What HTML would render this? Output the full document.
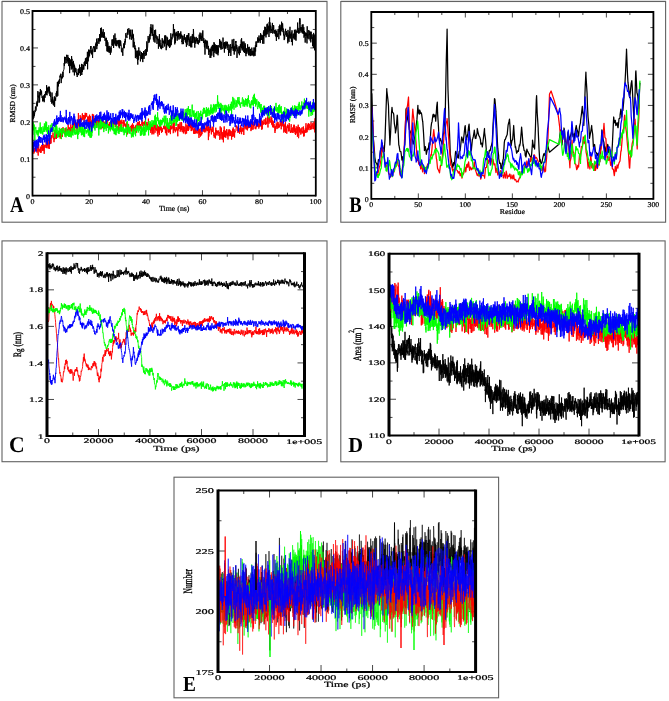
<!DOCTYPE html>
<html><head><meta charset="utf-8"><title>Figure</title>
<style>
html,body{margin:0;padding:0;background:#fff;}
svg{display:block;will-change:transform;filter:blur(0.3px);}
text{font-family:"Liberation Serif", serif;text-rendering:geometricPrecision;stroke:#000;stroke-width:0.22px;}
text[font-weight=bold]{stroke-width:0;}
</style></head>
<body>
<svg width="669" height="701" viewBox="0 0 669 701">
<rect width="669" height="701" fill="#fff"/>
<rect x="2" y="0" width="325.5" height="1" fill="#e6e6e6"/>
<rect x="341" y="0" width="325" height="1" fill="#e6e6e6"/>
<rect x="2.0" y="1.5" width="325.0" height="220.7" fill="none" stroke="#626262" stroke-width="1.1"/>
<rect x="340.8" y="1.5" width="324.8" height="220.7" fill="none" stroke="#626262" stroke-width="1.1"/>
<rect x="2.0" y="240.9" width="325.0" height="220.79999999999998" fill="none" stroke="#626262" stroke-width="1.1"/>
<rect x="340.8" y="240.9" width="324.3" height="220.9" fill="none" stroke="#626262" stroke-width="1.1"/>
<rect x="174.0" y="477.2" width="324.6" height="220.59999999999997" fill="none" stroke="#626262" stroke-width="1.1"/>
<path d="M60.83,195.7v-3M60.83,11.0v3M89.16,195.7v-5.5M89.16,11.0v5.5M117.49,195.7v-3M117.49,11.0v3M145.82,195.7v-5.5M145.82,11.0v5.5M174.15,195.7v-3M174.15,11.0v3M202.48,195.7v-5.5M202.48,11.0v5.5M230.81,195.7v-3M230.81,11.0v3M259.14,195.7v-5.5M259.14,11.0v5.5M287.47,195.7v-3M287.47,11.0v3M32.5,177.23h3M315.8,177.23h-3M32.5,158.76h5.5M315.8,158.76h-5.5M32.5,140.29h3M315.8,140.29h-3M32.5,121.82h5.5M315.8,121.82h-5.5M32.5,103.35h3M315.8,103.35h-3M32.5,84.88h5.5M315.8,84.88h-5.5M32.5,66.41h3M315.8,66.41h-3M32.5,47.94h5.5M315.8,47.94h-5.5M32.5,29.47h3M315.8,29.47h-3" stroke="#333" stroke-width="0.9" fill="none"/>
<path d="M33.00,118.2l.2,1.0.2-2.3.2-6.0.2,6.8.2-1.9.2-3.7.2,3.7.2-1.8.2-1.4.2-2.2.2,1.5.2-5.2.2,1.5.2-1.5.2,3.9.2-2.8.2-1.7.2-3.5.2,.4.2,.2.2-2.3.2,5.4.2-2.3.2-12.9.2,.8.2,5.0.2-1.2.2,1.8.2-1.3.2,6.5.2-10.5.2,2.6.2,7.4.2-5.5.2-1.0.2-3.8.2-2.9.2,6.1.2-.9.2-4.0.2,2.8.2,.7.2-2.3.2,4.8.2,1.4.2,.4.2-1.5.2,4.6.2,.4.2-2.3.2-3.4.2,5.1.2-3.7.2,3.7.2-5.7.2,7.0.2-3.6.2-4.5.2,3.8.2,.0.2-.3.2-5.3.2-1.0.2,3.6.2-2.5.2,1.6.2,.6.2-9.4.2,7.1.2,3.0.2-4.1.2-3.6.2,4.9.2-.6.2-.5.2-.7.2-4.0.2,4.5.2-1.3.2,3.4.2,.3.2-6.9.2,1.7.2,7.4.2,.3.2-4.4.2,3.3.2,2.4.2,1.4.2,3.2.2-.1.2-.6.2-1.7.2,4.1.2-11.2.2,8.4.2,.8.2-4.5.2,5.6.2-3.2.2,5.1.2-3.3.2,1.9.2,2.2.2-3.5.2-4.0.2-1.6.2,10.5.2-6.8.2-2.7.2,1.9.2-1.4.2,2.8.2-3.3.2-1.3.2-3.2.2,3.3.2-4.9.2,4.2.2,1.2.2-10.7.2-4.0.2,8.4.2,5.4.2-13.8.2-.6.2,5.0.2-5.7.2,1.2.2-1.0.2,2.9.2-4.6.2,1.5.2-2.3.2-2.7.2,1.6.2-2.5.2,2.3.2-3.4.2,.2.2,9.2.2-4.8.2-1.4.2,2.2.2-3.0.2-.3.2,2.2.2-.2.2-6.0.2,5.3.2-5.6.2-.2.2-1.1.2-.7.2-.3.2-6.2.2,2.9.2-9.1.2,4.4.2,2.4.2-4.0.2-2.6.2,1.5.2,1.1.2-.5.2,4.1.2-6.3.2-2.1.2,2.5.2,.7.2,1.6.2,.5.2,1.4.2-6.6.2,8.7.2-3.7.2-2.5.2,6.3.2,2.4.2-2.6.2-1.4.2-4.1.2,15.1.2-5.9.2-7.2.2,1.5.2,3.6.2-5.6.2,6.5.2-2.3.2,5.8.2-.8.2-12.6.2,8.0.2-5.2.2,9.8.2-2.6.2,.9.2-5.0.2,10.3.2-.1.2-11.3.2,6.0.2-3.4.2,3.6.2-2.3.2,10.6.2-9.6.2,2.8.2,3.5.2-4.3.2,2.5.2-.2.2,2.1.2-3.8.2,3.3.2,1.4.2-1.1.2,2.8.2-1.5.2,3.7.2-4.0.2,.8.2-1.0.2-.2.2-3.5.2,6.0.2-6.5.2,.8.2,3.7.2,.0.2-2.0.2-6.4.2,8.4.2-1.1.2-4.9.2,8.7.2-5.2.2-.7.2,3.3.2-2.4.2,.3.2-7.2.2,11.1.2-8.2.2-2.4.2,7.5.2-3.4.2,1.6.2-3.1.2,.7.2,.8.2-3.6.2,4.7.2-4.4.2-3.0.2,2.3.2,.5.2-1.3.2-2.8.2,5.2.2-7.5.2,2.1.2,2.9.2-5.7.2,3.4.2-.7.2,3.3.2-6.5.2,.7.2,2.8.2-9.1.2,17.5.2-13.4.2-.1.2,5.6.2-5.2.2-6.6.2,7.8.2-.1.2-6.4.2,2.8.2,2.1.2-6.0.2,3.6.2-1.4.2-2.6.2-3.2.2,2.7.2-2.9.2,6.2.2-1.6.2,3.8.2-2.8.2,.8.2-3.0.2,5.3.2,3.2.2-8.4.2-1.6.2,.0.2-1.1.2-.4.2,1.4.2-1.6.2,5.9.2-4.3.2,1.7.2,2.2.2-5.2.2,5.3.2-6.6.2-1.5.2,1.1.2,1.5.2-4.0.2,2.5.2-6.1.2,10.5.2-5.5.2,2.2.2-4.2.2,.8.2-.2.2-3.3.2-.9.2,2.4.2-1.6.2,5.0.2-.2.2-4.7.2,2.3.2-7.2.2,5.9.2-3.1.2,1.3.2,3.1.2-13.2.2,8.2.2-4.9.2,6.0.2-9.8.2,6.6.2,1.8.2,1.5.2-2.1.2-3.2.2-.4.2,5.3.2-3.2.2-4.7.2,8.7.2-2.5.2,1.2.2-2.8.2,4.0.2-5.5.2,5.9.2-1.7.2,4.3.2-.7.2-1.7.2,2.2.2,.3.2,5.2.2-1.5.2-6.8.2,6.8.2,2.9.2,3.8.2-11.0.2,3.8.2,7.4.2-9.3.2,1.6.2,6.2.2,1.7.2-5.4.2,3.9.2-1.9.2,4.6.2-4.7.2,3.2.2-5.5.2,3.4.2,1.1.2,4.3.2-1.9.2-5.3.2,5.1.2-1.1.2-3.9.2-1.4.2-.5.2-6.2.2,5.4.2,.2.2-4.8.2,5.5.2-6.7.2,2.7.2-1.8.2,8.0.2-12.7.2,7.2.2,.3.2-1.4.2,2.1.2-6.4.2-3.6.2,11.9.2-7.2.2,1.9.2-2.2.2,8.0.2-.9.2-4.6.2,5.8.2-3.6.2-1.1.2,.4.2-.8.2,3.0.2-3.9.2,.3.2,5.2.2-5.4.2,3.0.2,.4.2,3.7.2-7.5.2,8.4.2-5.4.2-.6.2-1.9.2,5.5.2-1.1.2-4.2.2,.7.2,2.0.2,1.4.2,6.7.2,.8.2-1.1.2-1.4.2-1.5.2,2.2.2,2.8.2,2.6.2-4.4.2-3.7.2,.4.2-2.9.2-1.9.2,4.4.2-3.5.2,4.0.2-6.9.2,3.4.2,.1.2-6.0.2,3.5.2-3.7.2-5.4.2,3.2.2,.2.2-.9.2,.8.2,.9.2,.6.2-5.4.2,1.8.2-5.5.2,5.2.2,.6.2-1.5.2,.0.2-.4.2-4.6.2,.7.2,2.2.2,.8.2-1.3.2,8.7.2-9.3.2,4.6.2,1.8.2-5.1.2-1.7.2,.1.2,5.5.2,4.6.2-3.4.2-.5.2-1.2.2,3.8.2-8.8.2,8.3.2-.2.2-4.0.2,13.6.2-12.7.2,4.2.2-.2.2,8.3.2-5.1.2,5.8.2,1.4.2-.1.2-3.6.2,3.6.2,9.1.2-10.0.2,1.9.2,2.8.2,2.9.2-.8.2,2.3.2-6.4.2,8.2.2,.2.2-8.5.2,10.8.2,3.1.2-10.2.2,1.8.2,3.4.2-10.0.2-2.2.2,2.3.2,2.3.2,.1.2,3.5.2-1.4.2-3.4.2,5.7.2,4.9.2-2.1.2-.6.2-3.8.2,3.7.2-6.6.2,6.4.2-1.5.2,.8.2,1.5.2-6.1.2,4.2.2,4.8.2-8.1.2,1.5.2-1.3.2-3.2.2,7.6.2,.4.2-1.0.2-3.1.2-1.9.2,.1.2-3.0.2,4.8.2,.8.2-1.0.2-5.6.2,.5.2-.5.2,6.2.2-6.0.2-7.9.2,6.8.2,3.5.2-4.1.2,.2.2-3.8.2-7.9.2,.0.2,1.3.2,4.2.2,1.2.2,.1.2-5.0.2,3.7.2-5.4.2-1.9.2,5.1.2-6.0.2-6.3.2,5.1.2,3.9.2-11.9.2,8.9.2,.2.2-4.0.2-1.5.2,2.4.2-1.5.2,7.1.2-4.3.2-6.9.2,3.7.2,6.2.2,5.1.2-5.5.2,.3.2,7.3.2-6.6.2-.9.2-4.1.2,3.1.2,9.4.2-11.4.2,4.2.2-5.7.2,5.5.2,2.9.2-2.7.2,3.8.2-.4.2-.2.2,5.3.2-2.7.2-3.7.2-.5.2-.6.2,3.7.2-1.3.2,9.9.2-2.7.2-6.6.2-.1.2,7.3.2-12.4.2,5.9.2,5.4.2-5.7.2,2.7.2,1.6.2,4.2.2-.9.2,.9.2-.7.2-2.0.2,3.6.2-6.4.2-2.9.2-1.7.2,.9.2,4.4.2,4.5.2-2.6.2-2.7.2-1.9.2,2.3.2,.3.2-.7.2-3.1.2,2.0.2,4.9.2-10.9.2,5.8.2-6.0.2,8.2.2-3.4.2-4.5.2,8.0.2,6.5.2-6.3.2,3.8.2-3.6.2-7.3.2,8.4.2-3.6.2-3.8.2,7.1.2-.3.2-3.3.2,5.0.2-5.9.2,5.5.2-5.8.2,1.3.2-1.9.2,8.4.2-4.6.2,3.8.2-7.3.2,1.2.2,4.6.2-12.3.2,5.1.2,6.7.2-3.0.2,.0.2-4.8.2,2.0.2-2.9.2-1.7.2-.9.2,2.9.2,.7.2-2.0.2-11.2.2,4.4.2,4.1.2,3.0.2-2.6.2,.3.2-4.3.2,15.3.2-10.6.2,9.2.2-1.0.2-5.4.2-3.4.2,2.3.2-3.7.2,3.9.2-1.5.2,2.2.2,1.1.2,3.2.2-7.2.2,4.7.2-6.8.2,.0.2,.8.2-1.2.2,6.6.2,.3.2,1.7.2-5.3.2,1.3.2-2.2.2,.1.2,5.0.2-.3.2-5.3.2,5.6.2-7.1.2,5.1.2-.6.2,1.3.2-2.6.2,7.4.2-1.3.2,3.5.2-3.1.2-5.3.2,3.3.2-3.4.2,5.6.2,2.8.2-2.8.2-2.9.2,.3.2,.9.2-5.5.2,5.2.2,.1.2-.7.2,1.3.2,2.0.2-4.2.2-.6.2,5.9.2-1.1.2,4.8.2-5.7.2-5.8.2,9.9.2-1.2.2-9.0.2,1.2.2,5.5.2-5.6.2,3.9.2-6.6.2,5.7.2-6.0.2,6.6.2,6.4.2-6.6.2,2.9.2-3.6.2-.7.2-.9.2,8.7.2-4.8.2,6.2.2-11.2.2,5.2.2-.3.2,5.0.2,1.3.2-8.2.2-3.4.2-1.5.2,8.9.2-5.0.2-.9.2,1.1.2-9.3.2,3.1.2,10.6.2-.6.2-5.3.2,1.0.2,5.8.2,4.1.2-10.0.2,3.6.2-1.0.2,3.3.2,.3.2-.3.2-6.7.2,4.2.2-1.8.2,1.6.2-.9.2,2.5.2-4.3.2,1.0.2,4.7.2-3.9.2,.5.2,3.9.2-3.1.2-1.4.2-.2.2-5.1.2,5.4.2,2.6.2-3.3.2-6.7.2,6.7.2-3.7.2,1.9.2,1.2.2-5.4.2,7.7.2-5.2.2,3.4.2-.3.2,2.0.2-.1.2-8.4.2,5.6.2-7.6.2,6.1.2,4.1.2,.8.2,1.6.2-4.9.2,3.8.2,.3.2,4.4.2,.8.2-6.8.2,14.0.2-12.0.2-2.9.2,3.9.2-.3.2-.2.2-2.6.2,7.0.2-5.8.2,6.5.2,.9.2-8.4.2,2.1.2-.4.2,5.2.2,.6.2,1.2.2-3.5.2,5.1.2,4.0.2-6.5.2,1.4.2,1.9.2-1.3.2,.5.2,6.8.2-1.6.2-2.2.2-5.3.2,9.2.2-6.6.2-4.4.2-.3.2,.0.2,9.0.2-6.4.2,.0.2-4.3.2,6.3.2-6.0.2-.2.2,5.6.2-4.9.2,5.6.2,5.8.2-15.0.2,5.9.2-4.8.2,5.9.2,3.7.2-8.7.2,7.0.2-2.6.2-2.9.2,4.4.2,3.6.2-8.5.2,5.0.2-4.9.2,9.0.2-3.7.2-1.7.2,4.9.2-8.3.2,3.6.2,6.3.2-7.1.2,4.3.2-4.0.2-3.4.2,1.5.2,.8.2-1.9.2-6.4.2,4.3.2-2.0.2,5.1.2,.7.2,1.0.2-7.5.2,9.0.2-2.6.2-5.1.2,4.8.2,1.8.2,.1.2-.5.2,.9.2-.2.2-3.3.2-8.0.2,4.0.2,4.5.2-3.2.2,4.6.2,.8.2-2.2.2,6.5.2-10.6.2,6.1.2-4.2.2-1.7.2,5.9.2-4.4.2,5.1.2-7.4.2,4.6.2-3.3.2,2.2.2-1.0.2-1.5.2,5.3.2-5.9.2,1.3.2,6.9.2-.2.2-.2.2-.3.2,6.7.2-11.6.2,1.5.2-.4.2,5.9.2-1.6.2,3.1.2-1.3.2-5.6.2-1.7.2-.3.2,12.0.2-3.9.2-1.4.2-3.8.2,.6.2-.7.2-.4.2-6.9.2,8.8.2-.9.2-3.0.2,4.8.2,1.6.2-3.8.2,3.4.2-11.5.2,5.9.2,9.8.2-8.0.2,1.0.2,4.2.2-5.5.2,4.7.2-7.7.2-2.0.2,1.4.2-1.7.2,6.2.2-2.5.2,4.5.2-4.1.2,12.8.2-8.0.2-.1.2,1.3.2-2.3.2-1.4.2,2.5.2,3.5.2-1.4.2,1.0.2-6.0.2-1.1.2,9.3.2-8.1.2,2.4.2,.8.2,2.7.2-8.8.2,2.0.2,.9.2-.9.2-6.7.2,8.5.2-9.8.2,10.8.2,.5.2,1.0.2-8.1.2,7.1.2-8.0.2,.5.2,2.1.2,1.4.2,4.1.2,2.4.2-10.5.2,6.2.2,5.3.2-3.0.2,.2.2-7.1.2,9.2.2-7.7.2,6.9.2,3.3.2,1.4.2-3.8.2,1.2.2-4.7.2-.7.2,5.4.2-4.0.2-.7.2-4.6.2,4.4.2,3.0.2-4.6.2,.2.2,8.0.2-4.6.2-1.0.2-2.9.2,1.4.2,.9.2,6.0.2-6.0.2,7.0.2-7.2.2,2.7.2,4.2.2-3.1.2-1.5.2,2.4.2,1.7.2-7.7.2,4.2.2-.4.2,.0.2,4.0.2-4.6.2,1.1.2,1.2.2,1.6.2-3.3.2,4.9.2-8.8.2,7.8.2-7.5.2,1.2.2,1.3.2,5.6.2-5.0.2-5.6.2,6.2.2-6.3.2-3.7.2,3.6.2-.5.2,2.4.2-5.4.2,.8.2-.2.2-1.0.2-2.1.2-1.8.2,5.5.2-2.6.2,2.0.2-3.6.2,.6.2-3.7.2,3.7.2,1.1.2-1.6.2,2.6.2-2.1.2,3.9.2-5.7.2-4.3.2,6.8.2-1.8.2-3.5.2,5.2.2-1.2.2-.1.2-3.1.2,1.7.2,.9.2,5.6.2-8.3.2,1.9.2,1.3.2-6.8.2-.2.2,12.3.2-13.7.2,6.0.2-5.4.2,.1.2-4.1.2,2.9.2,5.8.2-8.3.2,6.1.2-.3.2,4.5.2-8.7.2,5.7.2-1.4.2-4.4.2-4.3.2,10.0.2-10.6.2,3.5.2,3.9.2,1.2.2-6.6.2,2.4.2-.9.2,4.9.2,4.9.2-15.1.2,9.3.2-13.7.2,9.8.2-4.9.2,10.8.2-6.2.2-1.5.2,1.6.2-.3.2,3.3.2-.9.2,2.1.2,1.7.2-1.8.2-6.0.2-2.3.2,3.7.2,7.1.2-5.0.2-.3.2,1.8.2-5.1.2,1.4.2,6.4.2-2.3.2-.2.2,3.2.2-3.4.2,.8.2,.6.2,4.2.2-1.8.2-4.4.2,7.3.2-.8.2,4.8.2-9.9.2,4.2.2-2.0.2,3.4.2-2.1.2,2.6.2-3.2.2-4.0.2-.9.2,3.2.2,.1.2,6.9.2-3.2.2-10.0.2,6.2.2-6.3.2-1.3.2,9.7.2-.7.2-5.9.2,7.7.2-8.7.2-1.5.2,6.2.2-1.9.2-7.8.2,7.2.2,.9.2-.6.2,.3.2-6.2.2,2.2.2,6.6.2-3.6.2,4.7.2,2.2.2-4.2.2,2.5.2,6.4.2-5.2.2,4.2.2-1.9.2-2.1.2-3.4.2-2.1.2-.8.2,5.8.2,.4.2-2.0.2,3.6.2-5.6.2,4.9.2-2.3.2,.4.2-.5.2,1.3.2,8.5.2-13.4.2,6.6.2,3.8.2-1.2.2-4.2.2,7.0.2-9.7.2-.8.2,6.2.2-7.2.2-3.6.2,11.8.2-.9.2,.2.2-3.9.2,2.2.2-3.7.2,9.5.2-3.7.2,.0.2-8.0.2,8.4.2,6.6.2-6.0.2-.2.2-3.8.2-1.2.2,3.7.2-1.4.2-.6.2-2.4.2,6.0.2-9.6.2,4.4.2-2.1.2,5.6.2,1.9.2-4.9.2,2.2.2-7.3.2,11.1.2-6.8.2-2.7.2,.7.2-1.2.2,1.7.2,.5.2-2.4.2-7.9.2,7.9.2,1.7.2-.4.2-1.9.2,1.9.2,1.9.2-5.8.2,5.2.2-11.5.2-3.2.2,5.5.2-5.5.2,4.2.2,8.0.2-.9.2-2.5.2,5.5.2-4.0.2-1.4.2,2.1.2-1.4.2,3.9.2-7.2.2,8.8.2-5.8.2,3.8.2-7.2.2,5.2.2,1.6.2,2.7.2-6.6.2,10.5.2-3.3.2-3.4.2,5.1.2-2.3.2,3.6.2,5.2.2-6.2.2-3.9.2,.2.2,3.0.2,.0.2-2.8.2,.3.2,5.0.2,5.2.2-17.1.2,11.4.2-3.1.2,4.0.2-.2.2-1.9.2-2.9.2-1.3.2-2.3.2,9.3.2-4.5.2-1.2.2,1.4.2-3.9.2,6.0.2,3.8.2-.2.2-8.7.2,10.4.2-6.4.2-4.3.2,3.0.2,1.1.2,3.1.2-4.0.2-.5.2,4.5.2,7.2.2-8.8.2,4.1.2-1.5.2,8.1.2-15.1.2,10.3.2-8.0.2,3.2.2,1.1.2,10.8.2-13.0.2-3.0.2,11.4" fill="none" stroke="#000" stroke-width="1.0" stroke-linejoin="bevel"/>
<path d="M33.00,149.6l.2-1.4.2-.7.2-5.3.2,11.5.2-1.9.2-3.4.2,3.9.2-1.2.2-2.6.2,2.6.2-2.4.2-.3.2-2.5.2,3.7.2-.4.2,1.6.2-3.9.2,3.6.2-2.5.2,4.7.2-1.3.2-1.2.2,.2.2-4.0.2,6.4.2,2.8.2-10.4.2-1.2.2,.2.2,6.4.2-1.7.2,2.4.2,.3.2-1.3.2,.4.2-.6.2,2.8.2-6.2.2,.6.2,1.9.2,3.5.2-6.1.2-1.6.2-.1.2,4.2.2-2.5.2,4.0.2-8.5.2,8.1.2,.7.2-6.7.2,4.0.2,2.2.2-4.3.2,3.4.2,4.3.2-6.6.2-1.2.2-1.3.2,3.3.2-2.6.2,.4.2-.8.2,1.6.2-4.7.2-1.3.2-2.6.2,9.9.2-2.8.2,3.2.2-4.1.2-2.3.2,4.2.2-2.6.2-5.3.2,3.4.2,6.9.2-4.1.2-.3.2-1.6.2-2.0.2,8.5.2-7.2.2-2.9.2,1.7.2-2.6.2,3.0.2,2.8.2-5.4.2,5.0.2-5.8.2,.9.2-3.3.2,2.6.2,.4.2-.7.2-1.3.2-.4.2-1.5.2-1.8.2,3.0.2,1.8.2,1.2.2-.9.2,4.6.2-6.1.2-2.3.2,5.7.2-9.4.2,5.9.2-3.9.2,4.1.2-5.1.2,7.6.2-4.0.2-3.1.2,7.4.2-2.4.2-2.3.2-1.9.2,1.1.2-.2.2,2.0.2,.2.2-3.4.2,.0.2,.7.2-1.7.2,1.2.2,2.5.2,.8.2,1.3.2-5.5.2,1.9.2-2.1.2,7.4.2-6.0.2,1.5.2-3.9.2,.1.2,3.3.2-2.1.2,1.9.2-5.1.2,6.4.2-3.7.2,5.8.2-6.8.2,3.7.2-6.6.2,4.3.2-3.2.2,1.6.2,1.7.2,.1.2,.7.2,1.3.2,.9.2-1.8.2-4.4.2,1.5.2,2.3.2-4.1.2,7.8.2-6.6.2,3.0.2,2.8.2-.2.2-2.1.2-3.6.2,2.2.2,1.1.2-3.5.2,5.5.2-2.5.2-7.5.2,6.9.2-4.0.2,6.1.2-.5.2-4.8.2-.7.2,2.1.2-.7.2,4.9.2-1.7.2-3.0.2,2.2.2-6.8.2,6.0.2,1.1.2-3.0.2-1.3.2,3.6.2,3.5.2-6.1.2-2.5.2,7.1.2-8.9.2,5.4.2-2.3.2,2.8.2-3.5.2,4.3.2-2.4.2-5.0.2-2.1.2,4.8.2,4.4.2-3.7.2,.0.2-1.4.2,2.6.2-1.9.2,.2.2-3.2.2,6.0.2-.2.2-6.3.2,10.6.2-4.9.2-3.2.2-5.4.2,7.0.2,.0.2-4.1.2-9.4.2,12.5.2-4.8.2,.2.2,9.0.2-2.9.2-3.3.2-4.2.2,3.1.2-7.4.2,6.2.2-3.2.2-.9.2-.7.2,5.2.2-2.7.2-.5.2,1.8.2-.5.2-5.4.2-1.2.2,3.6.2,2.8.2-2.0.2,2.0.2-4.7.2,2.6.2-.1.2-1.8.2,8.2.2-3.6.2-5.0.2,.4.2,1.8.2-4.7.2,5.7.2-4.9.2,2.6.2-1.2.2,1.9.2-2.1.2-1.8.2,2.3.2,.6.2,.4.2,.0.2,5.3.2-1.6.2-2.5.2,3.3.2-3.8.2,5.0.2-1.7.2-4.4.2,6.1.2,1.1.2-8.4.2,4.5.2,.3.2-3.4.2,2.3.2,.3.2,4.4.2-.2.2,5.8.2-8.2.2,3.6.2-3.0.2-.2.2-4.9.2-2.1.2,3.1.2,5.0.2,.5.2,.4.2,.0.2-8.4.2,10.3.2-.5.2-5.1.2,1.7.2-2.3.2,7.8.2-3.0.2-2.4.2,1.6.2-.2.2-2.0.2-1.4.2-.4.2-1.2.2,6.4.2,4.2.2-10.3.2,5.4.2,1.3.2-3.1.2,3.5.2-3.4.2,5.2.2-6.6.2,1.6.2,2.8.2-2.7.2-5.0.2,3.5.2,4.1.2-3.2.2,1.6.2-3.9.2,4.3.2,1.9.2,.3.2,4.1.2-5.5.2-3.2.2-.6.2,7.6.2-2.8.2,2.9.2-2.4.2,2.8.2-1.7.2-4.9.2,2.1.2,3.1.2-5.6.2,7.5.2-1.0.2-.3.2-3.8.2,1.5.2-3.3.2,3.0.2-2.1.2,1.6.2-1.2.2,1.9.2,1.6.2-6.9.2,5.6.2-6.7.2-.4.2,4.6.2,.7.2,1.8.2-5.4.2,4.1.2,.6.2,3.3.2-3.1.2,1.8.2-2.7.2,1.6.2,.1.2,2.7.2-5.9.2-.4.2,2.6.2,2.4.2-2.7.2-.4.2-1.2.2,3.4.2-1.3.2,2.7.2-3.0.2-3.5.2,.9.2-1.1.2,.7.2,7.0.2-.8.2-6.5.2,7.6.2-3.9.2-4.4.2,4.6.2-1.1.2-1.9.2-3.3.2,5.2.2,.3.2-6.8.2,8.8.2,.8.2-3.3.2,.8.2-.3.2-2.4.2,2.6.2,3.3.2-7.0.2,3.6.2-.3.2-2.4.2,.6.2-3.1.2,2.0.2,2.0.2,.8.2-4.7.2,10.9.2-10.8.2,2.7.2-.4.2-.6.2,4.9.2-4.6.2,5.4.2-.5.2-5.9.2,5.5.2-4.8.2,10.4.2-8.2.2-1.5.2-2.1.2,1.4.2,1.7.2-.6.2,.0.2,1.8.2,.3.2,4.6.2-8.5.2,3.5.2-1.6.2-2.1.2,.8.2,.6.2,4.0.2-2.1.2-.1.2,3.4.2,.0.2-2.0.2,2.3.2-3.2.2,3.4.2-.5.2-2.7.2-2.1.2,7.2.2-2.8.2,8.0.2-11.1.2,4.6.2-3.0.2,1.9.2,2.4.2-4.9.2,1.6.2,2.0.2-.1.2,1.8.2,1.5.2-.2.2-1.5.2-1.8.2-1.4.2,.7.2,.6.2,3.7.2-3.1.2-3.3.2,6.6.2-4.2.2,.2.2,.3.2,6.7.2-11.0.2,2.3.2,1.7.2-1.4.2-1.1.2,1.4.2,5.8.2-5.0.2,3.4.2,.3.2-3.4.2,2.3.2-2.7.2-.1.2-1.3.2,5.0.2-2.9.2-1.1.2-1.8.2,7.9.2-4.1.2-2.5.2-.9.2-1.8.2,4.1.2-.5.2-5.2.2,7.0.2-.9.2-5.6.2,1.6.2,.5.2,1.7.2-1.1.2-4.0.2,7.4.2-2.7.2,2.9.2,.0.2-4.5.2,2.4.2,1.9.2-1.2.2-2.2.2-1.0.2,.1.2-1.7.2,1.2.2-3.4.2,5.7.2-3.4.2,1.0.2,1.7.2,3.7.2,1.8.2-4.8.2-4.0.2,2.7.2-1.6.2,2.6.2-4.2.2,.6.2,.1.2,.3.2-2.3.2,2.3.2,1.1.2,3.4.2-5.0.2,.4.2,2.9.2,.5.2,1.7.2-2.3.2-1.1.2,2.7.2,1.4.2-6.1.2,2.1.2-5.5.2,4.4.2-.1.2,1.9.2-.7.2,1.8.2-.2.2,1.6.2-.2.2-1.9.2-1.1.2,7.4.2,1.4.2-5.4.2,3.1.2-6.5.2,.3.2,4.3.2,5.8.2-8.1.2,.2.2,6.8.2-10.3.2,7.1.2-.2.2-2.3.2,.6.2,6.0.2-9.8.2,3.0.2,.3.2,.5.2-3.0.2,7.5.2-3.3.2-6.2.2,3.2.2,3.5.2,.1.2-5.2.2,4.2.2,1.2.2,.7.2,.2.2-6.6.2,9.2.2-4.6.2,4.5.2,2.8.2-7.4.2-2.8.2,6.3.2-2.9.2-1.3.2-1.1.2,7.5.2-6.4.2-3.0.2,4.3.2-4.3.2,4.3.2-1.6.2-1.8.2,4.3.2-3.7.2,5.2.2,.9.2-4.7.2-.3.2,2.3.2,1.6.2-2.7.2-.6.2,.3.2,.2.2-.6.2-2.7.2,1.1.2,1.7.2-2.3.2,3.0.2-3.4.2,.8.2-1.2.2,.2.2,7.3.2-1.1.2-5.1.2,.4.2,7.0.2-.6.2-4.0.2,5.8.2-11.7.2,3.9.2,1.2.2-6.7.2,3.1.2,4.8.2,2.0.2-4.9.2,3.1.2,2.6.2-5.4.2-2.0.2,4.4.2-1.9.2,4.2.2-3.1.2-2.8.2,7.9.2-8.9.2,2.0.2,.8.2-.4.2-.2.2,1.9.2-6.6.2-.2.2,4.2.2,1.0.2,.8.2-.2.2-2.2.2,7.1.2-.3.2-10.5.2,6.3.2-1.3.2-5.1.2,8.2.2-2.2.2,.1.2-1.3.2,5.2.2-.4.2-2.2.2,.7.2-1.5.2,.0.2-1.5.2,2.3.2-2.2.2,2.4.2,1.3.2-1.8.2,1.8.2,5.1.2-12.4.2,6.6.2-2.5.2-.8.2-3.1.2,4.6.2,.0.2-2.0.2,2.1.2-1.0.2-5.4.2,9.3.2-3.2.2-1.8.2,3.3.2-3.1.2-4.9.2,8.3.2-7.8.2,4.6.2,.6.2,4.4.2-1.4.2-1.6.2-3.1.2,.5.2,4.4.2,2.5.2-3.4.2-3.5.2,5.8.2-5.5.2,.8.2,.0.2,3.4.2-.9.2,3.6.2,.5.2-3.0.2-7.8.2,1.0.2,4.7.2-.4.2,4.9.2-5.9.2-2.6.2,5.7.2-.1.2-4.3.2,2.3.2-5.0.2,.8.2,6.4.2-7.6.2,6.4.2-1.1.2-1.3.2-.1.2-1.7.2-6.6.2,3.0.2,1.6.2,4.6.2-4.4.2,1.3.2,1.0.2,5.1.2-6.2.2,.3.2,5.6.2-7.5.2,6.2.2-3.0.2-2.8.2,3.2.2-1.5.2,4.7.2,.3.2,3.3.2-4.2.2,1.1.2-2.1.2,2.7.2,2.6.2-6.1.2,5.9.2-3.6.2,2.1.2,.5.2,.8.2-2.2.2-1.5.2,3.1.2-1.3.2-.3.2,.5.2,1.9.2-2.8.2-.3.2-3.8.2,2.9.2-6.4.2,9.6.2-4.5.2,5.7.2,4.0.2-9.2.2,5.7.2-2.4.2-2.6.2-.1.2,4.3.2,2.9.2-3.1.2-5.7.2,.1.2,1.9.2,4.2.2,1.4.2-3.3.2,2.0.2-3.2.2-.6.2-.8.2-4.9.2,5.6.2-.1.2,1.3.2-6.0.2,2.1.2,4.0.2-2.1.2,3.0.2-5.5.2,3.3.2-2.4.2,2.5.2-2.2.2,3.3.2,.9.2-2.5.2-6.3.2,6.9.2-1.0.2-2.9.2,.5.2,3.6.2,.4.2-2.6.2-2.9.2,5.6.2-.9.2,9.9.2-13.8.2,10.3.2-3.1.2-4.9.2,4.2.2-3.9.2,2.4.2-4.2.2,2.9.2-3.9.2-1.0.2,4.4.2-.7.2,3.4.2,2.2.2-5.0.2,.3.2,1.1.2-4.1.2,5.4.2-1.2.2-.3.2-2.3.2-1.2.2,4.9.2,1.0.2,3.0.2-.5.2,2.2.2-2.9.2,1.8.2-4.0.2,1.3.2,.1.2,4.5.2-3.1.2-7.7.2,7.4.2-5.1.2,3.0.2-.6.2-1.9.2,4.9.2-1.6.2-2.7.2,1.4.2-1.5.2,2.6.2-3.3.2,1.0.2,1.1.2,1.6.2,1.9.2-4.0.2,1.6.2,1.6.2,4.8.2-2.7.2-10.8.2,6.2.2,.9.2,2.6.2,2.6.2-2.6.2-8.5.2,7.0.2,.6.2,1.5.2,3.0.2-6.1.2,5.5.2-7.2.2,4.2.2,.1.2,6.1.2-9.5.2-2.8.2,6.0.2-9.6.2,10.8.2-5.9.2,.0.2,5.3.2-2.5.2,2.7.2-6.1.2,7.1.2-6.2.2,3.6.2-4.4.2-1.8.2,3.3.2,.6.2,3.3.2-3.5.2,2.0.2-.6.2,5.4.2-10.0.2,5.7.2-3.0.2,1.7.2-2.2.2,4.5.2-6.7.2,.1.2,2.6.2-2.3.2,6.0.2,.1.2-5.0.2,3.8.2-3.5.2,2.1.2,1.0.2,5.2.2-5.2.2-2.5.2-1.1.2,6.0.2-7.9.2,4.4.2,.8.2-6.6.2,4.7.2,4.3.2-3.7.2-3.7.2,4.5.2-.1.2,4.1.2-6.9.2,.6.2,1.0.2-.8.2-.2.2-.6.2-1.9.2-2.5.2,1.2.2-2.0.2,.7.2,1.2.2,3.0.2,.8.2-4.4.2,4.5.2,1.7.2-1.9.2-4.3.2-1.7.2,6.9.2,.0.2-1.0.2-2.7.2,5.6.2-.8.2-2.9.2-.9.2-3.8.2,6.4.2-2.9.2,3.1.2-.1.2-1.8.2,4.0.2-6.9.2,2.7.2,1.1.2-1.4.2-1.4.2,3.4.2-2.4.2-1.5.2-.2.2,1.4.2,6.0.2-6.4.2-.6.2-1.9.2-.9.2-1.6.2,5.7.2-.5.2-3.9.2-.5.2,3.4.2-.8.2-2.2.2,4.4.2-.8.2-1.0.2,2.2.2-4.3.2,5.1.2-7.1.2,4.0.2,1.1.2-2.2.2,1.6.2-4.6.2-.9.2,2.6.2-.2.2,3.1.2-2.4.2,2.0.2-.5.2-.6.2-1.1.2-1.9.2,1.0.2,6.8.2-10.5.2,5.5.2,2.9.2-2.2.2,3.1.2-2.1.2-3.9.2,1.3.2-2.7.2,5.4.2,1.6.2-5.4.2,2.4.2-2.9.2-2.0.2,3.7.2-3.2.2,2.5.2,1.7.2,1.7.2,.9.2-2.1.2,1.0.2,1.4.2,.1.2-10.4.2,4.4.2,4.0.2-5.6.2,3.7.2,.9.2-5.7.2,5.9.2-.2.2-.4.2-3.5.2,4.6.2-2.7.2,4.3.2-.9.2-3.6.2,2.6.2-2.9.2,1.0.2-3.3.2,2.0.2,2.9.2-1.1.2-.1.2-1.7.2-.5.2,4.0.2-7.4.2,10.2.2-6.6.2,5.7.2-3.4.2-4.7.2,4.3.2-2.0.2,.8.2,.5.2-2.8.2-1.0.2,.6.2-1.9.2,4.5.2,.3.2-.6.2-.2.2-.7.2,2.4.2-7.2.2,4.0.2-.6.2,2.3.2-.3.2,1.1.2-2.2.2,1.2.2-5.5.2,3.8.2-5.3.2,8.2.2,3.0.2-6.8.2-1.4.2-1.7.2,1.9.2,4.2.2-1.1.2-5.3.2,3.5.2-1.7.2,2.1.2,1.1.2-1.1.2,.9.2,.1.2-5.7.2,6.5.2-1.6.2,2.7.2-6.4.2,7.5.2-5.0.2,3.8.2,2.9.2-5.9.2-.2.2,6.9.2-6.1.2,.4.2,5.0.2-3.0.2,3.1.2-.2.2,.0.2,3.0.2,3.1.2-7.2.2,4.9.2-1.7.2-2.1.2,.4.2-4.0.2,.7.2,2.7.2-1.3.2,3.7.2-7.5.2,3.1.2-.8.2,1.5.2,2.9.2-6.1.2,5.5.2-3.5.2,.7.2,2.9.2-2.9.2,2.1.2-1.2.2-2.1.2,.0.2-3.1.2,2.2.2,3.0.2-.1.2-3.5.2,7.1.2-2.0.2-5.2.2-.3.2,4.2.2-5.5.2,3.4.2,1.9.2-.3.2,.4.2,.9.2-2.9.2,.6.2,8.1.2-8.9.2,2.0.2,1.2.2-1.8.2,6.4.2-2.6.2,2.7.2-9.4.2,10.8.2-1.6.2-4.9.2,4.1.2-2.0.2,2.1.2,3.0.2-4.5.2-3.5.2,2.1.2-3.2.2,2.2.2,.4.2-.4.2,4.6.2-1.3.2-4.8.2,5.5.2-7.8.2,2.9.2,.5.2,4.9.2-1.0.2,.3.2,2.3.2-1.8.2,1.8.2-5.7.2-3.0.2,3.3.2,4.6.2-1.0.2,1.2.2-.3.2-1.2.2,1.7.2-4.9.2,5.4.2-5.7.2,2.4.2-4.1.2,5.0.2-6.0.2,7.6.2-6.9.2,6.1.2-1.4.2-1.5.2,5.6.2-5.1.2,6.0.2-6.5.2,1.2.2-3.4.2,6.8.2,.3.2-2.0.2-.2.2-3.6.2,9.1.2-3.3.2-6.6.2,4.5.2-6.6.2,11.9.2,1.6.2-1.7.2-3.2.2-2.2.2-4.0.2,5.3.2-3.5.2,.5.2-.9.2,.7.2,2.3.2,3.1.2-4.1.2,1.4.2-3.3.2-.3.2-.7.2,5.9.2-2.6.2,2.2.2-.9.2-2.0.2-3.0.2,1.7.2-2.4.2,9.9.2-4.0.2-2.1.2,6.0.2-5.6.2,1.8.2-1.8.2,.9.2-3.1.2,1.5.2,2.8.2-7.2.2-2.4.2,9.4.2-3.6.2,2.1.2-3.4.2,3.9.2,.6.2-7.0.2,4.5.2-3.2.2-2.8.2,4.0.2,1.6.2-6.1.2,.6.2,6.4.2-3.3.2,.9.2-3.6.2,1.5.2,2.1.2-.6.2-1.1.2,3.6.2-3.2.2-4.2.2,2.2.2,1.8.2,3.0.2-4.6.2,.8.2,1.2.2-2.6.2-.8.2,2.0.2,3.8.2-2.2.2,1.9.2-2.8.2-3.7.2,6.5.2,.6.2-.6.2-6.2.2,9.8.2-14.1.2,5.1" fill="none" stroke="#f00" stroke-width="1.0" stroke-linejoin="bevel"/>
<path d="M33.00,134.8l.2-12.7.2,8.2.2-3.0.2,1.6.2,.7.2-5.1.2,3.7.2-.3.2,12.4.2-9.0.2-1.8.2-.3.2-1.6.2-.7.2,2.6.2,3.2.2-2.1.2,2.9.2-2.8.2,1.1.2,3.3.2-2.2.2-2.6.2,2.1.2,1.2.2,3.1.2-5.7.2-1.1.2,3.4.2-5.9.2,1.2.2,2.4.2-.6.2-.4.2,2.2.2-9.7.2,11.0.2-4.7.2-1.8.2,6.3.2-.1.2-3.1.2-2.7.2,3.4.2-.1.2,3.4.2-1.7.2-.8.2,3.0.2-8.2.2,1.7.2,3.9.2-.8.2-2.1.2-.8.2,3.2.2-8.1.2,8.4.2-.3.2-6.3.2,3.6.2-4.0.2,5.1.2-8.4.2,4.7.2,4.8.2,.7.2-9.8.2,6.1.2,1.7.2-2.1.2,6.6.2-7.1.2,4.6.2-4.6.2,7.3.2-4.3.2-.6.2-4.2.2,11.0.2-3.2.2,.0.2,3.7.2-5.7.2-3.1.2-.4.2,.4.2,5.7.2-8.9.2,3.3.2,.5.2,1.0.2,1.8.2-4.9.2-3.3.2,4.8.2,4.2.2-.7.2-2.0.2-.4.2,1.0.2-1.7.2,3.1.2-4.7.2,3.3.2-.1.2,1.7.2-.1.2,6.1.2-3.3.2,1.1.2-10.4.2,5.4.2-1.3.2,2.9.2-8.3.2,10.1.2-.7.2-6.8.2,1.4.2,1.2.2,2.4.2,2.0.2,4.5.2-7.5.2,1.6.2-.5.2,5.4.2-3.1.2,1.9.2-7.9.2,1.6.2-1.5.2,5.8.2-1.6.2-3.1.2-.1.2,4.1.2-2.2.2-1.1.2,4.6.2,4.8.2-8.4.2-.6.2-.9.2-1.1.2,5.7.2,.9.2-3.4.2,.9.2,.4.2-.1.2-4.5.2,3.5.2,1.0.2-1.8.2,1.8.2-.2.2,1.9.2,2.6.2-4.4.2,.0.2,2.1.2-1.0.2,3.8.2-10.0.2,7.9.2-3.3.2,.8.2,1.8.2,.1.2-1.1.2-2.2.2,4.6.2-5.6.2,.3.2,2.3.2-3.6.2,7.7.2-2.8.2,2.8.2-5.9.2-.4.2,2.7.2,2.4.2-3.8.2,2.3.2-2.4.2,4.9.2-5.4.2,6.1.2-6.8.2-1.3.2,.7.2-1.9.2,4.1.2,2.7.2-2.8.2,1.5.2,1.9.2-4.4.2-.6.2-.4.2-4.8.2,7.0.2-6.5.2,7.0.2-1.2.2,2.8.2-3.1.2-1.6.2,4.8.2-2.5.2,1.7.2,.2.2-.9.2,.6.2-2.0.2,2.3.2-5.7.2,6.6.2-2.1.2,5.3.2,1.0.2-9.8.2,5.7.2-1.5.2-2.8.2,3.3.2-3.8.2-4.5.2,4.3.2,.8.2,1.0.2-3.9.2,4.7.2-1.1.2-5.2.2,1.4.2,1.9.2-.6.2,6.3.2-4.8.2-5.3.2,1.1.2,2.1.2,6.4.2-6.7.2,.2.2-3.6.2,4.6.2,7.2.2-7.5.2,5.9.2-3.3.2,1.2.2-3.8.2,8.1.2-5.3.2-.1.2-3.3.2-1.3.2,2.6.2,2.5.2,.5.2,.9.2-1.4.2-1.6.2,1.6.2,.6.2-2.9.2,1.9.2-.2.2-1.6.2-1.5.2,4.3.2,2.7.2-5.8.2,.4.2,.0.2,5.4.2-7.5.2,6.9.2,1.7.2-5.7.2,7.0.2-3.0.2-3.3.2,1.9.2-6.2.2,2.6.2,7.7.2-9.1.2,7.7.2-5.3.2,1.8.2-3.1.2-7.9.2,4.4.2,1.4.2-4.4.2-.6.2,5.0.2-2.9.2-4.5.2,4.4.2,4.5.2-4.5.2,3.9.2,2.1.2-4.8.2-3.5.2-.6.2,4.3.2,2.2.2-1.3.2,1.1.2-2.9.2,3.0.2-2.4.2-.5.2-2.6.2-.8.2,3.1.2-1.8.2,2.0.2,4.5.2-2.2.2,8.2.2-5.1.2-5.0.2,3.2.2-3.3.2-3.0.2,6.9.2-6.8.2-7.1.2,11.6.2-3.4.2,5.0.2-6.5.2-.9.2,7.4.2-7.8.2,3.5.2,2.9.2-3.5.2,.0.2-.2.2,2.5.2-3.7.2,4.4.2,.7.2,4.8.2-6.8.2-2.2.2,6.1.2-3.7.2,1.4.2-1.0.2,2.8.2-5.4.2,1.4.2-7.1.2,5.5.2,7.8.2-6.6.2,.9.2-2.2.2,4.6.2-1.7.2-3.3.2,4.6.2-1.8.2,2.7.2-2.6.2,7.9.2-4.9.2-1.5.2-.4.2,.8.2,2.1.2-3.3.2,3.0.2-1.9.2,4.1.2-.9.2-3.5.2-6.1.2,7.1.2,1.3.2-1.1.2,.9.2-2.9.2,.7.2-2.2.2,5.6.2-3.9.2-1.9.2-2.1.2,3.8.2,5.0.2-2.2.2-3.8.2,7.5.2,1.4.2-1.1.2-4.4.2,5.6.2-1.6.2,.6.2-4.9.2,5.9.2-4.5.2,5.5.2-10.8.2,7.1.2,.8.2-3.7.2,2.0.2,.4.2-.7.2-4.4.2,1.4.2,3.4.2,2.5.2-2.7.2-.4.2,.3.2,3.6.2-5.2.2-.9.2,3.8.2-4.8.2,1.2.2,1.9.2,.6.2-3.2.2,4.1.2-7.5.2,7.1.2-5.7.2,2.0.2,4.4.2-3.5.2-1.0.2,1.2.2,2.4.2-1.9.2,.9.2,2.5.2-5.4.2,1.8.2,1.1.2,5.3.2-1.3.2,.1.2-4.4.2-1.0.2,2.8.2-2.5.2,3.7.2-.8.2-4.5.2,1.2.2,1.0.2,4.1.2,3.0.2-8.5.2,.0.2-7.3.2,8.4.2-.3.2-.9.2,4.7.2-7.5.2,4.6.2,1.5.2-4.2.2,4.8.2,1.9.2-6.6.2,.2.2,5.5.2-1.4.2-3.8.2,2.8.2,.4.2,.8.2,2.5.2-1.5.2,4.8.2-1.1.2-2.1.2,.9.2,1.3.2-2.4.2-5.4.2,7.3.2-2.4.2,3.6.2-5.4.2,1.3.2-1.5.2,2.9.2-4.7.2-1.8.2,2.6.2-3.0.2,3.1.2-.9.2,1.0.2,5.4.2-6.6.2,1.7.2-1.5.2,1.0.2-5.3.2,.5.2,1.9.2,2.7.2-1.7.2-1.5.2-1.7.2,4.1.2,2.8.2-4.0.2,.1.2,.3.2-3.5.2,1.7.2,1.1.2,2.3.2-.9.2-3.6.2,7.1.2,2.6.2-5.1.2,1.7.2-.4.2,2.3.2-8.0.2,9.1.2-6.8.2,5.9.2-4.0.2-1.6.2-.1.2,3.0.2-4.5.2,2.5.2-1.5.2-3.9.2,11.4.2-1.9.2-2.2.2,3.4.2-8.4.2,3.6.2,5.1.2-3.3.2-8.6.2-3.8.2,5.9.2,6.5.2-4.2.2,.3.2,2.4.2-5.3.2,2.3.2,2.4.2-.1.2-.1.2-2.9.2,2.7.2-3.1.2,4.2.2,4.7.2-10.2.2-4.2.2,4.8.2,1.1.2,3.2.2-.5.2-6.2.2-.1.2,5.2.2-7.0.2,5.6.2-3.5.2,2.8.2-1.2.2,.9.2,.1.2-6.2.2,4.0.2-.7.2,2.0.2,1.7.2-4.0.2-1.7.2,.1.2,.6.2,2.8.2-4.5.2,4.6.2-4.2.2-1.4.2-3.5.2,4.6.2,1.7.2-7.4.2,9.3.2,1.1.2-4.0.2,.8.2,5.7.2-3.9.2-6.4.2,1.7.2-1.0.2-.1.2-5.7.2,8.7.2-3.3.2,3.6.2-1.2.2,4.2.2-3.0.2-1.3.2,4.0.2,2.7.2-5.0.2,5.1.2-3.4.2-2.8.2,5.9.2-6.7.2,5.9.2-4.4.2,3.0.2-4.2.2,.1.2,5.1.2-2.3.2-.6.2-2.2.2,3.2.2-5.4.2,.0.2,4.2.2-3.0.2,.4.2,1.5.2,.0.2-5.3.2,10.5.2-1.9.2,.7.2-4.2.2,2.7.2-5.6.2,3.1.2-5.4.2,4.3.2,4.2.2,2.4.2-.9.2-1.3.2-2.9.2-3.4.2,9.5.2-7.8.2,2.9.2,5.7.2-4.3.2,5.1.2-5.7.2-.7.2,4.9.2,1.5.2-6.6.2,1.0.2-5.5.2,2.6.2,3.4.2-4.5.2-1.1.2-2.9.2,5.8.2,4.5.2-4.2.2-.9.2-6.0.2,9.3.2-4.8.2-1.5.2,3.4.2-8.4.2,6.2.2-1.1.2,2.0.2,3.3.2-2.6.2-1.8.2-.7.2,2.4.2,1.8.2-9.0.2,1.6.2,6.3.2-.5.2-1.2.2-3.3.2,10.0.2-14.5.2,7.6.2,5.9.2-6.5.2,1.4.2-4.8.2,6.9.2-8.5.2,4.5.2-.9.2-2.3.2,5.8.2-7.1.2,1.0.2,3.2.2-.5.2,2.5.2,1.1.2-3.8.2-1.4.2,1.1.2,.1.2,2.0.2-3.6.2-.1.2-.9.2-3.0.2,7.5.2-4.3.2,2.0.2,4.3.2-7.2.2,3.2.2-5.3.2,4.6.2-4.1.2,3.9.2-1.2.2,1.4.2,3.5.2-4.3.2,.3.2-2.4.2-.3.2-1.6.2-2.1.2,5.9.2,4.6.2-4.6.2-2.6.2,7.0.2-7.2.2-1.3.2-2.3.2,.2.2,2.1.2,6.1.2-5.8.2-3.0.2,1.5.2,1.1.2-4.7.2,6.4.2,1.9.2-.5.2,.7.2-4.9.2-.7.2,8.5.2-1.7.2-6.9.2,5.6.2-.3.2,1.6.2-.9.2,2.1.2-2.7.2-.1.2-.3.2-5.6.2-3.8.2,7.8.2-2.0.2,5.2.2,1.0.2-3.1.2-2.5.2,1.5.2,4.5.2-6.7.2,4.7.2,1.1.2-.6.2,3.8.2-5.5.2,4.7.2-5.6.2,.9.2-.3.2,3.4.2-2.9.2,1.5.2-3.9.2,8.6.2,6.3.2-8.9.2,3.2.2-3.3.2,4.1.2-6.3.2-4.3.2,10.0.2-4.3.2-1.9.2,.4.2-2.1.2,4.2.2-2.1.2,6.6.2-3.0.2-6.1.2,.4.2,2.4.2-4.8.2,5.0.2,.3.2-1.9.2,.0.2,2.6.2,2.8.2-.7.2-4.9.2,3.5.2-4.9.2,1.6.2-4.9.2,4.4.2-5.8.2,.4.2,3.4.2,2.0.2-5.7.2,1.4.2,3.3.2,.2.2-2.5.2,2.3.2-.9.2,5.4.2-2.3.2-4.8.2-2.8.2,7.9.2,1.6.2-3.4.2,2.7.2-4.3.2-2.9.2,4.9.2-.9.2,.4.2-5.5.2,4.8.2-1.7.2,5.1.2-4.7.2-.8.2-.1.2,4.1.2-3.0.2-2.6.2-.7.2-.9.2,7.3.2-10.0.2,2.8.2,3.6.2,2.3.2-4.3.2,.9.2,.6.2,.6.2-3.3.2,6.6.2-4.4.2,2.8.2-8.1.2,6.2.2-6.6.2,.1.2,6.4.2-4.7.2,3.5.2-4.2.2,7.3.2-5.2.2-2.8.2,3.8.2,.8.2-5.2.2,3.3.2,4.3.2-3.9.2-1.4.2-2.3.2,2.7.2-5.7.2-5.7.2,6.5.2-.3.2,7.6.2-4.8.2-2.1.2,.1.2,5.0.2-3.5.2,.3.2,1.9.2,.5.2,1.8.2,.3.2,3.0.2,1.0.2-9.7.2,11.2.2-7.5.2,4.4.2-6.7.2,2.8.2,.6.2,.7.2,1.4.2,.4.2-5.2.2,3.7.2,2.6.2-.6.2-2.6.2,.3.2-.4.2-1.4.2-1.1.2,8.9.2-6.4.2,.0.2-3.2.2,6.0.2,1.9.2-4.5.2,2.1.2-4.0.2,6.4.2-2.4.2-4.9.2,4.6.2-1.4.2,1.0.2,1.3.2-3.8.2,.3.2,3.2.2-2.9.2-3.2.2,8.2.2-6.0.2-.5.2,.6.2,3.6.2-.2.2-1.8.2,2.1.2-6.6.2,4.0.2-1.0.2,1.8.2,.4.2-7.4.2,15.4.2-11.9.2,3.5.2,.2.2-.4.2-1.6.2-10.0.2,4.8.2,5.7.2-3.4.2-1.1.2-4.6.2,11.4.2-4.1.2-4.2.2,2.8.2-.3.2-4.2.2,3.4.2,1.5.2,1.0.2,2.1.2-3.5.2-1.5.2,3.3.2-3.4.2-2.3.2,6.6.2-4.6.2,.3.2,.4.2-5.7.2,5.6.2-.8.2-1.6.2,3.7.2-2.7.2-4.5.2,5.0.2-1.0.2,4.4.2-.9.2-2.1.2,2.4.2,3.0.2-.2.2-3.7.2,.0.2-1.3.2,.8.2,.6.2-1.5.2,1.5.2-4.2.2-2.2.2-.2.2,3.3.2,5.8.2-.1.2-5.6.2-1.3.2,5.7.2-.9.2-3.9.2,6.0.2-2.5.2,2.7.2-3.5.2,1.8.2-1.0.2-5.4.2,4.5.2-.8.2,3.0.2-4.8.2-1.3.2,6.1.2,1.3.2,.2.2-.1.2-8.3.2,1.3.2,.6.2,1.2.2-6.0.2,7.4.2,.7.2-3.5.2,4.6.2,1.9.2-3.1.2,3.6.2,.7.2-.5.2-1.1.2-2.1.2,4.3.2-5.6.2-1.4.2,3.0.2-3.9.2,3.9.2,1.0.2-4.8.2,2.2.2,1.7.2-2.1.2-5.5.2,1.3.2,7.6.2-2.9.2-7.9.2,2.7.2,4.1.2-7.9.2,10.0.2-2.1.2,.3.2-4.2.2,1.0.2,7.7.2-7.1.2,5.4.2-.1.2-.6.2-1.4.2-3.4.2,1.1.2,5.4.2,2.1.2,1.2.2-.5.2-1.0.2-3.6.2-2.6.2,4.3.2,1.2.2-.4.2-4.2.2,3.1.2-2.8.2,5.7.2-4.2.2,1.0.2,4.1.2-.7.2,4.1.2-6.6.2-1.9.2,9.6.2-.1.2,.0.2-1.4.2-.5.2-1.1.2-2.9.2,2.6.2,2.0.2-3.7.2,5.8.2-8.6.2,3.2.2,4.4.2-6.0.2-1.6.2,.0.2,1.7.2,6.5.2-3.3.2,2.0.2-3.3.2,3.1.2-2.2.2-2.9.2,1.6.2,2.0.2,2.4.2-3.3.2,2.3.2,3.7.2-6.3.2-.2.2,4.9.2-1.9.2-.9.2,1.8.2-.8.2,5.6.2-6.3.2,.9.2-5.4.2,.2.2,3.0.2-1.4.2,3.7.2-3.2.2-1.3.2,2.1.2-2.5.2-2.1.2,.9.2,1.8.2,.3.2,2.6.2,3.1.2-2.1.2,3.5.2-1.6.2-5.3.2,5.7.2-1.2.2-5.7.2,2.1.2,2.8.2-2.9.2,1.5.2-.8.2,.0.2-2.9.2,2.6.2-1.9.2,1.4.2-7.0.2,5.9.2,2.7.2-1.3.2-1.3.2,1.8.2-3.7.2,.7.2,2.2.2-.8.2,5.4.2-6.5.2,6.0.2-8.7.2,2.4.2,1.2.2,4.5.2-4.4.2-4.4.2,7.4.2-.9.2-3.7.2-.1.2,.7.2,4.6.2,.4.2-6.9.2,11.4.2-6.1.2,.2.2,2.6.2-1.3.2,8.0.2-4.0.2-4.6.2,.3.2-.7.2,.5.2,2.6.2-4.2.2,7.3.2-5.0.2-.8.2,3.2.2-8.3.2,3.5.2,5.2.2-.3.2-1.1.2,1.1.2-4.0.2,1.7.2-2.9.2-1.8.2,8.1.2-6.1.2-.1.2,7.1.2,.7.2-5.2.2,1.3.2,1.3.2-3.4.2,5.0.2-.5.2,.3.2,1.3.2,.7.2,2.6.2-.9.2-9.3.2,6.4.2-7.5.2-2.2.2,5.9.2-3.9.2-.1.2,3.6.2-3.9.2-2.0.2-.4.2,7.1.2-1.5.2-7.3.2,2.8.2,.3.2,7.0.2-3.8.2,.0.2,.3.2-4.3.2,1.1.2,5.7.2-9.4.2,2.6.2,2.7.2-4.9.2,5.7.2-.2.2,1.8.2-6.1.2,1.0.2,4.6.2-1.7.2-4.7.2,3.3.2,3.4.2-5.0.2,1.1.2,6.4.2-9.3.2,.8.2-3.1.2,.7.2,6.4.2-4.9.2-4.1.2,.7.2,3.8.2,2.9.2-3.7.2,3.6.2-1.4.2,.6.2,1.3.2-.1.2-4.0.2-.8.2,3.0.2-6.4.2,4.6.2,1.6.2,3.7.2-3.5.2-.9.2,.9.2-2.5.2,2.1.2,1.8.2-1.4.2-5.6.2,2.2.2-5.8.2,9.5.2-5.0.2,2.4.2-4.5.2,2.4.2,3.0.2,1.8.2-6.8.2,7.1.2-3.4.2-1.9.2,3.4.2-.6.2,.3.2-.7.2,3.4.2-.7.2-.8.2-3.4.2,1.8.2,3.0.2,7.7.2-8.1.2,2.9.2-3.6.2-3.9.2,4.5.2-4.3.2,5.3.2,1.3.2-4.3.2,.2.2,9.3.2-5.8.2,.6.2,3.1.2-2.5.2-1.5.2,1.2.2-8.7.2,12.8.2-8.0.2,.4.2,4.6.2-1.6.2-3.4.2,4.5.2-4.2.2,.8.2-2.4.2,1.7.2,3.4.2-.1.2,.9" fill="none" stroke="#0f0" stroke-width="1.0" stroke-linejoin="bevel"/>
<path d="M33.00,144.6l.2,2.0.2,5.0.2-2.9.2-7.2.2,5.1.2-2.2.2,1.8.2-5.4.2,4.8.2,.2.2,3.4.2-3.7.2,.0.2-4.6.2,10.8.2-11.9.2,7.3.2-4.0.2-2.8.2,.7.2-.1.2,2.8.2-.5.2,5.0.2-9.1.2,4.2.2-2.2.2,4.7.2-9.1.2,4.0.2,1.1.2-5.7.2,5.9.2-1.0.2,1.4.2,.4.2-5.8.2,1.1.2,1.7.2,3.0.2-.8.2-4.1.2-.2.2-.1.2,.9.2,.9.2,.0.2,5.7.2-6.9.2,.1.2,1.6.2-4.3.2,.9.2,1.8.2,1.2.2-4.8.2,7.6.2-5.9.2,.3.2,2.0.2-1.0.2,1.3.2-1.6.2-.3.2,5.4.2-8.4.2,6.9.2-5.8.2-.3.2,9.9.2-6.6.2-3.0.2,8.9.2-6.8.2,3.7.2-4.8.2,.5.2-6.2.2,1.5.2,2.0.2,3.2.2,1.9.2,5.1.2-9.8.2,4.1.2-5.0.2-.1.2-3.8.2-.4.2,.4.2-2.0.2,2.9.2-2.5.2,4.0.2-2.9.2,.3.2,.9.2-1.4.2-3.5.2-.7.2-1.1.2,2.4.2-1.1.2-2.3.2,.7.2-2.6.2,3.0.2-4.5.2,7.7.2-4.8.2,1.2.2,1.2.2-1.6.2-1.3.2,3.2.2-3.8.2-3.0.2,3.5.2-6.0.2,8.8.2-6.2.2,.2.2,5.5.2,.1.2-5.8.2,1.2.2,1.4.2,1.3.2-5.0.2,1.4.2,2.8.2-3.2.2,1.6.2,.0.2-4.4.2-.2.2-4.1.2,6.5.2,4.4.2-6.6.2,6.6.2-.3.2-2.1.2,.1.2,.0.2-2.2.2,1.3.2,1.2.2,1.6.2,.8.2-4.7.2,4.7.2-4.1.2,.9.2,1.1.2-1.0.2-1.2.2,.5.2-1.7.2,.2.2,2.0.2,2.3.2-3.0.2,4.3.2-3.2.2-9.4.2,4.5.2,9.4.2-3.6.2-1.8.2,.1.2,6.0.2-1.7.2-.8.2-.4.2,3.0.2-3.2.2-4.3.2,4.3.2-1.7.2,.2.2,2.5.2-2.1.2-8.4.2,12.4.2-.6.2-3.6.2-.5.2,1.3.2-4.4.2,3.1.2-3.4.2,2.7.2-1.6.2,1.4.2,4.9.2,1.3.2-2.3.2-1.8.2-2.6.2,4.4.2,2.6.2-9.3.2,7.5.2-9.7.2,4.3.2,2.6.2-4.3.2,.3.2,4.7.2,2.1.2-2.5.2,4.3.2-5.6.2,7.8.2-3.3.2,.3.2,.7.2-1.7.2,3.9.2,1.0.2-4.5.2-1.7.2-2.4.2,.7.2,1.5.2-.4.2,.5.2,1.2.2,.2.2-4.3.2,.7.2,6.5.2,.3.2-3.6.2,4.0.2-5.7.2,1.4.2-4.5.2,7.2.2-2.8.2,2.9.2-1.3.2-.9.2,.4.2,3.3.2-4.7.2-.1.2,.2.2,1.9.2,.0.2,2.5.2-4.1.2,3.6.2-5.9.2,3.5.2,.3.2,4.7.2-3.6.2-3.0.2,2.8.2-.6.2-2.9.2-.3.2-1.6.2,9.2.2-6.8.2,2.7.2-5.1.2,1.1.2,2.4.2,.2.2,3.1.2-4.3.2,4.1.2,2.1.2-6.2.2,5.3.2-5.0.2,3.7.2,.9.2,3.1.2-7.1.2,1.6.2,2.4.2-5.6.2,2.6.2-1.4.2-.2.2,3.6.2-.3.2,5.7.2-4.0.2,3.3.2-7.2.2-1.5.2,.6.2-6.7.2,11.5.2-6.9.2-1.2.2,2.6.2,3.4.2,.2.2-5.1.2,1.1.2-1.2.2-1.9.2,2.7.2-1.1.2-4.2.2,7.0.2-7.4.2,5.1.2-3.6.2,.2.2,.8.2,2.5.2-6.1.2,2.8.2,3.9.2-5.0.2,.4.2,2.4.2-3.0.2,3.1.2-2.9.2,3.1.2-2.2.2-1.9.2,6.1.2-5.1.2-1.3.2-2.6.2,1.6.2,1.8.2,.5.2,2.5.2-6.9.2,3.2.2,4.6.2-2.4.2,1.4.2,2.2.2-2.9.2-.7.2-.8.2,5.4.2-1.5.2-4.3.2,3.2.2-5.0.2,6.5.2-1.5.2-1.7.2-1.2.2-3.5.2,7.2.2-2.8.2-.6.2,3.5.2-3.7.2,.6.2-.6.2-1.6.2,9.4.2-7.3.2,.6.2,3.9.2-10.9.2,8.6.2-.6.2-2.2.2,3.3.2-6.9.2,6.2.2,2.1.2-8.5.2,2.3.2,3.8.2,1.4.2-2.7.2,2.7.2,.3.2-4.5.2,3.3.2-3.4.2-2.1.2-.2.2,10.2.2-2.9.2,6.5.2-9.2.2,1.9.2,2.5.2-2.7.2,1.7.2-.9.2-2.8.2-4.6.2,3.4.2,7.4.2-2.7.2,2.1.2-5.6.2,1.5.2-2.0.2,3.5.2-.9.2,.7.2,4.1.2-6.8.2,2.6.2-6.5.2,7.9.2-4.4.2,2.6.2,.5.2,4.0.2-5.2.2-1.6.2-2.0.2,4.3.2-3.3.2,.6.2,.5.2,1.5.2-4.1.2,3.6.2,2.4.2-9.4.2,7.6.2,.7.2-8.0.2,3.1.2-4.8.2,7.8.2-5.4.2,2.4.2-3.2.2,1.3.2,.9.2-1.1.2,.0.2,2.3.2-6.2.2,7.0.2,2.1.2-8.7.2,7.4.2-2.5.2-1.3.2-.9.2,1.3.2-.1.2,2.5.2-5.1.2,7.2.2-5.7.2,3.9.2,1.6.2-5.6.2,6.8.2,2.4.2-7.4.2,2.7.2-3.1.2,1.3.2-1.7.2-.7.2,4.0.2,1.1.2-2.7.2,4.7.2-.5.2-2.2.2-3.9.2,7.6.2-4.6.2-6.2.2,2.8.2,3.1.2,3.4.2,1.4.2-5.0.2,1.7.2,1.8.2-5.7.2,4.6.2-1.3.2,1.1.2-.1.2-4.0.2,1.5.2,1.5.2-.2.2-1.2.2,3.8.2-3.6.2-1.1.2,3.6.2,1.4.2,.3.2,3.4.2-3.3.2,1.4.2-1.5.2-1.7.2,2.7.2-3.9.2,.9.2-2.9.2,.7.2,.6.2,1.0.2,3.7.2,1.4.2-3.8.2-2.5.2,2.9.2-1.1.2-2.7.2,1.1.2,.5.2-1.2.2,5.7.2-5.1.2,.2.2,4.0.2-4.2.2-.8.2,.9.2,3.2.2-.8.2-.8.2-4.1.2,1.8.2,4.2.2-6.3.2,2.0.2-3.0.2,3.7.2-.2.2,5.8.2-13.5.2,11.4.2-6.8.2,3.4.2-5.1.2,.8.2,1.9.2,1.6.2-.3.2-2.4.2,2.1.2-.9.2-3.9.2,7.8.2-3.7.2-6.4.2,.4.2,11.8.2-.1.2-3.7.2-5.9.2,2.5.2,3.2.2-1.0.2-2.1.2-1.6.2,4.2.2-2.6.2,2.9.2-.7.2-.2.2-2.3.2-.5.2-5.2.2,7.5.2-1.8.2-1.8.2-5.3.2,4.6.2,.6.2,4.4.2-3.5.2-.5.2-.6.2,.3.2-5.7.2-.1.2-1.4.2,1.6.2-1.0.2,.3.2-2.6.2,2.2.2-2.0.2,6.8.2-7.2.2,8.5.2-3.7.2-7.9.2,5.1.2-2.0.2-6.3.2,4.3.2-2.2.2,.1.2-2.9.2,3.6.2,2.5.2-1.8.2-1.0.2,2.7.2-1.3.2,4.0.2-9.2.2,11.0.2-2.2.2,1.4.2,.8.2-5.5.2,11.1.2-8.4.2,3.4.2-1.1.2,2.9.2-2.6.2-4.2.2,4.6.2-8.9.2,6.2.2,.2.2,6.2.2-5.6.2,.5.2-1.0.2-.7.2,1.6.2,2.5.2-4.9.2,3.0.2-2.9.2,4.1.2,.9.2-4.0.2,1.8.2,.7.2,2.2.2,2.3.2-2.4.2-1.5.2-1.6.2,6.6.2,2.0.2-2.3.2,3.6.2-6.0.2,.2.2,4.5.2-6.2.2,4.5.2-.7.2-1.3.2,4.8.2-6.3.2,1.6.2-3.8.2,2.3.2,2.1.2,.2.2-1.1.2,1.7.2-3.0.2-3.4.2,5.6.2,.5.2-3.3.2,.9.2,7.3.2-1.4.2,.1.2-1.7.2-1.2.2-1.6.2,2.6.2-5.7.2,4.4.2,1.9.2,.8.2,3.4.2-5.1.2,9.2.2-10.3.2,2.3.2,3.3.2-4.5.2,1.9.2,1.3.2-9.2.2,6.0.2-1.3.2,2.9.2,6.1.2-3.9.2,1.7.2,.3.2-1.0.2-2.3.2,2.4.2-9.0.2,5.6.2,4.0.2-4.9.2-2.8.2,2.7.2,2.8.2-.5.2,1.4.2-8.2.2,1.6.2,3.4.2-1.9.2,2.6.2,.9.2,.6.2-.3.2,2.3.2,1.0.2-1.3.2-2.9.2,6.3.2-2.2.2-.1.2-.4.2-4.5.2,6.0.2-4.1.2-5.7.2,9.8.2-4.0.2,1.9.2,2.3.2,1.1.2-8.8.2,3.7.2,4.1.2-3.6.2-6.4.2,10.3.2,1.1.2,2.3.2-2.6.2-1.0.2,1.4.2-.3.2-1.8.2,2.3.2-.2.2-3.9.2,6.8.2-1.4.2,.6.2-9.6.2,7.0.2,.3.2-2.4.2,4.0.2-5.4.2,7.0.2-1.1.2-3.4.2,5.1.2-3.7.2,.2.2-3.6.2,5.7.2,3.5.2-.9.2-6.8.2,7.9.2,.2.2-1.8.2-3.6.2-3.4.2,1.8.2,1.7.2,3.0.2,.8.2-5.2.2-2.1.2,3.8.2-2.0.2,6.9.2-6.1.2,4.9.2-.2.2-4.2.2,6.6.2-2.9.2-2.3.2,.8.2,3.4.2,1.4.2-7.4.2,7.1.2-1.9.2-6.3.2,4.2.2,.6.2,1.2.2,2.4.2-4.6.2,7.4.2-3.2.2-3.3.2-4.2.2,6.4.2-.9.2,3.2.2-.3.2,2.7.2-5.8.2,1.6.2-3.2.2-.9.2,6.8.2-4.6.2-.8.2-.4.2,2.1.2,.4.2-1.6.2-3.2.2,4.1.2-3.2.2,3.3.2-.2.2,.4.2-8.7.2,12.0.2-2.2.2,3.6.2,1.5.2-8.7.2,1.0.2,2.3.2,2.0.2-4.3.2,.0.2,4.2.2-4.8.2,2.9.2,3.0.2-3.8.2,2.9.2-2.1.2-3.9.2,2.4.2-.1.2-1.1.2,.2.2,1.5.2-2.6.2,1.2.2-2.3.2,1.3.2-.3.2-.4.2,4.4.2-8.3.2,5.6.2-6.4.2,3.6.2,3.6.2-3.5.2,4.8.2-6.1.2,1.5.2-.8.2,1.9.2-1.1.2-.6.2-.1.2,7.1.2-6.2.2-.6.2-.9.2-1.6.2-2.3.2,1.4.2,1.8.2-3.7.2,5.4.2-3.9.2-2.0.2,2.1.2,4.6.2-.8.2,.0.2,3.3.2,2.3.2-10.1.2,5.7.2-4.4.2-2.3.2,1.7.2,4.1.2-4.3.2-.8.2,3.5.2-2.8.2-1.0.2,6.0.2-3.2.2-3.9.2-.9.2,1.1.2,1.0.2,2.8.2-.5.2-2.3.2-3.4.2,6.3.2-2.4.2-3.5.2-.4.2,3.7.2,.0.2-.3.2-6.0.2,8.6.2-10.7.2,6.2.2,5.4.2,.2.2-6.2.2,4.5.2,1.8.2-1.2.2-5.8.2,7.9.2-8.0.2,4.9.2-1.9.2,1.2.2,.4.2,2.8.2-5.7.2,3.8.2,2.3.2,1.9.2-4.3.2,.0.2-3.6.2,1.7.2,.8.2,1.1.2,4.4.2-1.5.2-1.9.2-3.9.2-1.7.2-3.2.2,9.5.2-1.8.2-6.8.2,5.1.2,5.9.2-6.0.2,.1.2-.1.2-2.5.2,.1.2,.4.2,2.7.2-1.9.2,3.6.2,2.3.2-2.6.2,1.0.2-1.4.2-1.9.2,9.8.2-4.0.2,2.2.2-4.7.2-4.6.2,8.7.2-9.6.2,4.9.2-.7.2,2.4.2,.6.2,.8.2-6.8.2,8.1.2-8.9.2,7.3.2-3.0.2-1.3.2,2.2.2-2.3.2,4.5.2,1.3.2-.7.2-1.9.2,3.3.2-1.6.2,4.9.2-5.2.2-7.1.2,4.5.2-.2.2,1.4.2-.2.2,2.1.2,.9.2-1.7.2,2.0.2-2.1.2,1.2.2-5.6.2,5.1.2,.9.2,8.4.2-10.2.2,3.0.2-1.8.2-3.2.2,4.6.2-.7.2-3.6.2-2.0.2,4.9.2-4.2.2,5.2.2-2.3.2,1.9.2-1.6.2,4.9.2-2.0.2,1.7.2-1.4.2-6.0.2-.7.2,1.3.2,2.5.2-3.2.2,8.8.2-7.8.2,1.6.2,.0.2-2.6.2,5.8.2,.0.2,.2.2-4.9.2,2.9.2-.2.2,3.5.2-10.2.2,9.2.2,1.6.2-5.1.2-1.8.2,5.2.2-2.9.2,2.9.2-.8.2,.6.2,.8.2-9.8.2,7.6.2-3.3.2,3.3.2-2.3.2,6.5.2-5.6.2,3.2.2,.7.2-3.3.2,1.1.2-.3.2-2.6.2,6.5.2-6.3.2-1.5.2,3.6.2,.8.2-.1.2-2.6.2-.5.2-5.5.2,3.3.2,6.6.2-7.3.2-3.0.2,5.6.2-1.3.2-12.1.2,9.0.2-.5.2,.1.2,10.2.2-2.1.2-3.2.2,.2.2,4.2.2-7.3.2,5.7.2-3.1.2,2.6.2-1.2.2-2.4.2,4.2.2-.9.2,4.1.2-5.9.2,1.3.2-2.0.2,5.8.2-6.3.2,1.6.2,1.2.2,.4.2-.8.2-.7.2-.5.2,.0.2-2.4.2-4.3.2,9.8.2-7.6.2,7.2.2-5.0.2,7.4.2-6.5.2-1.1.2,1.6.2-7.0.2,2.7.2-.6.2,1.5.2-5.9.2-.2.2,7.4.2-1.7.2-2.0.2,1.0.2-1.9.2-.6.2,2.5.2-4.6.2,5.7.2-4.3.2-3.8.2,2.7.2,1.5.2-3.8.2,2.6.2-1.0.2,3.2.2-.3.2,1.8.2-5.9.2,2.6.2,1.8.2-3.0.2-.7.2-2.1.2,4.1.2-1.4.2,3.0.2-3.4.2,6.2.2-6.1.2-3.5.2,5.1.2,.3.2-2.4.2,.8.2-.4.2,1.3.2,.2.2-5.7.2,8.7.2,1.0.2-5.4.2-1.4.2,1.7.2-1.6.2,5.9.2-2.2.2,5.2.2-4.6.2,.0.2-.3.2,.4.2,4.7.2,.6.2-1.8.2,.4.2-7.3.2,8.5.2-11.2.2,16.4.2-.2.2-5.7.2,2.2.2,.4.2-6.0.2,1.6.2,1.2.2,1.7.2,1.3.2-2.1.2,4.1.2-5.5.2-2.9.2,4.1.2,.2.2-4.4.2,6.3.2-5.6.2,1.4.2,2.7.2-3.5.2,5.0.2-.6.2,.8.2-1.9.2-1.3.2-1.3.2,3.5.2,3.4.2-2.0.2-.5.2,1.4.2,1.7.2-7.7.2,2.8.2,2.5.2-5.9.2,.4.2,1.8.2-2.1.2,4.7.2-3.7.2,2.6.2,5.8.2-4.3.2-7.8.2,2.0.2-.1.2,3.2.2-4.2.2,5.8.2,3.8.2-.7.2-5.6.2,1.9.2-2.0.2,.0.2,5.6.2-5.3.2-2.2.2,2.5.2-1.0.2,3.7.2-.6.2-5.0.2-4.4.2,7.0.2,.7.2,3.6.2-10.7.2,.5.2,7.8.2,.3.2-.6.2-4.9.2,3.3.2-4.5.2-1.4.2,4.2.2,.2.2,1.4.2,.3.2-8.4.2,4.6.2,2.0.2-5.0.2,2.5.2,.7.2,1.6.2-3.4.2,.3.2-.6.2,4.2.2-2.0.2-.8.2,4.2.2-1.9.2-3.1.2,6.9.2-2.0.2-1.0.2-4.7.2,5.6.2-4.8.2-2.3.2,4.6.2,5.2.2-9.1.2,4.6.2,2.1.2-2.7.2-2.0.2,1.4.2,1.1.2-3.9.2,3.1.2,.8.2-2.0.2,3.1.2-1.2.2-1.7.2,2.7.2-1.1.2-1.0.2-.9.2-1.3.2,3.5.2,1.7.2-.8.2-3.4.2,2.7.2-.8.2-3.2.2,3.7.2,.4.2-3.0.2,2.3.2-1.8.2-6.0.2,5.3.2-4.3.2,1.2.2,1.4.2-2.9.2-.5.2,2.0.2-.1.2-4.8.2,.4.2,2.2.2,3.6.2-4.0.2,1.1.2-4.7.2,2.8.2-.5.2-3.9.2,3.4.2,.5.2-6.1.2,6.4.2,1.2.2-.2.2-2.6.2-.6.2,1.1.2,1.8.2-1.9.2,.8.2,4.3.2-6.6.2,1.3.2,7.2.2-5.3.2-1.9.2,3.9.2-.6.2-.3.2-4.4.2,4.6.2,1.0.2,4.9.2-3.5.2-2.9.2,2.5.2,.9.2-3.8.2-.4.2,4.5.2-2.4.2,.1.2-4.0.2,3.0.2-7.0.2,8.9.2-4.0.2,3.6.2,1.6.2-6.4.2,7.0.2-2.5.2,2.4.2-2.4" fill="none" stroke="#00f" stroke-width="1.0" stroke-linejoin="bevel"/>
<path d="M32.5,11.0H315.8M32.5,195.7H315.8" stroke="#000" stroke-width="1.8" fill="none"/>
<path d="M32.5,10.1V196.6M315.8,10.1V196.6" stroke="#000" stroke-width="1.8" fill="none"/>
<text transform="translate(26.11,198.60) scale(1.100,1)" font-size="7.30" fill="#000">0</text>
<text transform="translate(20.24,161.70) scale(1.100,1)" font-size="7.30" fill="#000">0.1</text>
<text transform="translate(20.24,124.72) scale(1.100,1)" font-size="7.30" fill="#000">0.2</text>
<text transform="translate(20.08,87.78) scale(1.100,1)" font-size="7.30" fill="#000">0.3</text>
<text transform="translate(19.92,50.84) scale(1.100,1)" font-size="7.30" fill="#000">0.4</text>
<text transform="translate(20.08,13.90) scale(1.100,1)" font-size="7.30" fill="#000">0.5</text>
<text transform="translate(30.49,204.15) scale(1.100,1)" font-size="7.30" fill="#000">0</text>
<text transform="translate(85.14,204.15) scale(1.100,1)" font-size="7.30" fill="#000">20</text>
<text transform="translate(141.89,204.15) scale(1.100,1)" font-size="7.30" fill="#000">40</text>
<text transform="translate(198.46,204.15) scale(1.100,1)" font-size="7.30" fill="#000">60</text>
<text transform="translate(255.12,204.15) scale(1.100,1)" font-size="7.30" fill="#000">80</text>
<text transform="translate(309.58,204.22) scale(1.100,1)" font-size="7.30" fill="#000">100</text>
<text transform="translate(159.04,211.10) scale(1.020,1)" font-size="7.70">Time (ns)</text>
<text transform="translate(15.40,122.43) scale(1.000,1) rotate(-90)" font-size="7.60">RMSD (nm)</text>
<text transform="translate(10.01,212.20) scale(0.850,1)" font-size="22.27" font-weight="bold" fill="#000">A</text>
<path d="M394.81,198.9v-3M394.81,12.0v3M418.32,198.9v-5.5M418.32,12.0v5.5M441.82,198.9v-3M441.82,12.0v3M465.33,198.9v-5.5M465.33,12.0v5.5M488.84,198.9v-3M488.84,12.0v3M512.35,198.9v-5.5M512.35,12.0v5.5M535.86,198.9v-3M535.86,12.0v3M559.37,198.9v-5.5M559.37,12.0v5.5M582.88,198.9v-3M582.88,12.0v3M606.38,198.9v-5.5M606.38,12.0v5.5M629.89,198.9v-3M629.89,12.0v3M371.3,183.32h3M653.4,183.32h-3M371.3,167.75h5.5M653.4,167.75h-5.5M371.3,152.18h3M653.4,152.18h-3M371.3,136.60h5.5M653.4,136.60h-5.5M371.3,121.03h3M653.4,121.03h-3M371.3,105.45h5.5M653.4,105.45h-5.5M371.3,89.88h3M653.4,89.88h-3M371.3,74.30h5.5M653.4,74.30h-5.5M371.3,58.72h3M653.4,58.72h-3M371.3,43.15h5.5M653.4,43.15h-5.5M371.3,27.57h3M653.4,27.57h-3" stroke="#333" stroke-width="0.9" fill="none"/>
<polyline points="371.8,94.4 371.8,93.7 372.7,122.3 373.1,136.4 373.7,142.4 374.6,153.3 374.8,157.0 375.6,162.4 376.5,163.2 377.4,165.5 377.4,168.5 378.4,159.6 379.1,160.4 379.3,160.8 380.3,152.3 380.8,148.4 381.2,151.2 382.1,142.8 382.5,145.0 383.1,148.7 384.0,147.9 384.2,151.8 385.0,139.4 385.1,136.4 385.9,113.5 386.8,88.6 386.8,90.5 387.8,98.6 388.5,105.7 388.7,114.4 389.7,139.0 389.9,145.0 390.6,132.8 391.5,113.1 392.0,107.4 392.5,112.2 393.4,113.1 393.7,114.2 394.4,124.0 395.3,129.1 395.4,133.0 396.2,129.0 397.2,115.2 397.4,115.9 398.1,130.8 398.8,145.0 399.1,145.8 400.0,151.5 400.9,151.7 401.4,155.3 401.9,160.0 402.8,156.7 403.1,162.1 403.8,157.0 404.7,144.0 404.8,145.0 405.6,120.4 406.0,109.1 406.6,108.2 407.3,114.2 407.5,118.5 408.5,122.8 409.0,126.2 409.4,129.7 410.3,131.6 410.8,133.0 411.3,135.7 412.1,139.9 412.2,139.0 413.2,144.0 414.1,140.1 414.2,139.9 415.0,135.8 415.9,127.9 416.0,127.1 416.9,119.9 417.9,105.3 417.9,107.4 418.8,113.5 419.3,114.2 419.7,110.0 420.7,113.5 421.0,112.5 421.6,114.0 422.6,121.3 422.7,121.0 423.5,132.5 424.4,148.4 424.4,150.5 425.4,146.7 426.1,151.8 426.3,154.3 427.3,149.7 427.9,148.4 428.2,149.6 429.1,142.8 429.9,145.0 430.1,142.0 431.0,127.3 431.6,122.8 432.0,121.9 432.9,115.0 433.3,114.2 433.8,116.8 434.8,114.9 435.6,119.3 435.7,121.2 436.7,106.6 437.3,102.2 437.6,112.9 438.5,127.2 438.9,137.0 439.5,140.7 440.3,138.5 440.4,139.4 441.4,142.1 442.0,144.2 442.3,141.2 443.2,135.0 443.8,132.8 444.2,126.3 445.1,117.7 445.3,111.4 446.1,69.4 446.3,60.0 447.0,34.6 447.1,29.1 447.9,85.4 448.0,90.0 448.8,111.4 448.9,116.8 449.8,140.0 450.3,154.2 450.8,157.6 451.7,162.0 452.4,167.0 452.6,167.8 453.6,162.6 453.8,165.6 454.5,163.1 455.5,152.4 455.7,151.3 456.4,153.0 457.3,154.8 457.4,157.0 458.3,158.0 459.2,151.4 459.5,151.3 460.2,150.2 461.1,141.7 461.7,137.0 462.0,138.1 463.0,141.5 463.1,142.8 463.9,136.0 464.9,126.8 465.2,125.6 465.8,133.9 466.7,139.9 466.7,138.5 467.7,134.7 468.6,126.6 469.1,124.2 469.6,133.2 470.5,142.1 470.9,151.3 471.4,149.7 472.4,139.4 472.8,138.5 473.3,136.7 474.2,131.3 474.3,130.2 475.2,138.1 475.9,138.5 476.1,136.6 477.1,133.2 477.3,128.5 478.0,132.0 478.8,135.6 479.0,135.7 479.9,137.6 480.5,139.9 480.8,144.2 481.8,143.1 482.3,147.0 482.7,144.2 483.7,135.5 484.5,128.5 484.6,132.6 485.5,139.2 486.5,152.5 486.6,151.3 487.4,152.8 488.4,157.2 488.8,154.2 489.3,150.4 490.2,150.7 490.9,147.0 491.2,146.3 492.1,142.6 492.3,141.3 493.1,123.9 494.0,110.4 494.5,98.6 494.9,99.3 495.9,110.9 495.9,111.4 496.8,127.9 497.3,139.9 497.8,148.7 498.7,156.1 498.7,158.4 499.6,163.3 500.6,163.1 500.9,168.4 501.5,168.7 502.5,163.0 503.0,159.9 503.4,158.4 504.3,142.6 504.8,139.6 505.3,139.6 506.2,136.7 506.4,136.5 507.2,134.6 507.9,127.1 508.1,125.2 509.0,121.5 509.5,119.2 510.0,127.0 510.9,145.5 511.1,145.9 511.9,140.7 512.6,139.6 512.8,137.7 513.7,125.5 513.7,126.3 514.7,142.1 515.3,147.5 515.6,146.7 516.6,153.1 517.3,152.2 517.5,150.9 518.4,151.4 519.4,144.8 519.7,145.9 520.3,142.8 521.3,131.2 521.6,127.1 522.2,133.9 523.1,145.9 523.1,143.8 524.1,150.5 525.0,151.1 525.2,155.3 526.0,157.0 526.9,149.1 527.2,150.6 527.8,151.5 528.8,153.7 529.1,153.7 529.7,155.5 530.7,157.4 531.0,158.4 531.6,154.6 532.5,142.7 532.5,140.1 533.5,147.2 534.4,144.9 534.6,149.0 535.4,128.8 536.3,99.7 536.6,95.7 537.2,113.0 538.2,128.2 538.2,130.2 539.1,150.1 539.8,161.6 540.1,159.2 541.0,163.8 541.6,163.1 541.9,162.7 542.9,157.5 543.8,153.9 544.0,153.7 544.8,155.5 545.7,151.3 546.0,150.6 546.6,150.4 547.6,144.1 547.9,145.9 548.5,148.8 549.5,152.2 558.9,144.3 559.8,135.5 560.5,130.0 560.7,130.5 561.7,144.4 562.0,145.0 562.6,137.5 563.6,133.9 564.0,128.0 564.5,130.3 565.4,142.9 566.0,150.0 566.4,146.9 567.3,138.9 568.0,132.0 568.3,132.5 569.2,139.5 570.0,140.0 570.1,137.0 571.1,133.6 572.0,129.8 572.0,131.1 573.0,136.6 573.9,133.9 574.1,140.5 574.8,134.1 575.8,127.8 576.3,125.5 576.7,128.8 577.7,131.5 578.4,136.2 578.6,136.3 579.5,126.7 580.5,122.7 580.5,121.2 581.4,114.5 582.3,106.3 582.4,110.6 583.3,114.8 583.8,125.5 584.2,116.3 585.2,87.0 585.9,72.1 586.1,77.6 587.1,93.7 587.4,104.1 588.0,116.5 588.9,125.5 589.5,138.3 589.9,136.2 590.8,131.3 591.7,125.5 591.8,128.1 592.7,134.4 593.4,146.9 593.6,147.7 594.6,144.5 595.5,151.8 596.5,152.9 596.6,153.3 597.4,155.3 598.3,153.2 599.3,160.9 599.8,161.8 600.2,155.0 601.2,141.1 601.9,129.8 602.1,132.0 603.0,139.0 604.0,142.8 604.9,153.9 605.1,153.3 605.9,146.8 606.8,154.5 607.7,144.3 608.3,146.9 608.7,152.6 609.6,149.6 610.6,155.8 611.5,156.8 611.5,159.7 612.4,143.8 613.4,122.5 613.7,117.0 614.3,122.9 615.3,120.3 615.8,125.5 616.2,125.1 617.1,122.7 617.9,127.6 618.1,127.7 619.0,118.7 620.0,118.0 620.1,114.8 620.9,109.2 621.8,117.0 622.8,107.3 622.9,110.5 623.7,101.4 624.7,86.8 625.0,82.7 625.6,71.4 626.5,50.7 626.5,49.1 627.5,74.6 628.0,82.7 628.4,85.7 629.4,95.0 629.7,97.7 630.3,92.4 631.2,83.3 631.8,80.6 632.2,86.1 633.1,104.1 634.0,121.2 634.1,116.2 635.0,96.8 635.7,72.1 635.9,70.9 636.9,92.7 637.2,93.4 637.8,96.2 638.7,108.4 638.8,108.1 639.7,86.7 640.0,82.7" fill="none" stroke="#000" stroke-width="1.25" stroke-linejoin="round"/>
<polyline points="371.8,109.0 371.8,107.4 372.7,121.6 373.1,131.3 373.7,146.9 374.6,166.3 374.8,172.4 375.6,172.5 376.5,173.6 377.4,175.8 377.4,175.8 378.4,171.6 379.3,167.3 380.0,165.5 380.3,163.4 381.2,158.5 382.1,147.6 382.5,145.0 383.1,151.7 384.0,154.1 385.0,163.1 385.1,162.1 385.9,164.4 386.8,166.7 387.7,168.9 387.8,168.7 388.7,173.8 389.7,174.0 390.2,175.8 390.6,177.2 391.5,172.9 392.5,176.5 393.4,169.5 393.7,172.4 394.4,170.6 395.3,165.8 396.2,164.5 397.1,160.4 397.2,159.1 398.1,165.3 399.1,167.0 400.0,174.8 400.5,175.8 400.9,171.2 401.9,172.2 402.8,164.6 403.1,165.5 403.8,156.5 404.7,136.8 405.6,119.3 405.6,119.6 406.6,109.7 407.5,105.7 408.5,97.0 408.5,97.1 409.4,124.9 410.3,149.2 410.4,151.8 411.3,138.1 412.2,118.9 412.8,109.1 413.2,114.0 414.1,121.1 415.0,131.3 415.0,131.8 416.0,142.0 416.9,156.0 417.6,160.4 417.9,158.7 418.8,164.1 419.7,162.5 420.2,165.5 420.7,169.0 421.6,163.8 422.6,171.9 423.5,166.1 424.4,170.6 424.4,173.7 425.4,168.3 426.3,168.0 427.3,165.5 427.9,163.8 428.2,166.0 429.1,161.1 430.1,158.9 431.0,154.4 431.3,155.3 432.0,148.6 432.9,137.8 433.8,129.6 433.8,130.3 434.8,139.8 435.7,151.9 436.4,158.7 436.7,159.4 437.4,167.0 437.6,168.6 438.5,170.1 438.9,171.3 439.5,172.8 440.4,165.7 441.4,164.7 441.7,162.7 442.3,157.2 443.2,146.3 444.2,133.8 444.6,132.8 445.1,129.7 446.1,123.1 447.0,120.5 447.1,118.5 447.9,128.9 448.8,139.9 448.9,143.8 449.8,153.0 450.3,161.3 450.8,165.1 451.7,166.7 452.6,170.6 453.1,171.3 453.6,169.2 454.5,170.8 455.5,167.5 456.4,169.3 456.7,169.8 457.3,170.6 458.3,173.1 458.8,172.7 459.2,171.4 460.2,175.8 461.1,173.1 462.0,178.2 462.4,175.6 463.0,174.7 463.9,172.7 464.9,167.1 465.8,172.0 466.7,164.7 467.4,164.1 467.7,167.3 468.6,161.9 469.6,170.4 470.5,167.0 471.4,169.4 471.6,169.8 472.4,168.0 473.3,168.7 474.3,161.8 474.5,165.6 475.2,169.3 476.1,171.9 477.1,175.1 477.3,175.6 478.0,173.8 479.0,176.2 479.9,172.7 480.2,175.6 480.8,179.2 481.8,174.9 482.7,175.4 483.7,175.9 484.5,175.6 484.6,178.2 485.5,167.7 486.5,167.5 487.3,161.3 487.4,158.4 488.4,163.3 489.3,159.6 490.2,159.9 490.2,161.7 491.2,158.5 492.1,164.1 493.0,162.7 493.1,159.4 494.0,164.9 494.9,163.8 495.9,172.5 495.9,169.8 496.8,168.4 497.8,175.0 498.7,172.8 498.7,172.7 499.6,173.8 500.6,170.6 501.5,174.8 502.5,175.0 503.0,175.6 503.4,178.0 504.3,172.5 505.3,178.1 506.0,174.1 506.2,171.1 507.1,175.7 507.2,178.3 508.1,175.8 509.0,176.6 509.5,174.1 510.0,174.1 510.9,178.8 511.8,177.3 511.9,175.0 512.8,178.8 513.7,174.8 514.2,178.8 514.7,180.0 515.6,179.4 516.6,181.9 517.5,181.1 518.1,182.0 518.4,180.8 519.4,178.0 520.3,177.2 521.3,171.3 521.3,174.1 522.2,173.8 523.1,170.0 524.1,169.8 524.4,167.8 525.0,164.5 526.0,167.4 526.9,161.0 527.5,163.1 527.8,166.6 528.8,161.3 529.7,161.8 530.7,157.7 530.7,161.6 531.6,159.5 532.5,158.3 533.5,156.8 533.8,155.3 534.4,154.8 535.4,158.2 536.3,157.5 536.9,158.4 537.2,159.3 538.2,161.6 539.1,166.3 540.1,166.1 540.1,167.8 541.0,170.8 541.9,166.2 542.9,171.0 543.2,167.8 543.8,166.1 544.8,171.9 545.6,171.0 545.7,167.5 546.6,157.9 547.6,141.8 547.9,139.6 548.5,122.4 549.5,94.1 551.1,91.0 554.2,100.4 558.1,114.5 559.7,127.1 559.8,129.7 560.7,133.0 561.3,142.7 561.7,141.5 562.6,135.6 563.6,133.3 563.6,131.8 564.5,138.7 565.4,148.5 566.0,150.6 566.4,146.0 567.3,141.6 568.3,134.6 568.3,134.9 569.2,156.9 569.9,167.8 570.1,161.9 571.1,157.3 572.0,140.1 572.2,142.7 573.0,151.4 573.9,153.1 574.3,157.6 574.8,163.4 575.8,164.2 576.7,169.6 577.5,168.2 577.7,165.4 578.6,167.0 579.5,154.9 580.5,159.8 580.7,153.3 581.4,146.6 582.4,146.3 583.3,136.8 584.2,143.7 584.8,138.3 585.2,136.0 586.1,152.1 587.1,157.1 588.0,167.2 588.0,168.2 588.9,162.2 589.9,169.0 590.8,154.5 591.2,159.7 591.8,167.8 592.7,163.7 593.6,169.4 594.4,170.4 594.6,164.2 595.5,170.3 596.5,163.5 597.4,168.6 598.3,164.2 598.7,164.0 599.3,165.0 600.2,152.4 601.2,148.0 602.1,137.3 603.0,137.4 604.0,123.3 604.1,125.5 604.9,137.3 605.9,138.6 606.8,155.4 607.3,159.7 607.7,156.3 608.7,160.4 609.6,156.8 610.6,165.3 611.5,161.9 611.5,161.8 612.4,168.9 613.4,169.3 614.3,175.7 614.7,172.5 615.3,166.4 616.2,171.5 617.1,164.9 617.9,168.2 618.1,166.2 619.0,162.9 620.0,161.0 620.9,151.0 621.2,151.1 621.8,143.6 622.8,130.6 623.7,128.2 624.4,116.9 624.7,115.1 625.6,126.5 626.5,132.7 627.1,140.5 627.5,145.5 628.4,152.3 629.4,167.7 629.7,168.2 630.3,157.0 631.2,152.7 631.8,146.9 632.2,143.5 633.1,140.2 634.1,124.6 635.0,121.3 635.0,119.1 635.9,132.3 636.9,143.2 637.2,149.0 637.8,133.1 638.8,118.7 639.3,104.1" fill="none" stroke="#f00" stroke-width="1.25" stroke-linejoin="round"/>
<polyline points="371.8,123.8 371.8,122.8 372.7,137.3 373.1,145.0 373.7,153.2 374.6,162.5 375.6,174.5 375.7,175.8 376.5,173.6 377.4,177.1 378.3,177.5 378.4,174.4 379.3,175.2 380.3,170.5 380.8,168.9 381.2,167.9 382.1,157.5 383.1,156.5 383.4,151.8 384.0,156.9 385.0,162.7 385.9,168.4 386.0,170.6 386.8,171.1 387.8,164.1 388.7,166.2 389.4,160.4 389.7,161.7 390.6,168.9 391.5,171.4 391.9,175.8 392.5,176.5 393.4,169.8 394.4,171.2 395.3,163.3 395.4,165.5 396.2,166.8 397.2,160.3 398.1,160.4 398.8,160.4 399.1,161.1 400.0,167.7 400.9,170.1 401.9,177.6 402.2,177.5 402.8,168.4 403.8,165.3 404.7,153.1 404.8,151.8 405.6,150.9 406.6,148.6 407.5,151.3 407.7,148.4 408.5,149.4 409.4,156.1 410.3,157.5 410.8,158.7 411.3,160.6 412.2,155.1 413.2,156.0 414.1,151.6 414.2,151.8 415.0,145.5 416.0,132.4 416.9,128.0 417.6,121.0 417.9,123.9 418.8,139.1 419.7,150.3 420.2,160.4 420.7,163.0 421.6,162.9 422.6,167.4 422.7,165.5 423.5,165.3 424.4,169.9 425.4,167.4 426.1,172.4 426.3,172.1 427.3,166.0 428.2,168.1 429.1,161.0 429.6,162.1 430.1,163.5 431.0,156.9 432.0,159.0 432.9,154.6 433.0,155.3 433.8,154.4 434.8,149.8 435.7,152.9 436.4,148.4 436.7,149.4 436.7,149.9 437.6,151.1 438.5,153.0 438.9,154.2 439.5,160.5 440.4,156.6 441.4,165.4 441.7,165.6 442.3,160.9 443.2,155.2 444.2,144.3 444.6,144.2 445.1,153.2 446.1,159.6 446.7,167.0 447.0,167.3 447.9,165.6 448.8,164.1 448.9,168.1 449.8,168.2 450.8,178.0 451.7,178.7 451.7,179.8 452.6,178.3 453.6,170.4 454.5,169.8 454.5,172.0 455.5,165.1 456.4,169.3 457.3,164.5 457.4,164.1 458.3,166.4 459.2,165.8 460.2,169.6 460.2,169.8 461.1,168.5 462.0,177.0 462.4,177.0 463.0,172.4 463.9,171.4 464.9,162.2 465.8,159.0 465.9,157.0 466.7,152.5 467.7,158.0 468.6,150.7 469.6,155.1 470.2,151.3 470.5,151.3 471.4,160.8 472.4,160.3 473.1,167.0 473.3,168.7 474.3,167.8 475.2,168.5 476.1,169.6 477.1,169.1 477.3,169.8 478.0,170.7 479.0,175.1 479.9,170.1 480.8,176.8 481.6,174.1 481.8,172.8 482.7,170.6 483.7,159.0 484.6,157.0 485.5,150.4 485.9,149.9 486.5,158.7 487.4,161.3 488.4,172.9 488.8,175.6 489.3,172.7 490.2,175.3 491.2,170.7 491.6,169.8 492.1,168.6 493.1,154.1 494.0,152.8 494.5,147.0 494.9,147.0 495.9,158.9 496.8,163.6 497.3,169.8 497.8,169.9 498.7,172.3 499.6,174.2 500.2,175.6 500.6,172.3 501.5,175.6 502.5,172.3 503.0,172.7 503.4,170.9 504.3,162.4 504.5,164.7 505.3,160.2 506.2,158.5 507.1,153.7 507.2,156.2 508.1,155.0 509.0,161.7 510.0,162.2 510.3,163.1 510.9,167.9 511.9,163.7 512.8,166.6 513.4,167.8 513.7,166.1 514.7,170.1 515.6,168.0 516.5,169.4 516.6,170.2 517.5,169.6 518.4,174.7 519.4,171.6 519.7,174.1 520.3,177.8 521.3,172.0 522.2,174.9 522.8,172.5 523.1,168.0 524.1,173.2 525.0,166.4 526.0,167.1 526.0,167.8 526.9,167.8 527.8,172.3 528.8,168.6 529.1,171.0 529.7,169.0 530.7,164.4 531.6,165.6 532.2,161.6 532.5,158.6 533.5,163.4 534.4,160.1 535.4,165.9 535.4,163.1 536.3,164.3 537.2,165.5 538.2,166.0 538.5,166.3 539.1,166.7 540.1,163.3 541.0,170.3 541.6,167.8 541.9,166.2 542.9,166.0 543.8,161.9 544.8,162.1 544.8,160.0 545.7,153.4 546.6,152.3 547.6,145.0 547.9,145.9 548.5,143.4 549.5,139.6 558.9,144.3 559.8,138.2 560.5,131.8 560.7,131.8 561.7,145.8 562.6,154.7 562.8,155.3 563.6,151.8 564.5,143.9 565.2,142.7 565.4,143.2 566.4,145.0 567.3,156.4 568.3,153.2 568.3,158.4 569.2,159.9 570.1,150.9 571.1,153.9 571.5,147.5 572.0,144.2 573.0,156.3 573.9,154.6 574.6,161.6 574.8,163.7 575.8,146.6 576.3,146.9 576.7,149.8 577.7,149.0 578.6,153.5 579.5,153.9 580.5,163.4 580.5,157.6 581.4,151.5 582.4,147.2 583.3,140.1 584.2,140.9 584.8,136.2 585.2,135.2 586.1,148.7 587.1,151.4 588.0,157.8 588.9,160.4 589.1,161.8 589.9,166.1 590.8,161.2 591.8,164.2 592.7,168.1 593.4,168.2 593.6,170.4 594.6,161.1 595.5,163.8 596.5,160.9 597.4,163.4 597.6,161.8 598.3,156.3 599.3,164.8 600.2,154.5 601.2,158.6 601.9,155.4 602.1,151.2 603.0,158.9 604.0,156.5 604.9,159.9 605.9,159.8 606.2,164.0 606.8,162.6 607.7,158.7 608.7,158.9 609.6,149.3 610.5,151.1 610.6,156.2 611.5,151.8 612.4,157.6 613.4,157.5 614.3,164.0 614.7,159.7 615.3,152.7 616.2,158.6 617.1,147.3 618.1,145.6 619.0,142.6 619.0,138.1 620.0,145.5 620.9,132.6 621.8,137.9 622.8,131.2 623.3,129.8 623.7,133.0 624.7,120.9 625.6,126.3 626.5,114.8 626.5,110.4 627.5,136.3 628.4,143.0 628.6,151.1 629.4,154.1 630.3,150.5 631.2,157.1 631.8,155.4 632.2,147.2 633.1,144.9 634.1,133.6 635.0,125.0 635.0,125.5 635.9,126.3 636.9,145.1 637.2,142.6 637.8,124.1 638.8,108.3 639.7,83.7 640.0,80.6" fill="none" stroke="#0f0" stroke-width="1.25" stroke-linejoin="round"/>
<polyline points="371.8,109.5 371.8,107.4 372.7,125.9 373.1,136.4 373.7,153.3 374.6,172.4 374.8,180.9 375.6,179.8 376.5,171.9 377.4,172.4 377.4,171.4 378.4,164.8 379.1,162.1 379.3,161.3 380.3,150.9 381.2,146.6 381.7,139.9 382.1,142.9 383.1,151.1 383.4,151.8 384.0,152.8 385.0,167.1 385.1,165.5 385.9,162.6 386.8,164.0 387.7,160.4 387.8,157.6 388.7,171.7 389.4,179.2 389.7,177.0 390.6,176.7 391.1,172.4 391.5,169.5 392.5,175.7 392.8,175.8 393.4,169.5 394.4,167.7 395.3,163.0 395.4,162.1 396.2,163.0 397.2,154.0 397.9,153.5 398.1,158.6 399.1,161.1 400.0,171.4 400.5,174.1 400.9,175.7 401.9,178.0 402.2,175.8 402.8,166.0 403.8,156.4 404.3,148.4 404.7,143.8 405.6,131.7 406.0,124.5 406.6,117.3 407.5,114.1 408.2,107.4 408.5,111.3 409.4,136.3 409.9,145.0 410.3,149.3 411.3,157.7 411.6,160.4 412.2,137.5 412.8,122.8 413.2,130.8 414.1,141.4 414.5,151.8 415.0,156.1 416.0,159.6 416.2,162.1 416.9,160.3 417.9,150.8 417.9,153.5 418.8,159.9 419.7,165.5 419.7,165.2 420.7,164.9 421.6,159.8 421.9,162.1 422.6,164.2 423.5,165.3 424.4,168.9 424.4,171.8 425.4,170.4 426.3,173.6 426.5,172.4 427.3,167.7 428.2,165.4 428.7,162.1 429.1,152.7 430.1,141.4 430.4,136.4 431.0,137.9 432.0,141.1 432.9,142.8 433.0,143.3 433.8,142.0 434.8,137.1 435.0,138.1 435.7,141.9 436.7,140.1 436.7,139.9 437.6,137.3 438.5,132.2 438.9,134.2 439.5,142.6 440.4,147.7 441.0,154.2 441.4,152.3 442.3,139.9 443.1,129.9 443.2,128.3 444.2,112.9 444.6,108.5 445.1,120.8 446.0,139.9 446.1,137.2 447.0,148.9 447.4,149.9 447.9,155.6 448.9,164.3 449.5,168.4 449.8,167.4 450.8,175.6 451.7,174.5 451.7,177.0 452.6,178.4 453.6,177.0 453.8,178.4 454.5,174.0 455.5,165.3 456.0,161.3 456.4,158.7 457.3,150.5 457.4,149.9 458.3,130.9 458.5,122.8 459.2,136.2 460.2,158.8 460.2,157.0 461.1,156.7 462.0,158.5 462.4,158.4 463.0,155.3 463.9,155.6 464.5,151.3 464.9,145.4 465.8,138.5 465.9,137.0 466.7,149.0 467.4,157.0 467.7,152.8 468.6,138.4 469.1,131.3 469.6,138.7 470.5,143.7 470.9,151.3 471.4,154.4 472.4,157.5 473.1,159.9 473.3,159.9 474.3,159.5 475.2,160.8 475.2,159.9 476.1,165.3 477.1,170.0 477.3,169.8 478.0,168.6 479.0,173.3 479.9,172.1 480.2,174.1 480.8,177.9 481.8,172.4 482.7,173.3 483.0,174.1 483.7,169.3 484.6,165.0 485.5,158.6 485.9,158.4 486.5,159.4 487.4,151.7 488.0,152.7 488.4,157.4 489.3,155.7 490.2,164.1 490.2,165.1 491.2,154.5 492.0,151.3 492.1,152.4 493.1,130.8 494.0,115.6 494.5,104.3 494.9,108.5 495.9,128.0 495.9,125.6 496.8,145.4 497.6,164.1 497.8,164.4 498.7,170.7 499.4,178.4 499.6,177.8 500.6,173.9 501.5,176.6 501.6,174.1 502.5,167.5 503.4,165.3 504.0,161.6 504.3,160.5 505.3,158.4 506.2,150.3 506.4,152.2 507.2,151.1 508.1,142.4 508.7,142.7 509.0,145.2 510.0,144.0 510.9,148.0 511.1,147.5 511.9,151.5 512.8,158.0 513.4,160.0 513.7,158.4 514.7,162.2 515.6,160.5 516.5,161.6 516.6,164.3 517.5,162.7 518.4,167.8 518.9,169.4 519.4,161.0 520.3,155.9 520.5,153.7 521.3,159.0 522.0,171.0 522.2,173.1 523.1,165.3 524.1,164.4 524.4,163.1 525.0,162.1 526.0,167.4 526.7,167.8 526.9,166.7 527.8,165.9 528.8,158.7 529.1,161.6 529.7,165.7 530.7,169.4 531.5,174.1 531.6,174.7 532.5,163.1 533.5,159.6 533.8,155.3 534.4,157.5 535.4,163.2 536.2,164.7 536.3,160.5 537.2,166.8 538.2,163.0 538.5,163.1 539.1,168.8 540.1,168.7 541.0,176.4 541.3,177.3 541.9,173.8 542.9,171.9 543.2,167.8 543.8,162.8 544.8,162.5 545.6,158.4 545.7,154.6 546.6,143.8 547.6,128.6 547.9,127.1 548.5,121.2 550.3,97.3 554.2,105.1 558.1,114.5 559.7,108.2 559.8,110.6 560.7,115.1 561.3,127.1 561.7,134.6 562.6,130.8 562.8,139.6 563.6,136.4 564.4,130.2 564.5,131.5 565.4,150.3 566.0,153.7 566.4,150.5 567.3,139.8 568.3,130.7 568.3,130.2 569.2,148.5 569.9,158.4 570.1,149.5 571.1,136.8 571.8,122.4 572.0,121.5 573.0,134.0 573.8,142.6 573.9,141.6 574.8,140.6 575.8,131.9 576.3,129.8 576.7,137.0 577.7,135.9 578.6,140.6 579.5,146.9 579.5,143.6 580.5,141.4 581.4,131.5 582.4,131.1 582.7,125.5 583.3,120.8 584.2,112.6 585.2,96.9 585.3,102.0 586.1,112.4 587.1,126.1 588.0,142.7 588.0,140.5 588.9,140.7 589.9,155.8 590.8,152.3 591.2,155.4 591.8,156.2 592.7,152.2 593.6,147.9 594.4,146.9 594.6,149.0 595.5,158.6 596.5,154.7 597.4,167.4 597.6,164.0 598.3,156.0 599.3,151.0 600.2,144.7 601.2,145.5 601.9,134.0 602.1,130.9 603.0,142.8 604.0,149.4 604.9,158.3 605.1,159.7 605.9,152.1 606.8,154.8 607.7,149.7 608.3,146.9 608.7,147.8 609.6,147.0 610.6,152.9 611.5,159.6 612.4,166.6 612.6,161.8 613.4,156.9 614.3,161.2 615.3,154.1 616.2,159.1 616.9,153.3 617.1,147.3 618.1,147.1 619.0,141.1 620.0,136.7 620.1,134.0 620.9,123.9 621.8,119.4 622.8,99.7 623.3,97.7 623.7,97.9 624.7,84.0 625.4,82.7 625.6,85.6 626.5,85.4 627.5,91.5 628.0,91.3 628.4,90.9 629.4,96.7 630.3,97.0 630.8,104.1 631.2,116.2 632.2,127.1 632.9,138.3 633.1,134.5 634.1,113.1 635.0,99.3 635.0,97.7 635.9,101.5 636.9,114.3 637.2,114.8 637.8,106.1 638.8,96.3 639.3,89.2" fill="none" stroke="#00f" stroke-width="1.25" stroke-linejoin="round"/>
<path d="M371.3,12.0H653.4M371.3,198.9H653.4" stroke="#000" stroke-width="1.8" fill="none"/>
<path d="M371.3,11.1V199.8M653.4,11.1V199.8" stroke="#000" stroke-width="1.8" fill="none"/>
<text transform="translate(364.67,201.80) scale(1.080,1)" font-size="7.30" fill="#000">0</text>
<text transform="translate(358.92,170.69) scale(1.080,1)" font-size="7.30" fill="#000">0.1</text>
<text transform="translate(358.92,139.50) scale(1.080,1)" font-size="7.30" fill="#000">0.2</text>
<text transform="translate(358.76,108.35) scale(1.080,1)" font-size="7.30" fill="#000">0.3</text>
<text transform="translate(358.60,77.20) scale(1.080,1)" font-size="7.30" fill="#000">0.4</text>
<text transform="translate(358.76,46.05) scale(1.080,1)" font-size="7.30" fill="#000">0.5</text>
<text transform="translate(369.33,206.94) scale(1.080,1)" font-size="7.30" fill="#000">0</text>
<text transform="translate(414.30,206.94) scale(1.080,1)" font-size="7.30" fill="#000">50</text>
<text transform="translate(459.22,207.02) scale(1.080,1)" font-size="7.30" fill="#000">100</text>
<text transform="translate(506.24,207.02) scale(1.080,1)" font-size="7.30" fill="#000">150</text>
<text transform="translate(553.45,206.94) scale(1.080,1)" font-size="7.30" fill="#000">200</text>
<text transform="translate(600.47,206.94) scale(1.080,1)" font-size="7.30" fill="#000">250</text>
<text transform="translate(647.45,206.94) scale(1.080,1)" font-size="7.30" fill="#000">300</text>
<text transform="translate(499.76,214.40) scale(1.090,1)" font-size="7.20">Residue</text>
<text transform="translate(354.60,123.02) scale(1.000,1) rotate(-90)" font-size="7.50">RMSF (nm)</text>
<text transform="translate(349.23,212.20) scale(0.850,1)" font-size="22.00" font-weight="bold" fill="#000">B</text>
<path d="M72.75,436.0v-3.5M72.75,253.3v3.5M98.50,436.0v-7M98.50,253.3v7M124.25,436.0v-3.5M124.25,253.3v3.5M150.00,436.0v-7M150.00,253.3v7M175.75,436.0v-3.5M175.75,253.3v3.5M201.50,436.0v-7M201.50,253.3v7M227.25,436.0v-3.5M227.25,253.3v3.5M253.00,436.0v-7M253.00,253.3v7M278.75,436.0v-3.5M278.75,253.3v3.5M47.0,417.73h3.5M304.5,417.73h-3.5M47.0,399.46h7M304.5,399.46h-7M47.0,381.19h3.5M304.5,381.19h-3.5M47.0,362.92h7M304.5,362.92h-7M47.0,344.65h3.5M304.5,344.65h-3.5M47.0,326.38h7M304.5,326.38h-7M47.0,308.11h3.5M304.5,308.11h-3.5M47.0,289.84h7M304.5,289.84h-7M47.0,271.57h3.5M304.5,271.57h-3.5" stroke="#333" stroke-width="0.9" fill="none"/>
<path d="M48.00,265.2l.2,2.4.2-.6.2-3.0.2,.3.2,.6.2,2.2.2-1.2.2,1.5.2-4.1.2,6.1.2-4.3.2,2.5.2-1.5.2-.4.2,2.2.2,.2.2-1.8.2,.8.2,1.4.2-2.9.2-1.5.2,2.8.2-1.8.2-1.7.2,2.1.2,.1.2-1.0.2-.3.2,3.4.2,2.1.2-2.2.2-.7.2,1.5.2,1.2.2-1.8.2,3.3.2,.1.2-2.5.2-1.2.2,1.9.2-.9.2,1.7.2-4.2.2,.9.2,.1.2-1.5.2,3.8.2,.5.2-2.9.2,4.5.2-.7.2-.3.2-.5.2,1.1.2-4.2.2,3.6.2-.7.2-3.8.2,3.5.2-1.0.2,2.1.2-2.0.2,.4.2,1.3.2-1.9.2,3.1.2-.8.2,.8.2-3.0.2,3.3.2-.3.2-.9.2,1.3.2,1.1.2,1.1.2-6.8.2,4.4.2-.9.2-.3.2-1.8.2,4.8.2-4.6.2,2.6.2,2.2.2-5.8.2,2.5.2-1.3.2,2.5.2,1.7.2,1.3.2-7.1.2,1.6.2,1.9.2,1.5.2-1.7.2-2.3.2,2.1.2-.1.2,.0.2-.7.2,2.3.2-1.1.2-.4.2-.3.2-2.2.2,.9.2,2.4.2-2.9.2-1.4.2,3.9.2-1.7.2,2.8.2-3.4.2-1.0.2-1.7.2,5.6.2,2.1.2-5.9.2-.2.2,2.5.2-2.6.2,.9.2-.5.2,.5.2,1.4.2-2.2.2,1.9.2-2.2.2,.7.2-4.4.2,.9.2,4.1.2-2.9.2,1.4.2,.3.2,1.4.2-1.6.2-.4.2-2.3.2-1.5.2,.1.2,1.0.2-.3.2,1.1.2,1.6.2,1.2.2-1.2.2-3.3.2,3.9.2,.9.2,2.5.2-.3.2-2.0.2,.5.2,4.4.2-2.2.2,1.8.2,1.2.2-5.1.2,1.0.2,.7.2-.2.2,.3.2-1.3.2,.5.2-2.8.2,2.5.2-1.5.2,2.2.2-1.0.2,1.9.2,.5.2-1.1.2,.6.2-.4.2-.9.2,.5.2-1.0.2,1.1.2-.6.2,1.2.2-2.9.2,4.0.2-3.4.2,.3.2,1.2.2-.3.2,1.5.2-.2.2-2.3.2,.0.2,4.0.2-2.8.2-1.8.2,1.8.2-2.4.2,6.6.2-5.5.2,3.0.2-.5.2-4.0.2,3.2.2,1.2.2-1.1.2-.4.2,1.2.2-1.4.2,.7.2-1.1.2,1.1.2-3.8.2,2.4.2-2.6.2-1.4.2,2.9.2,2.9.2-1.3.2-2.6.2,2.2.2-1.8.2,.5.2,.8.2-4.0.2,4.7.2-1.8.2,.7.2-1.2.2,.6.2,1.0.2,3.5.2,1.5.2-3.1.2,1.8.2-2.5.2-2.8.2,1.1.2,3.0.2-.8.2,1.3.2,1.0.2-2.3.2-.7.2,2.0.2,.2.2,.8.2,2.6.2,1.6.2-3.7.2,2.2.2-.1.2-.7.2,.8.2-2.1.2,1.8.2,2.3.2-2.2.2-2.4.2,1.8.2,.8.2-1.3.2-2.0.2,3.6.2-4.7.2,3.1.2-.5.2-1.8.2,4.5.2-1.8.2-2.6.2,3.4.2-1.5.2-2.6.2,2.3.2,1.8.2,.8.2-.2.2,1.5.2-1.1.2-1.0.2,2.2.2-2.2.2,.5.2,.5.2-2.7.2,.6.2,3.8.2-2.4.2-.9.2,.5.2-1.3.2,.9.2-1.6.2,2.1.2-3.2.2,4.9.2-2.8.2-1.8.2,2.2.2-.2.2,1.5.2-1.9.2,2.8.2,5.0.2-8.1.2,2.3.2-.9.2,.4.2-2.6.2,.6.2,3.0.2-.6.2,2.1.2-4.0.2,2.0.2,5.0.2-6.9.2-.5.2,1.1.2-.4.2,1.4.2-.4.2-1.5.2,1.6.2,4.0.2-2.1.2-6.6.2,4.0.2-.7.2,2.0.2-1.5.2,3.7.2-1.2.2-.3.2-1.2.2,.0.2,.6.2,1.9.2-1.2.2-1.6.2,2.7.2-1.8.2-.7.2-.8.2-.7.2-.6.2-3.2.2,6.4.2-1.1.2-1.3.2,2.4.2-1.4.2,.0.2-4.9.2,3.5.2,1.2.2,2.1.2-.2.2-.9.2-4.1.2-2.3.2,4.1.2-.7.2,1.6.2-1.8.2,.6.2-3.3.2,4.3.2-2.0.2,1.0.2-.4.2-1.1.2,1.3.2-.6.2,1.4.2-.8.2-1.1.2-.2.2,3.2.2-2.9.2,1.6.2-.9.2-1.7.2-.3.2,1.4.2-.1.2,.1.2-2.5.2,1.1.2,1.1.2,2.7.2-7.2.2,4.4.2-.9.2,1.5.2-1.4.2,1.0.2,2.1.2-1.9.2,.3.2,.1.2-1.8.2,2.2.2-1.0.2-.6.2,1.5.2,.5.2,1.8.2-1.1.2-.9.2,3.8.2-1.6.2,.6.2-1.2.2-.6.2-.7.2,1.0.2,2.2.2-1.8.2-2.4.2,3.3.2-2.4.2,2.3.2-1.9.2,.5.2,2.6.2-.4.2-2.5.2,4.0.2,2.7.2-5.2.2,5.2.2-3.7.2,.0.2,.6.2-2.6.2,4.1.2-1.1.2-2.3.2-.9.2-.2.2,1.9.2,2.0.2-6.1.2,3.6.2,1.2.2,2.4.2-.3.2-3.0.2-.8.2,1.3.2-1.3.2-.4.2,2.1.2,1.3.2-3.2.2-.7.2,1.3.2-4.4.2,3.1.2-1.7.2,5.3.2-2.2.2-1.4.2-.3.2-3.8.2,4.7.2,1.5.2-3.8.2,2.6.2-.5.2-3.6.2,3.9.2,1.4.2-2.2.2,.0.2,.7.2-3.5.2,2.6.2,1.7.2-3.9.2,2.9.2-2.6.2-1.9.2,3.4.2-1.6.2,2.5.2-2.5.2,3.3.2-3.1.2,2.4.2-.7.2,.0.2,2.6.2-1.2.2-.2.2-2.3.2,3.8.2-.4.2-2.2.2,1.1.2-1.7.2,.5.2,.2.2,2.2.2-.1.2-1.2.2,2.5.2,.1.2-1.3.2,2.3.2-1.5.2,.7.2,.7.2-.7.2,2.0.2-2.8.2,3.9.2-3.3.2,1.1.2-1.8.2,2.8.2,1.6.2-.1.2-.4.2-4.3.2,1.2.2,.6.2-.2.2,3.1.2-.9.2-.2.2,.5.2-3.1.2-.1.2-.2.2,2.4.2,.2.2,1.1.2,1.0.2-4.3.2,2.2.2,1.0.2-2.5.2,1.0.2,1.8.2,.4.2,.0.2-1.1.2-.2.2,2.1.2-2.0.2,.6.2,1.1.2-2.8.2-1.0.2,.8.2,.7.2,.0.2-.6.2,.0.2-3.1.2,1.8.2,.9.2-1.8.2-1.6.2,1.1.2,.5.2,3.8.2-4.0.2,2.3.2,2.6.2-3.1.2,2.4.2-.9.2-2.1.2,1.6.2-.7.2,2.5.2-2.6.2,3.8.2-1.7.2-3.8.2,4.5.2,1.3.2-4.0.2,2.8.2-3.9.2,3.0.2-2.7.2,3.5.2-3.7.2-1.3.2,4.2.2,3.0.2-4.6.2,1.7.2-1.3.2-.7.2,1.6.2,1.7.2-4.8.2,2.6.2-.2.2-2.4.2,4.7.2,1.5.2-4.1.2,3.9.2-2.3.2,.0.2,2.5.2-2.7.2,.1.2,1.8.2,.5.2-1.4.2-2.8.2-.4.2,4.3.2-3.2.2,1.6.2-1.4.2,1.3.2-1.3.2,4.2.2-4.2.2,1.3.2-.3.2,2.1.2-3.4.2,1.7.2-.8.2,1.3.2,1.0.2-1.2.2,1.6.2-.5.2,.0.2,.1.2-1.8.2,.9.2,.9.2,2.3.2-4.8.2,1.0.2,2.0.2-4.6.2,1.6.2,1.3.2,.9.2,3.0.2-2.9.2,1.7.2-2.7.2-3.4.2,.2.2,5.1.2-1.2.2-1.9.2,4.1.2-3.9.2,4.2.2,1.2.2-3.8.2-1.0.2,3.1.2-2.2.2,2.8.2-2.7.2,2.7.2-.8.2-1.2.2-.5.2,1.7.2-3.1.2,2.8.2,.1.2,1.1.2-2.6.2,3.5.2-2.6.2-.3.2,3.7.2,.4.2-2.9.2-.9.2,.9.2-.9.2,.3.2,2.5.2-1.8.2-.4.2-.4.2,.2.2,1.3.2-.6.2-1.4.2,.7.2,3.4.2-2.7.2-1.2.2,2.1.2-2.8.2-1.4.2,3.1.2-2.6.2,.6.2,1.4.2-.7.2-.9.2,.4.2-.4.2,3.3.2-3.1.2,.3.2,3.7.2-4.0.2,3.2.2,.2.2-1.6.2-1.7.2,2.4.2,.6.2-.2.2-1.3.2,1.8.2,.4.2-4.0.2,3.1.2-1.1.2-1.3.2-.2.2,2.8.2-1.1.2-3.5.2,2.8.2,.1.2,.1.2-.4.2-1.0.2,3.1.2-2.6.2,.6.2-.7.2,.1.2,1.7.2-.5.2-1.8.2-.4.2,.5.2,2.5.2-1.2.2,.2.2-.2.2-1.1.2,.3.2-3.9.2,5.2.2-3.1.2,.7.2,2.9.2-1.8.2,.4.2-.8.2-1.5.2,2.0.2,1.7.2-3.2.2,3.1.2-3.4.2,.6.2,1.5.2-.2.2,.6.2-2.5.2-.2.2-1.1.2,1.0.2,.0.2-.4.2,2.3.2-2.0.2-1.4.2,6.0.2-4.7.2-.2.2,3.6.2,.9.2-3.9.2-.8.2,.7.2,3.6.2-2.3.2-1.2.2,1.6.2,1.3.2-3.7.2,1.8.2-1.7.2,4.9.2-.2.2-1.3.2-1.4.2,.7.2-3.8.2,3.0.2-2.8.2,.9.2,1.1.2,.8.2,.9.2,.2.2-.6.2-2.2.2,2.6.2-1.4.2,1.9.2-3.4.2-2.1.2,3.6.2,3.8.2-2.6.2-1.1.2,3.9.2-2.5.2,.0.2-1.3.2,.4.2,.8.2-1.9.2,.0.2,1.2.2,.7.2-1.3.2,1.1.2,.1.2,2.7.2-3.0.2,1.5.2,1.4.2-2.1.2,.5.2,1.2.2,1.3.2-2.4.2-.3.2-.2.2-1.7.2,3.7.2-1.7.2-2.1.2,2.1.2-2.5.2,.8.2,1.1.2-1.0.2,2.6.2-3.7.2,2.4.2,.3.2,1.2.2-1.6.2,.2.2-1.0.2,.0.2,1.9.2-3.1.2,2.7.2-.8.2,.5.2-1.3.2,3.7.2-3.7.2,1.2.2,.2.2,1.0.2-.4.2-.4.2,1.4.2-3.4.2,2.0.2-.9.2,2.0.2-2.1.2,.3.2,1.0.2,2.1.2-1.2.2-.6.2,1.4.2-5.5.2,1.0.2,2.5.2,.4.2,2.1.2,1.3.2-5.0.2,5.0.2-.9.2-1.8.2-.5.2,4.0.2-4.1.2-.3.2,.1.2-2.0.2,3.1.2-.4.2,.1.2-.6.2-2.5.2,3.6.2-3.3.2,2.6.2-3.3.2,2.8.2-1.4.2,1.1.2-1.5.2-1.6.2,.4.2,2.2.2,.6.2-2.9.2-1.0.2,1.6.2,1.0.2-.6.2-.6.2,2.7.2,.0.2,.2.2-2.3.2,1.1.2-.2.2-1.3.2,2.7.2-1.1.2-.2.2,2.1.2-1.2.2,.2.2,.1.2-1.5.2-3.1.2,1.6.2,2.4.2-2.0.2,1.3.2,.1.2,1.8.2,.3.2-.8.2-1.1.2,1.3.2-.4.2-.8.2,1.5.2-.6.2-2.0.2,2.7.2-2.2.2,1.4.2-2.7.2,2.0.2-.7.2,.0.2-1.5.2,4.3.2-3.0.2,.5.2,1.0.2-1.9.2,1.3.2-2.0.2,2.8.2-.3.2,.7.2-.4.2-2.7.2-.3.2,1.2.2,2.1.2-.4.2-.1.2-3.5.2-.3.2,3.8.2,.5.2-.1.2,1.1.2-1.1.2-.7.2,.1.2,1.3.2-.4.2-.1.2,2.9.2-3.2.2-.1.2-1.6.2,1.3.2,.7.2-.2.2-.5.2,.9.2-.2.2-3.5.2-1.7.2,6.9.2-2.4.2-.9.2-1.7.2,.1.2,3.2.2-5.5.2,3.3.2,1.2.2,.1.2,1.1.2-1.3.2,3.1.2-3.5.2,.3.2,1.7.2,1.5.2-1.6.2,.9.2-2.4.2-.4.2,3.0.2,.0.2-.6.2-2.8.2-.6.2-.2.2,.8.2,1.0.2,.7.2-2.5.2,2.0.2,.0.2,.1.2-.1.2-.9.2,1.3.2-.6.2,.5.2-1.8.2,1.9.2-.9.2-3.2.2,4.0.2-1.2.2,1.7.2-1.4.2,.4.2,.8.2,.0.2-.5.2-2.5.2,4.0.2-4.3.2,1.2.2,1.6.2-.3.2-.3.2,.0.2,.3.2-1.4.2,3.4.2-4.6.2,2.2.2-1.1.2-.4.2,1.7.2,1.8.2-2.8.2-.9.2,1.5.2-.1.2,1.7.2-.4.2-1.0.2-.7.2,.3.2-.9.2-1.7.2,1.6.2-.2.2,.1.2-.1.2,3.1.2-1.8.2,.5.2-1.9.2,.0.2,.8.2,.8.2-1.2.2,.4.2,1.6.2-1.2.2-1.8.2,.7.2-.1.2-1.5.2,.8.2,1.1.2,1.9.2-.4.2-1.6.2,.0.2,1.8.2,.5.2,.5.2-1.6.2-1.7.2,3.6.2-1.3.2-.4.2,.3.2-1.8.2,.4.2,1.0.2,.8.2-1.0.2-4.4.2,3.7.2,.1.2,1.3.2-1.3.2,2.4.2-2.2.2,.0.2-.1.2-2.6.2,3.3.2-.8.2-.8.2,2.0.2-.8.2-1.5.2,.2.2-.1.2,.7.2-1.7.2,1.5.2-3.1.2,1.8.2-1.3.2,1.4.2,1.8.2-.5.2-.3.2,.6.2,2.1.2-3.7.2,1.9.2-3.2.2,1.5.2,.7.2-.6.2,1.4.2,.6.2-2.4.2,1.0.2-.5.2-2.2.2,1.3.2-1.3.2,3.2.2-2.8.2,3.3.2-3.2.2,3.0.2-1.3.2,.1.2,.3.2,.8.2,.6.2,.3.2-2.2.2-1.8.2-1.5.2,2.4.2,1.2.2-.6.2-.2.2-.4.2-.1.2,.7.2,1.4.2-2.0.2,3.3.2-2.5.2,1.3.2-1.0.2,.5.2-.8.2,.2.2,.4.2,.0.2,3.9.2-3.5.2,.0.2-.4.2-.7.2-2.4.2,2.4.2,.2.2-1.8.2,2.2.2-1.3.2,2.1.2,1.2.2,.2.2,.7.2-2.3.2,1.9.2-1.1.2,1.1.2,.3.2-1.3.2-1.0.2,2.2.2-2.0.2,.3.2,.3.2,2.7.2-4.2.2-.3.2,3.9.2,1.5.2,.0.2-2.8.2,.9.2,.5.2,.5.2-.9.2-2.0.2,2.0.2-.5.2-3.2.2,2.9.2,.9.2-.3.2,.5.2,.0.2,.1.2-.9.2-.9.2,2.4.2,1.0.2,.5.2-2.4.2,1.2.2,1.1.2,.8.2-1.9.2,.4.2-1.7.2,1.2.2-2.0.2,.6.2-.9.2,.0.2-1.9.2,1.6.2,1.5.2-.4.2,.5.2,1.0.2,.5.2-.1.2-2.0.2,.8" fill="none" stroke="#000" stroke-width="0.9" stroke-linejoin="bevel"/>
<path d="M48.00,320.8l.2,1.2.2-1.4.2-.3.2,.2.2-6.3.2-1.0.2-2.6.2,.7.2-.2.2-3.4.2-.1.2-3.9.2,1.6.2-2.4.2,3.8.2-2.2.2-3.6.2,2.1.2,1.0.2,1.4.2-.9.2,.0.2,1.1.2-.3.2,.3.2,2.4.2-2.1.2,2.2.2-1.7.2,4.5.2-1.1.2,1.2.2,.4.2,3.0.2,1.7.2,2.5.2,1.0.2,3.0.2,4.5.2,.3.2,1.0.2,4.7.2,.8.2,4.2.2,2.6.2,1.1.2,.1.2,5.3.2,4.8.2,1.1.2,3.9.2,2.3.2-.7.2,4.7.2,2.6.2,1.1.2,1.3.2,1.5.2,3.7.2-1.3.2,1.3.2,2.3.2-.6.2,.7.2,1.8.2,2.8.2,1.3.2-3.0.2,.3.2,3.0.2,.2.2-1.3.2-.4.2-.7.2-2.7.2-.8.2-3.9.2-1.1.2,1.0.2-.7.2-1.0.2-4.2.2,2.5.2-.4.2-4.9.2-.2.2,1.3.2-.6.2-4.2.2,3.2.2-2.4.2-1.1.2,1.8.2,2.3.2-2.9.2,5.1.2,.7.2,.5.2,2.4.2-2.9.2,2.3.2,2.4.2-1.4.2,1.0.2-.3.2,.3.2,1.5.2-1.6.2-1.2.2,1.1.2,3.1.2-3.3.2,1.0.2-2.6.2,3.7.2-.6.2,1.3.2-2.2.2-1.6.2,2.5.2,.3.2-.8.2,.2.2,3.9.2,.2.2,4.7.2-3.9.2-1.0.2-.2.2-3.2.2,.5.2,3.0.2-3.1.2-1.7.2-1.3.2,1.9.2-.3.2-1.4.2-.9.2,1.4.2,.1.2-1.3.2,1.7.2-3.8.2,1.7.2,2.9.2-.7.2-1.0.2,3.0.2,2.3.2-.5.2,.2.2,2.0.2,.4.2-2.3.2,2.9.2,3.4.2-3.5.2,3.0.2-1.1.2-1.9.2-1.7.2,.4.2-.8.2-1.0.2-4.0.2,.8.2-.3.2-.2.2-1.6.2-.9.2,.0.2-2.0.2-3.9.2,.4.2-2.3.2-3.8.2,.3.2,4.3.2-5.7.2-2.3.2,3.4.2,3.6.2-1.8.2,1.4.2-.2.2,.4.2,3.1.2,.1.2-.2.2,2.2.2,.9.2-2.8.2,.9.2,1.1.2-1.0.2,2.9.2-1.4.2-.4.2-1.1.2,.6.2,4.8.2-3.3.2,2.5.2-1.0.2,1.0.2,.4.2-1.9.2,.0.2,.6.2,.1.2,.2.2,.1.2,.9.2,.5.2-1.3.2-2.7.2,1.2.2-.9.2,.2.2,1.5.2-2.8.2,.2.2-1.8.2,.0.2-.8.2,3.2.2-2.9.2-.5.2,3.4.2-5.2.2,3.2.2-.6.2-.9.2-.9.2,1.4.2,.3.2,2.9.2-3.3.2,3.7.2,1.7.2-.5.2-1.5.2,3.2.2,.5.2,3.7.2,2.1.2-.9.2-2.5.2,3.1.2-.9.2,3.0.2,1.9.2-1.2.2,3.7.2,.0.2-2.1.2-2.8.2,1.4.2-2.8.2,2.2.2-1.6.2,.8.2-3.7.2-4.9.2,2.8.2-2.0.2,.2.2-5.3.2-1.2.2-.5.2-3.3.2-2.3.2-.1.2,4.6.2-5.2.2-1.5.2-.3.2,.5.2,1.8.2-.6.2-1.2.2-1.8.2-.3.2-1.5.2-1.5.2,5.9.2-4.3.2,2.2.2-2.6.2,.6.2-.6.2-2.5.2,1.9.2,.5.2,.2.2-.8.2,.3.2-.8.2,.0.2-2.0.2,1.8.2,4.4.2-1.8.2,.8.2-.7.2-1.1.2,4.7.2-2.9.2,2.3.2-1.0.2-.7.2-2.9.2,4.4.2-1.7.2-.1.2,5.9.2-2.5.2-2.0.2-2.0.2-1.9.2,1.4.2-4.7.2-2.4.2,.4.2-5.8.2,4.4.2-3.1.2,2.3.2,.0.2-3.5.2,2.3.2-.8.2-2.7.2-.6.2,1.0.2-2.8.2,2.4.2,1.9.2-2.7.2-1.5.2,2.6.2,2.7.2-.7.2-1.9.2-.5.2,.5.2,.1.2-1.4.2,.2.2,.6.2,.0.2-5.8.2,6.0.2,.0.2,3.2.2-.8.2,1.8.2,2.2.2-5.9.2,9.1.2-1.0.2-2.4.2-1.0.2,3.7.2-3.0.2,2.3.2-2.1.2-.9.2,.5.2-1.9.2,.4.2-1.0.2-.7.2,.8.2,.0.2-3.3.2,2.0.2-.3.2,.0.2-.8.2-.5.2,3.8.2-.5.2,2.3.2-4.7.2-1.0.2-1.3.2,.0.2-1.8.2-3.8.2,2.3.2,.3.2-.7.2-4.3.2,1.0.2,2.9.2-3.2.2,.0.2-1.8.2,1.9.2-.9.2,2.1.2-2.8.2-1.1.2-3.2.2,2.1.2,.7.2,.9.2-.8.2,4.1.2-3.0.2,2.9.2-1.6.2,2.5.2,3.1.2-2.9.2,1.6.2-1.1.2,.9.2,.3.2-1.5.2,.5.2-.5.2,.1.2-.7.2,3.2.2-3.1.2,1.9.2-.7.2-3.0.2,3.1.2-3.4.2,1.5.2,.6.2-3.8.2-1.0.2,.2.2,4.0.2-6.4.2-1.2.2,.4.2-3.9.2-1.7.2-3.1.2-3.1.2,1.7.2-1.0.2-2.8.2-.1.2-.6.2,1.8.2-1.1.2-.5.2-1.8.2-1.9.2,2.0.2,.5.2,.5.2-1.4.2,.2.2,1.3.2-1.3.2,.9.2,2.4.2-2.5.2,1.9.2,1.6.2-.6.2,.8.2-1.9.2,1.0.2-.9.2,1.7.2-.2.2-1.0.2,3.5.2-1.2.2-1.6.2-.6.2,.8.2-1.0.2,3.3.2-2.0.2-1.3.2-.6.2-.2.2,1.2.2,2.7.2-.3.2-1.3.2,.3.2-3.4.2,3.8.2-.8.2,3.2.2-1.6.2,.1.2,1.8.2,.0.2,3.0.2-.6.2,.6.2,1.5.2-.7.2,2.6.2,.0.2,3.0.2-1.3.2,1.0.2-.4.2,.8.2,.2.2,2.1.2-1.8.2,1.2.2-2.1.2-.8.2-2.1.2,3.6.2,2.2.2-3.8.2,2.4.2-1.8.2-2.8.2,1.4.2-2.9.2,1.0.2,1.9.2-2.0.2-2.1.2,2.9.2-4.1.2,.7.2-.2.2-.3.2-.7.2-.8.2,4.0.2-4.6.2-.8.2-2.0.2,3.2.2,1.8.2,.0.2,1.8.2-2.4.2-1.0.2-.6.2,2.3.2-1.5.2,.4.2-1.8.2,1.3.2,3.1.2-3.2.2,.2.2-4.2.2,8.0.2-4.1.2,1.9.2-1.1.2-1.5.2,.7.2,3.4.2-.6.2-2.1.2,1.6.2-.1.2,2.0.2-1.0.2-1.5.2,2.0.2-.3.2,3.7.2-3.0.2-.6.2,1.6.2-1.0.2,.8.2,.5.2-2.0.2,2.1.2-.3.2-.9.2,.0.2,2.0.2-3.5.2,.3.2,.1.2,.3.2,.4.2-3.3.2,2.4.2,.5.2,.8.2-2.9.2-1.9.2-1.7.2,2.3.2,1.0.2-2.9.2,1.4.2,.7.2,.0.2-1.5.2,2.7.2-1.4.2-1.2.2,1.9.2,.4.2-1.5.2,1.5.2,2.4.2-4.6.2,3.3.2,1.1.2-.5.2,.2.2-1.0.2,3.2.2-3.9.2,1.0.2-3.0.2,3.8.2,.6.2-2.6.2,1.6.2,1.7.2-.7.2-.9.2-2.1.2,4.9.2,2.2.2-3.6.2,1.5.2,.5.2-1.0.2,.2.2-1.1.2-2.0.2,5.8.2,.9.2-4.0.2,1.6.2-4.4.2,.4.2,2.0.2-5.4.2,1.4.2,2.6.2-3.7.2,5.3.2-2.2.2-.1.2,.9.2-1.9.2-.5.2,2.9.2,.4.2-.9.2,.2.2-.8.2,3.5.2-3.4.2,1.0.2,.9.2-1.3.2,.3.2,.1.2,3.1.2,1.8.2-2.4.2-3.5.2,1.2.2,1.0.2-.6.2,.2.2,1.5.2-3.7.2,2.5.2,.5.2,.5.2-.7.2-.3.2-.8.2-1.0.2,1.7.2-.6.2-.3.2,2.7.2-.3.2-2.0.2,2.0.2,.9.2-1.4.2-1.0.2,.6.2-3.2.2,.1.2,3.4.2-.7.2,2.2.2-3.1.2,2.2.2,.6.2,2.3.2-4.7.2,.5.2,1.0.2,.1.2-1.7.2,1.2.2-1.4.2,5.5.2-3.5.2-.3.2-.3.2,1.7.2,1.1.2-2.4.2,2.0.2,2.1.2-2.6.2-1.6.2-.9.2,1.1.2-.6.2,2.1.2-2.2.2-.1.2,.3.2-1.1.2,2.5.2,3.8.2-4.8.2-1.3.2,4.2.2-1.0.2,3.0.2-2.1.2,.6.2-2.3.2-1.2.2,2.3.2,1.1.2-1.8.2-1.6.2,1.0.2-.1.2,.2.2,.6.2,3.5.2-3.9.2-1.1.2-1.2.2,2.9.2-3.6.2,4.5.2-2.3.2-2.3.2,2.8.2-.8.2,2.0.2-4.1.2,2.1.2,.2.2,1.2.2-3.7.2,.7.2,4.1.2-2.1.2-3.3.2,2.3.2-1.8.2-.5.2-.9.2,3.2.2-2.1.2,.9.2-.1.2-3.1.2,.8.2,2.4.2-3.1.2,2.9.2-1.3.2,.7.2-.2.2,.7.2-1.4.2,.3.2-1.3.2,.3.2,2.0.2-2.2.2,2.6.2-.1.2-2.9.2,2.3.2-1.7.2,2.4.2-2.4.2,1.5.2-.4.2-2.4.2,4.4.2-2.0.2-4.3.2,2.7.2-.9.2,3.3.2-3.3.2,.7.2-1.2.2,1.1.2-2.0.2-.4.2,1.5.2-.2.2,2.2.2-.8.2-.8.2,.7.2-.3.2,2.0.2-3.0.2,3.2.2,2.0.2-2.0.2,.1.2,1.1.2-1.6.2,1.0.2,2.2.2-2.0.2,4.4.2-1.3.2-.5.2-1.0.2,.9.2-2.6.2,4.3.2,.8.2-.6.2-1.0.2,2.0.2,.6.2-.4.2,.6.2,1.0.2,2.3.2-3.2.2,.7.2,.6.2-3.4.2,2.8.2,.1.2-2.5.2,.4.2,6.0.2-2.9.2,2.4.2-2.0.2,2.6.2-2.0.2-1.1.2,1.5.2,1.3.2,1.4.2-3.2.2-1.3.2-1.1.2,1.6.2,1.1.2-1.5.2-.3.2,1.6.2-.4.2-.3.2-2.6.2,2.1.2,3.5.2-2.9.2,3.7.2-2.4.2-.6.2,.7.2,.7.2-1.8.2,1.6.2-1.0.2,2.9.2-3.1.2,1.8.2-3.0.2,.8.2,1.7.2-1.1.2,.5.2,.3.2,.6.2-3.1.2,2.2.2,1.0.2-2.1.2-1.3.2-.3.2,4.7.2-1.9.2,2.4.2-2.3.2,2.0.2-4.6.2,2.3.2,.7.2,3.1.2-2.3.2,.3.2-1.6.2,.1.2,2.3.2,1.0.2-.4.2-.4.2-2.4.2,3.8.2-3.3.2,1.8.2-.7.2-3.8.2-.3.2,.1.2,2.7.2,2.5.2-2.0.2,.1.2-.6.2,.6.2-1.3.2,1.4.2-1.9.2,1.8.2,1.0.2-1.2.2-1.0.2,1.3.2-1.4.2,.2.2,2.7.2-.8.2-2.8.2,2.0.2,1.0.2-1.3.2,1.4.2,.2.2-2.0.2,.4.2-.6.2,2.3.2-.3.2,1.5.2-1.0.2-2.7.2-1.6.2,1.5.2,.6.2,2.1.2-3.5.2-.1.2,2.4.2,1.7.2,.2.2,.8.2-2.8.2-.5.2,.4.2-2.1.2,1.1.2,3.6.2,1.3.2-1.1.2-1.1.2-.2.2,.6.2-3.7.2,3.6.2,.0.2-2.0.2,.2.2-.3.2,1.6.2-.1.2-6.3.2,3.1.2,2.6.2,.9.2-4.0.2,1.2.2,2.1.2-1.1.2-1.1.2-.6.2,1.1.2-1.6.2,3.0.2-3.2.2,2.2.2,.5.2,.1.2-1.6.2,.5.2-1.7.2,2.4.2,1.8.2-1.3.2,2.7.2,1.7.2-5.3.2,3.4.2-3.9.2,3.1.2-.9.2-.6.2-1.6.2,1.1.2,2.4.2-.8.2-1.3.2-2.0.2,.6.2-1.2.2,.6.2-.6.2,3.0.2-.7.2-.7.2-1.7.2-3.6.2,6.6.2-2.0.2,2.9.2-2.5.2,2.4.2-1.3.2-1.0.2-.3.2,2.8.2-1.7.2-1.3.2,.4.2-2.7.2,5.5.2,.0.2-2.2.2,.8.2-4.8.2,6.1.2-3.6.2,2.3.2,.7.2-1.2.2-2.2.2,.5.2,.9.2,1.2.2-1.1.2-1.0.2,2.0.2-2.8.2,5.1.2-3.6.2-1.6.2,1.5.2,2.1.2-.9.2,2.2.2-5.3.2,5.0.2-2.9.2,1.3.2,1.4.2-4.6.2-.7.2,1.5.2-1.8.2,.1.2,2.9.2,.8.2-2.0.2,1.5.2,5.0.2-5.1.2-1.0.2-.5.2,1.1.2-1.4.2,1.8.2-1.4.2,1.6.2-1.2.2-2.2.2,.0.2-.5.2,1.8.2-.5.2,1.9.2-.7.2-.1.2,3.0.2-2.6.2,1.6.2-3.4.2,3.5.2,.0.2-1.0.2-2.1.2,3.3.2-3.4.2-1.0.2,.1.2,2.6.2-.8.2,3.7.2-2.5.2,1.0.2-1.4.2-.8.2-.2.2-.6.2,.2.2-.3.2,1.9.2-2.3.2,1.1.2,2.2.2-5.1.2,2.4.2-.7.2,.9.2-2.0.2,1.4.2,5.0.2-5.8.2,1.5.2,.3.2-1.4.2-1.4.2,3.4.2-4.3.2,2.1.2,1.8.2-.9.2,2.5.2-1.9.2,3.6.2-3.5.2,2.0.2-2.0.2-1.4.2-2.9.2,4.3.2-1.9.2,1.0.2-1.7.2-2.0.2,3.8.2,.8.2-2.9.2,2.9.2-.5.2-2.9.2,1.7.2,2.4.2,.8.2-1.5.2,3.4.2-4.2.2-1.2.2-4.6.2,7.5.2-3.3.2,.1.2-.7.2,2.5.2-1.1.2,1.8.2,.7.2-.3.2,.5.2-1.6.2-1.3.2,1.6.2-3.2.2,4.3.2-.4.2-.2.2-2.4.2,1.0.2,1.3.2-1.1.2,.2.2,1.3.2,1.1.2-.9.2,1.9.2,1.9.2-2.4.2-1.5.2-.1.2,2.7.2-2.2.2,.5.2-.8.2-1.5.2,3.3.2-5.1.2,3.1.2-3.5.2,6.7.2-1.7.2-.8.2-1.2.2,.4.2-1.3.2,3.8.2-2.5.2,2.0.2-.4.2,1.9.2-2.5.2,.1.2,.0.2-1.9.2,.7.2,.5.2,1.5.2-.9.2-.8.2,2.4.2-2.0.2-1.8.2,5.1.2-2.1.2-.5.2-1.2.2,1.4.2,4.3.2-3.7.2,3.3.2-3.5.2,1.7.2-1.6.2-.8.2-.2.2,.2.2-1.0.2,.0.2,2.5.2,1.1.2-1.2.2-.3.2-1.4.2,3.0.2,.2.2-4.1.2,1.1.2-.7.2-2.6.2,4.6.2-.8.2-1.2.2,2.1.2-3.3.2,1.6.2,2.2" fill="none" stroke="#f00" stroke-width="0.9" stroke-linejoin="bevel"/>
<path d="M48.00,314.7l.2-7.6.2,5.8.2-1.3.2,1.4.2-1.9.2,1.9.2-3.1.2-.9.2,2.3.2-.9.2-1.7.2-.8.2,.7.2-.1.2-1.4.2,.3.2-2.4.2,5.7.2-2.8.2,2.8.2-1.2.2,2.6.2-.3.2-2.3.2,2.6.2-3.7.2,3.9.2-3.6.2,2.6.2,.6.2-1.0.2-1.1.2-.6.2,.9.2,2.0.2-.8.2-1.8.2-1.1.2,2.7.2-2.8.2,.9.2-.5.2,1.8.2-.9.2-1.4.2,2.6.2-1.5.2,1.7.2,1.9.2-2.2.2,.6.2-.5.2,1.3.2-.5.2,.6.2-.4.2,2.4.2-3.1.2,2.2.2-3.3.2,1.4.2-2.8.2-.8.2,1.5.2-.4.2-.9.2-4.9.2,2.6.2-.8.2-.5.2,1.5.2,3.4.2-3.4.2-1.0.2,2.0.2-.5.2-.1.2-.5.2,1.7.2,.5.2-4.5.2,.1.2,4.3.2-.8.2-2.5.2-.6.2,2.3.2-1.7.2,.6.2,3.2.2-2.0.2,1.9.2-1.9.2,1.1.2,1.4.2-3.6.2,1.5.2,.5.2,.5.2,2.3.2,.4.2-5.3.2,1.7.2-1.4.2-.3.2,4.7.2-4.5.2,2.2.2-1.3.2,2.1.2-.9.2,.3.2-.6.2,1.1.2-3.3.2,.1.2-.8.2,3.6.2-2.9.2-1.0.2,.8.2,4.5.2-4.3.2-1.9.2,2.2.2-.1.2-1.8.2,1.1.2,.2.2-2.0.2,7.3.2-2.1.2-.8.2,.5.2-.8.2,2.9.2-1.8.2,1.3.2-2.9.2,2.9.2,2.9.2-3.0.2,1.2.2-1.6.2,1.9.2-.3.2-1.6.2-1.1.2,.6.2-.4.2-1.1.2,2.3.2-.9.2-2.2.2,1.4.2,4.3.2-3.4.2-.2.2,4.3.2-4.2.2-4.6.2,3.1.2,1.3.2,3.3.2,1.4.2-3.9.2,5.9.2-3.2.2,3.3.2,.8.2,.3.2-.6.2,.2.2-2.0.2,1.1.2,.6.2,.2.2,2.1.2-2.3.2-1.2.2,1.3.2-1.6.2-2.2.2-1.9.2,5.0.2-1.8.2,.6.2-2.0.2,1.2.2,2.5.2-2.6.2-2.7.2,.4.2,2.5.2-3.8.2-1.8.2-.1.2,1.5.2,2.6.2-1.4.2-1.1.2-.7.2,1.3.2-.5.2-.3.2,.2.2-1.1.2,3.3.2-5.5.2,4.1.2-1.8.2,3.0.2-1.7.2,.7.2,.5.2,.0.2,.8.2-3.1.2,4.0.2-1.2.2,1.0.2,2.1.2-1.4.2,1.4.2-5.3.2,1.6.2,3.0.2-3.5.2,1.5.2,2.3.2-1.0.2-2.4.2,2.2.2,.7.2-.6.2,.3.2,.4.2-2.9.2,2.3.2-1.6.2,2.4.2,.4.2-2.1.2,2.6.2-.4.2-.2.2,.9.2-.9.2,.3.2,.6.2-.5.2,2.2.2-5.3.2,3.5.2-1.7.2,2.3.2,1.7.2,.3.2,1.7.2,1.3.2-5.3.2,3.1.2,4.6.2,.2.2-1.2.2-1.9.2,6.2.2-5.3.2,4.2.2,.6.2,2.3.2-.3.2,2.2.2,4.0.2-.4.2,.4.2,4.0.2,.9.2,1.2.2,.2.2,3.8.2-.4.2-.7.2,3.2.2,.1.2,.7.2-2.2.2,2.3.2,1.3.2,1.0.2-.2.2-.6.2,.9.2-.7.2,.7.2-1.7.2-1.5.2,1.7.2-1.5.2,.6.2-1.4.2-.1.2,.3.2-1.9.2-2.1.2,.3.2-1.6.2,.9.2,.6.2-2.2.2,3.2.2,.8.2-2.5.2,1.9.2-3.6.2,1.6.2,2.6.2-3.8.2,1.2.2-.4.2,1.9.2-.5.2-3.7.2,.5.2-4.6.2,3.7.2-1.5.2,.6.2-6.1.2,2.5.2-2.6.2-4.4.2,1.8.2,.6.2,.6.2-1.2.2-1.4.2,1.3.2-1.8.2-1.0.2-.8.2,.9.2-.6.2,1.7.2-3.2.2,3.2.2-2.6.2,.8.2-3.3.2-.1.2,.4.2,2.0.2-1.9.2,.9.2-1.0.2,.8.2-1.9.2-2.0.2,1.2.2-.7.2,2.0.2-3.7.2,.2.2-.9.2,1.4.2-.8.2-.6.2-3.2.2-.5.2,2.6.2-.4.2,.7.2-6.1.2,2.4.2-2.5.2,1.1.2,.3.2,1.5.2-2.9.2-1.0.2-.2.2,2.8.2,3.0.2-4.5.2,3.0.2,.7.2,6.3.2-1.7.2,3.7.2-1.3.2,4.5.2,1.4.2,1.1.2,5.0.2,.3.2,6.0.2-4.4.2-3.4.2-1.2.2,2.0.2-4.5.2,.4.2-1.9.2-1.0.2-2.1.2-2.8.2-1.6.2-2.1.2,1.9.2,.4.2-.5.2,.1.2-1.2.2,4.6.2-3.8.2,.1.2,.9.2,1.8.2,2.7.2-3.5.2,5.7.2-.9.2,1.5.2,2.8.2,.2.2-1.2.2,1.3.2,3.5.2-.4.2,.2.2-.6.2,2.1.2-.5.2-1.4.2-.1.2,2.2.2,.7.2,1.6.2-1.2.2,3.4.2-1.8.2,3.0.2-.7.2-1.4.2-.6.2,2.1.2,.2.2,3.4.2-1.8.2-.3.2,3.3.2,3.9.2,1.0.2-2.5.2,1.3.2,1.8.2-.5.2,1.3.2-.4.2-.8.2,.8.2,.7.2,1.8.2-1.1.2,3.8.2,.6.2,1.2.2,1.1.2,9.4.2-2.3.2,1.5.2,.5.2-.6.2,1.6.2,.7.2,1.4.2,.8.2,2.2.2-6.0.2,3.5.2,1.9.2-1.3.2,.7.2,2.6.2-1.7.2,2.0.2-2.9.2-.3.2-1.1.2-2.0.2,2.6.2,.7.2-.6.2-2.1.2,3.0.2-.8.2,.0.2-1.3.2,3.7.2-.6.2-1.3.2-.9.2,1.9.2,1.9.2,1.2.2-4.2.2-.9.2-1.8.2,7.1.2-6.3.2,2.5.2-1.0.2,1.3.2-3.0.2-1.1.2,2.4.2,.2.2,1.2.2-4.0.2,1.6.2,1.1.2-.8.2,2.8.2,2.8.2-.6.2-1.8.2,3.4.2,1.9.2,.3.2,1.5.2-1.9.2,4.0.2,1.8.2-.2.2,1.1.2,.3.2,4.3.2-1.1.2-2.2.2,.5.2-1.6.2-.7.2-3.5.2-.7.2,.2.2,2.2.2-4.9.2-3.1.2-1.3.2,1.3.2-1.1.2,2.4.2-.1.2,2.2.2,1.7.2-.4.2-.4.2-2.2.2,1.1.2,.4.2,2.0.2-2.7.2-.1.2,2.4.2-1.1.2-.6.2,1.7.2-.1.2,.7.2,1.5.2-.4.2-.9.2,.0.2-1.8.2,1.8.2,2.8.2-1.6.2-1.0.2,1.2.2-1.3.2,1.9.2,2.7.2-.9.2-1.0.2-.7.2-1.5.2-1.7.2,2.6.2-.9.2,2.4.2-1.0.2-.4.2,.9.2,3.4.2-6.0.2,3.2.2-.2.2-.9.2-.8.2,3.7.2-1.6.2,1.0.2,.7.2-.2.2-1.7.2,1.4.2-.6.2-1.2.2,3.7.2-2.7.2-.1.2,2.6.2-3.3.2,3.1.2-.4.2-1.3.2,2.4.2,3.5.2-.9.2-1.1.2-1.0.2-1.1.2,.5.2-.4.2,.8.2,.5.2-1.7.2,3.6.2-3.1.2,1.8.2,1.4.2-2.0.2-1.4.2,.6.2,2.8.2-2.0.2-1.1.2,1.0.2-1.1.2-2.8.2,2.9.2,1.4.2,.3.2-2.4.2-2.0.2,3.2.2-2.3.2,2.0.2,1.1.2-1.3.2-.5.2-.5.2,.8.2,1.1.2-1.3.2,1.0.2-3.7.2,.4.2,1.1.2-.8.2,.1.2-1.1.2,2.2.2,1.3.2-3.9.2,3.2.2-3.4.2,2.7.2-3.8.2,4.1.2-.8.2,.4.2,2.2.2-1.6.2-1.3.2-.8.2,1.1.2-1.3.2-.1.2,2.2.2-.5.2-1.3.2,.1.2-5.8.2,5.4.2-2.5.2,1.1.2,.8.2-.1.2,1.0.2-.8.2,.2.2,.2.2,2.2.2-.1.2-4.2.2,2.5.2,1.8.2-2.5.2,.9.2-1.2.2-1.0.2,2.0.2-.5.2,.2.2-1.5.2,.0.2,1.7.2-1.1.2,1.5.2-2.5.2,2.5.2-.5.2-.6.2,1.1.2-1.7.2-.1.2,.4.2-1.5.2,2.0.2,.9.2-3.1.2,3.1.2-3.3.2,2.0.2,.5.2,.0.2,1.6.2-1.6.2,3.0.2-2.8.2,1.0.2,.8.2-1.3.2-1.6.2,2.1.2,1.0.2-.2.2-2.6.2,5.5.2-4.8.2-1.4.2,2.4.2,.5.2-1.9.2,2.5.2-3.5.2,2.4.2,2.5.2-1.0.2-.6.2,.5.2-2.0.2,2.0.2,.0.2-2.6.2,1.7.2,1.1.2-.9.2,.2.2-1.3.2-1.2.2,1.8.2-2.3.2,2.4.2,2.9.2,1.0.2-2.4.2-5.0.2,5.5.2-1.3.2-1.6.2,1.5.2,.1.2-2.9.2,.3.2,3.6.2-5.1.2,4.4.2,.0.2,.9.2,1.2.2-.1.2,.6.2-.9.2-1.5.2,1.9.2-1.0.2-1.8.2,.6.2-2.4.2,1.7.2,3.7.2-2.8.2-.1.2-.6.2-1.9.2,1.0.2,.3.2,.9.2,.9.2,.2.2-2.5.2,5.1.2-1.1.2,1.1.2-2.1.2,1.1.2,1.2.2-.3.2-2.2.2-.5.2-1.9.2,3.8.2,1.0.2,1.0.2-1.7.2,.8.2-2.2.2,2.2.2-.6.2-1.1.2-.8.2,4.4.2-5.0.2,4.5.2-2.8.2,2.3.2-2.1.2,1.5.2-1.3.2-.7.2,.4.2-1.2.2,1.9.2,1.2.2-1.2.2-.5.2,2.6.2-3.7.2,1.9.2-.4.2-1.3.2,1.2.2-3.0.2,1.6.2,.6.2-1.7.2,1.4.2,1.3.2,.4.2-2.6.2,2.2.2-2.4.2,.8.2-.7.2,1.9.2-1.5.2,.9.2,.5.2,.9.2-3.4.2,2.7.2-1.0.2,1.9.2-3.0.2-.5.2,.3.2-1.0.2,.5.2-1.6.2-3.1.2,2.9.2,.9.2,1.2.2-.8.2-1.1.2,1.4.2,.6.2,4.5.2-2.8.2-1.9.2-3.1.2,1.7.2,.1.2,1.1.2,3.3.2-3.6.2-3.5.2,2.5.2-1.5.2,1.4.2,2.4.2-1.4.2-3.1.2,2.6.2,1.6.2-3.9.2,.6.2,1.2.2,.7.2-.4.2,1.0.2-.3.2-1.0.2,1.0.2,.9.2-2.6.2,1.8.2-1.1.2,.4.2-.4.2-2.2.2,.5.2,2.7.2-1.1.2,1.2.2-.5.2-1.1.2,2.2.2-.7.2,1.1.2,.9.2-.2.2,.2.2-3.1.2-2.1.2,2.2.2-.8.2,.0.2,2.9.2-4.0.2,3.4.2-.3.2,2.5.2-2.0.2,1.7.2-4.0.2-.2.2,2.5.2-3.6.2,4.2.2-2.6.2-2.7.2,6.0.2-4.5.2,5.8.2-6.1.2,1.2.2,1.7.2-.7.2-2.1.2,3.0.2-.2.2,.4.2-2.8.2,2.0.2,.8.2,2.1.2-1.3.2-.2.2-.7.2,2.7.2-3.9.2,1.9.2-3.5.2,5.0.2-2.8.2-2.4.2,3.4.2,.6.2-1.1.2-1.2.2,1.9.2-2.2.2,.4.2-.1.2,1.7.2-3.1.2,4.1.2-1.8.2-1.7.2,.8.2,.7.2-.4.2,2.4.2-1.6.2-1.0.2,1.6.2,.6.2-3.1.2-1.1.2,1.7.2,.9.2-1.6.2,1.4.2-2.0.2,3.0.2-3.5.2,.8.2,1.0.2,.1.2,.7.2-2.4.2,1.6.2,.9.2,1.5.2-3.1.2-.7.2,2.9.2-.1.2,2.3.2-2.4.2,.4.2-2.0.2,1.5.2,2.1.2-2.7.2-1.8.2,3.4.2-2.0.2,.6.2-1.4.2,2.7.2-1.9.2,.6.2,.5.2-.5.2-3.4.2,3.8.2-2.0.2,2.3.2-.8.2,.6.2-1.2.2-.6.2,2.0.2,.7.2,1.2.2-.8.2-2.3.2,3.2.2,1.3.2-2.2.2-1.3.2-1.5.2,1.7.2-4.6.2,5.6.2-2.0.2-.6.2,1.4.2-1.5.2-.7.2,2.3.2,2.4.2-3.3.2,2.4.2-4.0.2,2.5.2,.8.2,1.9.2-5.6.2,3.1.2-1.2.2,1.7.2-1.6.2,1.1.2-1.6.2-.2.2,1.4.2,2.1.2-2.0.2,1.9.2-3.1.2,3.3.2-5.5.2-.2.2,1.6.2,1.8.2,.5.2-.6.2,.4.2-1.2.2-1.5.2-.4.2,1.9.2-2.5.2,2.3.2,.7.2-2.4.2,1.9.2-1.0.2,1.8.2-.5.2-1.6.2,2.0.2,2.0.2-2.0.2-.4.2-.6.2,.0.2,2.0.2-.6.2-.5.2,1.6.2-2.2.2-.2.2,.4.2,.4.2-3.3.2,2.8.2,1.8.2-3.5.2,1.9.2-.8.2-.6.2,1.7.2-.6.2-2.7.2,2.1.2,1.8.2-2.2.2-.4.2,.3.2,.5.2,2.0.2-2.0.2-.8.2,1.6.2,.7.2-.3.2,.0.2-2.1.2-1.6.2,1.4.2,.8.2-2.5.2,2.4.2,1.0.2-2.3.2,3.7.2-1.5.2-3.0.2,.5.2,.8.2,2.5.2-.4.2-1.2.2,1.2.2,.0.2,.1.2-3.0.2,2.4.2-2.2.2-2.0.2,4.0.2-2.5.2-.4.2-.5.2,1.2.2,1.0.2,.0.2,.9.2-3.0.2,4.0.2,1.3.2-4.1.2,.0.2,2.2.2,.3.2-2.0.2-.1.2,3.8.2-3.4.2-2.8.2,4.5.2,1.0.2,.6.2,.1.2,1.7.2-6.0.2-1.1.2-.9.2,4.2.2-3.1.2-1.7.2-.2.2,3.4.2-.9.2,.9.2-.8.2-.5.2,1.3.2-.1.2,1.5.2-1.1.2-.1.2,1.2.2-1.7.2,.6.2,.7.2-1.2.2,.9.2,.3.2,.6.2-.9.2,.2.2,.3.2-1.0.2,1.5.2-1.3.2-2.3.2,3.7.2-4.0.2,2.1.2,3.4.2-1.2.2-2.9.2,2.5.2-.4.2-.9.2,1.4.2-.9.2-.2.2,.9.2-2.5.2,3.7.2,1.2.2-3.2.2-1.0.2,.5.2,2.8.2-2.1.2,1.7.2,2.3.2-4.7.2,1.2.2-1.1.2,.6.2,.7.2-1.3.2,1.9.2-.6.2,1.0.2-.6.2-.5.2,2.0.2-2.4.2,1.1.2-1.5.2,3.1.2-3.7.2,3.2.2-2.1.2,1.3.2-2.6.2,.1.2,.2.2,2.1.2,.0.2,.5.2-.7.2-1.1.2,1.8.2,1.5.2-2.6.2-.4.2,2.2.2,2.4.2-3.7.2-.5.2-.5.2,.4.2,.1.2-.3.2,2.3" fill="none" stroke="#0f0" stroke-width="0.9" stroke-linejoin="bevel"/>
<path d="M48.00,362.5l.2-2.2.2,.1.2-.7.2,5.4.2,4.2.2,.0.2,3.1.2,2.2.2-1.2.2,6.6.2-4.1.2,2.8.2,4.6.2-3.2.2,1.8.2,.1.2,2.7.2-4.5.2,1.9.2,2.3.2-3.3.2-1.1.2,.8.2-.8.2-1.8.2,.4.2-3.8.2,2.4.2-.8.2,3.2.2-.9.2-1.1.2,2.2.2-.7.2,4.1.2-4.0.2-.6.2-5.8.2,1.2.2-5.7.2-.3.2-3.2.2-6.9.2-1.2.2-4.6.2-1.7.2-2.5.2-5.3.2-3.2.2-4.9.2,.4.2-1.1.2-.3.2-4.0.2-.1.2-1.4.2-4.5.2-.9.2,1.4.2-2.7.2-.9.2,1.8.2-1.8.2-1.1.2-.2.2-1.7.2-1.4.2,1.0.2,1.9.2,2.8.2-1.8.2,1.7.2-.1.2-.7.2,3.4.2,2.3.2-1.4.2,2.9.2-.4.2,3.2.2,.6.2-2.3.2-2.4.2,2.6.2-1.4.2,.4.2,1.7.2,2.8.2-1.4.2,.0.2-2.5.2,2.6.2-1.8.2,2.5.2-2.5.2,.0.2-.8.2-1.4.2,1.1.2-1.3.2-1.7.2,1.8.2-1.3.2,1.8.2-1.6.2,1.9.2-3.2.2,1.1.2-2.0.2,4.0.2-3.3.2-.5.2,3.3.2-2.5.2-.3.2,2.1.2-2.2.2,1.5.2-1.9.2,1.5.2,.1.2-2.1.2,2.5.2-4.0.2-.6.2-.4.2,2.1.2-2.0.2-.7.2,.2.2,1.1.2-3.7.2-2.0.2,1.5.2,.6.2-2.8.2,.4.2-3.7.2,4.4.2-2.0.2,.2.2-.4.2-.3.2-3.0.2,1.8.2-3.6.2,2.0.2,3.3.2,.8.2-4.2.2,4.4.2-.6.2-.2.2,1.9.2,1.0.2,2.5.2-3.9.2,2.1.2,1.1.2-1.9.2,5.2.2,1.8.2-3.1.2,2.2.2-.9.2,1.4.2-1.2.2,2.8.2-2.9.2,4.3.2-1.6.2,2.7.2-5.7.2,2.3.2-2.2.2,1.7.2,.8.2-1.3.2-.5.2,.0.2,3.4.2,2.2.2,.2.2-1.4.2-1.2.2,.5.2-1.4.2-.3.2,3.1.2-2.3.2,.0.2-1.3.2,2.5.2-.2.2-3.5.2-.1.2-.9.2,1.7.2-.7.2-2.5.2,4.6.2-2.7.2-2.7.2-1.4.2,2.5.2,1.3.2-1.2.2,1.2.2,1.4.2-1.6.2,.9.2,1.4.2-1.7.2-3.4.2,3.5.2,.5.2,1.9.2-3.2.2-1.5.2,3.8.2,1.0.2-1.4.2,2.4.2-.1.2,2.0.2-2.6.2,.4.2,1.4.2-.2.2,3.9.2-.4.2-.7.2,3.3.2-1.1.2,1.6.2,.1.2-.6.2,.3.2-.9.2-2.3.2,.5.2,1.0.2-1.8.2-1.8.2,3.8.2-7.0.2,1.8.2-.9.2-.6.2-2.6.2,1.8.2-.3.2,2.0.2-1.0.2,.6.2,.0.2,2.8.2-1.8.2,.6.2-2.4.2,1.6.2-3.3.2,2.7.2-2.9.2-2.1.2-.9.2,1.1.2,.2.2-1.7.2-.1.2,.1.2-.3.2-.3.2,.5.2,1.3.2-.5.2-2.0.2,3.4.2-.7.2-2.8.2,1.4.2-2.2.2-.2.2,.6.2,3.5.2-.1.2-1.3.2-.3.2,.3.2,1.8.2,.8.2,3.1.2-3.6.2,3.5.2-.6.2-3.4.2,4.2.2,1.2.2-1.2.2-1.6.2-.9.2-3.9.2,3.4.2-.9.2-2.4.2-1.0.2,.2.2,3.8.2-5.8.2,.2.2-1.3.2,3.0.2,1.4.2-.2.2-.1.2,3.4.2,.5.2,2.2.2-.8.2-2.6.2,3.7.2-.3.2,4.0.2-1.5.2,1.5.2,1.2.2-1.6.2,2.5.2,3.3.2-1.9.2,1.3.2,1.5.2-.1.2,.8.2,1.0.2-1.0.2,1.6.2,.5.2-.6.2,.4.2,5.0.2,.3.2-1.5.2,1.4.2,.3.2-.2.2-1.9.2-.5.2,.9.2,1.4.2,3.4.2,.7.2-2.5.2-.7.2,1.7.2,1.0.2-3.7.2,1.4.2-1.1.2-.7.2-.2.2-.6.2,1.2.2-1.9.2,3.6.2,2.7.2,1.8.2,1.8.2,1.2.2,1.4.2,4.0.2-1.1.2,1.9.2,3.0.2-2.4.2-2.4.2,.0.2-.9.2-.5.2-1.5.2,1.2.2-.9.2-.9.2-3.0.2,2.0.2-1.6.2-.7.2-5.7.2-1.9.2,.7.2-6.0.2,.2.2-2.1.2-2.1.2-4.1.2,1.9.2-.9.2,6.3.2-.4.2,2.6.2,2.1.2,2.4.2,2.1.2,1.6.2,.5.2,1.5.2-.3.2,1.1.2,1.4.2,1.5.2,.8.2,2.9.2,2.8.2,.8.2,.4.2,1.7.2,1.2.2,2.3.2-8.1.2,1.8.2-3.8.2,3.1.2-3.6.2,.4.2-2.2.2,.1.2-7.1.2,3.2.2,3.0.2-1.6.2,4.3.2,2.1.2-2.6.2,2.6.2,3.1.2,2.8.2,.3.2,.4.2-2.4.2,.6.2-.3.2-2.0.2,.4.2-1.9.2-.9.2,2.5.2-3.3.2,1.8.2-4.9.2,.2.2-1.9.2,.7.2,3.8.2-3.8.2-3.0.2,4.5.2-4.0.2,.5.2,.4.2-3.7.2,5.1.2-1.0.2-2.9.2,.3.2-2.6.2-.8.2-1.1.2-3.1.2,.8.2-1.3.2,3.2.2-5.6.2,3.2.2-1.1.2-2.3.2-1.8.2,3.0.2-.4.2-2.2.2-4.1.2,3.5.2,2.1.2-4.2.2,1.5.2,1.8.2-4.2.2,1.9.2,1.9.2-2.4.2,.4.2-3.1.2,2.7.2-2.3.2,3.1.2-1.6.2-1.8.2,2.0.2-.4.2-1.1.2,.7.2-1.9.2-5.0.2,5.3.2-.5.2-2.6.2-.3.2,2.4.2-2.6.2-.9.2-.1.2,3.9.2-4.1.2-2.7.2,4.2.2-.6.2-1.7.2,3.0.2-1.0.2,2.1.2-2.0.2,2.4.2,.1.2-1.0.2,1.6.2,.9.2-1.8.2-3.6.2,2.0.2-.1.2,1.1.2-2.5.2,.9.2-3.3.2-.7.2-.3.2,.8.2,.1.2,1.6.2-1.0.2,.5.2,1.3.2,.5.2-.2.2,1.8.2,.8.2,2.6.2-3.6.2,6.0.2-5.9.2,1.7.2,3.6.2-1.2.2,.9.2,.0.2-1.0.2,1.9.2-.7.2,.1.2,.0.2,.0.2-1.1.2,1.4.2-5.6.2,2.0.2,3.8.2-.6.2-.3.2,.2.2-1.1.2-1.1.2-4.0.2,2.9.2,.1.2,1.8.2-3.8.2,.1.2,1.5.2-2.0.2,1.6.2,1.2.2-1.2.2,.0.2-3.4.2,1.0.2,1.4.2,2.0.2-3.3.2-.6.2-.9.2,2.0.2-3.5.2,2.0.2-2.2.2,1.2.2-1.9.2,1.1.2,1.9.2-2.5.2-.8.2-2.6.2,4.7.2-1.4.2,1.1.2,.0.2-1.1.2,1.0.2-1.2.2,4.3.2-1.3.2,.2.2,1.1.2,.6.2-1.1.2,.3.2,1.7.2-5.9.2,3.9.2-1.7.2,.4.2-4.3.2,2.1.2,3.1.2-3.2.2,2.2.2-1.8.2,1.4.2-1.3.2,1.6.2-1.9.2,3.5.2-3.5.2,2.7.2-1.2.2,.8.2,2.6.2-2.7.2-.6.2-1.7.2,4.2.2-1.6.2,3.0.2-1.7.2-1.2.2-.2.2,.9.2,.2.2,.7.2-1.2.2-.7.2,1.0.2-2.7.2,5.0.2-.4.2-1.1.2,2.9.2-2.7.2,4.0.2-2.7.2-.7.2,4.2.2-4.5.2,2.8.2-2.3.2,.5.2-.1.2-.4.2,2.7.2-1.1.2-2.8.2,4.2.2-3.5.2-.5.2,1.2.2-2.2.2,3.5.2-3.5.2-.5.2,4.1.2-3.4.2,.9.2-1.4.2,1.3.2,.5.2-4.7.2,3.8.2-.9.2,3.6.2,1.1.2-2.8.2,.6.2,.4.2,.1.2-3.1.2,.4.2,.7.2-1.5.2,1.9.2,3.4.2-4.3.2,1.2.2,1.0.2-2.3.2,.5.2-.3.2,.2.2-1.5.2-1.1.2,2.1.2,.5.2-1.5.2,.2.2-2.7.2,2.3.2,.4.2-1.0.2,.0.2-.8.2-.2.2,1.1.2,2.8.2-3.2.2-1.2.2,1.4.2-.3.2,2.3.2,.4.2-3.3.2-.3.2,1.1.2,.6.2-1.9.2,3.3.2-2.1.2,1.7.2-.4.2,.9.2-1.4.2,.4.2,2.0.2-1.1.2,1.9.2-3.9.2,1.5.2-1.6.2-.6.2,1.9.2,2.6.2-2.3.2,2.0.2-5.1.2,3.4.2-2.0.2,1.6.2,1.4.2-1.3.2,1.7.2-2.7.2,.8.2-.6.2,1.3.2-.3.2-3.1.2,3.0.2,.1.2,2.8.2-6.8.2,3.8.2,1.5.2,1.6.2-.3.2-2.0.2,2.0.2-2.2.2-.7.2-.5.2-.2.2,2.7.2-4.0.2,.5.2,3.7.2-1.0.2,1.0.2-1.3.2,1.0.2-1.9.2-.3.2,2.1.2-1.6.2-.1.2-.3.2,2.7.2-1.8.2-1.4.2-1.7.2,1.5.2-2.0.2,1.1.2-.5.2,.3.2,1.7.2-4.8.2,6.9.2-1.5.2-1.1.2-.7.2,1.4.2-.4.2,2.9.2-2.3.2-1.7.2-.8.2,.2.2,4.4.2-3.5.2,3.9.2-.8.2-2.2.2,1.8.2-5.2.2-.8.2,4.1.2,.1.2,.6.2-.3.2-2.0.2,2.5.2-1.5.2,2.0.2-1.5.2-1.8.2,2.9.2,.3.2-.8.2-2.2.2-1.1.2,3.3.2-1.7.2-.3.2,1.9.2-.5.2-.5.2-1.1.2,3.2.2-4.6.2,1.5.2,.5.2-2.8.2,.5.2,1.9.2-1.3.2-1.7.2,3.4.2-2.6.2,.1.2,2.9.2-5.0.2,1.7.2-.5.2,3.4.2-3.7.2,4.4.2-2.4.2-.2.2,1.2.2-1.5.2-2.1.2,.7.2,1.2.2-1.5.2,1.6.2-1.7.2,.9.2,.3.2,2.5.2,1.2.2-.2.2-3.0.2-1.2.2,2.6.2,.7.2-.4.2-2.5.2,1.2.2-.8.2,1.4.2-.5.2-.8.2-.9.2,3.1.2-2.4.2,.8.2,.1.2,.2.2,.6.2-2.4.2-.6.2,.8.2-5.8.2,5.8.2-.8.2,2.0.2-.5.2,2.0.2-4.1.2,.9.2-.9.2,1.2.2,.5.2-2.2.2,2.1.2-1.8.2,1.5.2-.3.2,1.6.2-1.1.2,2.5.2-2.8.2-.7.2,2.1.2-2.9.2,2.7.2,.6.2-.2.2,.2.2-.2.2,1.8.2-2.2.2-3.3.2,2.7.2,1.2.2,.4.2-.8.2-1.3.2-1.5.2,3.5.2-3.1.2-.6.2-2.1.2,6.7.2-2.4.2-2.8.2,3.9.2-.2.2-3.4.2,3.1.2-1.1.2,.6.2,1.6.2-3.0.2,3.7.2-3.3.2-1.6.2,2.2.2-5.3.2,3.1.2,1.5.2-2.4.2-.3.2,2.8.2,.2.2-.6.2,2.1.2-2.7.2,3.2.2-2.9.2,1.9.2-2.3.2,2.9.2-.6.2-.5.2,1.0.2,.0.2,1.4.2-2.1.2,.9.2-1.5.2-.5.2,.1.2-1.0.2,2.2.2-.8.2,.9.2-2.8.2,2.0.2,2.2.2-.8.2-2.5.2-.1.2,.6.2,1.5.2,1.1.2-1.9.2,.3.2-.7.2,.8.2,2.6.2-4.1.2,1.9.2-2.4.2,.3.2-1.4.2,1.1.2,2.7.2,.6.2-.8.2-1.1.2,1.9.2-2.8.2-.5.2,1.2.2,.2.2-2.9.2,1.1.2,3.9.2-3.4.2,.5.2,.3.2,2.6.2-.9.2-.6.2-.4.2-2.4.2,.8.2,1.6.2-.8.2,.7.2,.3.2,3.3.2-1.9.2-3.5.2,2.3.2-.2.2-.7.2,.0.2,1.2.2,2.4.2-3.2.2,.1.2-.9.2-1.1.2,2.2.2-.9.2,1.8.2,.6.2,2.4.2-3.2.2,.1.2,.8.2,1.9.2-2.9.2,.1.2-.5.2,.2.2-2.1.2-.5.2,.9.2,1.1.2,1.1.2-2.0.2,.7.2,.9.2-.2.2,.5.2-2.6.2,3.9.2-3.8.2-.5.2-1.1.2,1.9.2,1.3.2-1.5.2-.3.2,.2.2,3.3.2-1.9.2-1.3.2,1.4.2,1.4.2-1.3.2,.4.2-.1.2-.4.2,1.0.2,1.8.2-2.1.2-.8.2-1.1.2,1.8.2-1.2.2-.6.2,2.9.2-.3.2,.5.2-.6.2-1.5.2,1.4.2-.3.2,1.4.2-2.8.2,.6.2,.5.2,2.4.2-2.1.2-2.5.2-.5.2,2.4.2-2.5.2-.2.2,2.3.2-.9.2,1.4.2,.4.2-.8.2-1.7.2,3.9.2-.2.2-2.0.2,.4.2-2.2.2,4.2.2-2.9.2,2.1.2-.8.2,1.1.2-2.3.2-1.0.2,1.7.2,.1.2-1.6.2,1.2.2-2.7.2,3.8.2-2.2.2,2.8.2-.5.2-.3.2,.1.2-2.3.2,1.0.2-.7.2,.6.2-1.1.2,4.7.2-2.6.2,1.1.2-2.2.2,4.1.2-2.7.2-.2.2,.2.2-1.7.2-.8.2,3.0.2-1.6.2,1.4.2,3.4.2-3.6.2,2.8.2-2.9.2-1.1.2,2.3.2,.5.2-.6.2-2.6.2-.8.2,3.3.2,2.0.2-.5.2-3.0.2,.1.2,1.0.2,1.2.2-1.0.2-.1.2-.7.2-4.1.2,2.3.2,2.4.2-3.0.2,5.7.2-4.4.2,2.6.2,.6.2-.6.2-3.8.2,1.7.2,2.9.2-1.9.2,.9.2-4.5.2,3.4.2,.2.2-.1.2-2.4.2,1.9.2,.2.2,.2.2-.7.2,3.2.2,.0.2-2.0.2,3.4.2-4.8.2,2.3.2,2.2.2-1.2.2-.4.2,.8.2-1.2.2,1.8.2-2.9.2,1.3.2-.5.2,.1.2-1.1.2,1.3.2,1.4.2-1.9.2,3.1.2-2.9.2-.5.2-.1.2-.8.2,.0.2,.2.2,1.0.2-.5.2,3.6.2-2.8.2,.1.2,.5.2,1.7.2-.3.2,.8.2,.2.2,1.2.2-3.9.2,2.4.2-1.0.2,.1.2-1.7.2,1.5.2-.6.2-.5.2-1.8.2,2.8.2-2.1.2-.5.2,3.1.2-1.6.2-2.1.2,1.8.2,.5.2,1.2.2-1.4.2-.8.2,.1.2-.2.2,1.6.2-1.1.2,1.9.2-2.0.2,3.0.2-1.9.2,.2.2,.3.2,.0.2,3.2.2-3.3.2,.0.2,.6.2,1.1.2-2.3.2,3.6.2-3.1.2,1.0.2,.8" fill="none" stroke="#00f" stroke-width="0.9" stroke-linejoin="bevel"/>
<path d="M47.0,253.3H304.5M47.0,436.0H304.5" stroke="#000" stroke-width="2.0" fill="none"/>
<path d="M47.0,252.3V437.0M304.5,252.3V437.0" stroke="#000" stroke-width="3.0" fill="none"/>
<text transform="translate(37.72,438.61) scale(1.650,1)" font-size="7.00" fill="#000">1</text>
<text transform="translate(29.06,402.04) scale(1.650,1)" font-size="7.00" fill="#000">1.2</text>
<text transform="translate(28.59,365.50) scale(1.650,1)" font-size="7.00" fill="#000">1.4</text>
<text transform="translate(28.71,328.92) scale(1.650,1)" font-size="7.00" fill="#000">1.6</text>
<text transform="translate(28.82,292.38) scale(1.650,1)" font-size="7.00" fill="#000">1.8</text>
<text transform="translate(37.72,255.88) scale(1.650,1)" font-size="7.00" fill="#000">2</text>
<text transform="translate(44.02,443.45) scale(1.700,1)" font-size="7.00" fill="#000">0</text>
<text transform="translate(83.62,443.45) scale(1.700,1)" font-size="7.00" fill="#000">20000</text>
<text transform="translate(135.24,443.45) scale(1.700,1)" font-size="7.00" fill="#000">40000</text>
<text transform="translate(186.62,443.45) scale(1.700,1)" font-size="7.00" fill="#000">60000</text>
<text transform="translate(238.12,443.45) scale(1.700,1)" font-size="7.00" fill="#000">80000</text>
<text transform="translate(286.29,443.52) scale(1.700,1)" font-size="7.00" fill="#000">1e+005</text>
<text transform="translate(153.16,451.30) scale(1.557,1)" font-size="7.70">Time (ps)</text>
<text transform="translate(20.88,357.03) scale(1.490,1) rotate(-90)" font-size="7.57" fill="#000">R<tspan font-size="92%" dy="0.06em">g</tspan><tspan dy="-0.055em"> (nm)</tspan></text>
<text transform="translate(9.02,452.28) scale(0.966,1)" font-size="22.42" font-weight="bold" fill="#000">C</text>
<path d="M414.00,435.6v-3.5M414.00,253.8v3.5M439.00,435.6v-7M439.00,253.8v7M464.00,435.6v-3.5M464.00,253.8v3.5M489.00,435.6v-7M489.00,253.8v7M514.00,435.6v-3.5M514.00,253.8v3.5M539.00,435.6v-7M539.00,253.8v7M564.00,435.6v-3.5M564.00,253.8v3.5M589.00,435.6v-7M589.00,253.8v7M614.00,435.6v-3.5M614.00,253.8v3.5M389.0,417.42h3.5M639.0,417.42h-3.5M389.0,399.24h7M639.0,399.24h-7M389.0,381.06h3.5M639.0,381.06h-3.5M389.0,362.88h7M639.0,362.88h-7M389.0,344.70h3.5M639.0,344.70h-3.5M389.0,326.52h7M639.0,326.52h-7M389.0,308.34h3.5M639.0,308.34h-3.5M389.0,290.16h7M639.0,290.16h-7M389.0,271.98h3.5M639.0,271.98h-3.5" stroke="#333" stroke-width="0.9" fill="none"/>
<path d="M390.00,316.4l.142857,7.0.142857-18.6.142857,21.8.142857-9.4.142857-3.4.142857,1.5.142857,1.0.142857,8.3.142857,10.4.142857,.4.142857,2.8.142857-10.9.142857,.1.142857,19.9.142857-3.5.142857,7.5.142857-4.5.142857-13.1.142857,14.8.142857-4.6.142857-1.9.142857-6.4.142857,5.4.142857,8.7.142857,.9.142857-4.3.142857,8.8.142857-14.4.142857,10.1.142857-.1.142857-5.1.142857-1.8.142857,14.8.142857-2.6.142857-4.4.142857,3.5.142857-4.6.142857,5.7.142857-6.8.142857,7.4.142857,4.5.142857-7.8.142857,9.4.142857-12.5.142857,4.7.142857-5.0.142857,9.1.142857,2.4.142857-2.1.142857,1.4.142857,9.8.142857,1.0.142857-18.5.142857,14.7.142857-19.5.142857,4.3.142857,1.1.142857,.6.142857-10.0.142857,.4.142857,3.1.142857-3.7.142857-.2.142857,7.6.142857,1.7.142857-5.0.142857,2.5.142857-.1.142857-2.5.142857,1.0.142857-3.7.142857,10.1.142857-5.6.142857-.8.142857,.8.142857,4.1.142857,5.7.142857-9.9.142857-2.4.142857,3.4.142857-7.4.142857,11.7.142857-3.6.142857-2.0.142857-1.8.142857,4.4.142857,2.6.142857-2.4.142857-4.3.142857-7.8.142857,14.4.142857-6.2.142857-.9.142857,10.0.142857-4.5.142857-11.7.142857,6.3.142857-.4.142857,8.5.142857-15.7.142857,7.4.142857,2.3.142857,9.9.142857-15.6.142857-12.3.142857,9.6.142857,12.2.142857,1.6.142857,4.8.142857-8.7.142857-7.3.142857,11.3.142857-6.0.142857-3.6.142857,.2.142857,6.5.142857-12.3.142857-.2.142857,4.8.142857,1.2.142857-6.1.142857-.1.142857,9.5.142857,4.4.142857-2.6.142857,1.4.142857,3.1.142857-11.3.142857-6.1.142857,5.7.142857-3.9.142857,1.1.142857,7.3.142857-8.2.142857,4.3.142857-9.1.142857,6.6.142857,13.5.142857-13.0.142857,5.7.142857,3.9.142857-7.5.142857,6.2.142857-2.4.142857,3.7.142857-9.4.142857-3.6.142857,5.0.142857,3.3.142857,6.6.142857-4.0.142857-.8.142857,.8.142857,12.7.142857-15.6.142857,13.0.142857-14.5.142857,3.6.142857,10.6.142857-3.5.142857-7.8.142857,3.4.142857-3.5.142857,9.3.142857-3.9.142857-7.5.142857,7.3.142857-4.0.142857,.4.142857-.4.142857-2.6.142857,5.2.142857,3.0.142857,.3.142857,4.7.142857-8.3.142857-7.9.142857,6.5.142857,4.2.142857,.8.142857,3.6.142857,1.6.142857-4.5.142857,.9.142857-4.0.142857,10.4.142857-9.7.142857-6.1.142857-.5.142857,3.4.142857,13.9.142857-4.7.142857-16.1.142857,9.1.142857,1.6.142857,1.6.142857-1.1.142857-5.1.142857,6.2.142857-7.1.142857-10.6.142857,10.5.142857,1.0.142857,9.6.142857,1.6.142857-14.5.142857,6.8.142857-.1.142857-8.5.142857-2.3.142857,12.0.142857,1.8.142857-4.2.142857-13.8.142857,16.1.142857-1.6.142857-1.0.142857,3.0.142857-4.8.142857,12.0.142857-1.8.142857-1.7.142857,6.0.142857-2.6.142857-9.6.142857,6.0.142857-.6.142857-6.7.142857,8.6.142857,5.0.142857-4.8.142857,12.2.142857,1.4.142857-12.3.142857,3.5.142857,8.2.142857-15.2.142857-4.1.142857,3.1.142857-6.3.142857,1.0.142857,8.5.142857-4.2.142857,3.5.142857,1.9.142857-7.0.142857,4.7.142857-.7.142857-3.0.142857-.5.142857,9.0.142857-1.8.142857,.6.142857,4.3.142857-.2.142857-12.9.142857,2.7.142857,3.7.142857,2.3.142857,3.2.142857-11.2.142857,2.1.142857,4.2.142857,6.8.142857-.5.142857-14.8.142857,5.1.142857-5.7.142857,9.0.142857-4.2.142857-5.5.142857-1.6.142857,5.0.142857,5.7.142857-9.9.142857,2.6.142857,3.5.142857,1.0.142857,.8.142857-8.8.142857,2.2.142857-8.1.142857,10.7.142857,6.2.142857-15.6.142857,8.5.142857,11.2.142857-3.8.142857-10.1.142857,20.4.142857-16.1.142857,14.3.142857-12.6.142857,.7.142857,7.1.142857-.2.142857,1.4.142857-.9.142857-6.3.142857,9.0.142857-1.9.142857-3.7.142857-1.8.142857-1.8.142857-.1.142857,5.4.142857-.6.142857-1.7.142857,4.8.142857-6.2.142857,5.0.142857,1.6.142857-12.3.142857,4.5.142857,10.0.142857-13.2.142857,13.6.142857-13.1.142857,10.2.142857-9.0.142857,2.6.142857,2.9.142857-2.4.142857,8.4.142857-2.9.142857-.3.142857-2.6.142857,8.2.142857-1.7.142857-4.8.142857-7.9.142857,9.2.142857,.8.142857-1.0.142857,3.2.142857-1.5.142857-6.4.142857,6.1.142857-2.2.142857,2.0.142857-5.4.142857,.1.142857,5.2.142857,8.2.142857,6.7.142857-15.7.142857-4.8.142857,3.7.142857-.9.142857,.3.142857,5.2.142857-8.7.142857,8.8.142857,2.2.142857,3.5.142857,.2.142857-9.4.142857,15.5.142857-16.5.142857,3.7.142857-1.5.142857,2.2.142857,4.1.142857-7.4.142857,13.0.142857-2.6.142857-4.9.142857,.7.142857-11.7.142857-5.9.142857,14.7.142857,1.3.142857-.7.142857-9.1.142857,4.8.142857,12.7.142857-6.7.142857-1.1.142857-6.1.142857,5.6.142857,4.4.142857-2.2.142857-5.7.142857,3.5.142857-6.5.142857-3.9.142857,12.0.142857-7.7.142857,3.5.142857,10.9.142857-7.2.142857,6.0.142857-7.3.142857-2.7.142857,7.9.142857-1.3.142857-8.4.142857,4.2.142857,1.5.142857,10.8.142857-13.0.142857,3.8.142857,3.4.142857-1.5.142857-6.8.142857,15.3.142857-1.6.142857-23.4.142857,21.6.142857-1.0.142857,3.0.142857-6.4.142857,4.5.142857,6.3.142857-2.1.142857,.1.142857-4.8.142857-5.8.142857,3.2.142857-13.5.142857,20.3.142857-12.3.142857,1.5.142857-1.8.142857,2.3.142857-17.1.142857,15.5.142857-6.6.142857,1.3.142857-4.8.142857,1.4.142857,13.2.142857-5.7.142857,1.4.142857-.8.142857-6.2.142857,1.9.142857-5.0.142857,6.8.142857-11.3.142857,10.0.142857,6.5.142857,1.7.142857-1.4.142857-6.8.142857-4.8.142857,12.1.142857-1.0.142857-1.2.142857-8.1.142857,10.8.142857,6.5.142857-6.6.142857-4.4.142857,4.9.142857-2.7.142857,2.7.142857,3.5.142857-2.6.142857-4.2.142857,3.6.142857-7.3.142857-1.4.142857,8.5.142857-5.8.142857,4.8.142857-12.1.142857,21.4.142857-11.1.142857,12.1.142857-23.9.142857,5.0.142857,17.2.142857-6.3.142857,.9.142857-2.2.142857-.1.142857,2.5.142857-3.0.142857-1.1.142857,8.1.142857-5.7.142857-4.5.142857,4.6.142857,4.5.142857-7.3.142857,.8.142857,4.3.142857,1.6.142857,4.1.142857-10.0.142857,2.8.142857,5.5.142857-15.8.142857,13.9.142857,2.1.142857-4.3.142857-5.2.142857,9.6.142857,3.7.142857-6.5.142857-3.2.142857,2.2.142857,8.8.142857-2.4.142857-6.8.142857-6.5.142857-1.1.142857,4.2.142857,.1.142857,3.1.142857-9.1.142857,6.3.142857,3.0.142857-13.9.142857,26.4.142857-9.9.142857,.9.142857-11.7.142857,1.0.142857,10.7.142857-2.2.142857-21.0.142857,22.3.142857-3.3.142857-1.2.142857-10.7.142857,9.4.142857-5.3.142857,8.0.142857,6.8.142857-6.2.142857,2.4.142857-7.1.142857-5.3.142857,6.2.142857,6.4.142857,2.0.142857-8.2.142857,2.1.142857-3.1.142857-8.5.142857,11.2.142857,.2.142857-3.6.142857,.2.142857-10.2.142857,11.6.142857,8.8.142857-8.1.142857,1.7.142857-1.9.142857-7.6.142857,6.2.142857-7.2.142857,22.1.142857-15.2.142857-7.2.142857-1.6.142857,18.8.142857-6.5.142857-2.1.142857-10.0.142857,5.6.142857-4.2.142857,15.3.142857-10.3.142857,14.4.142857-8.1.142857-4.5.142857,9.4.142857-23.6.142857,9.8.142857,2.0.142857,10.8.142857-1.1.142857-2.4.142857-13.0.142857,8.5.142857-4.0.142857,12.9.142857-10.1.142857,6.2.142857,8.0.142857-12.7.142857,3.2.142857-6.5.142857,2.4.142857-.6.142857,.1.142857,2.1.142857-1.3.142857,13.9.142857-13.6.142857,7.3.142857-2.0.142857-14.1.142857,18.3.142857-4.3.142857-8.7.142857,2.3.142857-3.0.142857,10.3.142857,6.4.142857-4.5.142857-13.9.142857-1.5.142857,14.5.142857,7.0.142857-9.6.142857,5.9.142857-12.9.142857,8.1.142857,4.0.142857-7.4.142857-1.0.142857,6.6.142857-7.4.142857-1.8.142857,10.0.142857-3.0.142857-8.2.142857,9.1.142857-8.0.142857,7.2.142857-4.6.142857-2.6.142857-3.1.142857,5.7.142857-1.5.142857,13.6.142857-13.1.142857-8.8.142857,21.0.142857-24.3.142857,23.0.142857-13.7.142857,14.1.142857-10.2.142857,7.2.142857-2.8.142857-.8.142857,3.9.142857-7.9.142857,6.1.142857-9.1.142857,2.7.142857,4.9.142857-1.3.142857,8.9.142857-13.3.142857,1.4.142857,1.4.142857,2.8.142857,6.5.142857-6.6.142857,2.1.142857-.1.142857,2.2.142857-13.2.142857,16.5.142857-3.0.142857-4.3.142857,3.0.142857-4.2.142857,13.5.142857-1.7.142857,12.8.142857-20.2.142857-.6.142857,2.5.142857-6.6.142857,6.9.142857,2.4.142857,5.4.142857-3.1.142857-5.4.142857,11.3.142857-3.2.142857,1.8.142857-13.5.142857,2.6.142857,4.0.142857,.2.142857-11.6.142857,19.6.142857-9.2.142857,8.5.142857,.5.142857,3.2.142857-6.6.142857-1.0.142857-7.1.142857,6.0.142857,10.4.142857-22.4.142857,9.1.142857,5.4.142857,10.2.142857-15.8.142857,3.9.142857,1.5.142857,17.6.142857-21.9.142857,5.7.142857,4.8.142857-11.2.142857,7.7.142857-.6.142857-4.1.142857,3.8.142857,10.6.142857-9.5.142857-2.5.142857-1.4.142857,5.8.142857,6.4.142857-4.3.142857,1.9.142857,14.1.142857-19.4.142857-2.9.142857,8.2.142857-3.5.142857,1.0.142857,2.5.142857-5.6.142857-.7.142857,5.6.142857-1.2.142857-2.4.142857-4.4.142857,8.5.142857-6.0.142857-7.1.142857,14.5.142857-13.2.142857,.9.142857,6.8.142857-11.8.142857,9.0.142857-4.1.142857-2.8.142857,10.2.142857,6.6.142857-16.0.142857,12.4.142857,.0.142857,2.3.142857-16.3.142857,1.1.142857,13.9.142857-11.8.142857-.2.142857,7.0.142857-1.3.142857-7.2.142857,3.5.142857,5.9.142857-2.3.142857-5.2.142857,12.0.142857-2.2.142857-7.8.142857-.5.142857,9.3.142857-19.6.142857,15.7.142857-3.9.142857-.7.142857,9.6.142857-3.9.142857,14.1.142857-20.0.142857,3.7.142857-14.1.142857,19.5.142857-7.6.142857,6.9.142857,8.3.142857-1.1.142857-3.0.142857,2.1.142857-11.5.142857-.9.142857-3.6.142857,16.0.142857,5.3.142857-13.1.142857,1.7.142857-1.9.142857,3.3.142857-13.2.142857,17.2.142857,2.5.142857-10.4.142857-2.6.142857,.5.142857,7.8.142857-.7.142857-9.1.142857-3.8.142857,12.7.142857,1.4.142857,4.2.142857-10.2.142857,8.5.142857,3.3.142857-16.4.142857,9.3.142857,6.0.142857-.2.142857-8.9.142857-8.9.142857,5.4.142857-2.5.142857,4.3.142857,8.3.142857-9.8.142857,6.4.142857-7.4.142857,13.5.142857-9.2.142857-.8.142857,18.0.142857-11.0.142857,.7.142857-15.7.142857,20.9.142857,1.2.142857-10.7.142857,.6.142857-2.3.142857,11.4.142857-14.4.142857,7.7.142857,9.4.142857-10.2.142857,11.0.142857-11.6.142857-.9.142857,8.1.142857-6.8.142857-1.8.142857-2.2.142857-3.5.142857,6.0.142857,6.5.142857,3.0.142857-6.5.142857,1.4.142857-7.2.142857,5.1.142857-.7.142857,.2.142857,2.4.142857,3.8.142857,5.6.142857-.8.142857-2.1.142857-11.1.142857,3.5.142857,4.4.142857-.6.142857,2.2.142857-15.1.142857,11.1.142857,1.4.142857-.9.142857-14.4.142857,12.8.142857-2.8.142857,3.1.142857-14.9.142857,6.5.142857,10.1.142857-5.8.142857-4.5.142857,2.4.142857-5.7.142857,14.7.142857-.8.142857-2.6.142857,1.2.142857-2.0.142857,6.6.142857-3.3.142857,5.1.142857-9.1.142857-.1.142857-4.7.142857,1.6.142857-5.6.142857,18.4.142857,.3.142857-2.1.142857,1.6.142857-4.5.142857,.9.142857-11.5.142857,5.9.142857-10.7.142857,6.6.142857,2.4.142857-1.1.142857-5.6.142857,13.5.142857-1.6.142857-7.3.142857-4.9.142857,5.3.142857,8.5.142857-16.9.142857,15.5.142857-2.8.142857-1.1.142857,8.5.142857-5.0.142857-3.3.142857,8.7.142857-16.2.142857,18.0.142857-14.4.142857,2.0.142857,13.3.142857,10.6.142857-11.3.142857-13.7.142857-7.4.142857,14.7.142857-2.8.142857-3.1.142857,3.8.142857-1.9.142857,8.9.142857-3.8.142857-.7.142857-12.0.142857,13.5.142857-10.7.142857,13.5.142857-4.7.142857-10.6.142857,10.1.142857-5.3.142857,12.6.142857-1.6.142857,3.7.142857-9.7.142857,7.3.142857-10.7.142857,10.4.142857-5.7.142857,4.1.142857-2.5.142857,5.8.142857-6.8.142857,.3.142857,8.9.142857-8.6.142857-3.9.142857-1.8.142857,5.1.142857-1.1.142857,2.9.142857-4.5.142857,2.6.142857-6.3.142857,10.2.142857-9.0.142857,6.9.142857-1.4.142857-9.0.142857,12.2.142857-7.5.142857,6.4.142857-18.3.142857,.5.142857-2.5.142857,1.9.142857,9.4.142857,2.7.142857-7.5.142857,1.7.142857-8.4.142857,16.5.142857-2.3.142857-3.5.142857,3.9.142857,7.3.142857-5.4.142857-12.9.142857,7.9.142857-.5.142857,6.2.142857-4.6.142857,2.1.142857-12.9.142857,16.4.142857-1.2.142857-.5.142857-3.5.142857-6.8.142857,.2.142857,6.9.142857,1.9.142857-10.7.142857-.9.142857-6.3.142857,7.5.142857,1.0.142857,4.6.142857,4.4.142857-7.8.142857-5.0.142857,3.6.142857,1.4.142857,1.0.142857-.3.142857-2.5.142857,5.8.142857-3.4.142857-5.4.142857,7.1.142857,13.4.142857-14.5.142857,18.7.142857-18.7.142857,8.7.142857-16.3.142857,8.8.142857,8.8.142857-15.8.142857,2.1.142857,6.3.142857,.3.142857-10.2.142857,.6.142857,9.4.142857,1.0.142857,3.0.142857-6.2.142857,4.4.142857,4.3.142857-14.3.142857,13.3.142857-1.4.142857,4.3.142857-9.2.142857,5.9.142857,2.1.142857-3.0.142857,9.3.142857-5.6.142857-7.4.142857,8.0.142857-6.7.142857-3.4.142857,2.1.142857,6.3.142857-.1.142857-1.9.142857,4.2.142857,9.3.142857-18.8.142857,10.8.142857-1.3.142857-10.5.142857,4.5.142857,4.2.142857-.6.142857-6.9.142857,10.1.142857-2.2.142857,1.0.142857,4.5.142857-15.6.142857,15.6.142857-1.4.142857-9.8.142857,6.5.142857-3.7.142857-4.7.142857,11.1.142857-7.9.142857-6.2.142857,16.3.142857-7.4.142857,3.7.142857-.9.142857-1.6.142857-.5.142857-13.4.142857,13.7.142857-5.0.142857,9.6.142857-7.3.142857,.8.142857,3.6.142857-7.5.142857,2.1.142857,1.1.142857,2.8.142857-11.1.142857,12.8.142857-3.6.142857,4.3.142857-1.9.142857,2.8.142857,1.7.142857-12.5.142857,13.4.142857-8.4.142857,7.2.142857-14.1.142857,4.2.142857,1.3.142857-4.8.142857,4.8.142857,8.4.142857-.8.142857-3.4.142857-3.6.142857-3.0.142857,16.2.142857-20.9.142857,.6.142857,1.8.142857,5.4.142857-4.8.142857,8.6.142857-14.2.142857,13.2.142857,4.8.142857-5.0.142857-5.0.142857-1.2.142857,10.3.142857-16.7.142857,4.6.142857-4.5.142857,10.2.142857,12.9.142857-13.2.142857,7.5.142857-13.1.142857-4.3.142857,7.9.142857,9.7.142857-10.0.142857,1.8.142857,4.6.142857,10.1.142857-8.6.142857,11.1.142857-8.8.142857-4.6.142857,9.7.142857-10.5.142857,.1.142857,3.3.142857-9.6.142857,2.4.142857,4.4.142857,5.5.142857,4.8.142857,.5.142857-9.1.142857,1.4.142857-2.8.142857-6.4.142857,12.3.142857-10.0.142857,8.4.142857-6.9.142857-1.4.142857,7.7.142857-5.3.142857-4.1.142857,16.5.142857-3.9.142857-1.7.142857-2.7.142857-3.6.142857-14.3.142857,13.7.142857,.6.142857,4.6.142857-10.1.142857,8.7.142857-3.5.142857,8.1.142857-12.8.142857,4.5.142857,1.4.142857,4.3.142857,2.1.142857-3.4.142857-10.6.142857,16.8.142857-21.2.142857,14.6.142857,3.6.142857-12.5.142857,5.4.142857-.1.142857-5.1.142857,7.0.142857-6.4.142857,7.5.142857,.4.142857,4.1.142857,1.5.142857-5.9.142857,.0.142857-4.8.142857-.8.142857,5.7.142857-.2.142857-2.4.142857-2.8.142857,3.4.142857-11.0.142857,2.9.142857,3.5.142857,6.4.142857-12.3.142857,1.5.142857,.2.142857,11.3.142857,.0.142857,5.9.142857,1.6.142857-21.5.142857,6.0.142857-.9.142857-2.6.142857,6.5.142857-3.5.142857,5.0.142857-3.2.142857-6.1.142857,12.2.142857-1.4.142857-6.6.142857-10.3.142857-.3.142857,6.8.142857,9.5.142857-.2.142857-2.0.142857-1.3.142857-13.8.142857,16.3.142857-6.7.142857,2.6.142857-4.8.142857-4.7.142857,17.0.142857-4.9.142857-8.1.142857-4.1.142857,6.0.142857,9.8.142857-2.5.142857-2.4.142857,5.3.142857-2.6.142857-7.3.142857,8.6.142857-3.1.142857-3.9.142857,9.6.142857-4.2.142857-11.6.142857,13.1.142857-5.7.142857-3.3.142857,2.2.142857-4.5.142857-2.0.142857,12.6.142857,1.8.142857-3.5.142857,3.3.142857-5.2.142857-.7.142857,5.8.142857-.8.142857,5.4.142857-13.9.142857,5.5.142857-5.5.142857,3.9.142857,5.0.142857-5.5.142857-6.1.142857,2.3.142857-.6.142857,3.0.142857-1.3.142857,1.0.142857,1.4.142857,4.3.142857-6.5.142857,5.0.142857-.1.142857,6.3.142857-.9.142857,1.2.142857-1.8.142857,5.7.142857-6.8.142857-6.8.142857,10.3.142857-8.8.142857-6.1.142857,14.4.142857-3.8.142857,.3.142857,1.7.142857-5.2.142857,6.4.142857-3.8.142857-1.1.142857,2.7.142857-11.0.142857,16.4.142857-12.6.142857,10.3.142857-7.8.142857,5.8.142857-5.1.142857,13.3.142857-21.2.142857,11.1.142857-3.7.142857-3.6.142857,17.5.142857-10.1.142857,16.3.142857-13.1.142857-1.9.142857-.7.142857-9.8.142857-.2.142857,15.1.142857-3.5.142857-8.3.142857,3.6.142857,1.2.142857,6.1.142857-4.3.142857-6.7.142857,8.0.142857-8.9.142857,5.6.142857-6.2.142857-14.5.142857,27.4.142857-16.2.142857,11.0.142857-.6.142857-6.9.142857-3.2.142857,16.9.142857-8.6.142857,5.8.142857-5.1.142857,3.5.142857-1.8.142857-9.5.142857,4.5.142857,4.6.142857-9.0.142857,5.4.142857,.6.142857,7.7.142857,4.2.142857-21.6.142857,13.7.142857,7.1.142857-20.1.142857,.9.142857,13.1.142857-5.1.142857-4.5.142857,3.5.142857,2.6.142857-4.1.142857,2.7.142857-.7.142857-1.5.142857-1.1.142857,2.0.142857-5.8.142857,7.9.142857-8.0.142857,.2.142857-6.0.142857,3.7.142857,4.7.142857-1.6.142857,5.6.142857-9.8.142857,4.1.142857-8.1.142857,9.6.142857,7.2.142857-2.2.142857-4.4.142857,6.6.142857-2.4.142857-7.1.142857-.5.142857,1.8.142857,7.8.142857-.4.142857-.2.142857-4.6.142857,11.8.142857-10.7.142857,4.9.142857-3.6.142857,6.6.142857-15.5.142857,12.7.142857-7.8.142857-.2.142857-5.5.142857,1.0.142857,10.6.142857-1.8.142857-12.6.142857,10.1.142857-5.5.142857,9.1.142857-3.9.142857,4.8.142857-4.4.142857-.2.142857-4.2.142857-6.6.142857,5.5.142857,11.5.142857,1.9.142857-10.4.142857-.6.142857-.9.142857,4.5.142857-6.8.142857,2.6.142857,8.9.142857-.1.142857,5.6.142857-9.6.142857-11.2.142857,10.3.142857-1.1.142857,4.1.142857-3.7.142857,10.9.142857-11.6.142857,4.2.142857,8.5.142857-11.3.142857-10.5.142857,14.6.142857-4.0.142857-.3.142857,.8.142857-7.4.142857-.5.142857,5.1.142857-11.1.142857,7.8.142857,10.0.142857-15.1.142857,9.8.142857,4.6.142857-5.3.142857-3.7.142857,10.1.142857-15.4.142857,19.2.142857-13.1.142857,3.1.142857-5.1.142857-.3.142857,11.7.142857-5.6.142857,.7.142857-10.2.142857,4.4.142857-4.4.142857,6.7.142857,3.3.142857-.6.142857-1.0.142857-5.3.142857,5.5.142857-4.1.142857,11.4.142857-8.6.142857,8.2.142857-9.7.142857,6.2.142857-4.3.142857-8.9.142857,12.0.142857-8.8.142857-6.6.142857,12.4.142857,7.8.142857-2.2.142857-9.0.142857-2.8.142857-5.4.142857,11.0.142857-1.6.142857,3.5.142857,7.5.142857-7.3.142857,2.5.142857-6.3.142857,1.1.142857,1.0.142857,5.8.142857-3.6.142857,1.6.142857-.6.142857-.6.142857,1.8.142857,4.4.142857-12.0.142857,2.0.142857,2.4.142857,1.3.142857,5.6.142857-2.5.142857-3.0.142857,13.9.142857-1.2.142857-2.9.142857-8.5.142857,6.6.142857-7.6.142857-3.9.142857,5.8.142857-7.4.142857,1.7.142857,9.3.142857,2.5.142857-8.7.142857,9.6.142857,1.1.142857-.9.142857-4.6.142857-5.6.142857,10.2.142857-10.8.142857,5.0.142857,3.2.142857,3.2.142857-7.2.142857-.9.142857,.7.142857-2.0.142857,6.7.142857-.6.142857,3.6.142857-9.3.142857,4.4.142857-11.8.142857,2.9.142857,9.1.142857-9.0.142857-9.5.142857,8.7.142857,.8.142857-8.0.142857,12.5.142857,3.6.142857-6.3.142857,9.1.142857-16.9.142857,17.4.142857-6.0.142857,18.7.142857-18.2.142857-.9.142857,2.8.142857-2.6.142857-1.0.142857,5.0.142857-.5.142857-1.8.142857-.7.142857-5.8.142857,14.0.142857-16.5.142857,11.8.142857-7.8.142857,6.3.142857-6.4.142857,13.6.142857-7.5.142857,3.2.142857,2.4.142857-9.7.142857,1.4.142857-14.4.142857,14.2.142857,4.4.142857-7.3.142857,2.3.142857-3.3.142857-9.4.142857,16.0.142857-8.0.142857-4.1.142857,14.2.142857-2.7.142857,1.5.142857-3.8.142857-5.8.142857,7.1.142857-9.7.142857,5.5.142857-6.2.142857-.9.142857,9.6.142857-9.1.142857,14.0.142857-16.3.142857,13.3.142857-7.2.142857,5.9.142857-1.0.142857-13.7.142857,11.9.142857-5.4.142857-4.1.142857,11.5.142857-3.1.142857,3.4.142857,3.3.142857,1.9.142857-9.3.142857-4.1.142857,11.8.142857-12.2.142857-4.7.142857,20.5.142857,1.3.142857-21.5.142857,11.6.142857-9.2.142857,10.5.142857-4.0.142857-4.6.142857,11.7.142857-8.1.142857,6.0.142857-4.9.142857,11.9.142857-4.0.142857-10.7.142857-10.4.142857,13.0.142857-7.0.142857,13.6.142857,2.4.142857-10.4.142857,7.3.142857-13.1.142857,10.9.142857,6.9.142857-15.9.142857,11.2.142857-1.3.142857,3.2.142857-4.5.142857-3.7.142857,8.6.142857-7.5.142857,2.0.142857-9.7.142857,9.8.142857,.8.142857-5.0.142857,.1.142857-11.5.142857,6.8.142857,3.9.142857-.1.142857,13.1.142857-8.6.142857-11.3.142857,18.9.142857-20.3.142857,3.2.142857,4.2.142857,3.9.142857,16.0.142857-15.6.142857,4.4.142857-11.5.142857-1.9.142857,24.1.142857-8.8.142857-3.4.142857,.9.142857-5.5.142857,4.3.142857-9.1.142857-.8.142857,4.8.142857,.7.142857-3.0.142857,7.1.142857,6.5.142857-9.8.142857-8.3.142857,.7.142857,13.3.142857-2.6.142857-4.0.142857,.7.142857,3.7.142857-5.7.142857,2.3.142857-9.0.142857-.2.142857,11.4.142857,.4" fill="none" stroke="#000" stroke-width="0.9" stroke-linejoin="bevel"/>
<path d="M390.00,294.4l.142857,.9.142857,.1.142857,4.2.142857,10.9.142857-17.8.142857,8.2.142857,9.2.142857-9.5.142857-2.7.142857,6.5.142857-.2.142857,8.5.142857-7.2.142857,3.0.142857-11.1.142857-3.5.142857-5.5.142857,1.2.142857,3.6.142857,3.4.142857-7.0.142857,14.8.142857-5.5.142857-3.8.142857,1.1.142857,13.3.142857-9.5.142857-6.0.142857,1.1.142857,14.6.142857-13.6.142857,7.4.142857,.3.142857-20.8.142857,19.4.142857-9.5.142857-3.8.142857,1.2.142857,4.2.142857-2.5.142857-.3.142857-7.1.142857,11.4.142857,1.3.142857,4.4.142857-4.8.142857,5.4.142857,2.3.142857-4.7.142857,1.1.142857-1.1.142857,.5.142857,1.6.142857-15.5.142857,6.5.142857,4.6.142857-15.0.142857,5.6.142857,15.3.142857-9.8.142857,4.0.142857,4.6.142857-3.6.142857-1.0.142857,1.2.142857,2.6.142857-.4.142857,10.6.142857,2.1.142857-5.6.142857,9.5.142857-5.1.142857-.6.142857-1.0.142857-4.6.142857,4.8.142857-2.2.142857-6.4.142857,10.7.142857-1.0.142857-2.3.142857-4.5.142857-9.9.142857,23.3.142857-7.7.142857-11.4.142857,16.0.142857-8.7.142857,9.6.142857-3.1.142857,6.6.142857-4.8.142857-1.0.142857-1.3.142857,6.8.142857-14.3.142857,12.8.142857-2.5.142857-5.6.142857,2.4.142857-1.4.142857,3.5.142857,5.3.142857-8.8.142857,9.1.142857-1.2.142857-1.0.142857,3.7.142857-8.1.142857,2.4.142857,3.0.142857-7.4.142857-3.1.142857,1.1.142857,4.2.142857-8.2.142857,1.6.142857-7.7.142857,4.4.142857,.8.142857-2.9.142857,3.5.142857,8.0.142857-7.2.142857-6.1.142857,9.1.142857,.0.142857-9.6.142857,8.1.142857-6.1.142857,3.3.142857,2.0.142857,10.0.142857-8.4.142857,3.1.142857,3.9.142857,7.8.142857,.5.142857-13.0.142857,11.1.142857-4.5.142857,3.5.142857-3.1.142857-9.8.142857,2.2.142857-.9.142857,5.1.142857,6.1.142857-9.6.142857-3.2.142857,17.2.142857-20.3.142857,6.0.142857-1.6.142857-6.6.142857,13.1.142857-.7.142857-6.3.142857-.1.142857-.3.142857-8.5.142857,9.5.142857-8.5.142857,.4.142857,8.4.142857,1.8.142857-10.1.142857,11.8.142857,2.8.142857-10.1.142857-2.7.142857,.5.142857-3.4.142857-2.7.142857,8.9.142857,.4.142857-5.4.142857,1.3.142857,.2.142857-1.3.142857-2.9.142857-1.4.142857,13.8.142857-9.0.142857,2.0.142857,10.3.142857-10.9.142857,8.5.142857-9.4.142857,4.1.142857,6.6.142857-6.2.142857-7.1.142857-1.6.142857,10.5.142857-5.6.142857,9.5.142857-3.2.142857-2.3.142857,2.7.142857,4.4.142857-4.1.142857-5.3.142857,7.7.142857-5.8.142857,.1.142857,3.3.142857-.8.142857,4.7.142857-6.7.142857,.0.142857,1.2.142857,4.4.142857-6.0.142857,1.4.142857-.5.142857,.8.142857,1.7.142857,15.0.142857-14.0.142857,2.3.142857-.8.142857,.1.142857,1.4.142857,10.2.142857-12.3.142857,10.2.142857-6.5.142857-8.9.142857,1.3.142857,.8.142857-2.2.142857,9.8.142857-1.9.142857-.3.142857-9.4.142857,7.8.142857-3.3.142857,14.1.142857-12.4.142857,2.8.142857,.2.142857-5.5.142857-.3.142857-.2.142857,4.7.142857-7.4.142857,2.7.142857,2.4.142857-5.1.142857-6.2.142857,2.2.142857,1.7.142857-2.9.142857,9.2.142857-7.0.142857,.4.142857-6.4.142857,8.8.142857-5.4.142857-5.6.142857,2.0.142857,15.3.142857-15.7.142857-1.3.142857,11.7.142857-1.8.142857-5.4.142857,8.6.142857-16.4.142857,3.6.142857-5.3.142857,15.3.142857-6.9.142857,14.9.142857-9.9.142857,1.4.142857-8.1.142857,.5.142857,4.3.142857,7.8.142857-11.3.142857-6.4.142857,18.6.142857,.6.142857-9.3.142857,5.0.142857,3.1.142857,3.4.142857-15.2.142857,9.7.142857-2.7.142857,10.5.142857-4.2.142857-6.8.142857,5.8.142857,4.8.142857-11.2.142857,2.4.142857,2.1.142857,.2.142857-3.5.142857-5.7.142857,1.1.142857,8.0.142857,2.7.142857-6.8.142857,5.8.142857,8.4.142857-12.2.142857,6.4.142857-7.7.142857,5.7.142857-1.2.142857-.3.142857-10.1.142857,10.2.142857,2.1.142857-1.3.142857,6.8.142857-15.1.142857,10.1.142857-3.7.142857,5.1.142857,5.7.142857-11.9.142857-.7.142857,2.7.142857,6.0.142857,.4.142857-6.3.142857,2.9.142857,6.6.142857-4.0.142857-10.2.142857,3.1.142857-2.0.142857,4.1.142857-6.9.142857,8.9.142857-8.8.142857,10.1.142857-11.9.142857,12.6.142857-6.8.142857,6.3.142857,1.9.142857-1.2.142857-5.1.142857-8.9.142857-.5.142857-11.9.142857,26.4.142857-.9.142857-.8.142857-11.8.142857,22.1.142857-17.4.142857,9.0.142857-11.8.142857,5.7.142857,10.1.142857-.4.142857-13.1.142857,5.2.142857,4.8.142857-15.3.142857,15.7.142857-13.6.142857,11.6.142857-4.9.142857,8.5.142857-7.3.142857,2.6.142857,.9.142857-2.4.142857,1.8.142857-5.8.142857,4.4.142857,9.6.142857-6.6.142857,6.5.142857-.6.142857,3.0.142857-12.1.142857,7.8.142857,6.7.142857-2.6.142857,2.1.142857,2.4.142857-18.0.142857,10.4.142857,1.6.142857-5.9.142857-5.2.142857,11.4.142857,1.9.142857,5.3.142857-3.8.142857-8.3.142857-3.7.142857,1.0.142857,1.8.142857-3.0.142857,14.7.142857-16.1.142857,5.7.142857,.1.142857,3.1.142857-7.3.142857,3.7.142857,.8.142857,2.6.142857-3.8.142857,.4.142857,3.8.142857,9.9.142857-22.9.142857,17.4.142857,7.3.142857-18.9.142857,13.8.142857,.7.142857-6.3.142857,5.4.142857,5.3.142857-8.7.142857,.1.142857-5.4.142857,2.0.142857,3.7.142857-.3.142857,9.9.142857-10.6.142857-4.5.142857,11.7.142857,1.0.142857-4.2.142857-5.2.142857-4.4.142857,.0.142857,11.6.142857-2.2.142857-3.7.142857,1.3.142857-5.6.142857-10.6.142857,8.6.142857,1.3.142857-8.4.142857-.5.142857-2.0.142857,8.4.142857,6.1.142857-11.4.142857,.7.142857-3.1.142857,7.9.142857-2.6.142857,2.7.142857-1.2.142857,18.0.142857-12.1.142857-4.6.142857,.4.142857,8.3.142857-.2.142857-4.8.142857-11.6.142857,15.9.142857-.2.142857-1.3.142857-3.4.142857-1.2.142857,6.6.142857-7.7.142857,7.7.142857-7.5.142857-1.4.142857-.1.142857,1.1.142857-.4.142857,5.9.142857,3.8.142857-13.8.142857,1.3.142857,12.1.142857-7.8.142857,2.1.142857-1.5.142857,3.2.142857-11.3.142857,10.8.142857-.3.142857-17.0.142857,12.4.142857,1.1.142857,4.5.142857-1.2.142857-2.4.142857,1.3.142857,3.2.142857-3.6.142857-1.4.142857,14.5.142857-8.8.142857-9.1.142857,6.4.142857,.4.142857-7.4.142857,8.9.142857-3.8.142857-7.3.142857,13.7.142857,.8.142857,1.2.142857-4.7.142857-2.7.142857,4.3.142857,2.7.142857,2.8.142857,4.1.142857-3.8.142857-8.4.142857,1.6.142857-7.1.142857,10.5.142857-1.1.142857,5.0.142857-3.1.142857,5.6.142857-12.5.142857,8.5.142857-11.7.142857,1.4.142857-9.3.142857,5.1.142857-5.5.142857,7.9.142857-1.5.142857,4.6.142857-10.1.142857,7.3.142857,3.7.142857-10.3.142857,23.1.142857-7.1.142857-6.9.142857,14.7.142857,.7.142857-21.8.142857,11.4.142857-3.4.142857,3.5.142857-6.8.142857,2.6.142857,1.2.142857-14.3.142857,13.7.142857,8.4.142857-7.0.142857,4.6.142857,2.6.142857-8.6.142857,1.3.142857,1.0.142857-3.7.142857,13.7.142857-8.7.142857,1.6.142857,4.1.142857,3.4.142857-15.7.142857,1.4.142857,5.5.142857,1.1.142857-10.2.142857,.3.142857,11.5.142857,4.6.142857-10.8.142857,.5.142857-.9.142857-5.6.142857,3.7.142857,5.5.142857,.5.142857,6.5.142857-12.7.142857-2.8.142857,10.7.142857-11.0.142857,4.1.142857,2.2.142857-7.8.142857-1.4.142857,10.7.142857-15.7.142857,19.5.142857-14.7.142857,14.4.142857-2.0.142857-.2.142857,.0.142857-3.4.142857-6.2.142857,11.4.142857-3.3.142857,1.2.142857-3.9.142857-.1.142857,7.6.142857,.1.142857-4.1.142857-6.9.142857,1.3.142857-.7.142857,11.1.142857-3.0.142857-2.5.142857-1.3.142857-3.5.142857,8.8.142857-8.9.142857,.9.142857,8.3.142857,1.1.142857-2.9.142857-7.4.142857-2.1.142857,12.7.142857-3.5.142857,5.9.142857-13.6.142857,3.0.142857-3.4.142857,13.9.142857-18.6.142857,12.5.142857,4.0.142857-15.1.142857-1.4.142857,2.0.142857-2.2.142857,9.6.142857-1.4.142857-4.6.142857,4.0.142857,10.5.142857-10.4.142857-1.0.142857,7.4.142857-8.7.142857,2.5.142857,11.0.142857-9.2.142857-11.2.142857,6.0.142857-7.9.142857,8.6.142857,5.3.142857-9.2.142857,16.3.142857-.7.142857,5.2.142857-15.5.142857,3.2.142857,2.8.142857,1.6.142857,2.5.142857-19.0.142857,8.0.142857-3.5.142857,5.7.142857,.8.142857,13.9.142857-14.4.142857,4.7.142857-4.9.142857-2.4.142857,10.9.142857-16.6.142857,8.9.142857,8.9.142857,7.9.142857-23.6.142857-3.7.142857-1.7.142857,5.0.142857,3.1.142857,.0.142857,7.6.142857-6.8.142857,3.8.142857-10.9.142857,6.5.142857,4.1.142857-12.3.142857,13.4.142857,4.7.142857-5.3.142857,.9.142857-.7.142857-8.0.142857,5.9.142857-5.4.142857,3.1.142857,7.0.142857-6.5.142857-7.3.142857,7.1.142857,9.2.142857-2.9.142857-6.6.142857-1.7.142857,9.8.142857-5.6.142857-8.1.142857,6.7.142857,10.9.142857-17.4.142857,9.9.142857-5.5.142857,3.3.142857-3.4.142857-1.9.142857-8.2.142857,13.5.142857,1.9.142857,.3.142857-5.3.142857,1.4.142857,14.8.142857-18.2.142857,4.6.142857-5.0.142857,4.3.142857,2.6.142857,6.9.142857-5.6.142857-.1.142857,2.1.142857,.6.142857-2.3.142857,1.5.142857,7.2.142857-9.8.142857,2.5.142857-6.2.142857,.2.142857,11.0.142857-10.6.142857,5.9.142857,7.3.142857-8.7.142857-3.8.142857-3.5.142857-10.8.142857,10.4.142857-.6.142857,10.0.142857-3.1.142857-10.4.142857,12.4.142857-6.1.142857,12.1.142857-1.3.142857-5.8.142857-6.2.142857,11.5.142857-4.1.142857,2.0.142857-3.8.142857-4.6.142857,7.3.142857-10.7.142857,8.4.142857-1.2.142857-10.2.142857,10.7.142857-2.4.142857-1.0.142857,.6.142857,4.6.142857-11.1.142857,1.2.142857,10.3.142857-1.6.142857-11.6.142857,9.7.142857-7.9.142857,14.4.142857-2.9.142857,1.1.142857-10.2.142857,4.2.142857,7.6.142857-14.7.142857,11.2.142857-4.5.142857-7.8.142857,3.2.142857,11.3.142857-1.3.142857,2.3.142857,2.0.142857-8.2.142857,.6.142857-6.8.142857,15.8.142857-14.2.142857,5.6.142857-8.7.142857,5.7.142857,4.7.142857-.6.142857-6.9.142857,7.3.142857-4.6.142857,6.6.142857-6.7.142857,5.5.142857-7.8.142857,8.0.142857-4.7.142857,.1.142857-3.9.142857,10.2.142857-10.6.142857,4.9.142857,10.2.142857-11.5.142857,9.0.142857,2.1.142857-20.3.142857,14.3.142857-2.1.142857-2.6.142857,3.5.142857-9.9.142857,8.9.142857-2.1.142857-9.8.142857,7.9.142857-6.0.142857,7.9.142857-2.8.142857,4.9.142857-9.3.142857,4.3.142857,2.0.142857,1.4.142857,7.7.142857,5.2.142857-18.2.142857,12.1.142857-4.5.142857-1.4.142857-1.3.142857-7.8.142857,7.7.142857,6.0.142857,3.9.142857-5.3.142857-2.9.142857,3.9.142857,.4.142857,5.9.142857-15.0.142857-11.4.142857,12.9.142857,2.2.142857-1.2.142857,2.7.142857-16.1.142857,9.8.142857,1.0.142857-5.3.142857,4.8.142857,1.0.142857,2.7.142857-5.3.142857-7.4.142857,12.7.142857,9.7.142857-9.8.142857,1.2.142857-5.9.142857,5.9.142857,8.0.142857-19.7.142857,15.9.142857-16.9.142857,21.8.142857-2.5.142857-6.4.142857-5.3.142857,13.3.142857-15.5.142857,11.2.142857-3.1.142857-3.1.142857,9.9.142857-15.1.142857,6.6.142857-4.2.142857,5.0.142857,4.3.142857-11.5.142857,10.1.142857,.3.142857-5.6.142857,1.4.142857,8.4.142857-5.9.142857,8.0.142857-15.5.142857-.5.142857,13.3.142857-13.5.142857,13.0.142857-6.1.142857,5.8.142857-4.8.142857,8.8.142857,.7.142857-1.2.142857-3.1.142857-11.7.142857,13.5.142857-4.9.142857,6.3.142857-13.7.142857,9.4.142857-3.2.142857,.7.142857,3.4.142857,.8.142857,4.5.142857-6.9.142857,.5.142857,1.0.142857-8.1.142857,10.4.142857-10.6.142857,2.1.142857,4.5.142857-7.2.142857,.6.142857-10.3.142857,9.6.142857-1.4.142857,3.2.142857,6.5.142857-6.0.142857,2.6.142857,2.8.142857,4.9.142857,.1.142857-3.5.142857-3.5.142857,6.9.142857-5.5.142857,.1.142857,1.3.142857-5.4.142857-1.5.142857-1.0.142857,3.6.142857,.3.142857,3.2.142857-7.5.142857,5.4.142857-2.1.142857-3.0.142857,15.3.142857-17.2.142857,1.8.142857,4.6.142857,6.2.142857-9.0.142857,10.1.142857-13.1.142857,3.4.142857,.2.142857,1.8.142857,2.1.142857-2.6.142857,.6.142857-3.1.142857,6.2.142857-2.3.142857,1.1.142857,3.4.142857-5.3.142857,2.2.142857,5.1.142857-9.0.142857-5.0.142857,6.5.142857-2.5.142857,5.2.142857-1.0.142857-.5.142857,2.5.142857,.9.142857,.2.142857-1.6.142857-1.0.142857-2.9.142857,4.5.142857-1.8.142857-3.8.142857,.0.142857,8.5.142857,1.7.142857-8.2.142857-1.1.142857,11.5.142857-11.0.142857,13.6.142857-4.3.142857-6.8.142857,7.8.142857-3.4.142857,1.1.142857-9.6.142857,2.2.142857,2.1.142857-.9.142857-1.8.142857-6.4.142857,3.1.142857,7.4.142857-3.0.142857,10.2.142857-1.5.142857-4.5.142857-2.6.142857-10.6.142857,13.1.142857,2.8.142857-9.0.142857,.3.142857,.4.142857,6.7.142857,2.3.142857-12.0.142857,4.4.142857,4.7.142857-.1.142857-3.1.142857,4.7.142857-7.6.142857-1.9.142857,12.0.142857-.2.142857,3.6.142857-8.6.142857-2.2.142857,4.0.142857-1.4.142857,1.1.142857,.2.142857,7.2.142857-5.0.142857,4.6.142857-9.6.142857-1.8.142857,8.6.142857-9.3.142857-1.3.142857,1.4.142857-3.7.142857,12.3.142857,8.5.142857-6.8.142857,.0.142857-7.7.142857-3.3.142857,9.0.142857-9.1.142857-2.1.142857,3.6.142857,9.4.142857-3.4.142857-4.7.142857-6.6.142857,.0.142857,6.2.142857-.6.142857-3.0.142857,8.8.142857-7.7.142857-4.0.142857,6.3.142857,9.1.142857-1.9.142857,.2.142857-9.3.142857,7.2.142857-1.3.142857-3.4.142857-2.9.142857,12.0.142857-6.8.142857-3.7.142857,6.9.142857,11.1.142857-19.6.142857,6.8.142857,7.6.142857,.1.142857-14.7.142857,3.5.142857-7.3.142857,9.0.142857-6.2.142857,3.0.142857,10.5.142857-19.2.142857,3.8.142857,7.7.142857,1.1.142857,.8.142857-2.8.142857-3.0.142857,2.7.142857,3.8.142857-6.1.142857,10.1.142857-3.3.142857-4.6.142857-.5.142857,2.2.142857,1.9.142857-12.6.142857,2.9.142857,1.9.142857,1.4.142857,.4.142857-1.0.142857,3.1.142857-1.3.142857,4.5.142857-2.1.142857-.7.142857-2.1.142857,.1.142857,9.4.142857-7.7.142857,2.2.142857,1.8.142857-3.7.142857-9.1.142857,4.7.142857,14.6.142857-18.3.142857,14.5.142857-12.5.142857,6.5.142857,6.2.142857-11.5.142857,9.5.142857-16.3.142857,10.9.142857-2.3.142857,5.1.142857,2.1.142857,1.4.142857-1.4.142857-8.1.142857-4.4.142857,7.7.142857-3.0.142857-9.8.142857-1.5.142857,9.6.142857-.9.142857,3.0.142857,.3.142857-10.2.142857,10.8.142857-8.4.142857,7.7.142857-3.9.142857,9.1.142857-6.4.142857-5.4.142857,2.4.142857,1.4.142857,4.0.142857,1.9.142857-9.3.142857-1.5.142857,10.8.142857-4.1.142857,4.8.142857-3.2.142857,4.5.142857-5.1.142857-11.2.142857,5.0.142857,4.7.142857-8.2.142857,7.6.142857,4.8.142857,1.8.142857-1.0.142857-13.9.142857,14.5.142857-9.5.142857,5.9.142857-3.8.142857,9.4.142857-6.8.142857,1.4.142857-.3.142857-1.7.142857-3.3.142857,10.4.142857-5.5.142857,1.5.142857-12.5.142857-.8.142857,17.5.142857-4.2.142857-13.5.142857,9.1.142857-.6.142857-5.0.142857,1.3.142857,13.3.142857-12.5.142857,8.4.142857-6.2.142857-3.6.142857,18.8.142857-6.7.142857-7.7.142857,.2.142857,1.4.142857-4.4.142857,4.7.142857,.9.142857-5.6.142857,3.4.142857-6.4.142857,9.9.142857-10.5.142857,10.9.142857,8.8.142857,1.1.142857,8.6.142857-19.3.142857,3.9.142857,.3.142857,3.1.142857-.9.142857-7.0.142857-7.4.142857,11.5.142857-.9.142857,.4.142857-12.2.142857,11.5.142857-1.4.142857,4.5.142857,6.5.142857-13.7.142857,3.0.142857,.3.142857-2.7.142857,7.6.142857,8.1.142857-14.9.142857,1.6.142857,5.4.142857-7.0.142857,6.7.142857,2.3.142857-.7.142857-8.2.142857,15.0.142857-2.3.142857-16.1.142857,15.1.142857-3.4.142857-3.1.142857-6.8.142857,9.1.142857-9.6.142857,7.0.142857,1.3.142857,.4.142857-5.4.142857,3.0.142857-2.3.142857,2.9.142857-4.6.142857-2.2.142857,3.1.142857-2.8.142857,13.4.142857,7.2.142857-9.1.142857,3.0.142857-12.1.142857,4.4.142857-5.1.142857,11.8.142857-2.5.142857-4.9.142857,13.1.142857-8.4.142857,4.5.142857-1.4.142857,1.2.142857-.1.142857-6.8.142857-.9.142857-1.4.142857,.2.142857,14.0.142857-12.0.142857,7.4.142857-10.1.142857,.7.142857,7.8.142857-4.8.142857-3.3.142857,11.4.142857-15.7.142857,3.2.142857,8.8.142857,4.1.142857-7.9.142857-1.9.142857,15.0.142857-12.6.142857-2.6.142857,3.0.142857,3.8.142857-19.9.142857,8.7.142857,11.2.142857-.5.142857-1.3.142857,.3.142857,4.2.142857,3.4.142857-10.0.142857-.5.142857,5.8.142857-4.5.142857-4.6.142857,6.4.142857-3.9.142857,8.3.142857,.2.142857-8.7.142857,4.2.142857,.5.142857,3.0.142857-.6.142857-4.8.142857,1.4.142857,4.3.142857-3.4.142857-1.5.142857-7.3.142857,7.1.142857,3.1.142857-1.2.142857-5.1.142857-5.0.142857,11.8.142857-.5.142857-4.5.142857-6.6.142857,2.3.142857,2.7.142857,6.3.142857-4.1.142857-6.1.142857,2.6.142857-3.6.142857,14.5.142857-13.2.142857,8.8.142857-5.5.142857,8.6.142857-14.4.142857,9.0.142857-8.1.142857,1.7.142857,.0.142857-.4.142857,2.2.142857,1.9.142857,14.7.142857-10.6.142857-6.2.142857,11.1.142857,2.2.142857-18.5.142857,15.3.142857-9.7.142857-3.2.142857,13.1.142857,5.0.142857-1.2.142857-10.7.142857-1.0.142857,2.4.142857,2.3.142857,.4.142857,1.6.142857-3.1.142857,1.8.142857-1.0.142857-8.3.142857,6.8.142857,6.1.142857-2.9.142857-15.4.142857,20.3.142857-10.8.142857,16.1.142857-3.6.142857-7.2.142857,6.5.142857-12.8.142857,2.8.142857-1.7.142857,5.3.142857-1.5.142857,.8.142857,.2.142857,8.5.142857-6.6.142857-3.6.142857,3.6.142857,1.4.142857,.1.142857-10.7.142857,3.8.142857,.7.142857-3.5.142857-3.2.142857,3.9.142857-11.3.142857,9.5.142857-4.2.142857,4.9.142857,1.7.142857,11.6.142857,.2.142857,2.5.142857-13.3.142857-2.9.142857,7.9.142857-10.3.142857,5.3.142857-3.7.142857,4.9.142857,5.5.142857-10.3.142857,13.8.142857-7.2.142857-.1.142857,1.8.142857-4.7.142857,2.0.142857-2.5.142857-5.7.142857,17.2.142857-5.4.142857,.5.142857-6.6.142857,2.4.142857,1.0.142857-6.0.142857,14.0.142857,.7.142857-10.7.142857,6.7.142857-3.6.142857-3.4.142857-6.8.142857,12.1.142857,.7.142857-.1.142857-6.7.142857,4.3.142857,.6.142857,6.4.142857-13.9.142857,8.8.142857-2.3.142857-4.6.142857,5.3.142857,4.0.142857-.5.142857,.0.142857,3.0.142857-6.1.142857,8.5.142857-8.0.142857,5.3.142857,6.4.142857-10.6.142857,9.3.142857-3.3.142857,4.8.142857-14.6.142857-13.4.142857,16.3.142857,14.8.142857-9.3.142857-4.5.142857,2.8.142857,1.7.142857-7.7.142857,16.0.142857-10.3.142857-5.8.142857-.1.142857,5.0.142857,.5.142857,4.1.142857,1.0.142857,.0.142857-10.6.142857,5.1.142857-7.1.142857,4.1.142857-7.7.142857,11.5.142857,1.7.142857-5.5.142857-6.8.142857,10.5.142857-4.5.142857-9.1.142857,10.4.142857,1.9.142857-1.9.142857-11.6.142857,14.6.142857,1.7.142857-7.2.142857,9.3.142857-2.1.142857,1.2.142857-15.6.142857,8.3.142857,4.3.142857-9.8.142857,6.6.142857,11.1.142857-17.6.142857,17.6.142857-3.7.142857-10.2.142857-2.2.142857,.0.142857,6.3.142857-14.5.142857,16.4.142857-12.3.142857,7.0.142857,.1.142857,6.6.142857-10.1.142857,.2.142857,12.1.142857,2.4.142857-9.0.142857-1.7.142857,2.9.142857-2.6.142857,.2.142857-5.8.142857-7.3.142857,14.4.142857,1.1.142857,5.8.142857,.1.142857,1.2.142857-10.4.142857,6.4.142857-9.7.142857,8.8.142857,.6.142857-12.0.142857,8.7.142857,13.6.142857-17.7.142857,8.2.142857-8.6.142857,4.8.142857-20.3.142857,7.6.142857,7.4.142857,11.0.142857-10.1.142857-7.7.142857,9.8.142857,7.8.142857-12.9.142857,8.9.142857-2.7.142857-1.6.142857,2.7.142857-6.0.142857,6.5.142857-.6.142857,6.8.142857-7.5.142857-2.3.142857-5.1.142857,2.3.142857-3.9.142857,14.2.142857-20.0.142857,14.7.142857,1.2.142857,1.4.142857-6.0.142857,13.2.142857-12.7.142857-5.4.142857,4.8.142857-1.8.142857,13.5.142857-7.1.142857-2.7.142857-2.0.142857,2.3.142857-2.6.142857,1.4.142857,3.0.142857-14.3.142857,4.5.142857,4.5.142857-8.2.142857,11.4.142857,3.5.142857-6.2.142857,4.3.142857-6.8.142857,3.1.142857,2.2.142857-1.0.142857,6.8.142857-8.7.142857,7.9.142857-6.4.142857,7.7.142857,4.2.142857-4.7.142857-7.6.142857,4.4.142857-11.7.142857,20.9.142857-9.1.142857-1.2.142857,3.4.142857-8.2.142857,6.2.142857,4.4.142857,4.7.142857,6.0.142857-16.1.142857,9.0.142857-8.6.142857-3.4.142857,6.8.142857-1.3.142857-8.8.142857,6.6.142857,11.6.142857-14.1.142857-.3.142857,12.5.142857-5.0.142857-5.0.142857,3.6.142857-4.9.142857,.1.142857,5.1.142857-5.9.142857,8.7.142857,4.0.142857-12.5.142857-1.7.142857-2.4.142857,1.9.142857-2.4.142857,5.4.142857,2.2.142857-9.0.142857,8.0.142857,4.8.142857-.7.142857-8.6.142857,12.2.142857-10.7.142857,9.7.142857-13.8.142857,13.7.142857-2.8.142857-.2.142857,1.2.142857-3.9.142857,5.8.142857-1.0.142857,4.8.142857-9.7.142857,9.4.142857-.5.142857-11.7.142857,10.9.142857,1.4.142857-14.5.142857,1.7.142857,19.2.142857-12.3.142857-3.0.142857-2.3.142857,8.3.142857-5.3.142857,4.7.142857-1.3.142857,1.9" fill="none" stroke="#f00" stroke-width="0.9" stroke-linejoin="bevel"/>
<path d="M390.00,306.0l.142857-3.2.142857-1.3.142857-11.1.142857,16.1.142857-14.8.142857,15.6.142857,1.6.142857-1.4.142857,1.3.142857-2.8.142857-4.1.142857,1.2.142857,15.2.142857-11.3.142857,.1.142857-2.8.142857,.5.142857,2.1.142857,1.8.142857-4.1.142857,.4.142857,1.0.142857,3.8.142857-7.5.142857,9.6.142857,5.9.142857-12.8.142857,6.8.142857,17.0.142857-21.2.142857-2.7.142857,7.7.142857,12.1.142857,4.1.142857-19.8.142857,11.7.142857-2.7.142857-3.1.142857-7.2.142857,15.6.142857-10.5.142857,6.0.142857-2.5.142857,10.9.142857-4.9.142857-13.4.142857,7.5.142857,7.0.142857-11.0.142857,6.8.142857,3.7.142857-8.3.142857,1.4.142857-3.5.142857,10.7.142857-4.8.142857,9.0.142857-2.1.142857,1.6.142857-3.7.142857,4.8.142857-4.3.142857-5.4.142857,13.3.142857-1.8.142857,5.9.142857-11.5.142857-1.1.142857-5.1.142857-14.6.142857,14.1.142857,10.4.142857-6.1.142857-7.9.142857,16.7.142857-6.9.142857,.7.142857-.7.142857,.9.142857,2.7.142857-12.5.142857,8.3.142857-4.0.142857,8.3.142857-11.4.142857,14.8.142857-5.2.142857,5.9.142857-12.8.142857,8.9.142857-3.1.142857-12.2.142857,7.7.142857-1.3.142857-5.3.142857,1.6.142857-3.3.142857,3.4.142857,4.4.142857-6.6.142857-4.4.142857,13.3.142857-6.4.142857,.7.142857-3.1.142857-2.5.142857,6.0.142857-7.1.142857,4.4.142857-9.6.142857,1.1.142857,4.8.142857,12.8.142857-8.1.142857,11.6.142857-9.2.142857-2.4.142857-7.0.142857,2.1.142857,10.3.142857-4.8.142857-9.2.142857-.4.142857,10.7.142857-7.6.142857,8.2.142857-9.2.142857,8.0.142857,4.1.142857-3.7.142857-3.1.142857-4.2.142857-2.2.142857,2.5.142857,6.9.142857-.3.142857-4.8.142857-9.9.142857,3.6.142857,.8.142857,.7.142857-7.2.142857,10.5.142857,12.5.142857-21.0.142857,8.9.142857,7.9.142857-10.1.142857-1.6.142857,4.4.142857,.7.142857-5.0.142857,8.5.142857-17.4.142857,14.7.142857-1.6.142857-2.3.142857,4.5.142857-8.9.142857,21.6.142857-16.0.142857,1.4.142857-6.4.142857,.1.142857,5.2.142857-8.2.142857,3.8.142857-2.3.142857,3.7.142857,2.6.142857,3.1.142857-14.8.142857,8.6.142857,1.3.142857,6.6.142857-.1.142857-16.3.142857,5.6.142857,6.2.142857,1.4.142857-4.1.142857,1.4.142857-.1.142857-6.2.142857,4.9.142857,4.1.142857-4.4.142857,6.7.142857-21.8.142857,13.0.142857,11.2.142857-5.3.142857,2.2.142857-8.1.142857-7.8.142857,4.0.142857,13.2.142857-19.8.142857,3.8.142857-4.7.142857,8.1.142857,2.2.142857,7.1.142857-7.2.142857,13.9.142857-7.2.142857-6.0.142857-2.4.142857-3.2.142857,8.4.142857,9.1.142857-11.0.142857-4.6.142857,6.6.142857-3.0.142857-2.5.142857-3.9.142857,10.4.142857,7.0.142857-1.9.142857-2.0.142857-3.9.142857,.1.142857,4.5.142857-4.5.142857,2.3.142857-3.3.142857,8.9.142857-11.3.142857,10.6.142857,.3.142857,3.0.142857-1.6.142857-5.7.142857-1.3.142857,.5.142857,.5.142857-5.2.142857,5.0.142857-.2.142857-.6.142857,8.4.142857-6.8.142857,5.7.142857,6.8.142857,2.8.142857-9.1.142857,4.8.142857-3.5.142857,11.6.142857-2.8.142857,5.5.142857-12.6.142857-1.4.142857,5.5.142857-4.2.142857-1.4.142857,6.4.142857-10.4.142857-2.1.142857,6.2.142857-.8.142857,6.9.142857-4.6.142857,4.9.142857-12.9.142857,19.1.142857-7.0.142857-7.1.142857,6.0.142857,7.3.142857-1.6.142857-5.4.142857,4.8.142857-1.4.142857-9.9.142857-3.5.142857,5.0.142857,11.1.142857,1.4.142857-8.2.142857,5.2.142857-4.6.142857-5.2.142857-3.2.142857,.3.142857,4.7.142857,7.0.142857-3.8.142857-12.0.142857-.6.142857,9.2.142857-3.1.142857-5.3.142857,10.7.142857,4.8.142857-3.3.142857-4.6.142857,7.0.142857-8.9.142857-1.1.142857-2.1.142857,16.4.142857-1.0.142857-10.8.142857,5.8.142857-2.0.142857,3.7.142857,1.2.142857-3.4.142857-3.3.142857-1.4.142857-2.9.142857-6.7.142857,17.1.142857-8.8.142857,6.6.142857-.7.142857-3.4.142857,1.7.142857,4.0.142857-1.9.142857-5.4.142857,1.5.142857,6.4.142857,1.9.142857-1.0.142857-3.3.142857,7.0.142857-1.9.142857,14.6.142857-16.8.142857-1.8.142857,14.9.142857-11.7.142857-5.1.142857,6.3.142857-15.4.142857,16.0.142857-2.7.142857,1.3.142857-5.9.142857,10.8.142857-5.7.142857-3.5.142857,.8.142857-6.7.142857,3.4.142857-7.0.142857,2.0.142857,7.9.142857-.1.142857,1.2.142857-9.0.142857,2.7.142857-1.1.142857,4.6.142857,4.8.142857,2.4.142857-3.0.142857-7.4.142857,5.7.142857-7.8.142857-3.7.142857,11.5.142857-1.0.142857,2.5.142857,.7.142857-11.2.142857,2.3.142857,6.9.142857,.4.142857,.4.142857-10.7.142857,3.9.142857,3.6.142857,5.3.142857-16.3.142857,13.2.142857-8.8.142857-7.2.142857,13.9.142857-13.9.142857-.3.142857,10.7.142857,1.4.142857-3.9.142857-5.7.142857-5.0.142857,9.9.142857-14.6.142857,4.3.142857,14.8.142857-1.5.142857,4.1.142857-3.6.142857-8.6.142857,9.2.142857-12.4.142857,13.7.142857,4.6.142857-13.1.142857,12.0.142857-5.6.142857-.3.142857-12.7.142857,12.2.142857,4.5.142857-14.6.142857,6.2.142857,.8.142857-6.8.142857,14.3.142857-5.9.142857-3.5.142857,12.7.142857-10.8.142857,21.5.142857-20.4.142857-4.9.142857,11.4.142857-1.3.142857-9.4.142857,.4.142857,9.4.142857-3.5.142857,1.0.142857,3.3.142857-8.5.142857,2.4.142857,.8.142857,2.0.142857-7.8.142857,7.8.142857-2.3.142857,12.1.142857-13.7.142857,8.7.142857-4.4.142857,3.4.142857-5.6.142857,2.0.142857-13.9.142857,4.5.142857,12.9.142857-4.0.142857,1.8.142857-6.9.142857,5.8.142857-14.9.142857,9.0.142857,5.8.142857,.5.142857-6.7.142857,3.4.142857-.3.142857-1.7.142857,1.0.142857-3.9.142857,8.6.142857-9.0.142857-.1.142857,11.9.142857,3.1.142857-.1.142857-8.7.142857-5.3.142857,7.0.142857,3.8.142857-6.8.142857-2.9.142857-5.7.142857-1.2.142857,17.6.142857-18.1.142857,4.3.142857,2.1.142857,4.1.142857-10.8.142857,10.6.142857-1.6.142857-3.6.142857-3.6.142857,1.7.142857-6.9.142857,13.9.142857-4.9.142857-4.0.142857,7.0.142857,3.8.142857-1.4.142857,1.9.142857,4.9.142857-8.9.142857,3.4.142857-.7.142857-10.0.142857,13.1.142857-6.0.142857,3.8.142857,.1.142857-6.0.142857,10.7.142857,.1.142857-5.3.142857-15.5.142857,23.6.142857-9.9.142857-4.8.142857,2.3.142857-3.4.142857,3.2.142857,4.6.142857-9.5.142857,8.0.142857-5.7.142857,2.2.142857-2.4.142857,3.4.142857,4.9.142857-5.7.142857,4.6.142857,4.8.142857-15.7.142857,12.3.142857-5.5.142857-1.1.142857,5.9.142857-4.7.142857-1.7.142857,11.9.142857-2.6.142857-4.3.142857,13.9.142857-20.2.142857-6.0.142857,7.8.142857-5.5.142857,7.6.142857-4.9.142857-1.1.142857,3.8.142857-4.1.142857-6.7.142857,6.4.142857,5.2.142857-1.9.142857,3.8.142857,2.3.142857-6.1.142857-4.9.142857-1.2.142857,7.0.142857,5.1.142857-1.2.142857-4.7.142857-9.9.142857,7.2.142857,1.2.142857,4.6.142857-14.7.142857,6.4.142857,4.6.142857,.2.142857-4.2.142857,5.0.142857-4.9.142857,7.4.142857-6.9.142857,3.6.142857-14.1.142857,13.2.142857-4.2.142857,6.5.142857-4.2.142857,14.6.142857-17.4.142857-3.7.142857,7.8.142857,1.3.142857-6.2.142857-4.5.142857,8.8.142857-1.3.142857,2.0.142857-3.0.142857-.4.142857,8.0.142857-2.8.142857-7.9.142857-.4.142857,10.1.142857-1.2.142857-6.3.142857,1.0.142857,10.4.142857-6.0.142857,6.5.142857-10.6.142857-1.8.142857-4.4.142857,9.6.142857-2.9.142857-8.3.142857,10.0.142857-4.4.142857,3.5.142857,8.8.142857-2.2.142857-.9.142857-5.6.142857-4.1.142857,4.8.142857,.6.142857,8.6.142857-10.8.142857,3.1.142857,2.2.142857,1.7.142857,3.2.142857,.6.142857-7.1.142857,18.1.142857-14.5.142857-8.6.142857,.1.142857,.2.142857,.9.142857,6.4.142857-9.2.142857,.7.142857-.5.142857,6.8.142857-7.1.142857,10.4.142857-6.8.142857,2.2.142857,5.0.142857,.4.142857,14.2.142857-23.8.142857-1.3.142857,4.4.142857,11.5.142857-9.7.142857,11.8.142857-7.6.142857,5.0.142857-12.5.142857,15.5.142857,.3.142857-11.9.142857,10.7.142857,7.9.142857-14.3.142857-5.2.142857,1.9.142857,2.1.142857,5.2.142857,3.5.142857-12.6.142857,2.0.142857-5.9.142857,5.7.142857,5.7.142857-13.1.142857,13.8.142857,.5.142857,1.4.142857-10.0.142857-4.8.142857,7.0.142857-4.1.142857-4.1.142857,6.9.142857-4.1.142857,18.8.142857-7.2.142857,5.4.142857-15.1.142857,13.3.142857-10.8.142857,7.1.142857-10.1.142857,8.7.142857-12.8.142857,7.9.142857,2.2.142857-6.9.142857,5.9.142857-5.0.142857,1.9.142857,4.4.142857,4.0.142857-8.6.142857,8.6.142857,2.8.142857-4.5.142857,4.2.142857-17.0.142857,14.7.142857-7.4.142857-2.5.142857-.1.142857,7.4.142857,2.3.142857-2.1.142857-11.2.142857,.2.142857,7.0.142857,4.4.142857-5.9.142857,7.1.142857-.7.142857-1.6.142857-6.2.142857,8.9.142857,.7.142857,2.9.142857-5.2.142857-11.1.142857,12.4.142857,3.1.142857-5.2.142857-6.1.142857,8.9.142857,.3.142857-11.3.142857,3.2.142857-1.9.142857,10.1.142857,.0.142857,8.8.142857-14.3.142857,13.4.142857-10.8.142857-.7.142857-8.5.142857,7.5.142857-1.7.142857,.8.142857,1.3.142857,3.5.142857,.3.142857-5.5.142857-4.8.142857,9.7.142857-4.8.142857-5.5.142857,10.6.142857-6.1.142857,4.0.142857-12.4.142857,6.8.142857,13.4.142857-6.6.142857-.3.142857-5.0.142857,1.3.142857,1.6.142857-2.9.142857,1.6.142857-10.1.142857,5.3.142857,1.6.142857,6.7.142857-.3.142857-1.0.142857-5.1.142857,10.0.142857-2.5.142857-10.2.142857,6.9.142857-.7.142857-.7.142857,12.0.142857-10.6.142857,4.2.142857,4.5.142857-5.1.142857-2.0.142857-8.7.142857,17.6.142857-14.8.142857-4.6.142857,15.6.142857-14.9.142857,.9.142857,2.8.142857-.2.142857-5.3.142857,12.9.142857,3.0.142857,2.9.142857-3.7.142857-3.0.142857-2.9.142857,6.9.142857-2.3.142857-7.7.142857,5.2.142857-5.9.142857,8.6.142857-9.0.142857,5.1.142857-2.6.142857-13.1.142857,19.6.142857-.7.142857-5.8.142857,1.3.142857,5.1.142857-1.8.142857,3.1.142857-.1.142857,1.7.142857-2.4.142857-8.7.142857,1.4.142857,10.6.142857-1.1.142857-1.5.142857-8.4.142857,1.8.142857-.9.142857,8.0.142857-7.8.142857-2.6.142857,2.5.142857,4.0.142857,5.3.142857-3.4.142857,2.3.142857-9.3.142857-.1.142857-1.2.142857,7.8.142857-5.7.142857,7.6.142857-7.6.142857,12.6.142857-8.8.142857,.4.142857-7.9.142857,12.8.142857-5.7.142857-.1.142857-1.3.142857-2.2.142857-1.2.142857,7.7.142857-6.9.142857,4.1.142857,14.0.142857-11.0.142857-1.2.142857,6.7.142857-10.4.142857,8.9.142857-7.4.142857-6.6.142857,4.3.142857-3.9.142857,7.5.142857-6.1.142857,6.5.142857-14.9.142857,8.3.142857,6.6.142857-.5.142857-1.0.142857,5.4.142857,1.1.142857-5.2.142857,.7.142857,.5.142857-4.2.142857-15.3.142857,4.4.142857,2.5.142857,8.6.142857-2.0.142857,2.9.142857,3.0.142857-3.0.142857-10.4.142857,9.8.142857-12.3.142857,.3.142857,4.6.142857-11.1.142857,20.0.142857,5.3.142857-13.5.142857-.5.142857-10.4.142857,11.5.142857-7.9.142857-.8.142857,.0.142857,4.9.142857-.8.142857-.4.142857-2.0.142857-3.5.142857,16.8.142857-2.5.142857-7.6.142857-4.4.142857,1.0.142857,8.9.142857,.0.142857-.4.142857,6.0.142857-10.2.142857,10.2.142857-6.5.142857-5.0.142857,6.1.142857-1.3.142857-3.5.142857,13.5.142857-18.0.142857,11.4.142857,.6.142857-4.2.142857,4.3.142857,7.5.142857-14.0.142857,.7.142857,3.8.142857,5.1.142857,2.3.142857-3.8.142857-9.6.142857,13.0.142857-3.9.142857,1.8.142857-14.8.142857,.9.142857,2.9.142857-.4.142857,3.5.142857-5.4.142857,.8.142857,8.2.142857-13.6.142857,5.6.142857,7.5.142857,2.4.142857-3.5.142857,8.5.142857-5.9.142857,.9.142857,2.4.142857-3.8.142857-6.8.142857,5.0.142857-.8.142857-3.9.142857,8.1.142857-7.9.142857-5.2.142857,8.0.142857-7.4.142857,7.6.142857-17.2.142857,4.3.142857,10.3.142857,2.8.142857-2.1.142857,8.1.142857-9.1.142857-.5.142857,9.7.142857-11.6.142857,4.5.142857,6.1.142857-7.5.142857-.7.142857-2.2.142857,4.6.142857-.3.142857,2.6.142857-.8.142857,8.4.142857-9.8.142857-1.1.142857-3.5.142857,9.3.142857-7.5.142857-1.6.142857,2.7.142857-2.1.142857,5.3.142857-18.8.142857,8.9.142857,.3.142857,.5.142857,5.0.142857-3.6.142857,2.4.142857,.5.142857,6.2.142857-9.8.142857,3.5.142857-2.5.142857,3.8.142857-2.7.142857-3.4.142857,9.4.142857,4.3.142857-12.0.142857,4.1.142857,.5.142857-12.2.142857,23.7.142857-2.6.142857,1.1.142857-2.1.142857-9.8.142857-8.5.142857,12.7.142857,.8.142857-4.6.142857-1.0.142857,8.7.142857,1.3.142857-8.8.142857-3.1.142857,9.6.142857-1.2.142857-4.7.142857-6.4.142857-2.2.142857-5.6.142857,13.8.142857,5.4.142857-2.2.142857,1.9.142857,.5.142857,.8.142857-12.8.142857,1.3.142857,10.7.142857-3.3.142857-.8.142857-8.3.142857,13.1.142857-5.7.142857-1.8.142857-3.4.142857,5.9.142857-2.2.142857-2.4.142857,11.2.142857-1.6.142857-7.9.142857-2.6.142857,.5.142857,4.9.142857-16.7.142857,16.9.142857-4.2.142857,12.6.142857-9.8.142857-3.3.142857,2.5.142857-3.1.142857,.4.142857,4.4.142857-11.8.142857,10.8.142857-8.0.142857,6.6.142857-2.5.142857,6.8.142857,5.3.142857,2.8.142857-11.3.142857,1.1.142857,1.7.142857,1.5.142857,3.6.142857-3.1.142857-4.1.142857,12.6.142857-8.6.142857,5.9.142857-8.8.142857,4.2.142857-1.1.142857-.9.142857-7.4.142857,5.8.142857-10.5.142857,11.6.142857,8.8.142857-2.5.142857-4.3.142857-3.2.142857,6.2.142857-10.3.142857-2.0.142857-1.9.142857,9.6.142857-10.2.142857,8.7.142857,2.3.142857-2.2.142857-2.9.142857,4.8.142857-7.9.142857,8.7.142857,10.3.142857-2.7.142857-18.0.142857,8.5.142857-1.7.142857,7.2.142857-2.0.142857-2.1.142857-4.8.142857,7.6.142857-6.6.142857,3.5.142857,.2.142857-7.8.142857,7.9.142857,.6.142857-1.9.142857,.7.142857,6.8.142857-.5.142857,2.8.142857-4.4.142857,1.2.142857-1.1.142857-7.3.142857,.6.142857,8.7.142857-1.9.142857-.1.142857-16.8.142857,10.1.142857,.1.142857-3.0.142857,2.7.142857-10.0.142857,11.0.142857,7.5.142857-13.0.142857,7.8.142857-6.4.142857,6.7.142857,6.2.142857-7.2.142857,1.8.142857,1.1.142857-4.6.142857,8.5.142857-16.8.142857,8.4.142857-7.3.142857,1.1.142857,8.4.142857-8.3.142857,2.4.142857,9.5.142857-2.1.142857,17.9.142857-19.6.142857,2.9.142857-13.6.142857,12.3.142857-2.3.142857,4.5.142857-1.8.142857-4.4.142857-5.6.142857,16.0.142857-8.0.142857-5.7.142857,11.9.142857-13.4.142857,7.6.142857-7.1.142857,8.7.142857-8.3.142857,24.9.142857-12.4.142857-1.9.142857,4.0.142857-1.6.142857-1.3.142857-5.3.142857-7.6.142857,7.4.142857-8.2.142857,7.7.142857,5.8.142857-8.2.142857,11.2.142857-4.5.142857,13.4.142857-16.2.142857,3.8.142857,.6.142857-3.3.142857,1.4.142857-1.7.142857,.5.142857-.4.142857,5.8.142857,4.4.142857-5.2.142857,7.8.142857-6.7.142857-5.2.142857,.5.142857-2.3.142857,2.9.142857,1.4.142857-.4.142857,3.9.142857-1.9.142857-6.3.142857,4.6.142857-1.8.142857,3.9.142857,1.8.142857-7.5.142857,4.6.142857,3.1.142857-7.8.142857-5.2.142857,5.9.142857-4.1.142857,9.5.142857-4.7.142857,1.0.142857,7.1.142857-4.8.142857-2.8.142857-11.3.142857,6.0.142857-.2.142857,5.1.142857-5.9.142857,10.9.142857,2.8.142857-10.1.142857-5.2.142857,7.9.142857,.2.142857,5.5.142857-7.9.142857-3.7.142857-2.9.142857,8.3.142857-13.2.142857,5.0.142857,11.1.142857-6.3.142857,2.9.142857-2.1.142857-6.9.142857,4.9.142857,6.0.142857,2.1.142857-8.6.142857,6.1.142857,3.0.142857-3.0.142857,3.9.142857-7.2.142857-8.9.142857,7.7.142857,1.6.142857,3.4.142857,.8.142857,6.9.142857-5.5.142857-2.4.142857-5.9.142857,2.0.142857,6.6.142857,2.3.142857-10.3.142857-1.5.142857-1.6.142857,1.4.142857-.9.142857-4.4.142857,8.3.142857-9.9.142857,6.9.142857-.1.142857,1.6.142857-3.7.142857-8.0.142857,9.2.142857-5.3.142857,3.0.142857-3.7.142857,17.4.142857-26.9.142857,6.8.142857,15.3.142857-7.0.142857-6.3.142857,10.6.142857,8.0.142857-13.0.142857,4.9.142857-11.9.142857,5.0.142857,6.3.142857,.1.142857-2.9.142857,1.2.142857-1.3.142857-.3.142857,1.2.142857,.4.142857,6.1.142857-10.0.142857,10.1.142857,7.5.142857-9.1.142857-4.3.142857-2.5.142857,.6.142857-2.9.142857,9.1.142857-2.1.142857,6.4.142857-1.8.142857,3.0.142857,4.5.142857-2.1.142857,9.1.142857-8.4.142857-8.2.142857,6.3.142857,.2.142857-2.3.142857,.8.142857-1.3.142857,4.2.142857-6.2.142857-6.2.142857,1.5.142857-9.3.142857-4.1.142857,8.1.142857,2.0.142857,.4.142857,11.1.142857-12.4.142857-1.3.142857,17.5.142857-19.2.142857,15.3.142857-6.0.142857-13.8.142857,19.1.142857-7.2.142857,5.0.142857-2.1.142857-.2.142857,4.8.142857,7.5.142857-8.6.142857-3.2.142857,4.5.142857-2.8.142857-16.9.142857,17.6.142857-5.3.142857,1.3.142857-5.4.142857,18.8.142857-7.9.142857-5.3.142857,.7.142857,2.3.142857-.5.142857,3.6.142857-.1.142857-6.4.142857,1.5.142857,4.1.142857-8.9.142857,5.7.142857,9.3.142857-3.8.142857,7.1.142857-13.9.142857,2.1.142857-2.3.142857,.8.142857,9.6.142857,2.3.142857-5.1.142857-1.5.142857,11.3.142857-.6.142857-20.2.142857,12.1.142857-11.3.142857,4.7.142857,4.4.142857-1.1.142857,9.5.142857-6.4.142857,.6.142857,1.4.142857,10.3.142857-7.4.142857,3.3.142857-2.6.142857,2.9.142857-7.4.142857-.9.142857,5.3.142857-5.7.142857-9.5.142857,1.8.142857,3.8.142857,5.3.142857-6.1.142857,11.5.142857-6.9.142857-3.8.142857-4.7.142857,9.6.142857,.6.142857-11.6.142857,15.8.142857-1.8.142857,.6.142857-8.5.142857,4.2.142857-16.1.142857,13.3.142857-2.4.142857,2.1.142857,4.4.142857-6.1.142857,4.3.142857-3.9.142857-.4.142857-2.1.142857,8.7.142857,5.6.142857-9.7.142857-8.9.142857,6.2.142857,2.1.142857,.0.142857-7.2.142857,4.4.142857-5.4.142857,4.2.142857,3.5.142857-.4.142857,3.9.142857-4.8.142857,12.6.142857-7.5.142857-7.1.142857,11.0.142857,.0.142857-2.0.142857,.5.142857,1.7.142857,2.8.142857-7.1.142857,6.6.142857-8.4.142857,1.7.142857-3.3.142857,7.2.142857,2.0.142857-5.8.142857,2.2.142857-12.1.142857,10.0.142857-2.1.142857,10.3.142857-2.1.142857,6.2.142857,6.1.142857-10.1.142857,2.3.142857,3.3.142857-3.5.142857-.1.142857-7.2.142857,2.4.142857-5.4.142857,7.1.142857-3.7.142857,.4.142857-12.5.142857,18.1.142857,3.7.142857-.5.142857-5.9.142857,4.9.142857-7.2.142857-5.4.142857,.7.142857-1.1.142857,13.9.142857-22.6.142857,16.5.142857-7.0.142857,1.2.142857,7.7.142857-2.9.142857,5.3.142857-6.4.142857-.4.142857,.1.142857,6.3.142857-11.1.142857,3.1.142857-.8.142857,.2.142857-2.9.142857,6.4.142857,3.1.142857,3.2.142857-5.8.142857-5.4.142857,8.3.142857-19.0.142857,13.7.142857-8.8.142857,6.7.142857-6.3.142857-1.3.142857,5.8.142857,12.4.142857-6.3.142857,5.3.142857-8.6.142857,1.7.142857-5.4.142857,.3.142857,2.4.142857,6.0.142857-3.1.142857-6.1.142857,2.9.142857-2.0.142857,6.2.142857-2.3.142857-.8.142857,4.2.142857,.0.142857,3.2.142857-12.5.142857,8.0.142857-9.0.142857,9.6.142857-6.3.142857-6.9.142857,7.4.142857,3.0.142857-6.3.142857,2.0.142857,7.6.142857-6.1.142857,6.3.142857,2.3.142857-1.2.142857-4.6.142857,3.8.142857-7.7.142857-2.4.142857,.4.142857,13.9.142857,1.0.142857-8.7.142857,.7.142857-12.9.142857,15.5.142857,2.6.142857-15.4.142857,13.6.142857-1.7.142857,.5.142857-6.0.142857,3.5.142857-6.8.142857,12.0.142857-7.6.142857,9.7.142857-4.1.142857-4.5.142857,9.4.142857-9.2.142857,5.4.142857-1.7.142857-1.9.142857,1.5.142857,3.9.142857-6.6.142857,.8.142857,.1.142857-1.7.142857-3.1.142857,7.2.142857-8.1.142857,7.8.142857-.9.142857,1.7.142857,2.1.142857,1.4.142857-1.4.142857,5.0.142857-10.5.142857-3.5.142857,3.9.142857,6.8.142857,6.7.142857,.5.142857-8.4.142857,4.4.142857,.5.142857-9.3.142857,11.6.142857-8.0.142857-1.6.142857,3.3.142857,1.3.142857-14.5.142857,9.5.142857,.8.142857-3.3.142857,2.4.142857-3.2.142857-3.0.142857,4.3.142857-11.5.142857,13.6.142857,.3.142857-.4.142857,1.2.142857-6.3.142857-.7.142857-5.8.142857,.4.142857,7.1.142857,8.4.142857-4.7.142857,8.2.142857-1.4.142857-10.4.142857,1.6.142857-3.0.142857-3.1.142857,7.8.142857,3.4.142857-7.8.142857,11.7.142857,.5.142857-8.8.142857,4.4.142857-7.9.142857,5.0.142857,4.2.142857-14.4.142857,19.2.142857-17.8.142857,10.1.142857-1.0.142857,8.4.142857-11.3.142857,2.0.142857,20.6.142857-9.4.142857-6.1.142857-8.3.142857,4.2.142857-12.1.142857,4.7.142857,8.0.142857,2.4.142857-4.9.142857,6.1.142857,.8.142857-9.1.142857,5.9.142857-1.9.142857,7.6.142857-14.9.142857,8.0.142857-3.6.142857,11.6.142857-26.5.142857,25.2.142857-9.3.142857,3.3.142857-9.0.142857-.3.142857,2.3.142857,2.8.142857-12.9.142857,10.3.142857,2.8.142857,2.7.142857,3.8.142857-3.1.142857-2.9.142857-6.1.142857-2.6.142857,13.6.142857,3.9.142857-6.7.142857,5.0.142857-10.1.142857,10.2.142857-6.3.142857,2.4.142857,2.2.142857,2.0.142857-3.0.142857,.6.142857,.4.142857-7.5.142857,2.7.142857,1.2" fill="none" stroke="#0f0" stroke-width="0.9" stroke-linejoin="bevel"/>
<path d="M390.00,297.8l.142857-4.3.142857-8.8.142857,11.9.142857-6.7.142857,.8.142857,4.8.142857-10.7.142857,12.8.142857-10.1.142857-2.4.142857,13.4.142857-2.8.142857-6.4.142857,13.1.142857-9.1.142857-8.6.142857,7.2.142857-7.6.142857,9.3.142857-7.7.142857,10.5.142857-11.0.142857,16.6.142857-4.7.142857,7.4.142857-10.5.142857-8.0.142857,5.4.142857,7.2.142857,12.4.142857-4.9.142857,4.3.142857-12.3.142857,.7.142857,.4.142857,8.2.142857-8.8.142857,3.7.142857,11.5.142857-13.8.142857,4.3.142857-6.9.142857,7.0.142857,6.6.142857,4.5.142857-13.9.142857-7.1.142857,16.5.142857,7.1.142857-12.8.142857,4.7.142857-5.4.142857-7.2.142857-2.8.142857,14.9.142857,4.7.142857-10.5.142857,7.0.142857-1.1.142857,.3.142857-4.1.142857,13.0.142857-5.4.142857-7.7.142857,2.7.142857,5.0.142857-4.9.142857,4.4.142857-4.1.142857,5.4.142857-4.5.142857,4.2.142857-10.0.142857,3.1.142857-2.3.142857,15.9.142857-13.0.142857,3.3.142857-8.4.142857,3.9.142857-4.4.142857,8.9.142857-5.4.142857,14.2.142857-12.3.142857,9.9.142857-5.7.142857,2.9.142857-7.6.142857,3.6.142857-2.6.142857-5.5.142857,7.9.142857-12.3.142857,7.6.142857,.8.142857,.9.142857-8.6.142857,11.4.142857-6.7.142857,.7.142857-2.5.142857,2.8.142857,4.9.142857,14.3.142857-30.8.142857,22.3.142857,.3.142857,4.5.142857-6.1.142857,2.6.142857,6.8.142857-9.8.142857,1.0.142857-1.5.142857,1.1.142857,7.9.142857-14.4.142857,12.6.142857-19.5.142857,14.9.142857-3.9.142857,10.3.142857-2.0.142857,1.5.142857-3.1.142857-2.1.142857-13.8.142857,12.2.142857-9.4.142857,13.7.142857-9.6.142857,4.1.142857-3.0.142857,5.2.142857,2.6.142857,.2.142857-9.7.142857,15.4.142857-15.4.142857,5.8.142857-14.3.142857,15.6.142857,3.9.142857-.6.142857-4.6.142857-2.5.142857-5.6.142857,1.0.142857,1.5.142857,2.5.142857-7.0.142857,2.4.142857,3.7.142857-2.8.142857-.8.142857-3.2.142857,5.5.142857-.3.142857,6.2.142857-9.9.142857,5.2.142857-14.0.142857,17.5.142857-18.4.142857,7.2.142857-3.1.142857-.4.142857,1.9.142857-.8.142857,4.2.142857,1.9.142857,5.1.142857,.8.142857,2.0.142857-8.3.142857-6.6.142857,16.6.142857-9.2.142857-20.4.142857,17.8.142857-5.5.142857-2.2.142857,1.8.142857,3.1.142857-5.2.142857,7.7.142857-.5.142857,.2.142857,4.2.142857-.2.142857,5.2.142857-6.9.142857-6.4.142857,5.8.142857,9.4.142857,1.2.142857-13.4.142857,8.7.142857-8.0.142857,.6.142857-7.1.142857-.5.142857,7.7.142857,3.0.142857-.1.142857-6.9.142857,2.4.142857,2.5.142857-1.8.142857-14.3.142857,8.6.142857,3.6.142857,.9.142857-7.9.142857,11.2.142857-19.3.142857,23.2.142857-11.0.142857,3.6.142857-5.3.142857-1.7.142857,5.5.142857,1.6.142857-6.0.142857,11.6.142857-7.0.142857-.6.142857-.8.142857,1.3.142857,2.9.142857-4.8.142857,12.8.142857-9.7.142857,9.8.142857-9.5.142857,3.8.142857-2.4.142857,11.0.142857,1.5.142857-12.1.142857,7.9.142857-1.5.142857,1.7.142857,.7.142857,3.4.142857-9.2.142857-10.4.142857,14.6.142857-7.7.142857,2.5.142857,9.1.142857,1.7.142857-9.6.142857,6.5.142857-4.1.142857,2.9.142857-6.1.142857,9.1.142857-13.1.142857,2.1.142857,6.6.142857-9.4.142857,7.7.142857,.5.142857,2.7.142857,5.1.142857-21.6.142857,19.2.142857-4.1.142857,4.2.142857-1.8.142857-7.6.142857,3.3.142857-1.4.142857,14.8.142857-9.3.142857,5.4.142857-3.2.142857-9.8.142857,9.4.142857-.5.142857,6.2.142857-7.4.142857-4.5.142857,2.7.142857,7.0.142857-.6.142857,.3.142857-2.7.142857-8.3.142857,8.4.142857-4.2.142857-15.9.142857,8.5.142857,11.6.142857-11.6.142857,2.5.142857,1.9.142857,.0.142857-1.1.142857,2.1.142857-6.1.142857-4.4.142857,8.1.142857,1.1.142857,.7.142857,11.2.142857-9.9.142857,1.9.142857,3.8.142857-5.1.142857-1.1.142857-9.2.142857,4.2.142857-3.7.142857,.2.142857,9.8.142857-2.5.142857-2.9.142857-10.7.142857,15.0.142857-.2.142857-9.4.142857,7.4.142857-2.6.142857,1.9.142857-16.7.142857,4.8.142857,16.1.142857-6.0.142857-4.5.142857,.7.142857,5.0.142857,6.8.142857-8.2.142857,4.8.142857-1.9.142857-4.3.142857,12.1.142857-1.1.142857-9.4.142857,3.3.142857-5.9.142857-3.5.142857,10.6.142857,7.0.142857-21.7.142857,12.1.142857,14.5.142857-1.8.142857-12.0.142857,1.5.142857,12.9.142857-13.4.142857,5.3.142857-4.8.142857,7.6.142857-1.3.142857,9.7.142857-14.2.142857-5.3.142857,7.9.142857,5.4.142857-4.5.142857,15.6.142857-16.7.142857-.5.142857,6.1.142857,6.6.142857-8.1.142857,2.8.142857-11.9.142857,2.1.142857,10.2.142857,5.0.142857-3.6.142857-1.6.142857,1.2.142857-5.5.142857-5.0.142857,2.1.142857-4.6.142857,.7.142857,1.7.142857,8.9.142857,9.7.142857-8.4.142857,5.4.142857-16.3.142857,2.6.142857,.9.142857,7.4.142857,5.3.142857-5.3.142857-2.3.142857-2.0.142857-4.2.142857,5.6.142857,.8.142857-3.1.142857-3.6.142857,5.4.142857-1.4.142857-3.6.142857,11.2.142857-7.1.142857,5.5.142857-9.3.142857,2.7.142857-1.3.142857-3.0.142857,6.2.142857-3.5.142857-5.5.142857,.1.142857,5.4.142857,.1.142857,10.2.142857-22.5.142857,18.6.142857-1.7.142857-1.1.142857-6.2.142857-.5.142857-6.7.142857,14.6.142857-6.6.142857-1.2.142857,9.7.142857-14.2.142857,4.0.142857,3.3.142857-5.4.142857,3.4.142857-.4.142857,1.1.142857-7.8.142857,2.5.142857,13.8.142857-3.7.142857-3.4.142857-2.4.142857,11.9.142857-10.6.142857-5.1.142857,9.9.142857-9.4.142857,5.1.142857,.1.142857-8.8.142857,8.7.142857,.9.142857,3.7.142857-2.9.142857,7.9.142857-9.2.142857-3.2.142857,4.5.142857-4.0.142857-11.6.142857,21.0.142857-15.7.142857-1.1.142857,13.9.142857-6.6.142857,8.8.142857,2.9.142857-.8.142857-5.7.142857,.7.142857-6.4.142857,10.0.142857-5.3.142857,.9.142857,1.2.142857,.6.142857,3.3.142857,.9.142857-5.9.142857-1.3.142857-5.8.142857,14.5.142857-8.0.142857-3.3.142857-8.6.142857,12.7.142857-11.1.142857,7.2.142857-2.9.142857,8.2.142857-7.9.142857-3.1.142857-3.7.142857,7.4.142857,9.5.142857-8.1.142857-3.2.142857,9.5.142857-9.4.142857,8.7.142857-14.0.142857,.7.142857,9.7.142857-10.1.142857,13.1.142857-14.9.142857,18.4.142857-13.5.142857-.6.142857,9.5.142857-11.4.142857,4.0.142857-7.9.142857,10.6.142857-6.5.142857-6.0.142857,7.4.142857-4.7.142857,9.2.142857-7.4.142857,19.6.142857-.4.142857-22.4.142857,12.2.142857-9.3.142857,1.1.142857-2.4.142857,15.0.142857-17.9.142857,18.8.142857-18.2.142857,12.4.142857-5.9.142857-.8.142857-3.1.142857,2.8.142857,4.2.142857,8.0.142857-12.2.142857,8.2.142857-2.4.142857-1.6.142857,5.3.142857-.5.142857-6.0.142857,2.1.142857,4.8.142857-5.3.142857,6.0.142857-7.5.142857,5.2.142857,1.5.142857-.2.142857-.3.142857-2.3.142857-2.8.142857-4.5.142857-.6.142857,6.2.142857-8.1.142857,15.7.142857-17.8.142857,5.7.142857,8.5.142857,2.6.142857-4.7.142857-2.5.142857-8.6.142857,11.1.142857-2.3.142857-7.4.142857,3.9.142857,8.8.142857-2.0.142857-1.4.142857,2.2.142857-1.1.142857-2.2.142857-3.0.142857,2.6.142857-3.3.142857-2.0.142857-1.2.142857,14.7.142857-3.4.142857,1.0.142857-4.9.142857,1.1.142857-5.2.142857,.6.142857,9.6.142857,6.3.142857-20.2.142857,6.9.142857-.2.142857-1.9.142857,3.3.142857,1.1.142857-5.4.142857,7.4.142857-12.7.142857,16.6.142857-1.3.142857-10.3.142857-2.6.142857,.5.142857,6.0.142857,9.7.142857-2.8.142857-1.5.142857-11.2.142857,5.1.142857,3.5.142857,.5.142857-.6.142857-.9.142857,7.2.142857-7.5.142857,1.3.142857-2.1.142857,7.0.142857-10.0.142857,15.5.142857-9.1.142857-3.3.142857,4.9.142857-3.8.142857-11.8.142857,8.2.142857,9.0.142857-6.1.142857,7.4.142857-10.3.142857,2.6.142857-1.2.142857,1.1.142857-3.5.142857-2.2.142857,9.4.142857-12.2.142857,4.0.142857,8.3.142857,6.8.142857-4.7.142857-4.8.142857-5.3.142857-.6.142857,6.8.142857-4.4.142857-7.4.142857,11.6.142857-1.3.142857-13.5.142857,15.6.142857-4.8.142857,7.3.142857-7.0.142857,6.4.142857,2.9.142857-9.4.142857-4.0.142857,6.5.142857,9.9.142857-8.1.142857,.5.142857,.2.142857-4.2.142857-.5.142857-.7.142857,.8.142857-3.5.142857,15.3.142857-14.8.142857,9.5.142857-12.2.142857,9.7.142857-4.2.142857,3.5.142857,6.2.142857-7.7.142857-5.2.142857,2.0.142857-4.9.142857,1.4.142857,4.4.142857,8.7.142857-4.4.142857,6.0.142857-4.0.142857-4.4.142857,1.6.142857-1.5.142857,1.1.142857,12.6.142857-10.2.142857,2.8.142857-4.4.142857-6.0.142857,.3.142857,10.5.142857-5.9.142857,3.7.142857-5.4.142857-2.5.142857,9.5.142857-5.0.142857-7.2.142857,8.8.142857,4.9.142857-6.9.142857,2.3.142857-3.4.142857,.6.142857,6.1.142857,5.7.142857-7.8.142857-7.7.142857,3.3.142857,4.6.142857,1.8.142857-5.3.142857-7.7.142857,11.5.142857-2.2.142857-7.7.142857,11.3.142857-7.9.142857,1.6.142857-6.3.142857,9.4.142857,2.0.142857-11.3.142857,6.6.142857-9.9.142857,4.8.142857,3.5.142857,5.9.142857-3.4.142857,2.4.142857-6.8.142857,7.5.142857-9.5.142857,10.0.142857-8.5.142857,8.1.142857,6.3.142857-4.6.142857-.1.142857-.2.142857-15.6.142857,9.2.142857,8.0.142857-4.3.142857-9.7.142857,14.0.142857,3.3.142857-10.8.142857,5.7.142857-3.5.142857,3.9.142857,6.5.142857-10.0.142857,4.9.142857,3.1.142857-17.2.142857,8.8.142857-3.0.142857,6.2.142857-7.2.142857,1.8.142857,6.4.142857-4.3.142857-7.3.142857,3.8.142857-.7.142857-2.2.142857,13.1.142857,3.0.142857-13.0.142857,16.1.142857-8.7.142857-12.5.142857-.7.142857,2.9.142857,12.6.142857-15.8.142857,1.9.142857,13.9.142857-9.3.142857,5.0.142857-11.9.142857,10.6.142857-6.3.142857-.3.142857-2.7.142857,10.0.142857-17.3.142857,18.2.142857,5.4.142857-2.1.142857-15.7.142857,14.7.142857-1.1.142857,2.6.142857-8.8.142857,10.5.142857-4.0.142857-9.8.142857,1.6.142857,1.8.142857,6.0.142857,.0.142857,.0.142857-10.0.142857,1.6.142857-2.4.142857,3.8.142857-6.1.142857,8.0.142857,3.0.142857-6.9.142857,6.2.142857,3.5.142857-11.1.142857,15.4.142857-4.4.142857-8.3.142857,2.2.142857-4.3.142857,5.4.142857-.2.142857-4.7.142857,2.9.142857-3.8.142857-4.7.142857,2.7.142857,11.9.142857-13.9.142857,6.6.142857,8.1.142857-1.6.142857,3.0.142857-14.5.142857,11.4.142857,.2.142857-2.8.142857,.8.142857-1.9.142857,9.7.142857-11.8.142857-4.3.142857,10.3.142857-13.5.142857,2.1.142857,6.1.142857-2.9.142857-4.9.142857,12.5.142857-14.6.142857,14.2.142857-6.9.142857,2.1.142857,6.5.142857-1.2.142857-2.2.142857,10.2.142857-12.6.142857,13.9.142857-8.1.142857-.6.142857,1.3.142857,4.5.142857-16.1.142857,20.7.142857,2.4.142857-19.4.142857-1.5.142857,4.7.142857,.2.142857,2.6.142857-.5.142857,.0.142857,11.6.142857-16.2.142857-2.0.142857,11.6.142857,1.5.142857-12.6.142857,8.1.142857-4.5.142857-5.4.142857,6.2.142857,4.1.142857-9.5.142857,.8.142857,6.1.142857,14.0.142857-4.5.142857-7.5.142857-.6.142857,5.9.142857-10.2.142857,5.1.142857-7.0.142857,5.9.142857,2.6.142857-9.7.142857,8.1.142857,.6.142857-6.3.142857-9.3.142857,8.8.142857,17.0.142857-15.2.142857-6.5.142857,7.8.142857-7.0.142857-2.3.142857,2.5.142857,11.7.142857-5.8.142857-3.2.142857,.7.142857-6.1.142857,.6.142857,18.7.142857-13.6.142857-.2.142857-.3.142857-5.3.142857,9.3.142857-18.1.142857,18.1.142857-7.1.142857,5.4.142857,5.2.142857-4.1.142857-8.6.142857,7.9.142857-4.1.142857,4.2.142857-8.7.142857,15.9.142857-12.4.142857-2.4.142857-9.4.142857,12.5.142857,6.1.142857-6.7.142857,1.2.142857,6.4.142857-.2.142857-10.3.142857,9.7.142857,2.2.142857,8.0.142857-17.9.142857-8.9.142857,11.3.142857-4.9.142857,1.9.142857,6.1.142857-.2.142857-2.3.142857,3.7.142857,1.6.142857-4.4.142857,9.1.142857,2.9.142857-9.2.142857,9.0.142857-4.2.142857-3.3.142857,.0.142857,11.9.142857-18.1.142857-.6.142857,15.0.142857-8.1.142857-8.5.142857,2.5.142857,4.9.142857-7.9.142857,5.3.142857,1.0.142857,4.8.142857-9.6.142857,5.2.142857,2.1.142857-10.4.142857,.8.142857,14.3.142857-8.8.142857-5.3.142857,13.1.142857-3.2.142857-14.3.142857,6.0.142857,3.1.142857,5.7.142857-12.9.142857,11.3.142857,4.1.142857-20.9.142857,14.2.142857,5.5.142857-4.4.142857,1.2.142857-5.5.142857,10.3.142857-3.2.142857-3.8.142857,7.9.142857-.6.142857-4.9.142857,4.0.142857-1.9.142857,.1.142857,15.3.142857-15.6.142857-3.2.142857,5.6.142857,1.4.142857-4.8.142857-8.9.142857,10.1.142857-2.3.142857,1.4.142857,9.7.142857-1.8.142857-4.2.142857,6.1.142857-1.3.142857,2.8.142857-8.4.142857,2.7.142857-4.7.142857,11.5.142857-13.7.142857,5.3.142857-11.3.142857,11.8.142857-7.9.142857-3.9.142857,10.1.142857-.5.142857-5.9.142857-2.3.142857,2.2.142857,8.2.142857-7.6.142857-3.1.142857,9.7.142857-14.5.142857,9.2.142857,2.7.142857-4.5.142857,6.5.142857,4.3.142857-17.2.142857,1.2.142857,2.9.142857,.6.142857-3.8.142857,14.5.142857-1.3.142857,2.6.142857-5.5.142857-3.6.142857-4.5.142857,9.4.142857-3.9.142857-2.4.142857-1.0.142857-4.2.142857,13.0.142857,1.8.142857-7.2.142857,.3.142857,.8.142857-.9.142857,10.1.142857-6.2.142857-3.4.142857,7.2.142857-4.4.142857-4.3.142857,2.7.142857-3.6.142857,.6.142857,7.1.142857-1.9.142857,5.4.142857-3.1.142857-6.7.142857,1.4.142857,1.3.142857,.5.142857-3.5.142857,7.0.142857,7.9.142857-4.0.142857-10.6.142857-3.7.142857,14.3.142857-4.3.142857-12.2.142857,.3.142857,8.6.142857-3.0.142857,6.9.142857,4.2.142857-11.1.142857,6.8.142857,7.7.142857-4.9.142857-7.0.142857-6.2.142857,13.3.142857-11.5.142857,8.4.142857,6.3.142857-12.5.142857,14.5.142857-6.5.142857-5.4.142857,18.5.142857-15.3.142857,5.7.142857-14.6.142857,10.4.142857-3.6.142857-5.6.142857,.2.142857,9.3.142857-6.8.142857,7.2.142857-2.5.142857-7.3.142857-1.1.142857,9.1.142857-6.9.142857,6.9.142857-7.5.142857,10.4.142857-6.7.142857-5.3.142857,6.8.142857-5.0.142857,8.2.142857-.1.142857-4.0.142857,7.3.142857-1.3.142857-13.9.142857,1.7.142857,17.0.142857-2.8.142857-10.2.142857,5.8.142857,6.2.142857-15.9.142857,8.4.142857-7.7.142857,5.6.142857,9.0.142857,11.7.142857-12.4.142857,5.3.142857-14.8.142857,5.6.142857,2.8.142857-14.4.142857,7.1.142857,8.9.142857-3.9.142857-5.6.142857,7.9.142857-6.5.142857,5.7.142857-8.3.142857,4.3.142857,3.4.142857,5.3.142857,2.1.142857-19.5.142857,16.5.142857-2.1.142857,4.0.142857-6.2.142857-2.9.142857,17.6.142857-10.2.142857,4.1.142857,1.0.142857-10.9.142857-6.7.142857,5.4.142857-4.0.142857,12.5.142857,3.1.142857,5.1.142857-.5.142857-5.0.142857-9.5.142857-2.8.142857,.3.142857,12.4.142857-6.6.142857,5.5.142857-7.8.142857-7.7.142857,11.6.142857-9.7.142857,8.8.142857,13.0.142857-22.0.142857,9.7.142857,9.2.142857-18.5.142857,3.3.142857-2.4.142857,6.8.142857,2.3.142857-5.7.142857,3.6.142857-7.8.142857-.9.142857-4.6.142857,12.1.142857,7.5.142857-9.4.142857,2.2.142857,5.2.142857-1.3.142857-1.9.142857,2.9.142857-12.8.142857,16.5.142857-7.2.142857-1.9.142857,1.4.142857,8.0.142857-11.7.142857,12.1.142857-10.4.142857-3.2.142857,5.6.142857,5.0.142857,2.1.142857-7.6.142857-1.7.142857,.7.142857-2.6.142857-1.7.142857,6.6.142857-.7.142857-.6.142857,6.7.142857-9.4.142857-2.4.142857-2.3.142857-4.0.142857,7.4.142857-12.2.142857,12.1.142857,3.8.142857-6.9.142857-1.0.142857,3.8.142857,14.7.142857-13.8.142857-.7.142857,.3.142857-8.5.142857,5.3.142857,4.4.142857-5.2.142857,9.1.142857-12.6.142857,6.6.142857,6.7.142857-9.6.142857,.6.142857,.5.142857,2.8.142857,.6.142857-7.6.142857,8.3.142857-5.1.142857,13.8.142857-.3.142857-14.9.142857,1.0.142857-.6.142857,5.8.142857-1.1.142857-3.8.142857,3.0.142857,.0.142857,2.2.142857-8.8.142857,5.0.142857-2.3.142857,9.2.142857-.6.142857-8.3.142857,5.4.142857-7.1.142857,4.8.142857,8.7.142857-2.5.142857-.9.142857-6.6.142857-9.9.142857,7.8.142857,1.2.142857,7.4.142857-12.9.142857-.8.142857,4.1.142857,3.1.142857-6.8.142857,4.2.142857,7.9.142857,9.7.142857-12.8.142857,3.5.142857,6.5.142857-16.2.142857,12.8.142857-2.5.142857-8.9.142857,9.4.142857,3.7.142857-5.3.142857,2.2.142857,10.3.142857-8.8.142857-7.4.142857,9.6.142857-1.6.142857,6.8.142857-16.8.142857,3.0.142857,6.4.142857,5.5.142857-22.9.142857,14.8.142857-4.3.142857-5.4.142857,7.7.142857-3.3.142857,8.5.142857-1.2.142857,5.7.142857-1.7.142857-3.6.142857,3.5.142857,2.6.142857-5.6.142857,10.8.142857-14.1.142857-4.4.142857,10.4.142857,.9.142857-.2.142857-6.2.142857,10.8.142857-3.9.142857,1.5.142857-.3.142857-6.4.142857,4.9.142857-6.0.142857,5.4.142857,2.7.142857,1.2.142857-5.7.142857,8.1.142857-8.6.142857,4.4.142857-1.6.142857,8.8.142857-10.4.142857-.3.142857,6.7.142857-9.1.142857,7.4.142857-7.5.142857-4.8.142857,8.7.142857-2.0.142857-3.9.142857,4.9.142857-10.3.142857,17.0.142857-3.4.142857,.5.142857-7.5.142857,6.6.142857,7.0.142857-20.5.142857,18.3.142857-17.3.142857,10.5.142857-3.8.142857-4.3.142857,15.1.142857-8.3.142857-4.8.142857-4.0.142857,7.3.142857,1.5.142857,2.0.142857-7.0.142857,3.3.142857,3.0.142857-2.6.142857,6.4.142857-1.9.142857-6.1.142857-5.6.142857,8.0.142857-7.0.142857,5.4.142857-1.5.142857-3.9.142857,10.4.142857-9.2.142857,6.2.142857,1.2.142857-5.5.142857,4.4.142857-3.9.142857-5.7.142857,4.2.142857,6.5.142857,5.4.142857-12.7.142857-6.0.142857-.8.142857,13.6.142857-.3.142857-4.5.142857-3.2.142857,5.1.142857,6.0.142857-4.5.142857,1.5.142857-5.4.142857,2.6.142857,2.8.142857-4.9.142857,8.1.142857-3.6.142857,9.5.142857-17.2.142857-1.8.142857,4.6.142857,2.0.142857,6.3.142857-4.8.142857,2.4.142857-.5.142857-10.3.142857,10.3.142857-1.5.142857-2.6.142857-3.4.142857,1.5.142857,.2.142857,3.4.142857-6.5.142857,4.9.142857-2.0.142857,4.4.142857-1.9.142857,2.1.142857-3.4.142857,.1.142857,7.5.142857-16.7.142857,13.5.142857-.3.142857-12.5.142857,11.8.142857-5.3.142857,4.1.142857-8.9.142857-8.2.142857,4.7.142857,8.7.142857-3.1.142857-7.0.142857,.0.142857,3.4.142857,2.6.142857,3.0.142857-1.1.142857-1.3.142857,3.7.142857,2.5.142857,1.6.142857-14.0.142857,6.1.142857-5.2.142857,.4.142857,9.9.142857-11.1.142857,4.0.142857-1.8.142857,7.7.142857-8.1.142857,2.2.142857-2.9.142857-.6.142857,.6.142857,3.3.142857-10.1.142857,5.4.142857,4.2.142857,.0.142857-.4.142857-1.3.142857-2.5.142857,10.5.142857-3.5.142857-4.3.142857,8.6.142857-.9.142857,8.2.142857-9.1.142857,1.8.142857,.8.142857,3.9.142857-5.7.142857-7.3.142857,1.9.142857,13.9.142857-11.4.142857,12.8.142857-23.0.142857,9.7.142857,4.4.142857-8.4.142857,5.6.142857,1.8.142857,2.0.142857,1.1.142857,5.7.142857-10.1.142857-3.4.142857,9.3.142857-.3.142857-2.9.142857-6.4.142857-5.6.142857,11.0.142857,.8.142857,7.6.142857-16.8.142857,9.2.142857,14.0.142857-10.7.142857-9.1.142857,10.8.142857-5.3.142857,1.6.142857,1.7.142857-9.9.142857-6.8.142857,4.7.142857,11.7.142857-3.9.142857,.3.142857-7.4.142857,13.2.142857-5.6.142857-3.7.142857-1.1.142857-6.5.142857,12.0.142857-2.9.142857,.6.142857,6.8.142857,3.2.142857-16.2.142857,9.8.142857-7.4.142857,3.5.142857-1.1.142857,.4.142857,2.9.142857-.2.142857,3.3.142857-12.6.142857-.9.142857,7.8.142857,5.7.142857-.6.142857,.2.142857-13.7.142857,6.6.142857,6.8.142857-7.7.142857,3.9.142857-6.6.142857,1.8.142857-3.8.142857,9.1.142857-5.2.142857,4.5.142857-.7.142857-5.0.142857,6.5.142857-1.1.142857-3.5.142857-2.0.142857,.0.142857,8.8.142857-1.4.142857-5.5.142857,4.5.142857-9.8.142857,.3.142857,3.1.142857,6.8.142857-10.1.142857-4.2.142857-.3.142857,16.0.142857,.4.142857-6.2.142857,1.8.142857,3.8.142857-15.5.142857,5.9.142857,2.9.142857,3.7.142857-10.1.142857,18.7.142857-14.9.142857-.5.142857-1.1.142857,9.3.142857-2.7.142857,8.7.142857-13.7.142857,8.1.142857,4.5.142857-1.1.142857-6.3.142857-6.2.142857,3.3.142857,.1.142857-5.2.142857,10.8.142857,10.3.142857-15.3.142857,1.3.142857-.9.142857,2.5.142857,.9.142857-.8.142857-7.3.142857,.0.142857,3.2.142857,6.5.142857-4.9.142857,.3.142857-14.1.142857,11.1.142857-.6.142857-1.4.142857,4.4.142857,1.3.142857-17.6.142857,15.4.142857-5.2.142857,7.5.142857-4.4.142857,6.2.142857-4.9.142857-2.4.142857,1.5.142857-5.0.142857-4.9.142857,7.5.142857,4.8.142857-2.8.142857,5.1.142857-5.8.142857,17.1.142857-12.0.142857-2.2.142857,.5.142857-7.0.142857,1.8.142857,8.7.142857-14.7.142857,7.1.142857,5.8.142857-5.8.142857,5.5.142857,.6.142857,2.8.142857,4.5.142857-12.4.142857,7.0.142857,7.3.142857-.4.142857,1.1.142857-9.7.142857,.1.142857-5.6.142857,7.7.142857-8.3.142857,4.0.142857,8.9.142857-9.3.142857-6.6.142857,.0.142857,1.7.142857,5.1.142857-1.2.142857,1.0.142857,.6.142857-.3.142857-10.9.142857,13.0.142857-8.4.142857,13.3.142857-5.0.142857-7.7" fill="none" stroke="#00f" stroke-width="0.9" stroke-linejoin="bevel"/>
<path d="M389.0,253.8H639.0M389.0,435.6H639.0" stroke="#000" stroke-width="2.0" fill="none"/>
<path d="M389.0,252.8V436.6M639.0,252.8V436.6" stroke="#000" stroke-width="3.0" fill="none"/>
<text transform="translate(368.50,438.14) scale(1.650,1)" font-size="7.00" fill="#000">110</text>
<text transform="translate(368.04,401.78) scale(1.650,1)" font-size="7.00" fill="#000">120</text>
<text transform="translate(368.04,365.42) scale(1.650,1)" font-size="7.00" fill="#000">130</text>
<text transform="translate(368.04,329.06) scale(1.650,1)" font-size="7.00" fill="#000">140</text>
<text transform="translate(368.04,292.70) scale(1.650,1)" font-size="7.00" fill="#000">150</text>
<text transform="translate(368.04,256.34) scale(1.650,1)" font-size="7.00" fill="#000">160</text>
<text transform="translate(386.11,443.52) scale(1.700,1)" font-size="6.80" fill="#000">0</text>
<text transform="translate(424.55,443.52) scale(1.700,1)" font-size="6.80" fill="#000">20000</text>
<text transform="translate(474.67,443.52) scale(1.700,1)" font-size="6.80" fill="#000">40000</text>
<text transform="translate(524.55,443.52) scale(1.700,1)" font-size="6.80" fill="#000">60000</text>
<text transform="translate(574.55,443.52) scale(1.700,1)" font-size="6.80" fill="#000">80000</text>
<text transform="translate(621.31,443.59) scale(1.700,1)" font-size="6.80" fill="#000">1e+005</text>
<text transform="translate(491.27,451.30) scale(1.516,1)" font-size="7.70">Time (ps)</text>
<text transform="translate(361.40,360.97) scale(1.540,1) rotate(-90)" font-size="7.43" fill="#000">Area (nm<tspan font-size="70%" dy="-0.93em">2</tspan><tspan dy="0.65em">)</tspan></text>
<text transform="translate(348.19,452.40) scale(0.957,1)" font-size="21.38" font-weight="bold" fill="#000">D</text>
<path d="M243.76,672.0v-3.5M243.76,490.5v3.5M269.52,672.0v-7M269.52,490.5v7M295.28,672.0v-3.5M295.28,490.5v3.5M321.04,672.0v-7M321.04,490.5v7M346.80,672.0v-3.5M346.80,490.5v3.5M372.56,672.0v-7M372.56,490.5v7M398.32,672.0v-3.5M398.32,490.5v3.5M424.08,672.0v-7M424.08,490.5v7M449.84,672.0v-3.5M449.84,490.5v3.5M218.0,641.75h3.5M475.6,641.75h-3.5M218.0,611.50h7M475.6,611.50h-7M218.0,581.25h3.5M475.6,581.25h-3.5M218.0,551.00h7M475.6,551.00h-7M218.0,520.75h3.5M475.6,520.75h-3.5" stroke="#333" stroke-width="0.9" fill="none"/>
<path d="M219.00,591.6l.142857,12.7.142857,2.5.142857-22.5.142857,28.6.142857-8.7.142857,9.9.142857-6.8.142857,12.1.142857-35.1.142857,39.0.142857-12.0.142857-23.7.142857,22.3.142857-3.4.142857-32.8.142857,30.1.142857-14.7.142857,1.9.142857-5.8.142857,7.8.142857,7.8.142857-2.0.142857-26.7.142857,20.4.142857-13.5.142857,1.0.142857,13.5.142857,18.6.142857-2.5.142857-22.8.142857-5.1.142857,2.4.142857,13.1.142857,7.9.142857-13.1.142857,11.3.142857-5.2.142857,21.4.142857-55.1.142857-1.3.142857,26.4.142857,18.3.142857-18.7.142857,9.4.142857-21.1.142857-.3.142857,5.6.142857,25.6.142857-.2.142857-22.4.142857,14.7.142857-10.8.142857,10.7.142857-19.1.142857,15.5.142857-11.6.142857,9.6.142857-8.9.142857-3.2.142857,14.1.142857-6.6.142857,5.3.142857-5.0.142857,12.9.142857-22.6.142857,23.6.142857,7.7.142857-21.6.142857,31.3.142857,4.4.142857-24.1.142857-25.6.142857-2.2.142857,22.9.142857,27.8.142857-18.4.142857-1.3.142857-14.9.142857-2.1.142857,14.3.142857-20.4.142857,14.3.142857,7.7.142857-11.0.142857,6.7.142857-10.5.142857,18.0.142857-2.1.142857-32.6.142857,10.3.142857,1.7.142857,22.8.142857-4.8.142857,.7.142857,4.1.142857,10.4.142857-.8.142857-23.9.142857-17.1.142857,33.5.142857-9.0.142857-.8.142857-4.3.142857-11.7.142857-8.4.142857,40.1.142857,.8.142857-3.6.142857-10.2.142857-.5.142857-8.6.142857,10.1.142857-14.1.142857,.4.142857,6.6.142857,19.4.142857-50.1.142857,38.8.142857,2.2.142857-30.3.142857,22.2.142857-3.1.142857-11.3.142857,2.1.142857-13.4.142857,48.6.142857,4.4.142857-15.3.142857-26.6.142857,10.5.142857,4.2.142857-18.0.142857,7.5.142857,11.0.142857-10.9.142857-19.4.142857,11.3.142857,21.7.142857-8.6.142857-.3.142857,23.7.142857-18.4.142857-14.9.142857,9.3.142857,34.9.142857-50.7.142857,39.8.142857-4.6.142857-24.8.142857,.1.142857,24.6.142857-18.0.142857-9.8.142857,35.4.142857-22.4.142857,3.0.142857-4.7.142857-3.5.142857,6.8.142857-9.0.142857,15.4.142857,7.6.142857,1.0.142857,.9.142857,5.1.142857-12.8.142857-19.5.142857,23.7.142857-39.8.142857,14.0.142857,14.3.142857-28.3.142857,50.4.142857-40.2.142857-8.0.142857,7.9.142857,.1.142857,11.9.142857-.6.142857,15.3.142857-18.6.142857,6.3.142857-10.5.142857,21.3.142857-19.9.142857-19.9.142857,47.8.142857-40.4.142857-.4.142857,3.2.142857,23.7.142857-32.2.142857,22.6.142857,16.2.142857,18.6.142857-37.4.142857,9.7.142857-15.7.142857,40.8.142857-31.5.142857,1.3.142857,6.5.142857-16.3.142857,14.1.142857-18.1.142857,43.6.142857-24.7.142857-2.0.142857,18.1.142857-39.1.142857,37.7.142857-3.6.142857-29.5.142857,21.5.142857-11.7.142857,17.5.142857-12.9.142857-13.1.142857,21.8.142857-12.8.142857,6.6.142857,15.8.142857-.7.142857-10.1.142857-29.1.142857,33.4.142857-15.7.142857,20.6.142857-19.1.142857,26.0.142857-17.2.142857-7.3.142857,7.9.142857-29.2.142857,32.8.142857-6.3.142857-20.9.142857,24.0.142857-.6.142857,.3.142857-6.5.142857,12.7.142857,2.4.142857-9.5.142857-2.0.142857-4.7.142857-1.2.142857,16.5.142857-17.4.142857-14.4.142857,20.3.142857,15.9.142857-21.5.142857,16.7.142857-1.6.142857-24.0.142857,18.4.142857-10.7.142857,13.4.142857-51.3.142857,53.0.142857,1.6.142857-26.3.142857,27.2.142857-18.9.142857,5.6.142857,10.6.142857,7.9.142857-19.5.142857,6.8.142857-6.3.142857-15.8.142857,40.4.142857-10.7.142857-13.0.142857,13.2.142857-4.6.142857-17.6.142857,22.5.142857-16.6.142857,13.3.142857,6.9.142857-3.3.142857,16.1.142857-27.9.142857-5.0.142857-5.7.142857-1.2.142857,17.6.142857-5.3.142857-18.3.142857,6.3.142857,4.4.142857,33.0.142857-34.8.142857,18.6.142857-35.0.142857,18.4.142857,25.7.142857-39.1.142857,35.4.142857-46.8.142857,30.3.142857-20.6.142857,16.6.142857-1.7.142857,18.9.142857-6.0.142857-4.3.142857-13.8.142857,15.3.142857-17.6.142857-.9.142857-2.1.142857,18.0.142857,26.7.142857-33.1.142857,30.0.142857-43.5.142857,8.7.142857,15.7.142857,.6.142857-.8.142857,14.0.142857-23.9.142857,20.4.142857-14.9.142857-43.5.142857,26.2.142857,10.6.142857,8.8.142857,7.8.142857-13.1.142857,22.8.142857-36.8.142857,12.4.142857,16.9.142857-33.1.142857,39.3.142857-9.2.142857-16.2.142857,1.7.142857,3.0.142857-.1.142857,17.2.142857-12.6.142857-26.3.142857-2.9.142857,32.2.142857-51.6.142857,16.1.142857,14.6.142857,8.2.142857,25.3.142857-12.8.142857,47.9.142857-51.7.142857,10.6.142857,3.2.142857-19.8.142857,16.9.142857-7.0.142857-6.3.142857-13.1.142857,5.2.142857,18.3.142857-12.0.142857,6.4.142857-4.3.142857,1.8.142857-4.4.142857,7.3.142857,1.8.142857,5.9.142857-11.1.142857-12.8.142857-2.0.142857,18.9.142857-31.3.142857,8.0.142857,25.7.142857-20.2.142857-2.2.142857,31.0.142857-59.2.142857,35.9.142857-3.5.142857-.4.142857,22.1.142857,10.2.142857-6.3.142857-9.7.142857-3.7.142857-8.5.142857,6.5.142857-25.0.142857,18.2.142857,17.4.142857-11.8.142857,7.9.142857-37.3.142857,17.5.142857-4.3.142857,28.8.142857-23.0.142857,5.9.142857-15.0.142857,6.2.142857-5.5.142857,10.2.142857,35.6.142857-48.7.142857,12.8.142857-8.8.142857,34.7.142857-36.2.142857-.3.142857,16.8.142857,23.0.142857-18.4.142857-14.8.142857-26.8.142857-17.8.142857,53.1.142857,.7.142857,16.9.142857-7.1.142857-11.2.142857,20.7.142857,10.4.142857-32.5.142857,22.0.142857,6.1.142857-27.4.142857,15.8.142857-13.9.142857,15.3.142857-3.3.142857-47.8.142857,33.8.142857,22.7.142857-14.0.142857-19.3.142857,7.0.142857-8.2.142857,25.0.142857-29.4.142857,35.0.142857-5.7.142857,13.5.142857-8.6.142857,.4.142857-4.4.142857-5.4.142857-39.5.142857,38.3.142857-18.0.142857-22.5.142857,59.8.142857-21.6.142857-28.2.142857,29.1.142857,2.9.142857-7.0.142857,26.2.142857-41.3.142857,31.9.142857-29.7.142857,21.3.142857,2.2.142857-13.5.142857,43.7.142857-64.2.142857,5.4.142857,15.1.142857-6.0.142857,27.4.142857-30.1.142857,28.9.142857-27.7.142857,15.1.142857,4.8.142857-13.5.142857,14.4.142857-8.5.142857,25.6.142857,6.8.142857-39.2.142857,15.0.142857,9.3.142857-10.0.142857,15.0.142857,12.4.142857-69.0.142857,21.9.142857,29.9.142857-8.9.142857-21.4.142857,6.5.142857,5.0.142857,19.1.142857-35.6.142857,17.0.142857,15.5.142857-4.5.142857-17.0.142857-1.2.142857-25.4.142857-.5.142857,14.0.142857,28.6.142857-2.3.142857,8.2.142857-6.0.142857-1.1.142857-6.9.142857-13.5.142857,32.3.142857-21.2.142857-25.0.142857,35.6.142857-7.7.142857,33.9.142857-42.2.142857,10.4.142857-26.4.142857,25.5.142857-6.6.142857-17.3.142857,13.5.142857-20.2.142857,28.7.142857-16.4.142857,14.9.142857-15.0.142857-.8.142857,11.8.142857,12.7.142857-7.9.142857-36.4.142857,42.6.142857-7.4.142857,7.9.142857,4.1.142857-5.6.142857-21.8.142857,4.5.142857,11.5.142857,11.0.142857-25.3.142857,.8.142857-.9.142857,16.3.142857-18.2.142857,44.0.142857-22.1.142857,6.4.142857-6.5.142857-19.3.142857-28.0.142857,59.3.142857-13.3.142857-37.1.142857,70.8.142857-29.7.142857,14.9.142857-27.6.142857-23.3.142857,18.0.142857,22.1.142857-44.6.142857,21.3.142857,27.3.142857-1.8.142857-19.2.142857-42.8.142857,31.3.142857,26.4.142857-4.0.142857-15.8.142857,10.2.142857-2.5.142857-12.3.142857-4.5.142857,.8.142857,.0.142857,9.1.142857,1.4.142857,9.6.142857,1.6.142857-7.5.142857-33.4.142857,41.6.142857-21.9.142857,39.9.142857-27.8.142857,40.6.142857-27.3.142857,16.0.142857-23.2.142857,2.2.142857-12.5.142857-.3.142857,1.8.142857,17.8.142857-30.0.142857,31.0.142857-19.4.142857,15.1.142857-25.6.142857,16.0.142857-25.5.142857,20.2.142857,5.8.142857-11.5.142857,9.6.142857,3.1.142857,1.6.142857-35.5.142857,24.4.142857,3.9.142857-10.6.142857-1.3.142857,40.9.142857-16.5.142857,1.6.142857,2.1.142857-29.8.142857,9.3.142857-24.0.142857,29.1.142857-31.2.142857,22.2.142857,19.8.142857-3.2.142857-20.8.142857-2.3.142857,33.5.142857-11.7.142857-12.6.142857,9.3.142857-1.0.142857-17.9.142857,6.2.142857-24.8.142857,39.1.142857-3.3.142857,12.0.142857,2.2.142857-24.9.142857,29.4.142857-35.4.142857,29.5.142857-21.6.142857,1.1.142857-10.0.142857,16.9.142857,33.0.142857-31.4.142857,6.8.142857-11.4.142857,10.7.142857,.6.142857-.7.142857,12.2.142857-21.4.142857,3.7.142857,16.3.142857-11.3.142857-19.0.142857,30.9.142857-8.0.142857-25.1.142857,.3.142857,4.9.142857,18.7.142857-1.9.142857,10.0.142857,17.4.142857-10.6.142857-21.6.142857-8.2.142857,30.7.142857-31.9.142857-4.2.142857,7.2.142857,6.1.142857-7.6.142857,11.2.142857-41.3.142857,35.1.142857,2.7.142857,8.0.142857-7.3.142857-7.9.142857,39.1.142857-25.5.142857-6.2.142857-3.9.142857,5.4.142857-17.1.142857-3.9.142857,16.0.142857-29.7.142857,36.9.142857-14.9.142857,17.9.142857-9.4.142857-15.0.142857,3.4.142857,3.7.142857,26.7.142857-3.5.142857-21.7.142857,11.2.142857-15.6.142857,31.8.142857-20.6.142857-12.2.142857-12.5.142857,26.4.142857,19.9.142857-28.8.142857-12.4.142857-2.7.142857,7.8.142857-27.9.142857,47.3.142857-20.2.142857-19.7.142857-11.2.142857,48.9.142857-.8.142857,18.0.142857-4.9.142857-23.3.142857-19.2.142857,29.5.142857-9.2.142857,10.1.142857-29.6.142857,16.7.142857,4.2.142857-13.0.142857-5.5.142857-4.9.142857,34.2.142857,17.3.142857-19.0.142857-40.9.142857,33.9.142857-24.1.142857,28.1.142857,20.7.142857-21.6.142857-44.3.142857,55.2.142857-10.5.142857,24.8.142857-21.6.142857,7.8.142857-35.8.142857,46.0.142857-40.3.142857-13.8.142857,38.4.142857,9.0.142857,8.5.142857-7.3.142857-11.9.142857,.1.142857,9.9.142857-10.7.142857-.6.142857-36.5.142857,27.1.142857,3.6.142857,5.8.142857-20.1.142857,25.4.142857-4.3.142857-25.7.142857,17.1.142857,7.8.142857-21.4.142857-19.7.142857,31.8.142857,5.3.142857-.8.142857,13.1.142857-8.9.142857,17.7.142857-27.7.142857,32.3.142857-30.1.142857,10.6.142857-36.4.142857,18.1.142857,27.4.142857-18.4.142857-3.3.142857-16.1.142857,28.1.142857-28.3.142857,41.4.142857-17.5.142857-21.0.142857-2.3.142857,6.3.142857,17.0.142857-1.0.142857-28.2.142857,31.3.142857-25.2.142857,41.5.142857-54.8.142857,48.3.142857-34.0.142857,23.1.142857,10.6.142857-12.8.142857-27.9.142857-2.5.142857,46.7.142857-35.1.142857,24.6.142857,7.7.142857-44.4.142857,53.3.142857-34.4.142857-.8.142857-7.9.142857,16.6.142857,3.8.142857,10.6.142857,.5.142857,.9.142857-16.2.142857,1.2.142857,2.5.142857,.5.142857,19.5.142857-6.9.142857-16.0.142857-14.2.142857-13.4.142857,27.1.142857,2.7.142857-28.8.142857,20.5.142857,7.7.142857,.0.142857-21.1.142857,8.8.142857-8.3.142857,35.0.142857-10.0.142857,32.0.142857-44.8.142857,31.5.142857-22.4.142857,2.6.142857,12.5.142857-49.0.142857,13.6.142857,36.6.142857-9.8.142857,13.3.142857-17.0.142857-16.4.142857,23.8.142857-22.4.142857,8.5.142857,.4.142857-13.3.142857,42.4.142857-22.1.142857-10.4.142857,8.1.142857-15.7.142857,1.1.142857,9.1.142857,1.3.142857-41.0.142857,54.2.142857-50.9.142857,19.9.142857-2.8.142857,22.1.142857-29.7.142857,42.8.142857-5.0.142857-1.1.142857-2.1.142857-18.5.142857,9.4.142857-21.3.142857,13.9.142857,12.4.142857-25.4.142857,13.3.142857-.5.142857,19.8.142857-7.5.142857-18.1.142857,22.9.142857,14.8.142857-8.9.142857-11.2.142857-1.8.142857-19.3.142857,9.9.142857,9.9.142857,2.0.142857-33.8.142857,1.4.142857,3.1.142857,4.9.142857,6.3.142857,10.1.142857-13.2.142857,6.5.142857-17.8.142857,22.3.142857,7.3.142857-8.3.142857-20.4.142857,60.8.142857-48.1.142857,16.4.142857-42.4.142857,19.4.142857,12.4.142857-2.9.142857,4.5.142857,.4.142857-8.8.142857-2.3.142857,9.8.142857-10.9.142857,1.5.142857,12.5.142857-1.1.142857-9.6.142857,25.4.142857-18.9.142857-3.5.142857,15.4.142857-8.1.142857-28.3.142857,34.7.142857-32.7.142857,22.9.142857,5.5.142857,6.3.142857-26.6.142857,10.9.142857,17.9.142857,20.5.142857,2.6.142857-15.4.142857,11.4.142857-33.4.142857,2.8.142857,16.4.142857-4.9.142857-33.3.142857,36.5.142857-30.8.142857,14.4.142857-16.5.142857,11.6.142857,20.5.142857-34.1.142857,6.9.142857,10.9.142857,12.6.142857,15.4.142857-23.4.142857,14.3.142857-39.0.142857,14.5.142857-31.1.142857,52.9.142857-27.7.142857,20.7.142857-24.5.142857-2.8.142857,5.7.142857,.7.142857,5.3.142857-15.8.142857,23.1.142857,3.8.142857-35.1.142857,4.1.142857,3.4.142857,9.3.142857,43.2.142857-15.5.142857-34.5.142857,58.2.142857-21.9.142857-30.8.142857-6.5.142857,27.5.142857-29.3.142857,29.3.142857,8.8.142857-28.5.142857,2.7.142857-5.2.142857,31.5.142857-5.1.142857-.7.142857,5.5.142857-12.2.142857-13.1.142857,16.6.142857,12.3.142857-12.9.142857-3.6.142857-12.2.142857,32.4.142857-8.0.142857-6.9.142857,.3.142857,.4.142857-6.6.142857,17.9.142857-12.3.142857,9.7.142857-13.0.142857-13.7.142857,27.0.142857,1.9.142857,1.6.142857-31.7.142857-2.4.142857-16.1.142857,28.4.142857-13.8.142857,27.5.142857-36.9.142857,33.3.142857-31.9.142857,16.7.142857,20.5.142857-25.4.142857,10.3.142857,9.0.142857-27.8.142857,51.9.142857-56.3.142857,14.9.142857,8.6.142857,.9.142857,10.1.142857,3.7.142857-36.8.142857,19.7.142857-29.6.142857,33.0.142857-9.7.142857,16.2.142857-32.6.142857,8.5.142857,19.7.142857,1.8.142857-15.3.142857-1.1.142857-.8.142857,.8.142857-1.3.142857,42.0.142857-26.2.142857-32.6.142857,16.3.142857-8.1.142857,21.1.142857,29.7.142857-12.9.142857-21.6.142857,6.5.142857-10.0.142857-9.3.142857,2.5.142857,24.4.142857-41.3.142857,45.3.142857,19.9.142857-32.7.142857,16.2.142857-14.1.142857-8.3.142857-28.2.142857,18.7.142857,36.8.142857-18.6.142857-7.4.142857,28.7.142857-27.1.142857-29.4.142857,21.4.142857,31.5.142857-4.0.142857-21.4.142857,18.0.142857-17.4.142857,35.9.142857-26.9.142857,9.1.142857-8.6.142857,10.7.142857-4.1.142857-6.8.142857-9.7.142857-.2.142857,6.0.142857,16.5.142857-1.9.142857,6.3.142857-25.6.142857,3.1.142857-34.3.142857,17.6.142857,4.1.142857,11.0.142857,1.0.142857-6.4.142857,12.6.142857-13.0.142857,6.8.142857-10.7.142857,9.4.142857-10.3.142857,5.4.142857-12.8.142857-8.0.142857,39.8.142857-28.3.142857,28.1.142857-19.1.142857,5.2.142857,.5.142857-17.7.142857-9.6.142857,35.4.142857-6.9.142857-26.3.142857,11.6.142857-.7.142857,26.8.142857-8.9.142857-6.6.142857,18.9.142857-13.5.142857-18.4.142857-3.8.142857,33.6.142857-37.8.142857,42.6.142857-48.8.142857,15.8.142857,29.9.142857-7.0.142857,6.4.142857-39.0.142857,15.7.142857,3.0.142857-6.4.142857-1.6.142857,18.5.142857-4.2.142857-14.8.142857,6.0.142857,1.3.142857,.7.142857,.7.142857-21.0.142857,24.3.142857,8.4.142857,13.4.142857-30.3.142857,21.5.142857-23.6.142857,27.9.142857-25.3.142857,3.1.142857,.8.142857,2.9.142857,1.0.142857-22.7.142857,33.8.142857-26.7.142857,13.3.142857,17.9.142857-18.2.142857-8.2.142857,40.3.142857-5.5.142857-.3.142857-4.2.142857-13.4.142857-4.0.142857-21.9.142857,8.6.142857-3.8.142857,30.9.142857,22.3.142857-28.5.142857-15.3.142857,21.6.142857-21.0.142857,1.3.142857,1.8.142857,17.1.142857,2.2.142857-15.9.142857-19.8.142857,25.8.142857-26.5.142857,2.0.142857,8.8.142857-2.5.142857,1.8.142857,36.6.142857-43.1.142857,16.0.142857-24.1.142857,5.0.142857,8.0.142857,4.5.142857,3.0.142857-.4.142857-10.6.142857,34.0.142857-10.6.142857-21.3.142857,5.1.142857,.0.142857,6.8.142857-14.3.142857,18.0.142857,3.0.142857-16.3.142857,12.9.142857-16.0.142857,28.0.142857-25.8.142857,11.4.142857-3.4.142857-19.4.142857-15.1.142857,14.9.142857-5.8.142857,7.3.142857,11.4.142857,2.4.142857-6.3.142857,34.8.142857-43.8.142857,34.4.142857,.5.142857-28.2.142857,42.2.142857-11.8.142857-16.9.142857,6.2.142857-6.2.142857,9.4.142857-15.0.142857,25.4.142857-6.6.142857-19.6.142857-15.4.142857,42.0.142857-15.4.142857-17.7.142857,36.2.142857-16.3.142857-26.7.142857,34.4.142857-34.6.142857-7.8.142857,17.0.142857,7.0.142857-26.6.142857,62.4.142857-27.3.142857,2.3.142857-7.0.142857,4.4.142857-18.3.142857,7.1.142857,20.4.142857-21.9.142857,3.8.142857-4.1.142857,29.1.142857-9.5.142857-7.8.142857,7.8.142857-5.1.142857-1.7.142857,39.2.142857-75.2.142857,30.7.142857-1.6.142857,15.7.142857-43.4.142857,16.1.142857,19.9.142857-39.1.142857,40.1.142857,25.2.142857-47.7.142857-15.7.142857,37.9.142857-15.3.142857,37.5.142857-37.3.142857-7.1.142857,30.5.142857,4.5.142857-2.2.142857,16.2.142857-26.7.142857-8.9.142857-10.5.142857,3.8.142857-2.5.142857-.1.142857-8.6.142857-16.7.142857,40.1.142857-1.2.142857-31.7.142857,44.3.142857-59.2.142857,36.7.142857,11.5.142857-9.1.142857,14.5.142857,6.4.142857,1.1.142857-22.5.142857,28.0.142857-30.1.142857-.6.142857-3.8.142857,1.5.142857,1.8.142857-16.4.142857-3.9.142857,53.5.142857-13.2.142857,5.5.142857-13.6.142857-19.6.142857,35.6.142857-12.7.142857-32.8.142857,32.2.142857-42.8.142857,48.6.142857-28.6.142857,29.4.142857-31.4.142857,30.7.142857-9.4.142857,6.4.142857-4.5.142857,3.6.142857,1.4.142857,2.2.142857-49.1.142857,28.8.142857-3.0.142857,3.0.142857,4.3.142857,31.4.142857-20.0.142857-31.7.142857,12.4.142857,23.3.142857-28.5.142857,22.7.142857-15.9.142857,13.2.142857-10.2.142857,3.5.142857,1.3.142857-12.6.142857,30.6.142857-9.1.142857-9.4.142857,27.6.142857-22.7.142857-6.5.142857,6.5.142857-8.5.142857-8.0.142857,34.6.142857-39.4.142857,31.6.142857-12.5.142857-24.5.142857,11.4.142857-8.0.142857,10.8.142857,13.9.142857-25.1.142857,1.8.142857-6.3.142857,42.5.142857-20.9.142857,.9.142857-.9.142857-16.5.142857,41.9.142857-41.5.142857-18.1.142857,42.7.142857-24.3.142857,25.0.142857-2.3.142857-7.7.142857,10.4.142857,3.5.142857-19.4.142857,1.5.142857-12.5.142857,15.5.142857-8.2.142857-6.2.142857,7.2.142857,52.3.142857-30.3.142857-29.7.142857,41.3.142857-51.4.142857,22.5.142857-14.8.142857,.9.142857,8.6.142857,17.6.142857,12.1.142857-43.2.142857,22.4.142857-7.3.142857,16.3.142857,5.4.142857-32.7.142857,3.7.142857,6.8.142857,23.1.142857-22.0.142857-8.7.142857,1.1.142857-.6.142857,14.5.142857,24.1.142857-52.6.142857,16.9.142857,21.9.142857-41.3.142857,38.3.142857,1.1.142857-4.9.142857-22.0.142857,48.5.142857-24.1.142857-6.4.142857,27.6.142857-44.9.142857,10.8.142857-21.3.142857,27.0.142857,8.4.142857-3.1.142857,.3.142857,11.5.142857-21.7.142857,6.4.142857-13.5.142857,27.4.142857-15.7.142857,29.0.142857-39.5.142857,15.3.142857,1.2.142857-21.2.142857,33.5.142857-3.2.142857,4.7.142857-3.4.142857-19.2.142857,27.8.142857-18.1.142857,6.5.142857-43.9.142857,2.7.142857,1.6.142857,27.5.142857-1.9.142857,14.5.142857-8.4.142857-24.5.142857,18.3.142857,30.4.142857-6.1.142857-41.6.142857,19.9.142857-14.8.142857,26.8.142857,8.9.142857-6.9.142857-27.5.142857,11.1.142857,5.0.142857,30.8.142857-21.0.142857-4.2.142857-1.6.142857-.5.142857-17.8.142857-4.5.142857,10.3.142857,2.8.142857-.7.142857,19.1.142857-10.1.142857,10.0.142857-25.4.142857-25.1.142857,29.7.142857,22.0.142857-8.0.142857-44.9.142857,31.1.142857,1.1.142857,7.7.142857-6.3.142857,10.1.142857-11.2.142857-1.4.142857,24.0.142857-11.1.142857-6.5.142857-20.5.142857,8.9.142857-.6.142857,13.7.142857-30.8.142857,25.4.142857,19.5.142857-17.8.142857-24.0.142857,37.7.142857-12.2.142857,8.5.142857,4.8.142857-1.0.142857-15.7.142857-12.2.142857,51.8.142857-48.1.142857,25.9.142857-29.4.142857,34.4.142857,9.6.142857-13.5.142857-27.2.142857,10.7.142857,27.0.142857,.2.142857-9.8.142857-6.8.142857,25.0.142857-20.1.142857-4.4.142857,8.2.142857-5.4.142857,9.2.142857,5.5.142857-13.7.142857-41.3.142857,34.9.142857-8.3.142857-10.2.142857,8.2.142857,31.2.142857-45.3.142857,16.4.142857-5.2.142857-14.2.142857-5.4.142857,31.9.142857-26.3.142857,47.1.142857-28.3.142857,7.7.142857,1.4.142857-30.9.142857,43.2.142857-13.1.142857-6.3.142857,11.2.142857-5.9.142857-1.0.142857-20.8.142857,16.1.142857,10.8.142857-20.9.142857,24.0.142857-17.3.142857,11.6.142857-4.9.142857-15.1.142857,14.4.142857-7.5.142857-1.2.142857-3.5.142857-18.7.142857,23.3.142857,2.3.142857-14.5.142857-9.3.142857,34.5.142857-3.0.142857,10.6.142857,.5.142857-29.9.142857,13.4.142857-3.1.142857,17.9.142857-26.4.142857,.3.142857,32.8.142857-35.7.142857,15.9.142857-2.6.142857-22.8.142857,15.6.142857-.7.142857,7.7.142857-9.4.142857,28.4.142857-23.1.142857,17.3.142857,2.4.142857-37.7.142857,38.9.142857-22.6.142857,18.6.142857,4.7.142857,2.2.142857-2.5.142857-13.5.142857-6.5.142857,9.1.142857,5.7.142857-.5.142857-14.4.142857,10.7.142857-13.7.142857,14.9.142857-.8.142857,15.4.142857-26.6.142857-4.5.142857-.5.142857,25.7.142857-7.0.142857-8.3.142857,29.9.142857-44.0.142857,26.6.142857-6.0.142857-14.3.142857-10.2.142857,4.2.142857,25.4.142857-33.7.142857,18.0.142857-8.5.142857,12.3.142857-14.0.142857,7.2.142857-15.5.142857,25.5.142857-14.5.142857,6.7.142857-25.0.142857,9.0.142857,15.3.142857-6.8.142857,9.0.142857-6.6.142857,22.6.142857-.8.142857,9.5.142857-6.7.142857,6.9.142857-3.1.142857-9.9.142857-11.3.142857,5.0.142857,3.9.142857-15.8.142857,8.1.142857,21.7.142857-2.6.142857-27.4.142857-3.8.142857,5.6.142857-14.1.142857,38.1.142857-7.4.142857-20.4.142857,10.6.142857-6.7.142857,33.7.142857-40.3.142857,7.8.142857,31.4.142857-.8.142857,4.1.142857-18.0.142857-14.9.142857-6.9.142857,22.7.142857-23.9.142857,7.8.142857-2.0.142857,21.3.142857-22.4.142857,22.3.142857-19.9.142857,3.5.142857-10.8.142857,19.9.142857-8.8.142857,5.0.142857-6.5.142857,6.3.142857,26.3.142857-17.9.142857,6.3.142857-16.0.142857,2.5.142857,14.3.142857,22.2.142857-50.4.142857,17.3.142857-10.8.142857,14.5.142857-5.2.142857-11.4.142857-13.0.142857-1.8.142857,42.9.142857-19.8.142857-3.2.142857,12.1.142857-11.1.142857,31.9.142857-28.0.142857,14.6.142857-11.7.142857-24.9.142857,28.1.142857-.9.142857-11.5.142857,26.0.142857-10.8.142857,2.7.142857-28.0.142857,13.4.142857-20.9.142857,27.7.142857,7.9.142857-26.8.142857,44.5.142857-47.1.142857,21.6.142857-40.1.142857-.4.142857,35.7.142857-4.3.142857,27.7" fill="none" stroke="#000" stroke-width="0.6" stroke-linejoin="bevel"/>
<path d="M219.00,605.7l.142857-10.5.142857,14.3.142857-8.5.142857-21.7.142857,36.8.142857-20.1.142857,12.0.142857,16.5.142857-24.0.142857-20.3.142857,4.7.142857,22.1.142857-30.5.142857,28.0.142857,1.1.142857-21.4.142857,18.5.142857,7.9.142857-18.4.142857,7.1.142857,13.8.142857-24.1.142857,.6.142857,23.3.142857-11.5.142857-21.4.142857,18.5.142857,25.3.142857-50.4.142857,34.5.142857-.4.142857-10.4.142857,10.1.142857-17.2.142857,32.6.142857,4.1.142857-38.0.142857,9.3.142857,8.6.142857-16.7.142857,15.1.142857-18.5.142857,22.0.142857-16.0.142857,4.6.142857,6.7.142857,6.4.142857-27.5.142857,23.7.142857,2.7.142857-15.7.142857,26.5.142857-31.3.142857,2.4.142857,13.7.142857-12.7.142857,28.1.142857-14.8.142857,26.4.142857-40.4.142857,1.1.142857,29.5.142857-33.8.142857,27.7.142857-22.9.142857,12.5.142857,13.7.142857-19.2.142857-15.0.142857,7.1.142857,20.9.142857-9.3.142857,9.2.142857-9.0.142857,1.3.142857-7.3.142857-14.1.142857,22.8.142857-1.7.142857-32.7.142857,32.9.142857,12.6.142857,15.6.142857-46.7.142857,16.5.142857,3.0.142857,6.4.142857-18.3.142857,13.7.142857-8.8.142857,3.4.142857-.6.142857,8.0.142857-9.4.142857,8.0.142857-8.5.142857,15.1.142857,8.0.142857-27.0.142857-8.9.142857,4.2.142857-6.1.142857-14.8.142857,25.6.142857-4.3.142857,22.5.142857-15.5.142857,18.1.142857-2.8.142857-19.2.142857,3.9.142857-1.0.142857-.6.142857,15.7.142857-18.4.142857,.6.142857-8.8.142857,31.3.142857-24.3.142857,3.4.142857-8.9.142857,17.9.142857-17.0.142857,1.8.142857-17.6.142857-.3.142857,29.5.142857,8.4.142857-27.9.142857,25.4.142857-3.4.142857,39.5.142857-57.7.142857,5.3.142857-9.1.142857,27.5.142857,2.7.142857-18.6.142857,26.5.142857,8.5.142857-31.6.142857,13.5.142857-9.9.142857-8.8.142857,.4.142857,6.7.142857-16.9.142857,13.9.142857,10.3.142857-25.1.142857,4.8.142857-5.4.142857,22.4.142857-6.8.142857,16.0.142857-12.9.142857-19.0.142857,26.5.142857-15.7.142857,23.6.142857-5.1.142857-51.0.142857,13.0.142857,30.1.142857-17.6.142857-22.3.142857,27.2.142857,23.8.142857-8.7.142857-19.0.142857,17.3.142857,8.9.142857-14.9.142857,30.2.142857-36.4.142857,45.0.142857-8.5.142857-15.1.142857-8.3.142857-5.1.142857-15.0.142857,29.7.142857,1.9.142857-3.4.142857-5.2.142857-4.7.142857-15.0.142857,7.2.142857-13.9.142857,21.9.142857-19.5.142857,26.1.142857-18.0.142857,30.3.142857,7.4.142857,.0.142857-6.6.142857-19.2.142857,.7.142857-7.5.142857,15.1.142857,18.5.142857-39.8.142857,47.8.142857-45.2.142857-8.6.142857,19.1.142857,12.6.142857-20.0.142857-11.9.142857,39.2.142857-40.2.142857,26.8.142857-12.0.142857-5.8.142857,10.1.142857-16.3.142857,.5.142857,22.4.142857-17.6.142857,2.5.142857,31.2.142857,3.1.142857-11.3.142857-3.3.142857-16.0.142857,6.7.142857-11.0.142857-28.0.142857,37.2.142857-.4.142857,10.7.142857-33.0.142857,28.7.142857-20.5.142857-4.0.142857,11.0.142857,17.2.142857-9.0.142857,4.9.142857-19.7.142857,16.2.142857,7.3.142857-23.8.142857,20.2.142857-26.1.142857,23.7.142857-27.7.142857,25.6.142857-4.8.142857-14.9.142857,22.9.142857-20.1.142857,10.1.142857-10.3.142857,24.7.142857-15.6.142857,26.1.142857-15.5.142857,1.1.142857-29.4.142857-9.6.142857,17.6.142857,33.6.142857-36.9.142857,32.2.142857,4.6.142857-26.6.142857,8.0.142857,18.5.142857-23.4.142857-1.5.142857-4.4.142857,9.6.142857-4.3.142857,17.5.142857-14.1.142857,15.6.142857-17.8.142857,35.6.142857-32.8.142857-1.2.142857-7.9.142857-12.4.142857,12.6.142857,14.0.142857-18.8.142857,26.0.142857-33.7.142857,.2.142857,28.0.142857,1.2.142857-24.2.142857,33.1.142857,5.7.142857-15.6.142857-23.1.142857,35.0.142857-18.9.142857-2.9.142857,8.7.142857-14.8.142857,27.2.142857-30.3.142857,28.2.142857-7.3.142857,14.3.142857-19.1.142857,5.4.142857-18.5.142857,3.4.142857-7.8.142857,23.8.142857-19.0.142857,30.5.142857-24.0.142857-14.6.142857,6.6.142857,26.6.142857-24.1.142857,14.2.142857-27.2.142857,29.8.142857,6.8.142857-3.7.142857-1.6.142857-23.9.142857-8.1.142857,4.5.142857,31.3.142857-5.1.142857,4.7.142857-19.2.142857,17.8.142857-30.7.142857,22.9.142857-23.3.142857,11.2.142857,11.4.142857,4.9.142857-13.9.142857,.1.142857,21.0.142857-6.3.142857-23.5.142857,13.6.142857-8.2.142857,15.1.142857-6.1.142857,2.0.142857-9.2.142857-5.5.142857,24.0.142857-10.7.142857-39.8.142857,26.1.142857,5.5.142857-12.1.142857-1.4.142857,4.6.142857,14.8.142857-20.6.142857,21.0.142857,13.4.142857-5.5.142857,1.0.142857-16.3.142857,20.7.142857-16.4.142857,11.6.142857-30.4.142857,32.0.142857-28.4.142857,10.0.142857,14.2.142857-14.3.142857-5.0.142857,3.4.142857,20.4.142857-3.2.142857-3.1.142857-16.5.142857,1.0.142857,14.8.142857,2.4.142857-22.6.142857,.1.142857,20.8.142857,5.5.142857-15.8.142857-21.4.142857,40.5.142857-20.1.142857,8.7.142857-36.1.142857,15.6.142857,4.7.142857,4.1.142857-14.4.142857-9.3.142857-1.1.142857,16.3.142857,6.1.142857,1.0.142857-30.5.142857,11.1.142857,8.5.142857,18.1.142857-2.2.142857-3.4.142857-26.8.142857,39.1.142857-14.9.142857,5.8.142857-15.5.142857,4.7.142857,4.5.142857-5.7.142857-11.9.142857,21.3.142857,3.0.142857-20.7.142857,.7.142857,2.2.142857,4.5.142857,29.1.142857-24.0.142857,26.7.142857-45.2.142857,.4.142857,5.8.142857,2.2.142857,16.8.142857,18.5.142857-35.5.142857,17.3.142857,9.3.142857,14.3.142857-32.1.142857,10.9.142857,4.6.142857-18.0.142857,4.8.142857-10.7.142857-2.1.142857,3.8.142857,23.0.142857,.3.142857-13.7.142857-19.8.142857,37.6.142857-19.3.142857,23.1.142857-22.8.142857-17.1.142857,12.8.142857-7.4.142857,26.9.142857-52.2.142857,24.3.142857,6.4.142857-22.3.142857,36.6.142857-1.5.142857,5.8.142857-1.0.142857-12.7.142857,8.5.142857-18.1.142857,6.4.142857,2.6.142857,3.2.142857,2.7.142857-18.0.142857,7.3.142857-6.3.142857,6.0.142857,1.0.142857-13.9.142857,28.3.142857,9.2.142857-19.9.142857-8.9.142857-7.3.142857,7.8.142857,.6.142857,12.3.142857-8.9.142857,8.3.142857-5.9.142857-14.4.142857-11.5.142857,1.7.142857,2.9.142857,18.1.142857,17.6.142857-29.3.142857,21.9.142857-14.7.142857,23.8.142857,12.4.142857-14.7.142857-9.4.142857,2.7.142857,12.8.142857-24.6.142857-6.5.142857,10.9.142857,18.5.142857-37.4.142857,25.9.142857-3.1.142857-14.3.142857-9.9.142857-13.6.142857,8.1.142857,18.2.142857,9.3.142857-21.2.142857-2.0.142857-.5.142857,45.5.142857-52.1.142857-.7.142857,35.1.142857-30.6.142857,26.8.142857-24.6.142857,25.5.142857,4.1.142857-28.3.142857,6.0.142857-11.3.142857,27.8.142857-19.7.142857-6.0.142857,18.0.142857,1.5.142857-6.5.142857-7.6.142857,22.0.142857-25.7.142857-1.4.142857,8.8.142857,11.8.142857-11.5.142857-3.1.142857-3.4.142857-1.3.142857,3.7.142857,39.3.142857-56.6.142857,15.6.142857,7.1.142857-14.4.142857-.9.142857,26.0.142857,10.0.142857-4.5.142857-11.0.142857-8.1.142857,13.8.142857-27.7.142857,13.0.142857,29.9.142857-13.8.142857-8.0.142857-2.5.142857,3.2.142857-9.4.142857,20.2.142857-2.5.142857-2.5.142857-41.6.142857,51.0.142857-8.3.142857,11.1.142857-28.2.142857-21.0.142857,12.9.142857,6.2.142857,40.4.142857-39.8.142857,1.1.142857,21.3.142857-1.7.142857-1.3.142857-18.8.142857,35.0.142857-17.1.142857-20.0.142857,20.2.142857-27.7.142857,2.7.142857,10.4.142857-8.0.142857,8.2.142857-4.5.142857,5.3.142857-7.8.142857,28.5.142857-29.7.142857,7.5.142857-2.5.142857,4.6.142857-6.5.142857,49.3.142857-36.0.142857,10.9.142857-17.5.142857-13.9.142857,14.1.142857-3.2.142857-6.9.142857,14.7.142857,22.7.142857-16.5.142857,11.0.142857,1.0.142857-45.5.142857,54.1.142857-44.8.142857,44.2.142857-22.1.142857,3.5.142857,22.4.142857-16.5.142857-37.4.142857-6.0.142857,10.1.142857,32.6.142857-11.9.142857,12.5.142857-7.5.142857,10.7.142857-30.5.142857-11.4.142857,18.0.142857,22.2.142857-31.3.142857-18.1.142857,27.4.142857,18.1.142857-2.6.142857-11.1.142857-3.7.142857-25.3.142857,33.3.142857,26.8.142857-33.7.142857,29.8.142857-40.9.142857,11.4.142857,1.0.142857,6.3.142857-28.5.142857,41.6.142857-22.1.142857-25.5.142857,39.1.142857-3.9.142857-23.1.142857,17.8.142857,14.0.142857-3.2.142857-8.0.142857-13.0.142857,10.8.142857,18.2.142857,14.2.142857-26.6.142857,4.3.142857,2.4.142857-17.8.142857-21.4.142857,21.2.142857,3.2.142857,4.7.142857-.5.142857-10.9.142857-1.3.142857,11.0.142857-9.5.142857-2.5.142857-6.9.142857,18.0.142857,5.4.142857-12.7.142857,6.3.142857,4.9.142857-16.8.142857,8.2.142857-5.2.142857,16.7.142857-24.3.142857,18.5.142857-27.7.142857,51.8.142857-13.9.142857-17.8.142857,8.8.142857,24.6.142857-25.1.142857-23.2.142857,21.7.142857-4.3.142857,16.0.142857-8.8.142857-24.0.142857,28.4.142857,12.4.142857,7.1.142857-15.2.142857,22.0.142857-3.1.142857-10.2.142857,9.5.142857-54.9.142857,54.4.142857,.2.142857-22.6.142857,10.9.142857-19.5.142857,8.8.142857,.0.142857-13.5.142857,10.6.142857-20.1.142857,25.6.142857,26.4.142857,3.0.142857-23.7.142857,23.4.142857-19.5.142857-25.5.142857,12.7.142857,9.8.142857-.4.142857,9.5.142857-21.7.142857,3.1.142857,21.4.142857-10.7.142857-1.1.142857-1.9.142857,12.5.142857-1.8.142857-20.2.142857,26.2.142857-25.8.142857,13.7.142857-9.2.142857,14.8.142857-4.2.142857,6.7.142857-6.7.142857-5.1.142857,5.3.142857-1.6.142857-11.2.142857-7.6.142857,27.9.142857,7.5.142857-29.5.142857,22.0.142857-15.8.142857,11.1.142857,7.5.142857-7.0.142857-7.3.142857-23.8.142857,21.7.142857,3.9.142857,16.6.142857-25.1.142857,9.2.142857,5.9.142857,12.8.142857-33.3.142857,29.1.142857-12.6.142857-5.8.142857-12.7.142857,7.4.142857,26.6.142857-19.6.142857-8.6.142857,7.5.142857,24.5.142857-4.3.142857-.1.142857,2.8.142857-6.7.142857-14.1.142857-13.6.142857,31.8.142857-21.4.142857,6.1.142857-8.2.142857,16.8.142857,10.2.142857-23.5.142857,11.2.142857-2.5.142857,10.5.142857-9.6.142857,.1.142857-12.2.142857,9.2.142857-6.6.142857,19.4.142857-11.7.142857,27.1.142857-35.0.142857-5.1.142857,26.8.142857-5.5.142857-26.5.142857,57.6.142857-38.3.142857,16.9.142857-21.3.142857,11.1.142857,7.3.142857-23.9.142857,14.4.142857,5.5.142857,18.8.142857-16.2.142857,5.0.142857-14.2.142857,3.6.142857-.4.142857-8.2.142857-24.8.142857-1.1.142857,31.1.142857-3.2.142857-6.3.142857-5.3.142857,1.5.142857-12.8.142857,34.6.142857-35.7.142857,45.4.142857-29.5.142857,44.0.142857-30.2.142857-10.8.142857,8.7.142857-12.7.142857,26.7.142857-19.1.142857,3.5.142857-11.7.142857,19.1.142857-29.3.142857,8.0.142857,25.0.142857-42.1.142857,31.2.142857,13.1.142857-15.2.142857,23.8.142857-7.6.142857-9.3.142857-29.3.142857,13.2.142857,1.9.142857,20.3.142857-9.2.142857-1.9.142857-14.6.142857,13.7.142857,1.6.142857-40.2.142857,35.0.142857,3.2.142857-5.5.142857,2.9.142857-3.1.142857,20.0.142857-22.8.142857,26.6.142857-14.4.142857-31.3.142857,22.0.142857,6.6.142857,8.1.142857-9.3.142857-4.9.142857,17.0.142857,9.4.142857-47.8.142857,17.6.142857,31.4.142857-19.4.142857-17.1.142857,33.8.142857,8.6.142857-33.0.142857,10.4.142857-8.1.142857,6.4.142857,9.2.142857-19.0.142857,1.3.142857-2.2.142857-19.1.142857,32.8.142857,4.9.142857-8.4.142857-2.1.142857,6.6.142857-21.9.142857-.6.142857,21.5.142857-1.7.142857,21.3.142857-44.7.142857,17.7.142857-13.9.142857,49.2.142857-38.4.142857,16.6.142857-43.4.142857,17.9.142857,21.0.142857-18.2.142857-.1.142857,19.2.142857-7.6.142857,3.6.142857-.3.142857-10.7.142857,30.8.142857-7.8.142857-17.6.142857-1.2.142857-21.4.142857,8.9.142857,31.4.142857-37.1.142857,8.7.142857,28.8.142857-6.8.142857-7.7.142857-1.2.142857-8.0.142857,10.8.142857,1.0.142857,15.6.142857-2.3.142857-21.0.142857,30.3.142857-6.1.142857-.6.142857,.2.142857-6.9.142857-7.4.142857,12.6.142857,.4.142857-20.8.142857,2.0.142857,7.3.142857,1.9.142857-4.8.142857-21.0.142857,31.0.142857-21.9.142857-6.7.142857,1.0.142857,12.8.142857-2.2.142857-28.5.142857,12.1.142857-2.6.142857,11.9.142857,11.5.142857-11.1.142857,37.3.142857-12.5.142857,7.1.142857-11.0.142857-25.6.142857,24.1.142857-31.9.142857,7.3.142857,16.6.142857-3.6.142857,8.0.142857-12.3.142857,23.8.142857-5.1.142857-6.9.142857-18.5.142857,2.8.142857,25.4.142857,24.1.142857-44.2.142857,9.6.142857-14.7.142857-15.8.142857,38.7.142857-6.4.142857,3.8.142857-15.9.142857-4.6.142857,30.9.142857-31.3.142857,20.9.142857,5.6.142857-17.4.142857-5.1.142857,9.6.142857-31.4.142857,24.2.142857,2.9.142857-14.1.142857,18.2.142857,16.6.142857,16.3.142857-44.1.142857,19.5.142857,1.2.142857-10.4.142857-6.6.142857,13.6.142857,.9.142857-27.9.142857,37.8.142857-17.7.142857,3.2.142857-13.1.142857,25.8.142857-37.2.142857,15.4.142857,9.2.142857-17.2.142857,12.5.142857,11.7.142857,9.2.142857-22.1.142857-6.0.142857,18.5.142857-9.6.142857-14.7.142857,26.5.142857-18.5.142857-10.7.142857,23.5.142857-1.2.142857-19.8.142857,23.1.142857-17.3.142857,1.7.142857-7.1.142857,24.3.142857-12.7.142857,8.9.142857-28.4.142857,12.4.142857-12.5.142857,16.6.142857,1.0.142857-1.2.142857-20.3.142857,34.9.142857-35.1.142857,39.5.142857-15.3.142857,19.7.142857-30.0.142857,17.1.142857,6.0.142857,19.3.142857-25.3.142857,16.9.142857-22.5.142857,18.4.142857-16.3.142857,2.7.142857,10.8.142857-29.7.142857-4.4.142857,24.8.142857,25.7.142857-9.2.142857-18.7.142857,9.3.142857-3.7.142857-1.0.142857,19.7.142857-35.8.142857-3.5.142857-14.1.142857,16.0.142857,28.6.142857-17.4.142857-17.8.142857,13.1.142857,3.4.142857,20.9.142857-7.4.142857,1.9.142857,8.3.142857-9.9.142857,5.6.142857-28.7.142857-5.0.142857,7.8.142857,32.8.142857-43.7.142857,20.8.142857,4.2.142857-21.6.142857-3.7.142857,44.9.142857-29.9.142857,.4.142857,9.0.142857-3.2.142857-21.8.142857-5.4.142857,22.3.142857-7.0.142857,9.7.142857-14.1.142857,51.4.142857-27.3.142857,19.3.142857-33.0.142857,5.9.142857-6.4.142857,6.3.142857,3.7.142857-14.7.142857-7.8.142857,4.9.142857,7.0.142857,19.2.142857-34.1.142857,8.1.142857,19.3.142857,14.3.142857-27.1.142857,11.4.142857-7.0.142857,.4.142857,3.4.142857-9.6.142857,3.2.142857-2.3.142857,25.8.142857-18.5.142857,21.6.142857-26.2.142857,2.5.142857-11.8.142857,13.6.142857,14.1.142857,1.0.142857-36.3.142857,51.4.142857-26.2.142857,4.3.142857,5.2.142857-12.7.142857-11.0.142857,10.3.142857-12.9.142857,36.5.142857-23.3.142857-31.0.142857,51.1.142857-9.7.142857-11.6.142857-28.3.142857,70.5.142857-51.3.142857-.1.142857-.7.142857,7.5.142857-2.7.142857,10.4.142857,1.7.142857-9.9.142857,16.1.142857-29.9.142857,29.8.142857-9.3.142857-1.6.142857,11.2.142857-3.9.142857-1.7.142857-7.8.142857-11.9.142857-11.7.142857,4.2.142857,8.3.142857,18.9.142857-13.1.142857,5.9.142857-15.4.142857-10.4.142857,24.5.142857,31.9.142857-48.4.142857,31.7.142857-32.5.142857-1.1.142857,3.3.142857,2.8.142857,25.8.142857-10.3.142857-3.5.142857-8.7.142857,18.7.142857,9.4.142857-18.4.142857-8.0.142857-11.4.142857,9.7.142857-12.4.142857,34.1.142857-25.5.142857,27.2.142857-35.0.142857,25.5.142857,1.9.142857-2.2.142857-2.9.142857-17.0.142857,52.9.142857-58.9.142857,34.4.142857-18.0.142857-8.5.142857,25.7.142857,5.0.142857-4.2.142857-30.2.142857,9.7.142857,16.2.142857-2.7.142857,5.4.142857-15.9.142857-20.3.142857,8.4.142857,16.2.142857-17.0.142857-3.5.142857,27.9.142857,4.7.142857-26.9.142857,9.8.142857,4.8.142857,13.4.142857-16.5.142857-3.2.142857,2.5.142857-15.9.142857,39.4.142857-2.7.142857-17.0.142857,3.2.142857,3.0.142857-5.9.142857-10.7.142857,18.7.142857,1.6.142857,2.9.142857-29.1.142857,15.0.142857-22.2.142857,46.9.142857-48.0.142857,17.9.142857,26.3.142857-45.7.142857,25.2.142857-22.4.142857,35.1.142857-16.8.142857-3.8.142857-9.8.142857,19.6.142857-3.5.142857,7.7.142857,4.8.142857-20.3.142857,11.4.142857,13.3.142857-10.9.142857,3.5.142857-6.2.142857-11.5.142857,5.7.142857-3.4.142857,36.6.142857-36.3.142857-9.6.142857,18.2.142857-8.1.142857-9.0.142857,21.6.142857-13.3.142857-3.7.142857,18.9.142857,19.4.142857-10.6.142857-14.3.142857,3.4.142857-7.1.142857,11.0.142857-12.3.142857,9.6.142857-8.2.142857,5.0.142857-30.8.142857,30.9.142857-6.0.142857,1.8.142857,10.2.142857-25.5.142857,5.1.142857,14.3.142857-1.3.142857,14.8.142857-9.5.142857-28.2.142857,28.7.142857-7.3.142857,6.5.142857,17.5.142857-13.5.142857-7.0.142857-21.6.142857,18.0.142857,13.7.142857-5.1.142857-23.4.142857-1.7.142857,12.0.142857,15.0.142857-14.7.142857,30.2.142857,7.9.142857-47.6.142857,44.2.142857-2.1.142857-55.4.142857,4.7.142857,22.8.142857,.1.142857-5.3.142857,5.1.142857,9.9.142857-23.2.142857-19.9.142857,27.0.142857,15.0.142857,6.7.142857-3.6.142857-47.9.142857,18.0.142857,13.6.142857-12.0.142857,20.7.142857-3.3.142857,7.5.142857,8.9.142857-25.6.142857,34.5.142857-46.0.142857,2.8.142857,1.4.142857,5.1.142857,20.2.142857,9.9.142857-40.7.142857,32.8.142857,1.4.142857-10.2.142857-32.4.142857,31.0.142857,10.3.142857-35.9.142857,22.5.142857,20.9.142857-11.2.142857,12.6.142857,5.2.142857-35.2.142857-1.4.142857,28.2.142857-18.5.142857,13.6.142857-4.8.142857-18.5.142857,23.4.142857-5.0.142857-16.8.142857,2.4.142857-3.6.142857,8.8.142857,12.5.142857-4.9.142857-10.7.142857-14.9.142857,25.7.142857-3.6.142857-6.7.142857-5.8.142857,33.3.142857-1.7.142857-36.3.142857,33.3.142857-12.2.142857,15.5.142857-30.6.142857,25.2.142857-22.4.142857,2.6.142857,5.5.142857,8.3.142857-11.9.142857-25.5.142857,33.9.142857-12.0.142857,.0.142857-20.1.142857,14.0.142857,21.8.142857,4.5.142857-11.1.142857-19.8.142857,24.9.142857-22.0.142857,20.4.142857-16.9.142857-13.8.142857,24.6.142857-3.7.142857,1.3.142857-16.6.142857-1.5.142857,31.6.142857-16.9.142857,21.7.142857-1.0.142857-37.5.142857,8.0.142857-30.0.142857,38.5.142857-7.8.142857,12.5.142857-5.4.142857-7.1.142857-2.0.142857,.1.142857,26.6.142857-11.2.142857,23.9.142857-16.7.142857-15.9.142857-2.0.142857,26.6.142857-49.3.142857,30.5.142857-3.3.142857-24.3.142857,44.2.142857-13.3.142857-1.6.142857-7.8.142857,7.0.142857-.2.142857,15.1.142857-15.5.142857,37.6.142857-40.7.142857,7.7.142857-10.4.142857,18.9.142857-19.4.142857,26.8.142857-5.7.142857-7.1.142857-33.0.142857,20.7.142857,3.8.142857,8.4.142857-28.1.142857,30.2.142857,2.6.142857-9.0.142857,1.8.142857-9.6.142857,19.8.142857-31.5.142857,6.9.142857,46.3.142857-35.2.142857-1.1.142857-10.7.142857,5.4.142857,7.3.142857-24.2.142857,1.3.142857,15.6.142857,26.5.142857-27.1.142857,40.4.142857-18.9.142857-11.2.142857-15.7.142857,16.7.142857,35.8.142857-61.8.142857,25.6.142857,21.0.142857-12.7.142857-15.5.142857-10.3.142857,23.2.142857-36.9.142857,49.2.142857-38.5.142857-12.6.142857,23.5.142857,3.3.142857-3.6.142857-21.6.142857,16.0.142857,19.9.142857-3.7.142857,11.5.142857-15.4.142857-14.6.142857,12.2.142857,5.4.142857,4.5.142857-1.4.142857-.1.142857,4.1.142857-.6.142857-20.1.142857,23.4.142857-5.3.142857-16.3.142857,10.0.142857-9.3.142857,5.6.142857-25.6.142857-.2.142857,39.6.142857-18.2.142857,27.2.142857,1.1.142857-14.1.142857,19.3.142857-41.6.142857,17.8.142857-22.5.142857,21.2.142857,17.1.142857-15.0.142857-.9.142857-16.3.142857,14.6.142857-14.3.142857,11.7.142857-11.6.142857,22.5.142857-9.3.142857,.2.142857,9.2.142857,8.7.142857-17.5.142857-9.4.142857-2.4.142857,29.8.142857-13.9.142857-22.2.142857-2.4.142857,31.9.142857-20.6.142857,29.1.142857-1.3.142857-27.8.142857,.5.142857-6.5.142857,24.1.142857-31.7.142857,27.2.142857-11.5.142857,23.0.142857-28.8.142857-3.8.142857,16.8.142857-23.8.142857,26.1.142857-13.3.142857-5.4.142857,4.4.142857,.2.142857-10.9.142857,25.2.142857-4.6.142857-5.3.142857,27.2.142857-15.5.142857,18.5.142857-50.2.142857,46.6.142857-12.6.142857,18.8.142857-23.7.142857-16.0.142857-1.4.142857,13.3.142857-21.3.142857,13.8.142857-8.2.142857,48.8.142857-24.5.142857-14.2.142857-36.7.142857,40.4.142857-7.5.142857,7.1.142857-3.9.142857-8.8.142857-9.0.142857,16.4.142857-.3.142857-1.2.142857,2.4.142857,6.8.142857-19.5.142857,24.4.142857-17.8.142857,9.5.142857-7.7.142857,7.6.142857,21.1.142857-12.2.142857-8.8.142857-.8.142857-6.6.142857-12.3.142857-13.5.142857,28.6.142857,10.4.142857,4.5.142857-38.8.142857,17.1.142857,18.8.142857-10.7.142857,17.3.142857,3.9.142857-33.1.142857,31.5.142857-15.8.142857-1.5.142857,8.5.142857-13.3.142857-11.1.142857,32.8.142857-4.7.142857-.7.142857-6.1.142857-20.7.142857,21.7.142857,20.4.142857-14.8.142857-8.4.142857,2.0.142857-10.9.142857,1.1.142857,3.1.142857-11.2.142857,6.3.142857-.8.142857,5.2.142857,33.1.142857-40.4.142857-6.7.142857,15.6.142857-22.2.142857,47.1.142857-29.0.142857,4.7.142857,6.3.142857,10.7.142857-23.9.142857,12.8.142857-6.7.142857,4.1.142857,9.3.142857-19.7.142857,30.5.142857-20.5.142857,10.4.142857-19.6.142857,8.4.142857-8.9.142857,20.8.142857-10.8.142857-15.3.142857-6.8.142857,43.3.142857-21.2.142857,8.2.142857,9.6.142857-11.3.142857,15.1.142857-19.7.142857,6.2.142857,18.8.142857-40.0.142857,17.2.142857-10.2.142857,31.1.142857-28.5.142857,9.4.142857-1.1.142857-16.7.142857,3.0.142857-4.1.142857,25.2.142857-23.2.142857,28.2.142857-10.7.142857,6.5.142857,8.1.142857-5.3.142857-7.4.142857-15.2.142857,7.5.142857,2.9.142857,13.9.142857-10.4.142857-2.8.142857,29.9.142857-19.6.142857-1.3.142857-20.9.142857,.9.142857,4.5.142857-7.0.142857,9.2.142857,4.0.142857-12.6.142857,.9.142857,20.7.142857-35.8.142857,24.2.142857,22.1.142857-9.5.142857-5.8.142857,17.8.142857-2.9.142857-8.7.142857-20.3.142857-8.4.142857,5.9.142857,29.2.142857-25.3.142857,1.1.142857,20.1.142857-19.0.142857,6.7.142857-26.3.142857,14.4.142857-4.1.142857-4.3.142857-12.6.142857,11.4.142857,23.5.142857-7.1.142857,9.2.142857-26.0.142857,35.3.142857-32.0.142857-.7.142857,15.3.142857-9.7.142857,9.3.142857,19.2.142857-17.3" fill="none" stroke="#0f0" stroke-width="0.6" stroke-linejoin="bevel"/>
<path d="M219.00,611.2l.142857-4.9.142857-11.1.142857,11.8.142857-24.2.142857-17.1.142857,56.6.142857-17.1.142857-36.6.142857,16.4.142857,6.6.142857,14.5.142857,15.4.142857-18.1.142857-8.8.142857,9.9.142857-9.4.142857,7.7.142857-10.7.142857-11.5.142857,42.2.142857-24.3.142857,6.1.142857-10.6.142857,.9.142857,2.6.142857,16.5.142857,6.5.142857-9.3.142857-17.0.142857,51.1.142857-29.6.142857-1.5.142857-20.8.142857,2.4.142857,11.6.142857-36.3.142857,15.6.142857,18.7.142857,27.8.142857-30.5.142857-21.9.142857,.8.142857,34.6.142857-31.3.142857,8.3.142857,40.9.142857-29.4.142857-8.5.142857-5.4.142857,34.4.142857-1.2.142857-30.4.142857-8.7.142857,15.2.142857,24.0.142857-13.5.142857-24.6.142857,19.1.142857,7.6.142857-15.2.142857,.7.142857-4.1.142857-9.5.142857-4.5.142857-5.4.142857,2.3.142857-7.6.142857,31.9.142857,1.1.142857-6.5.142857,7.1.142857-.9.142857-12.7.142857,9.8.142857-5.7.142857,5.5.142857-32.5.142857,25.7.142857,10.3.142857-11.8.142857-8.7.142857-12.0.142857,13.1.142857,33.8.142857-29.3.142857,23.9.142857-21.0.142857,25.4.142857-22.8.142857,11.7.142857,3.8.142857-3.8.142857-23.0.142857,9.6.142857-6.7.142857,13.4.142857-3.6.142857,1.6.142857,11.1.142857-22.5.142857,1.6.142857,6.4.142857,5.0.142857-10.7.142857,18.5.142857-25.2.142857,46.5.142857-25.1.142857,21.1.142857-33.8.142857,8.0.142857,8.0.142857,23.1.142857-27.2.142857,22.2.142857-29.3.142857,34.7.142857-35.0.142857-15.1.142857-4.6.142857,30.7.142857-4.4.142857,7.5.142857-5.7.142857,10.4.142857,16.0.142857-25.1.142857,7.5.142857-11.9.142857-21.8.142857,22.2.142857,23.0.142857-32.9.142857,43.9.142857-26.0.142857,.1.142857,7.5.142857-13.6.142857-6.2.142857,19.5.142857-26.4.142857,10.8.142857-16.7.142857,22.3.142857,46.3.142857-26.1.142857-36.6.142857-12.5.142857,35.7.142857,1.1.142857-19.8.142857,31.5.142857-15.5.142857,5.0.142857-2.3.142857,6.6.142857-24.7.142857,.6.142857,28.5.142857-24.3.142857-14.5.142857,26.4.142857-13.2.142857,14.9.142857,43.0.142857-28.8.142857-29.8.142857-15.1.142857,19.6.142857-14.8.142857,20.0.142857,1.2.142857,5.0.142857-9.4.142857-19.2.142857,19.1.142857,1.2.142857,5.8.142857,10.5.142857-33.8.142857,7.7.142857-6.6.142857-1.5.142857,24.3.142857-20.0.142857,36.6.142857-58.8.142857,60.2.142857-27.4.142857-16.7.142857,22.9.142857,1.5.142857,13.0.142857,4.6.142857-34.6.142857,13.0.142857,6.3.142857-4.9.142857-8.0.142857,22.6.142857-19.8.142857-23.8.142857,20.6.142857-3.7.142857,2.0.142857,19.0.142857-4.3.142857-7.4.142857,3.2.142857,9.7.142857-20.8.142857,11.5.142857,15.2.142857-28.9.142857,.6.142857-2.3.142857,25.7.142857-20.4.142857,22.3.142857-21.7.142857,10.6.142857,1.4.142857-16.2.142857-8.7.142857,31.6.142857-20.9.142857,14.5.142857,4.7.142857-30.0.142857,39.4.142857-16.1.142857-1.3.142857-5.7.142857-5.3.142857,13.1.142857,23.4.142857-34.3.142857-14.1.142857,12.2.142857,32.0.142857-26.7.142857,28.2.142857-41.1.142857,1.1.142857-8.3.142857,5.6.142857,11.0.142857-.2.142857-27.7.142857,12.6.142857,6.9.142857,4.6.142857,26.8.142857,3.9.142857-16.5.142857,6.4.142857-23.9.142857,19.4.142857-31.9.142857,27.3.142857,3.8.142857,5.9.142857-14.6.142857-3.2.142857-13.6.142857-19.5.142857,21.2.142857-18.6.142857,19.9.142857,2.2.142857-13.5.142857-5.7.142857,27.1.142857-7.2.142857,14.0.142857,3.5.142857,13.2.142857-8.1.142857-28.7.142857,13.6.142857,32.7.142857-41.0.142857,7.3.142857,27.1.142857-10.5.142857-18.3.142857,11.6.142857-20.7.142857,19.7.142857-11.9.142857,3.8.142857,2.9.142857-32.2.142857,30.1.142857,8.2.142857-6.9.142857-7.0.142857,4.1.142857,26.5.142857-11.1.142857-20.9.142857,24.1.142857-11.4.142857-14.1.142857-16.5.142857,32.0.142857-25.9.142857,23.7.142857,10.1.142857-4.4.142857-24.5.142857,.6.142857,21.2.142857,6.4.142857-15.4.142857,.2.142857,27.8.142857-2.5.142857-21.1.142857-8.7.142857,18.6.142857-30.2.142857,23.5.142857,.5.142857,14.7.142857-10.1.142857-37.1.142857,58.8.142857-20.6.142857-41.3.142857,8.6.142857,33.8.142857-30.9.142857,28.2.142857-27.8.142857-7.8.142857,45.5.142857,2.9.142857-30.5.142857,30.9.142857-22.6.142857,1.4.142857-10.1.142857,17.1.142857,13.8.142857,2.0.142857,11.5.142857-.3.142857-16.9.142857-16.9.142857,15.5.142857-2.2.142857-14.7.142857-15.6.142857,3.9.142857-7.9.142857,13.0.142857,18.3.142857,16.3.142857-16.9.142857-13.1.142857,1.2.142857,1.4.142857,18.1.142857-12.3.142857-33.1.142857,25.7.142857-23.4.142857,13.9.142857,11.9.142857-11.5.142857,14.3.142857,19.9.142857-32.4.142857,28.1.142857-2.6.142857-2.3.142857-25.6.142857,25.6.142857-9.3.142857,3.4.142857-9.9.142857,22.2.142857-41.8.142857,28.6.142857,3.4.142857,29.1.142857-65.2.142857,8.7.142857,13.0.142857,6.4.142857-15.3.142857,22.3.142857-11.2.142857,5.8.142857-22.2.142857,25.6.142857-6.9.142857,26.4.142857-11.4.142857,9.4.142857-22.8.142857-16.5.142857,25.8.142857-37.0.142857,4.8.142857,11.4.142857,21.2.142857,4.3.142857-41.4.142857,24.3.142857,18.7.142857-26.5.142857-19.3.142857,23.9.142857,23.1.142857-27.7.142857,2.5.142857,40.4.142857-21.1.142857-30.6.142857,28.0.142857,5.8.142857-21.8.142857,7.5.142857,10.6.142857-9.4.142857,22.5.142857-4.9.142857-2.1.142857,6.5.142857-28.0.142857-4.7.142857-13.2.142857,14.5.142857-6.0.142857,9.5.142857,21.2.142857,7.4.142857-10.9.142857-1.1.142857-5.7.142857,1.1.142857-14.2.142857-5.9.142857-8.0.142857,15.8.142857,10.9.142857-7.6.142857,8.0.142857,26.1.142857-23.8.142857-.3.142857-13.5.142857,8.2.142857-19.7.142857,21.8.142857,3.1.142857,3.3.142857-37.2.142857,21.4.142857,23.5.142857-4.6.142857-35.3.142857,4.9.142857-5.3.142857,26.8.142857,2.7.142857-14.2.142857-21.2.142857,26.3.142857-33.1.142857,46.7.142857-32.5.142857-1.2.142857-1.0.142857,17.5.142857,.9.142857,6.8.142857-4.8.142857-.1.142857,16.3.142857,3.9.142857-15.6.142857,5.0.142857,1.9.142857-17.3.142857-2.5.142857-13.7.142857,11.3.142857,32.4.142857-38.1.142857-4.2.142857,16.1.142857,6.0.142857,1.2.142857-16.7.142857,20.1.142857-12.6.142857,3.3.142857,1.9.142857-12.0.142857,5.1.142857,13.7.142857-28.0.142857,13.4.142857,13.4.142857-4.5.142857,1.7.142857-24.1.142857,2.5.142857,17.3.142857-7.9.142857-14.0.142857,24.1.142857,3.5.142857,13.6.142857-22.3.142857,.9.142857-8.4.142857,16.1.142857-8.6.142857,31.8.142857-37.0.142857,31.1.142857-25.4.142857-13.3.142857,21.3.142857-.3.142857,16.8.142857-9.2.142857-10.9.142857-8.9.142857-4.5.142857,9.4.142857,3.7.142857-15.7.142857,4.1.142857,17.9.142857-22.3.142857,11.0.142857-3.6.142857-9.8.142857,34.1.142857-8.1.142857-14.5.142857-18.8.142857,27.3.142857-1.6.142857-.3.142857-.8.142857-7.7.142857,44.8.142857-27.9.142857-9.4.142857,7.5.142857-15.0.142857-1.6.142857,.3.142857,18.2.142857,10.8.142857,2.9.142857-18.5.142857-3.9.142857-28.7.142857-5.3.142857,23.3.142857,18.7.142857,8.0.142857-23.3.142857-11.9.142857,13.3.142857,2.8.142857-12.5.142857,10.8.142857,15.6.142857-19.8.142857,9.8.142857,24.7.142857-18.7.142857,.2.142857-13.9.142857,18.3.142857-37.0.142857,41.6.142857-18.0.142857-12.2.142857,1.7.142857,7.7.142857-28.7.142857,29.9.142857-2.2.142857-17.7.142857,21.3.142857,11.3.142857-36.8.142857,13.4.142857,19.8.142857,22.6.142857-36.9.142857,7.3.142857-14.3.142857,10.1.142857,6.0.142857-13.5.142857,19.4.142857,39.1.142857-25.2.142857-28.2.142857,6.6.142857-25.3.142857,18.0.142857-2.0.142857-5.6.142857-15.0.142857,48.4.142857-15.3.142857-20.0.142857,32.4.142857-4.3.142857-27.3.142857,33.8.142857-54.5.142857,49.0.142857-34.7.142857,22.0.142857-32.7.142857,29.3.142857,14.4.142857,5.6.142857-20.3.142857,.0.142857-13.0.142857,5.4.142857,4.4.142857-19.4.142857,22.7.142857-10.0.142857,8.9.142857,8.8.142857-15.5.142857-8.9.142857,22.0.142857-16.1.142857,7.9.142857,2.1.142857-21.8.142857,31.1.142857-29.1.142857,14.7.142857,14.0.142857-5.1.142857-2.7.142857,25.5.142857-20.5.142857,3.4.142857,9.0.142857-41.7.142857,18.5.142857,16.2.142857-.7.142857-18.4.142857,15.5.142857-1.2.142857-8.2.142857,18.4.142857-35.0.142857,31.1.142857-8.1.142857-5.7.142857-27.7.142857,58.9.142857-73.3.142857,46.2.142857-6.8.142857,29.8.142857-35.6.142857,3.8.142857-1.6.142857,12.1.142857,4.3.142857-.5.142857-44.7.142857,19.3.142857,16.7.142857,.8.142857,7.8.142857-19.4.142857,6.7.142857,1.9.142857,12.4.142857,3.9.142857-17.1.142857,16.3.142857-20.0.142857,10.3.142857-32.2.142857,7.9.142857,38.7.142857-30.9.142857,34.4.142857-6.8.142857-35.2.142857,18.2.142857,2.9.142857-6.9.142857-32.1.142857,37.2.142857-7.8.142857-18.7.142857,14.7.142857,1.3.142857,35.5.142857-24.5.142857-16.8.142857,11.0.142857-28.2.142857,39.0.142857-12.8.142857,21.0.142857-22.5.142857,22.2.142857,1.7.142857-39.2.142857,14.4.142857,4.0.142857-3.9.142857-12.6.142857,10.0.142857,1.1.142857,14.0.142857-15.6.142857,3.4.142857,17.9.142857-10.4.142857-16.9.142857-6.0.142857,17.0.142857-14.5.142857,19.7.142857-7.1.142857-20.0.142857,32.7.142857-21.0.142857,18.9.142857-5.5.142857,1.2.142857-30.9.142857,17.6.142857,6.2.142857,41.0.142857-22.9.142857-5.3.142857,7.2.142857-22.7.142857,5.4.142857-7.7.142857,12.7.142857-37.5.142857,9.2.142857,41.8.142857,1.0.142857-12.5.142857-6.3.142857,29.6.142857-14.6.142857-32.2.142857,20.4.142857,11.0.142857-22.2.142857-26.0.142857,23.0.142857,14.5.142857,7.1.142857-19.8.142857,13.2.142857-5.7.142857,8.2.142857-24.6.142857,9.3.142857,14.7.142857,7.3.142857-15.2.142857,6.4.142857-3.4.142857-15.2.142857,34.4.142857-37.8.142857-3.6.142857,17.3.142857,12.8.142857-4.8.142857-18.8.142857-7.5.142857,30.0.142857-9.1.142857-17.2.142857,4.6.142857,27.1.142857-3.4.142857-50.0.142857,27.3.142857,28.7.142857-24.8.142857-21.7.142857,17.6.142857,31.0.142857-30.5.142857,21.0.142857-29.4.142857,33.3.142857-17.2.142857,9.7.142857-5.7.142857-8.6.142857-34.7.142857,53.6.142857,.4.142857-6.5.142857,6.7.142857-26.1.142857,15.4.142857-29.8.142857-1.9.142857,27.2.142857-33.7.142857,39.5.142857-13.8.142857,2.8.142857-11.3.142857,16.4.142857,6.4.142857-31.7.142857,9.3.142857,21.7.142857-26.0.142857,26.5.142857-25.1.142857,9.3.142857,15.3.142857,2.5.142857-26.1.142857,41.5.142857-33.6.142857-5.1.142857,20.9.142857-3.5.142857,27.3.142857-35.5.142857-19.1.142857-9.0.142857,23.1.142857,11.3.142857,4.8.142857,4.3.142857,5.1.142857-19.9.142857-5.3.142857,56.7.142857-4.6.142857-47.4.142857,8.4.142857-11.4.142857,31.5.142857-11.4.142857-51.0.142857,35.9.142857-8.3.142857,10.2.142857-14.5.142857,15.8.142857-14.8.142857,29.0.142857-25.6.142857,24.3.142857-30.2.142857,25.8.142857,.7.142857-6.7.142857-7.1.142857-13.8.142857,5.2.142857-5.0.142857,31.2.142857-11.0.142857,6.8.142857,6.0.142857-29.2.142857,8.5.142857,4.0.142857-8.6.142857-5.3.142857-4.9.142857,12.8.142857,40.0.142857-26.7.142857,1.5.142857-4.7.142857-22.5.142857,21.6.142857-10.8.142857,2.4.142857-7.4.142857,37.5.142857-50.7.142857,18.4.142857-1.0.142857,5.2.142857,24.8.142857,6.1.142857-18.1.142857-25.7.142857,31.8.142857-15.1.142857-29.1.142857,34.3.142857-10.2.142857,2.2.142857,9.2.142857,9.2.142857-44.4.142857,24.2.142857,4.0.142857-1.0.142857-4.2.142857,21.0.142857-29.3.142857,12.9.142857,30.5.142857-26.8.142857,13.2.142857,20.5.142857-38.8.142857-16.4.142857-17.5.142857,39.5.142857-1.9.142857-7.8.142857,15.0.142857,15.9.142857-17.9.142857-9.3.142857-18.0.142857,21.4.142857,4.5.142857,10.9.142857-32.6.142857,1.3.142857-20.3.142857,21.2.142857,23.2.142857,6.1.142857-22.3.142857-13.0.142857,21.2.142857-21.2.142857,3.6.142857,51.4.142857-53.8.142857,15.1.142857,.1.142857,12.7.142857-21.7.142857,2.9.142857,23.7.142857-25.7.142857-3.0.142857,.1.142857-11.6.142857-4.2.142857,40.9.142857-26.5.142857,4.2.142857,30.4.142857-9.6.142857-24.0.142857,26.8.142857-9.7.142857-11.5.142857,41.1.142857-36.5.142857,5.6.142857,7.7.142857-6.3.142857-1.9.142857-6.1.142857,1.0.142857,11.6.142857-8.8.142857,7.1.142857,13.2.142857-2.7.142857-13.2.142857-7.0.142857,32.4.142857-42.0.142857,23.8.142857-.1.142857-26.7.142857,2.2.142857,43.0.142857-16.7.142857-13.3.142857,3.3.142857,5.4.142857-26.2.142857,37.0.142857-46.5.142857,31.6.142857-10.0.142857-.1.142857,18.0.142857-16.3.142857,32.0.142857-2.4.142857,3.3.142857-12.9.142857-25.1.142857,23.1.142857-38.9.142857,61.5.142857-22.3.142857-2.0.142857-41.6.142857,51.5.142857-19.8.142857,5.8.142857-14.0.142857-33.4.142857,34.1.142857,13.2.142857-17.4.142857,24.4.142857,6.1.142857-18.3.142857,16.9.142857-25.6.142857,3.9.142857-1.5.142857,5.0.142857,26.2.142857-25.1.142857-6.6.142857,15.0.142857-24.5.142857,9.8.142857,29.6.142857,5.8.142857,.1.142857-34.4.142857,14.6.142857-1.5.142857,16.3.142857-5.3.142857-19.4.142857-14.6.142857,22.5.142857-19.0.142857,45.4.142857-23.5.142857,25.8.142857-10.8.142857-21.8.142857,.3.142857-29.4.142857,41.9.142857,23.1.142857-37.7.142857,6.1.142857-12.4.142857,4.3.142857,21.7.142857,5.1.142857-32.6.142857,15.7.142857-38.3.142857,28.8.142857,9.3.142857,22.4.142857-20.2.142857,29.1.142857-32.5.142857-1.8.142857-2.5.142857,3.0.142857-23.2.142857,24.0.142857,4.8.142857,14.6.142857-9.5.142857-17.1.142857,24.5.142857-42.4.142857,23.3.142857,14.7.142857-11.7.142857,2.0.142857-16.0.142857-9.4.142857,22.9.142857,17.8.142857-23.7.142857,8.6.142857,4.5.142857-33.0.142857,33.8.142857-12.1.142857-13.4.142857,23.8.142857-3.0.142857-18.4.142857,16.5.142857-15.2.142857,20.3.142857-20.3.142857,5.8.142857,4.8.142857-12.4.142857,19.4.142857-11.7.142857,26.6.142857-21.3.142857-5.7.142857-10.2.142857,6.8.142857,6.6.142857-13.0.142857,21.5.142857,9.1.142857-22.5.142857,21.7.142857-.2.142857-11.6.142857-20.4.142857,19.7.142857-5.4.142857-7.5.142857,.3.142857,38.3.142857-25.9.142857,3.2.142857-12.5.142857,17.8.142857,2.9.142857-13.3.142857,6.4.142857-25.2.142857,21.8.142857-.7.142857,7.7.142857-8.3.142857-1.5.142857,13.8.142857-2.2.142857-24.4.142857,18.6.142857,33.2.142857-30.0.142857,3.8.142857-3.4.142857-3.2.142857,2.3.142857-11.1.142857,15.8.142857-8.6.142857,1.8.142857,20.2.142857-23.3.142857-5.3.142857-1.6.142857-17.8.142857,41.9.142857-10.3.142857-20.9.142857,36.6.142857-20.6.142857-12.3.142857,24.4.142857-26.8.142857,25.2.142857-11.5.142857,12.8.142857-11.4.142857,1.3.142857-5.3.142857,9.9.142857,2.9.142857-12.6.142857-5.5.142857,26.1.142857-31.6.142857-3.3.142857,16.9.142857,.4.142857,40.8.142857-27.3.142857,12.1.142857,4.7.142857-7.0.142857,8.3.142857-37.3.142857,8.9.142857,21.6.142857-6.7.142857,5.9.142857-44.1.142857,10.6.142857,.6.142857,14.7.142857-8.3.142857,24.3.142857,5.9.142857,16.2.142857-63.7.142857,4.3.142857,17.1.142857,8.1.142857,5.1.142857-1.5.142857-14.8.142857,15.8.142857-14.9.142857,30.4.142857-35.2.142857,34.8.142857-36.2.142857,12.9.142857-9.9.142857,.8.142857,10.7.142857-7.7.142857,18.4.142857,8.5.142857-16.4.142857-19.8.142857,9.3.142857,1.3.142857,14.2.142857-57.6.142857,53.3.142857-12.6.142857,2.8.142857,21.8.142857-2.5.142857-29.4.142857,5.8.142857,5.7.142857,2.6.142857,.0.142857,25.6.142857-8.0.142857,11.4.142857-45.6.142857,25.8.142857,14.6.142857-47.9.142857,32.6.142857-6.8.142857-1.2.142857,.6.142857-19.6.142857,10.7.142857-10.3.142857,25.5.142857,5.4.142857,8.7.142857-45.8.142857,20.2.142857,4.6.142857-12.5.142857,26.3.142857-10.1.142857-9.8.142857,23.9.142857-12.4.142857,28.1.142857-46.7.142857,13.7.142857-1.5.142857,17.1.142857-36.7.142857,40.8.142857-48.3.142857,31.7.142857,3.3.142857,10.7.142857-25.8.142857,22.7.142857-31.6.142857,20.0.142857-12.9.142857,11.0.142857-28.1.142857,28.5.142857-5.1.142857-16.6.142857,26.5.142857-34.8.142857,41.3.142857-12.1.142857,19.8.142857-.9.142857-34.2.142857,10.5.142857-10.4.142857-29.4.142857,47.1.142857,11.2.142857-22.4.142857,28.7.142857-30.7.142857,8.1.142857-22.0.142857,1.7.142857-1.6.142857,18.0.142857,4.6.142857-32.4.142857,29.1.142857-14.7.142857,6.3.142857-10.8.142857-13.9.142857,43.8.142857-21.3.142857,5.8.142857,8.0.142857-2.1.142857,5.7.142857,10.6.142857,4.9.142857-13.5.142857,6.2.142857,18.2.142857-37.3.142857,27.7.142857-45.1.142857,28.9.142857-24.3.142857,11.7.142857,11.6.142857,4.1.142857-7.9.142857,14.4.142857-6.9.142857,5.2.142857-38.1.142857,48.0.142857-20.8.142857-14.3.142857,19.9.142857,18.7.142857-24.0.142857-21.3.142857,54.2.142857-32.0.142857,17.9.142857-24.1.142857,8.3.142857,8.3.142857,17.3.142857-29.0.142857,8.6.142857-8.1.142857-15.5.142857,53.1.142857-22.4.142857-22.6.142857-7.0.142857-13.6.142857,32.9.142857-8.8.142857,8.2.142857,15.7.142857-2.8.142857-23.4.142857-15.3.142857,5.9.142857,15.8.142857-18.2.142857,2.5.142857,37.1.142857-6.5.142857-21.6.142857,11.5.142857,14.1.142857-22.9.142857,14.7.142857-13.8.142857,14.9.142857-33.6.142857,7.8.142857,33.5.142857-7.6.142857-39.8.142857,40.8.142857-8.1.142857,2.8.142857-11.8.142857,36.2.142857-43.8.142857,22.0.142857,2.3.142857-38.4.142857,21.2.142857,18.0.142857-33.6.142857,11.6.142857,12.2.142857,13.7.142857-10.8.142857-28.8.142857,9.2.142857-5.7.142857,45.2.142857-39.4.142857,3.7.142857,13.2.142857,6.1.142857-.3.142857,12.6.142857-7.7.142857-24.2.142857,12.7.142857,13.0.142857-8.9.142857,3.2.142857,.1.142857-21.0.142857,12.5.142857-30.1.142857,30.2.142857,13.1.142857-37.9.142857,12.2.142857-12.3.142857,16.2.142857,28.4.142857-25.4.142857-7.3.142857,11.1.142857-3.7.142857,14.0.142857-7.3.142857-28.5.142857,2.5.142857-4.0.142857,29.5.142857-22.2.142857,30.9.142857-14.3.142857-28.8.142857,33.4.142857,12.2.142857-10.1.142857-19.7.142857,22.4.142857,26.8.142857,9.8.142857-51.7.142857,12.7.142857-2.2.142857,15.6.142857,6.9.142857-24.9.142857,1.5.142857-14.8.142857-7.4.142857,29.4.142857-31.4.142857,8.7.142857,14.5.142857,6.4.142857-34.6.142857,31.2.142857-1.8.142857,1.3.142857-6.2.142857,9.8.142857,9.6.142857-22.7.142857-4.9.142857,10.1.142857-12.2.142857,5.5.142857,18.6.142857-2.8.142857-19.5.142857-12.3.142857,32.3.142857-2.2.142857,.3.142857,6.4.142857,13.4.142857-7.8.142857-32.1.142857-33.4.142857,50.1.142857,5.9.142857-13.8.142857,6.6.142857,7.1.142857-15.4.142857,5.0.142857,13.8.142857-8.2.142857-9.0.142857,17.6.142857-12.1.142857,5.6.142857-9.2.142857,5.7.142857-30.2.142857,25.9.142857,29.7.142857,12.1.142857-9.0.142857-33.1.142857-18.7.142857,32.8.142857,7.5.142857,10.8.142857-11.2.142857-17.6.142857,23.2.142857-14.5.142857,.4.142857-26.6.142857,27.9.142857,6.3.142857-33.6.142857,23.0.142857-28.8.142857,36.1.142857-10.9.142857-3.3.142857,16.7.142857-7.7.142857-14.5.142857,15.7.142857-18.1.142857,27.7.142857-10.4.142857-24.6.142857-3.4.142857-.8.142857,1.1.142857,4.3.142857,34.8.142857-25.1.142857-24.3.142857,30.9.142857,2.2.142857,17.5.142857-23.7.142857-16.7.142857,20.2.142857,4.1.142857-30.2.142857,17.5.142857-12.0.142857,16.0.142857-5.5.142857,13.8.142857-21.6.142857-4.2.142857,.9.142857,20.4.142857,39.7.142857-19.5.142857-3.3.142857-20.6.142857,.4.142857,1.4.142857,25.5.142857,10.0.142857-6.7.142857-18.6.142857-23.9.142857-2.3.142857,18.3.142857,2.6.142857,2.7.142857-16.0.142857,12.7.142857-42.3.142857,51.0.142857,21.4.142857-23.3.142857,13.1.142857-6.4.142857-28.6.142857-25.1.142857,38.2.142857,5.6.142857-17.4.142857,1.2.142857,27.2.142857-7.6.142857-28.0.142857-18.8.142857,51.8.142857-18.5.142857,13.1.142857-15.6.142857-14.5.142857,16.0.142857-4.6.142857-10.2.142857,5.7.142857-2.9.142857,29.1.142857-10.3.142857-2.5.142857-17.7.142857,16.0.142857,5.5.142857,15.0.142857-17.9.142857,8.6.142857-13.6.142857,14.1.142857-30.0.142857-4.6.142857,7.3.142857,13.9.142857,17.7.142857-3.1.142857-30.4.142857,21.1.142857-10.9.142857-10.8.142857,8.4.142857-5.5.142857,22.3.142857-12.0.142857-3.9.142857,5.1.142857,1.2.142857-3.0.142857,4.6.142857-3.0.142857,17.9.142857-31.6.142857-2.3.142857,26.8.142857,22.7.142857,3.7.142857,1.0.142857-44.7.142857,8.6.142857,4.8.142857-1.2.142857-18.5.142857,1.9.142857,27.8.142857-7.0.142857-12.8.142857,16.3.142857,16.5.142857-27.6.142857,29.3.142857-39.7.142857,3.0.142857,17.6.142857,10.7.142857-45.3.142857,20.0.142857,25.0.142857,1.7.142857-16.5.142857-11.1.142857,12.4.142857-15.2.142857,28.7.142857-.3.142857-27.7.142857,25.3.142857-14.5.142857,7.5.142857,21.6.142857-31.2.142857-25.5.142857,26.1.142857,26.8.142857-8.8.142857-17.0.142857,28.8.142857-27.6.142857-18.6.142857,50.5.142857-34.1.142857-.7.142857-15.3.142857,13.1.142857,11.6.142857,23.0.142857-10.5.142857-2.6.142857-3.9.142857-28.8.142857,20.8.142857-12.1.142857-6.1.142857-1.5.142857,12.4.142857,10.9.142857-6.1.142857,8.2.142857,16.1.142857-4.0.142857-38.1.142857,40.1.142857-20.2.142857-9.7.142857,6.7.142857-7.2.142857-34.8.142857,34.3.142857,12.0.142857-8.3.142857,2.0.142857-7.6.142857,5.6.142857-14.2.142857,8.7.142857,2.5.142857,9.9.142857-15.1.142857,12.4.142857-3.5.142857,31.3.142857-10.9.142857-10.6.142857-22.8.142857,42.8.142857-36.7.142857,2.4.142857-4.4.142857,2.8.142857,.4.142857-18.0.142857,3.2.142857,3.5.142857,.3.142857,8.8.142857-6.3.142857,13.9.142857,15.6.142857-.4.142857-12.2.142857-20.1.142857,6.6.142857,13.4.142857-7.7.142857,22.2.142857-2.2.142857-13.3.142857-17.0.142857-5.3.142857,16.0.142857,11.8.142857-24.6.142857,9.8.142857-8.4.142857,36.4.142857-15.3.142857-21.7.142857,22.2.142857,.8.142857,6.2.142857-29.0.142857,40.0.142857-33.4.142857,37.9.142857-37.4.142857,15.7.142857-16.9.142857-10.2.142857,33.6.142857-4.1.142857,15.4.142857-25.5.142857-15.8.142857,23.9.142857,13.3.142857-1.4.142857-30.7.142857,21.0.142857-1.5.142857,1.7.142857,7.8" fill="none" stroke="#f00" stroke-width="0.6" stroke-linejoin="bevel"/>
<path d="M219.00,594.8l.142857-14.4.142857,50.9.142857-32.9.142857,1.0.142857-9.3.142857,1.8.142857,5.2.142857-.4.142857-13.3.142857,17.8.142857-2.3.142857-6.5.142857-10.6.142857,2.0.142857-6.7.142857,18.4.142857-12.9.142857,18.4.142857-19.5.142857,21.7.142857-9.1.142857-6.7.142857,22.6.142857-12.8.142857,7.9.142857,.9.142857-11.2.142857-11.1.142857,7.3.142857,10.8.142857-23.5.142857,18.6.142857-8.9.142857-6.5.142857-3.4.142857-4.3.142857,13.1.142857,10.6.142857-37.1.142857,23.9.142857,9.7.142857-11.6.142857,18.1.142857-21.1.142857,22.7.142857,2.5.142857-5.1.142857-11.1.142857,32.6.142857-27.7.142857,13.1.142857-21.3.142857,2.6.142857,14.3.142857-25.9.142857,23.6.142857,20.1.142857-45.8.142857,13.7.142857,17.2.142857-13.4.142857,18.9.142857-14.5.142857-24.5.142857-12.7.142857,32.7.142857,17.4.142857-22.7.142857,28.6.142857-41.4.142857,32.6.142857-10.0.142857-1.3.142857-7.3.142857-6.6.142857,8.8.142857-16.3.142857,31.7.142857-28.8.142857,28.3.142857-25.7.142857-2.2.142857,29.2.142857-1.6.142857-2.6.142857,19.9.142857-38.5.142857,26.4.142857-10.6.142857,20.2.142857-43.6.142857,13.0.142857-.1.142857-8.2.142857-5.2.142857,16.1.142857-3.4.142857-7.2.142857,10.4.142857-23.6.142857,42.3.142857-14.4.142857-4.7.142857,8.9.142857-13.0.142857-5.9.142857-1.1.142857-1.1.142857,3.6.142857,23.3.142857-21.5.142857,29.5.142857-12.5.142857,20.7.142857-33.9.142857-2.8.142857,1.5.142857-21.0.142857,37.8.142857-4.1.142857-6.7.142857,1.7.142857,12.8.142857-25.8.142857,18.0.142857,1.5.142857,4.8.142857,14.6.142857-10.6.142857-22.2.142857,15.5.142857-10.6.142857,2.0.142857-16.0.142857,11.2.142857,4.7.142857-6.3.142857,14.8.142857,16.0.142857-24.8.142857-13.3.142857,10.2.142857,19.1.142857-15.9.142857,11.1.142857-7.4.142857,6.9.142857-19.0.142857,24.7.142857-15.6.142857,3.7.142857,14.3.142857-54.0.142857,54.7.142857,13.5.142857-35.4.142857-3.3.142857,3.7.142857,12.1.142857-9.4.142857-18.1.142857,6.7.142857-10.3.142857,9.8.142857-3.6.142857-8.5.142857,28.1.142857-6.0.142857,7.6.142857-35.8.142857,42.6.142857,8.8.142857-29.0.142857-12.2.142857-10.9.142857,39.6.142857-16.0.142857,13.7.142857-7.7.142857-20.9.142857,14.0.142857,8.2.142857-13.5.142857,15.1.142857-14.2.142857,22.9.142857-39.7.142857,28.7.142857-4.4.142857,12.3.142857,6.2.142857-12.3.142857-3.7.142857-6.2.142857,22.3.142857-14.4.142857,5.3.142857-5.4.142857,5.0.142857-13.2.142857,47.1.142857-34.2.142857-11.0.142857-1.5.142857,14.0.142857-12.5.142857,20.8.142857-8.6.142857,1.4.142857,5.2.142857-9.2.142857,5.7.142857,.4.142857,11.7.142857-20.5.142857,21.1.142857-9.2.142857-2.2.142857-23.5.142857,20.2.142857-22.2.142857,8.8.142857,5.3.142857-4.7.142857-13.6.142857,30.2.142857-19.2.142857,20.9.142857-16.3.142857-24.3.142857,48.0.142857-7.7.142857,12.7.142857-27.7.142857-23.7.142857,30.1.142857-16.4.142857,2.1.142857-3.0.142857-5.1.142857,36.8.142857-30.4.142857-14.8.142857,54.9.142857-39.9.142857-4.3.142857,27.3.142857-7.2.142857-27.4.142857,37.5.142857,.0.142857-5.2.142857-31.3.142857,22.3.142857-30.1.142857,31.1.142857,7.3.142857,3.6.142857-27.5.142857,32.0.142857-18.7.142857,2.2.142857-8.6.142857,19.1.142857,2.5.142857-15.1.142857-7.7.142857,26.5.142857-16.1.142857,8.6.142857-5.4.142857-2.1.142857-12.6.142857-2.3.142857,5.4.142857-30.4.142857,26.1.142857,20.9.142857-11.5.142857-20.4.142857,27.1.142857-11.3.142857,23.4.142857-17.2.142857-9.3.142857,12.1.142857,.1.142857,8.2.142857-19.9.142857,27.0.142857-19.7.142857-10.1.142857,7.7.142857-1.2.142857,22.4.142857-7.6.142857-7.8.142857,12.5.142857-10.0.142857,8.9.142857-16.1.142857,23.3.142857-46.3.142857,6.7.142857,20.0.142857,10.3.142857,10.8.142857-19.0.142857-1.6.142857,4.5.142857,.1.142857-1.5.142857-19.0.142857,6.0.142857,11.1.142857-24.0.142857,22.8.142857,11.6.142857-17.6.142857-9.6.142857-8.5.142857,10.0.142857,18.4.142857,7.3.142857-11.6.142857,7.4.142857,4.5.142857-16.7.142857-5.7.142857,29.2.142857-9.0.142857,6.6.142857-30.3.142857,1.4.142857,8.0.142857-7.1.142857-8.6.142857,5.6.142857-5.3.142857,13.0.142857-24.7.142857,38.8.142857,1.2.142857-36.3.142857,19.6.142857,6.3.142857-15.8.142857,17.0.142857,6.0.142857-12.9.142857,20.9.142857-11.4.142857-24.6.142857,9.4.142857,27.9.142857,3.8.142857-14.8.142857,16.8.142857-38.2.142857,45.1.142857,.5.142857-29.6.142857,1.1.142857-12.5.142857,57.1.142857-44.2.142857-3.4.142857-9.1.142857,7.5.142857-.8.142857,23.0.142857-5.6.142857-20.2.142857,10.3.142857-15.0.142857,15.3.142857-39.6.142857,60.2.142857-19.6.142857-12.7.142857,24.8.142857-17.2.142857,.2.142857,29.0.142857-22.2.142857,4.8.142857,9.0.142857-15.4.142857-6.5.142857-2.6.142857-10.5.142857,28.4.142857-44.6.142857,36.0.142857,7.0.142857-5.7.142857-9.7.142857-11.0.142857,18.2.142857,13.5.142857-6.8.142857,3.9.142857-27.1.142857,5.9.142857,14.8.142857-36.2.142857,20.7.142857-12.7.142857-.4.142857,30.0.142857,5.0.142857-14.7.142857-1.2.142857-12.8.142857,19.0.142857-10.9.142857,21.5.142857-35.9.142857,13.0.142857,29.4.142857-41.7.142857,26.6.142857-12.2.142857-40.3.142857,50.4.142857-.1.142857-21.9.142857,18.8.142857,13.8.142857-17.3.142857,11.6.142857-20.6.142857,32.4.142857-20.7.142857,2.1.142857-20.5.142857,12.6.142857,26.7.142857-7.7.142857-19.9.142857-15.1.142857-1.9.142857,37.3.142857-23.8.142857,6.0.142857,29.8.142857-43.7.142857,9.3.142857,22.9.142857-10.0.142857,13.3.142857,1.2.142857-26.6.142857,2.5.142857,17.5.142857-10.0.142857-4.2.142857,18.5.142857-8.9.142857-35.8.142857,63.0.142857-13.6.142857-31.3.142857,21.3.142857-16.9.142857-30.5.142857,35.7.142857,9.8.142857,7.4.142857-36.3.142857,30.1.142857-14.6.142857,10.5.142857-5.0.142857,4.6.142857-25.3.142857,33.4.142857-19.6.142857,15.1.142857-16.1.142857,16.1.142857,3.0.142857-14.2.142857-11.6.142857,4.5.142857,14.5.142857,10.9.142857-13.2.142857-2.0.142857,6.5.142857-41.0.142857,19.5.142857,18.8.142857-4.0.142857-2.9.142857,5.7.142857-32.0.142857,31.7.142857-2.7.142857-40.1.142857,52.1.142857-31.0.142857,16.6.142857,10.3.142857-12.4.142857,2.0.142857,.6.142857-10.9.142857,4.8.142857-24.0.142857,34.7.142857-21.3.142857,1.2.142857,19.0.142857-9.9.142857-12.6.142857,5.2.142857,28.9.142857-16.6.142857-12.0.142857,7.1.142857,8.5.142857-3.2.142857,12.9.142857-13.3.142857,29.0.142857,1.9.142857-33.8.142857-20.4.142857-2.9.142857,13.6.142857,37.8.142857-19.7.142857,6.6.142857,4.5.142857-14.0.142857,7.1.142857,21.4.142857-44.2.142857,23.9.142857,9.9.142857,2.6.142857-13.2.142857-12.8.142857,19.9.142857-1.6.142857-43.8.142857,.3.142857,28.7.142857,23.7.142857-38.4.142857,25.2.142857-2.8.142857,8.2.142857-24.7.142857-4.1.142857-11.3.142857,21.9.142857,4.8.142857-6.6.142857,16.7.142857-5.2.142857,4.7.142857-21.6.142857,3.8.142857,.0.142857-16.5.142857-11.6.142857,39.0.142857-12.6.142857,32.1.142857-20.7.142857-18.5.142857,33.7.142857-6.1.142857-19.6.142857,27.6.142857-12.7.142857,3.0.142857-15.6.142857-15.5.142857,32.1.142857-10.8.142857,9.7.142857-11.7.142857,15.0.142857-7.6.142857,1.3.142857-4.5.142857,.5.142857-18.5.142857-17.7.142857,27.1.142857-2.7.142857,15.2.142857-17.0.142857,33.0.142857-17.9.142857-13.0.142857,3.2.142857-6.0.142857,19.0.142857,3.7.142857,14.9.142857-59.1.142857,31.9.142857-.1.142857-14.7.142857,11.3.142857,5.4.142857,8.0.142857-19.9.142857,10.1.142857,27.1.142857-28.0.142857,11.4.142857-4.5.142857,16.0.142857-56.3.142857,19.9.142857-8.6.142857,25.3.142857,1.8.142857,15.6.142857-12.7.142857-28.1.142857,24.6.142857,5.5.142857-19.2.142857,24.6.142857-11.6.142857,21.2.142857-40.5.142857,28.9.142857-15.3.142857,10.0.142857-2.8.142857-3.5.142857-8.0.142857,24.8.142857-24.0.142857,25.5.142857-23.0.142857-15.5.142857,30.5.142857-15.4.142857-5.3.142857,14.3.142857-27.7.142857,18.7.142857,15.4.142857-15.6.142857,16.8.142857-29.9.142857,5.5.142857,25.6.142857-54.0.142857,48.4.142857,19.5.142857-34.6.142857,38.9.142857-35.2.142857,26.7.142857-23.2.142857-2.4.142857-33.0.142857,40.1.142857-32.0.142857,30.6.142857-22.9.142857,10.5.142857,20.0.142857-24.7.142857,8.7.142857,10.5.142857,8.8.142857-1.5.142857-20.3.142857,3.1.142857-6.6.142857,17.2.142857-10.8.142857-3.4.142857-1.9.142857,10.1.142857-5.2.142857-3.6.142857,15.1.142857,.8.142857-28.6.142857,32.3.142857-27.5.142857,7.1.142857,13.5.142857-12.3.142857-9.1.142857,27.0.142857-19.1.142857,8.6.142857,8.9.142857,6.5.142857,2.2.142857-8.1.142857-20.9.142857,9.4.142857-3.7.142857,3.1.142857-22.8.142857,19.9.142857,4.1.142857,8.7.142857-34.7.142857,31.5.142857-1.4.142857-17.1.142857-.7.142857,.4.142857,3.4.142857,27.3.142857-28.7.142857,10.6.142857,1.4.142857,7.2.142857-5.2.142857,31.5.142857-40.4.142857,9.9.142857-1.2.142857,4.3.142857,10.3.142857-11.1.142857-9.4.142857-5.6.142857,5.0.142857-6.4.142857,20.8.142857-10.4.142857-28.0.142857,18.9.142857,15.4.142857-1.0.142857,.0.142857-16.8.142857,34.9.142857-43.3.142857,3.8.142857,8.5.142857,.5.142857,6.2.142857,10.5.142857-17.2.142857,29.3.142857-17.9.142857-7.9.142857,23.2.142857-13.2.142857-2.0.142857,2.0.142857-7.7.142857-5.1.142857,23.2.142857-43.1.142857,30.8.142857-20.6.142857,35.3.142857-22.0.142857,17.3.142857-6.4.142857-16.0.142857-.5.142857,18.2.142857-9.0.142857-3.8.142857-10.3.142857,14.1.142857-18.6.142857,24.4.142857-16.7.142857,10.8.142857-8.5.142857,19.0.142857-.9.142857-11.6.142857,19.3.142857-2.5.142857-36.6.142857,18.3.142857,14.2.142857,15.0.142857-30.3.142857-1.9.142857,.2.142857,4.8.142857-5.2.142857,2.2.142857,6.3.142857-12.5.142857-1.2.142857,3.7.142857,2.2.142857,30.9.142857-58.5.142857,41.9.142857,3.4.142857,.2.142857-.3.142857-27.3.142857-3.1.142857,14.1.142857-1.4.142857,13.6.142857-9.7.142857,5.9.142857,9.1.142857,16.9.142857-31.4.142857,2.8.142857,9.7.142857-2.9.142857,2.7.142857-15.6.142857-3.3.142857,11.7.142857,3.7.142857,11.7.142857-39.1.142857,23.2.142857-13.2.142857-6.6.142857,10.9.142857-5.6.142857,53.0.142857-56.4.142857,20.2.142857,8.4.142857,7.9.142857-12.2.142857-15.2.142857,36.1.142857-26.7.142857,6.9.142857-23.9.142857-5.9.142857,17.4.142857-2.1.142857,10.2.142857-1.0.142857-9.1.142857,14.8.142857-5.0.142857-25.1.142857,2.2.142857,28.8.142857-26.8.142857,14.3.142857-8.1.142857,7.2.142857-8.1.142857,23.2.142857-3.2.142857-12.6.142857-.5.142857-14.0.142857-2.0.142857,36.9.142857-1.4.142857-38.2.142857-2.1.142857-21.4.142857,41.8.142857-25.1.142857,21.3.142857-3.7.142857-.5.142857,16.4.142857-10.0.142857-11.4.142857,16.9.142857-39.5.142857,32.2.142857,33.3.142857-6.9.142857-19.7.142857,9.6.142857,16.8.142857-23.1.142857-50.6.142857,43.6.142857-.6.142857-.2.142857-3.2.142857,18.0.142857,2.3.142857,7.2.142857-30.5.142857,25.1.142857-37.7.142857,20.0.142857-2.8.142857-14.1.142857-33.1.142857,79.0.142857-22.3.142857-1.3.142857-29.8.142857,34.0.142857-5.6.142857-10.4.142857,14.2.142857-21.2.142857,51.2.142857-58.9.142857,54.5.142857-49.7.142857,28.8.142857-19.9.142857,35.5.142857-23.7.142857,12.2.142857-20.9.142857-11.5.142857,12.0.142857,18.2.142857-20.7.142857-3.2.142857,34.4.142857-12.2.142857-25.3.142857,16.3.142857-6.0.142857,36.8.142857-46.8.142857,8.4.142857,4.7.142857-36.5.142857,46.1.142857-11.6.142857-13.2.142857,36.6.142857-2.0.142857-25.9.142857-17.3.142857,13.2.142857,17.1.142857-21.4.142857,33.8.142857-16.7.142857,16.7.142857-33.9.142857-4.9.142857,24.6.142857-10.5.142857,19.0.142857-32.7.142857,31.8.142857,6.1.142857-17.7.142857,8.4.142857,5.7.142857-32.0.142857,31.7.142857,9.0.142857-27.2.142857,23.8.142857-38.7.142857-3.1.142857,39.4.142857-23.2.142857-12.3.142857,5.8.142857,33.5.142857-36.1.142857,33.0.142857-21.5.142857,6.3.142857-11.9.142857,7.4.142857,27.1.142857-28.2.142857-8.9.142857-9.7.142857,41.0.142857-28.8.142857-8.2.142857-1.6.142857,28.9.142857-5.0.142857-21.2.142857,13.9.142857-29.2.142857,42.8.142857-6.6.142857-14.4.142857,12.7.142857-26.3.142857,10.7.142857,8.3.142857-33.7.142857,59.2.142857-18.8.142857-5.5.142857,2.6.142857,8.5.142857-15.7.142857,10.4.142857-26.4.142857,2.3.142857,31.8.142857-.4.142857-1.1.142857,10.6.142857-43.6.142857,32.3.142857-21.9.142857,57.0.142857-43.2.142857,11.3.142857-24.6.142857,29.6.142857-3.0.142857,9.4.142857-12.2.142857,1.6.142857-29.7.142857-3.8.142857,27.9.142857-4.4.142857,16.6.142857-14.2.142857-10.7.142857,11.2.142857-4.2.142857-5.5.142857,29.5.142857-20.2.142857,1.1.142857-3.3.142857-22.6.142857,22.4.142857-6.5.142857-2.4.142857-4.9.142857,5.2.142857-4.6.142857,10.4.142857-14.7.142857,29.7.142857-9.5.142857-5.9.142857-.6.142857,6.9.142857,13.3.142857-26.3.142857-28.7.142857,11.7.142857,22.9.142857-8.9.142857,18.6.142857-3.4.142857,5.5.142857-23.2.142857,46.4.142857-24.0.142857-2.7.142857-11.2.142857-27.8.142857,14.1.142857,16.5.142857,13.5.142857,11.9.142857-28.2.142857,4.9.142857,15.6.142857-32.2.142857,10.8.142857,7.1.142857,7.8.142857-28.4.142857,9.9.142857,10.2.142857,16.4.142857-36.7.142857,53.0.142857-67.6.142857,22.7.142857,30.5.142857-22.1.142857,10.4.142857-8.9.142857-14.5.142857,21.7.142857-18.4.142857,10.6.142857-3.3.142857-18.2.142857-14.8.142857,27.6.142857-5.8.142857,12.0.142857,13.2.142857-34.6.142857,6.6.142857,18.3.142857-8.5.142857,7.2.142857-16.1.142857,13.4.142857,6.8.142857-21.6.142857,18.5.142857,15.9.142857-33.9.142857,18.5.142857-26.2.142857,22.1.142857-.4.142857,9.9.142857,5.3.142857-24.6.142857,7.1.142857-10.2.142857-3.5.142857,40.6.142857-28.4.142857-1.4.142857,.2.142857-5.6.142857-7.5.142857-11.4.142857-12.4.142857,37.5.142857,20.0.142857-28.2.142857,25.1.142857-6.8.142857-9.6.142857,3.9.142857-2.8.142857,15.5.142857-2.6.142857-14.4.142857,15.9.142857-54.9.142857,29.7.142857,17.8.142857-14.5.142857,6.5.142857,38.5.142857-32.8.142857,12.0.142857-20.9.142857-18.5.142857,34.8.142857-19.4.142857,4.3.142857,1.7.142857,12.7.142857-4.6.142857,.7.142857-.7.142857-15.6.142857,12.5.142857,3.2.142857-16.6.142857-.3.142857,25.7.142857-2.1.142857-1.0.142857-9.3.142857,3.5.142857,.9.142857-30.6.142857,26.0.142857,22.3.142857-4.8.142857-22.2.142857-19.6.142857,22.3.142857-18.4.142857,6.8.142857,5.5.142857,42.5.142857-32.7.142857-13.2.142857,29.0.142857-4.7.142857-1.6.142857-1.7.142857-14.1.142857,6.1.142857-1.5.142857-36.5.142857,32.1.142857,7.9.142857-14.9.142857,20.5.142857-6.3.142857-17.8.142857,35.7.142857-28.4.142857,26.5.142857-30.6.142857,33.3.142857-37.0.142857,27.0.142857-22.9.142857,24.0.142857-3.6.142857,.5.142857-20.4.142857,15.5.142857-16.5.142857,16.7.142857-18.4.142857,20.1.142857-12.6.142857-23.8.142857,23.1.142857-9.4.142857,9.8.142857,.8.142857-13.1.142857,9.0.142857-2.8.142857,10.6.142857-17.3.142857,31.1.142857-12.0.142857-8.1.142857,19.2.142857-10.9.142857-7.1.142857,12.1.142857-9.7.142857-16.1.142857,18.3.142857,32.1.142857-11.8.142857-11.5.142857,15.3.142857,1.1.142857-15.4.142857-20.0.142857,11.3.142857,3.9.142857,13.2.142857-8.2.142857-4.6.142857-5.0.142857-5.9.142857,8.8.142857,17.3.142857-18.1.142857,10.3.142857-22.1.142857,1.2.142857-.2.142857,28.6.142857-47.0.142857,48.0.142857-10.9.142857-23.6.142857,4.4.142857,28.8.142857-28.0.142857-11.9.142857,26.6.142857,.8.142857-22.7.142857,19.2.142857-23.4.142857-.8.142857,9.5.142857,24.5.142857,1.3.142857-13.2.142857-28.1.142857,25.9.142857,.9.142857,16.9.142857-2.5.142857-4.7.142857-10.2.142857,11.0.142857-6.7.142857-1.9.142857-.6.142857,1.7.142857-13.2.142857,13.9.142857-20.2.142857,8.6.142857,23.3.142857-16.2.142857,22.4.142857-18.4.142857-11.3.142857,8.1.142857,12.0.142857-12.9.142857-8.6.142857-3.5.142857,9.6.142857-5.0.142857,6.9.142857,7.6.142857-13.0.142857,2.1.142857,9.0.142857-38.7.142857,45.3.142857-9.8.142857-3.7.142857-7.0.142857,22.9.142857-39.9.142857,26.6.142857-3.9.142857-22.4.142857,29.9.142857,4.1.142857-2.4.142857,10.6.142857-32.9.142857,47.7.142857-25.9.142857-15.1.142857-8.9.142857,13.3.142857-5.7.142857,17.8.142857-2.1.142857-9.0.142857,.2.142857,4.4.142857,1.0.142857-6.3.142857-10.9.142857,20.0.142857-12.6.142857,14.3.142857-5.3.142857,1.2.142857,7.1.142857-13.9.142857,13.0.142857,1.7.142857-7.2.142857,30.0.142857-41.3.142857,46.4.142857-26.5.142857,23.1.142857-28.5.142857,14.6.142857-13.3.142857,21.3.142857-50.9.142857,10.8.142857-.9.142857,19.4.142857,8.9.142857-17.0.142857,12.2.142857-7.2.142857-22.1.142857,13.0.142857-8.4.142857,28.1.142857-19.7.142857,11.9.142857-30.1.142857,41.4.142857-40.4.142857,10.4.142857-8.7.142857,8.7.142857,38.1.142857-9.4.142857,8.0.142857-21.4.142857-2.1.142857-13.4.142857,10.8.142857-7.9.142857,14.9.142857-15.6.142857-1.5.142857,15.0.142857-35.7.142857,23.3.142857,22.9.142857-3.3.142857-36.2.142857,32.2.142857,5.9.142857-17.8.142857,19.1.142857-15.0.142857,6.7.142857,.3.142857,12.8.142857-19.5.142857,7.0.142857,4.6.142857-15.1.142857,6.2.142857-3.5.142857,21.7.142857-34.7.142857,10.7.142857,31.8.142857-10.6.142857-4.1.142857-42.0.142857,27.9.142857-17.4.142857,22.2.142857-34.7.142857,64.1.142857-25.2.142857-3.8.142857-43.1.142857,26.8.142857,13.7.142857,4.4.142857,.4.142857,4.0.142857,14.3.142857,3.4.142857-30.0.142857-26.5.142857,33.6.142857,12.3.142857-10.9.142857,22.3.142857-24.8.142857,18.2.142857-23.3.142857,14.5.142857-7.2.142857,5.3.142857-1.4.142857-9.8.142857,26.5.142857-6.0.142857,6.1.142857-10.3.142857-22.3.142857-8.3.142857,6.6.142857,4.1.142857,10.6.142857-24.9.142857-3.6.142857-3.1.142857,22.7.142857-5.0.142857-15.1.142857,16.5.142857-8.7.142857,5.1.142857,7.6.142857,4.2.142857-5.7.142857,11.9.142857,2.3.142857-5.0.142857-4.7.142857-14.4.142857-8.2.142857,20.8.142857,31.5.142857-58.7.142857,32.6.142857-26.5.142857,50.0.142857-31.9.142857,18.1.142857-25.9.142857,2.2.142857,.1.142857,34.7.142857-13.0.142857,2.7.142857,2.4.142857-12.5.142857-20.6.142857,17.4.142857,2.6.142857-4.9.142857,1.7.142857,4.7.142857,7.7.142857-4.8.142857-9.4.142857-15.5.142857,22.6.142857-14.9.142857,29.4.142857-20.7.142857-8.0.142857,.5.142857-11.1.142857,14.3.142857,3.8.142857-9.4.142857,15.1.142857,24.3.142857-40.8.142857-10.3.142857,1.8.142857,45.5.142857-38.6.142857-15.0.142857,20.3.142857-6.1.142857,21.8.142857-29.5.142857,34.0.142857-38.6.142857,18.9.142857,2.1.142857-6.6.142857,5.1.142857-23.5.142857,30.8.142857-5.9.142857,10.3.142857,4.6.142857-5.9.142857-3.3.142857,28.0.142857-2.6.142857-12.8.142857,7.6.142857-10.4.142857,14.1.142857-31.9.142857-24.3.142857,7.0.142857,42.2.142857-14.3.142857,3.1.142857,24.3.142857-14.9.142857-7.8.142857-12.4.142857,20.6.142857-13.6.142857,27.1.142857-20.3.142857-12.9.142857,15.2.142857-42.0.142857,26.6.142857,7.4.142857,3.5.142857-9.6.142857-10.6.142857,.7.142857,17.9.142857-10.4.142857,20.6.142857-28.9.142857,8.9.142857,7.5.142857-32.1.142857,4.0.142857,12.5.142857,13.1.142857-21.4.142857,27.6.142857,6.4.142857-23.9.142857,16.0.142857,2.8.142857,3.6.142857-31.5.142857-15.3.142857,18.3.142857-.5.142857,1.1.142857,21.1.142857-5.0.142857,40.2.142857-42.6.142857,4.6.142857,10.8.142857-5.6.142857,21.8.142857-49.7.142857,27.7.142857,17.8.142857-63.7.142857,22.9.142857-15.6.142857,18.5.142857,5.7.142857,21.5.142857-26.6.142857,31.2.142857-22.3.142857-6.9.142857-3.5.142857-2.5.142857,3.1.142857-8.0.142857,15.1.142857,14.4.142857-28.6.142857,19.5.142857-13.9.142857,19.1.142857-6.3.142857,18.1.142857-4.3.142857-11.9.142857-.6.142857,1.3.142857-9.4.142857,33.6.142857-40.7.142857,24.3.142857-20.8.142857-1.2.142857,23.9.142857-19.3.142857,7.6.142857,23.8.142857-11.4.142857-19.2.142857,18.8.142857-4.6.142857-3.7.142857-12.6.142857,27.1.142857,.4.142857-28.2.142857-8.7.142857,21.7.142857-9.1.142857-3.5.142857,11.6.142857-2.7.142857-11.7.142857-1.6.142857-5.7.142857,17.1.142857-17.4.142857,18.5.142857,13.2.142857-36.4.142857,39.3.142857-3.4.142857-29.1.142857,38.8.142857-33.9.142857-7.9.142857,10.6.142857-16.8.142857,51.2.142857-26.2.142857,3.0.142857,9.7.142857-26.5.142857,2.1.142857,9.0.142857-13.5.142857,19.3.142857-11.9.142857,2.3.142857,9.7.142857-2.1.142857,6.0.142857-1.7.142857-8.7.142857,11.4.142857-5.4.142857-2.0.142857-20.7.142857,34.6.142857-33.8.142857,11.3.142857-11.6.142857,33.9.142857-23.9.142857,6.4.142857,19.6.142857-21.5.142857-5.8.142857,36.0.142857-31.2.142857-10.2.142857,9.1.142857-8.0.142857,22.9.142857-26.3.142857,9.0.142857,16.0.142857-16.8.142857-9.4.142857,47.0.142857-48.2.142857,38.6.142857-1.2.142857-23.0.142857,11.0.142857,1.3.142857-20.2.142857,29.0.142857-8.1.142857-17.7.142857-8.1.142857,33.1.142857-6.3.142857-21.3.142857,39.3.142857-11.0.142857-21.2.142857,8.2.142857,17.8.142857-12.9.142857,9.0.142857-13.8.142857,18.4.142857-20.0.142857,2.7.142857-5.1.142857,7.1.142857,1.0.142857,3.1.142857,.4.142857-11.2.142857,19.1.142857-31.0.142857,23.7.142857,1.1.142857,1.4.142857-7.4.142857-5.4.142857,11.5.142857,1.0.142857-4.3.142857,13.3.142857-46.7.142857,42.6.142857-35.2.142857-7.2.142857,13.0.142857,13.5.142857-2.4.142857-10.4.142857,12.9.142857,7.7.142857-4.7.142857,.8.142857-12.9.142857,7.6.142857-6.3.142857,15.1.142857-28.0.142857,40.7.142857-4.1.142857-24.0.142857,11.5.142857,8.9.142857-16.0.142857-.6.142857-18.9.142857,32.9.142857-5.8.142857-.8.142857-30.3.142857,14.3.142857,26.6.142857-10.0.142857,8.2.142857-23.2.142857-3.4.142857,34.9.142857-13.1.142857-2.3.142857-11.5.142857,.7.142857,14.4.142857,3.8.142857-23.4.142857-9.2.142857,44.9.142857-18.6.142857,18.4" fill="none" stroke="#00f" stroke-width="0.6" stroke-linejoin="bevel"/>
<path d="M224.9,596L225.2,536.5L225.5,596" fill="none" stroke="#f00" stroke-width="0.9"/>
<path d="M255.7,590L256.0,541.0L256.3,590" fill="none" stroke="#000" stroke-width="0.9"/>
<path d="M300.2,570L300.5,531.0L300.8,570" fill="none" stroke="#0f0" stroke-width="0.9"/>
<path d="M394.2,560L394.5,522.5L394.8,560" fill="none" stroke="#000" stroke-width="0.9"/>
<path d="M269.7,600L270.0,657.0L270.3,600" fill="none" stroke="#0f0" stroke-width="0.9"/>
<path d="M400.7,600L401.0,648.0L401.3,600" fill="none" stroke="#f00" stroke-width="0.9"/>
<path d="M413.7,605L414.0,650.0L414.3,605" fill="none" stroke="#0f0" stroke-width="0.9"/>
<path d="M443.7,600L444.0,645.0L444.3,600" fill="none" stroke="#f00" stroke-width="0.9"/>
<path d="M218.0,490.5H475.6M218.0,672.0H475.6" stroke="#000" stroke-width="2.0" fill="none"/>
<path d="M218.0,489.5V673.0M475.6,489.5V673.0" stroke="#000" stroke-width="3.0" fill="none"/>
<text transform="translate(195.47,674.61) scale(1.660,1)" font-size="7.40" fill="#000">175</text>
<text transform="translate(195.47,614.03) scale(1.660,1)" font-size="7.40" fill="#000">200</text>
<text transform="translate(195.47,553.57) scale(1.660,1)" font-size="7.40" fill="#000">225</text>
<text transform="translate(195.47,493.03) scale(1.660,1)" font-size="7.40" fill="#000">250</text>
<text transform="translate(214.97,679.75) scale(1.660,1)" font-size="7.30" fill="#000">0</text>
<text transform="translate(254.37,679.75) scale(1.660,1)" font-size="7.30" fill="#000">20000</text>
<text transform="translate(306.01,679.75) scale(1.660,1)" font-size="7.30" fill="#000">40000</text>
<text transform="translate(357.41,679.75) scale(1.660,1)" font-size="7.30" fill="#000">60000</text>
<text transform="translate(408.93,679.75) scale(1.660,1)" font-size="7.30" fill="#000">80000</text>
<text transform="translate(457.06,679.82) scale(1.660,1)" font-size="7.30" fill="#000">1e+005</text>
<text transform="translate(323.96,687.40) scale(1.486,1)" font-size="8.00">Time (ps)</text>
<text transform="translate(192.00,593.42) scale(1.700,1) rotate(-90)" font-size="7.47">Number</text>
<text transform="translate(183.11,690.80) scale(0.898,1)" font-size="21.54" font-weight="bold" fill="#000">E</text>
</svg>
</body></html>
